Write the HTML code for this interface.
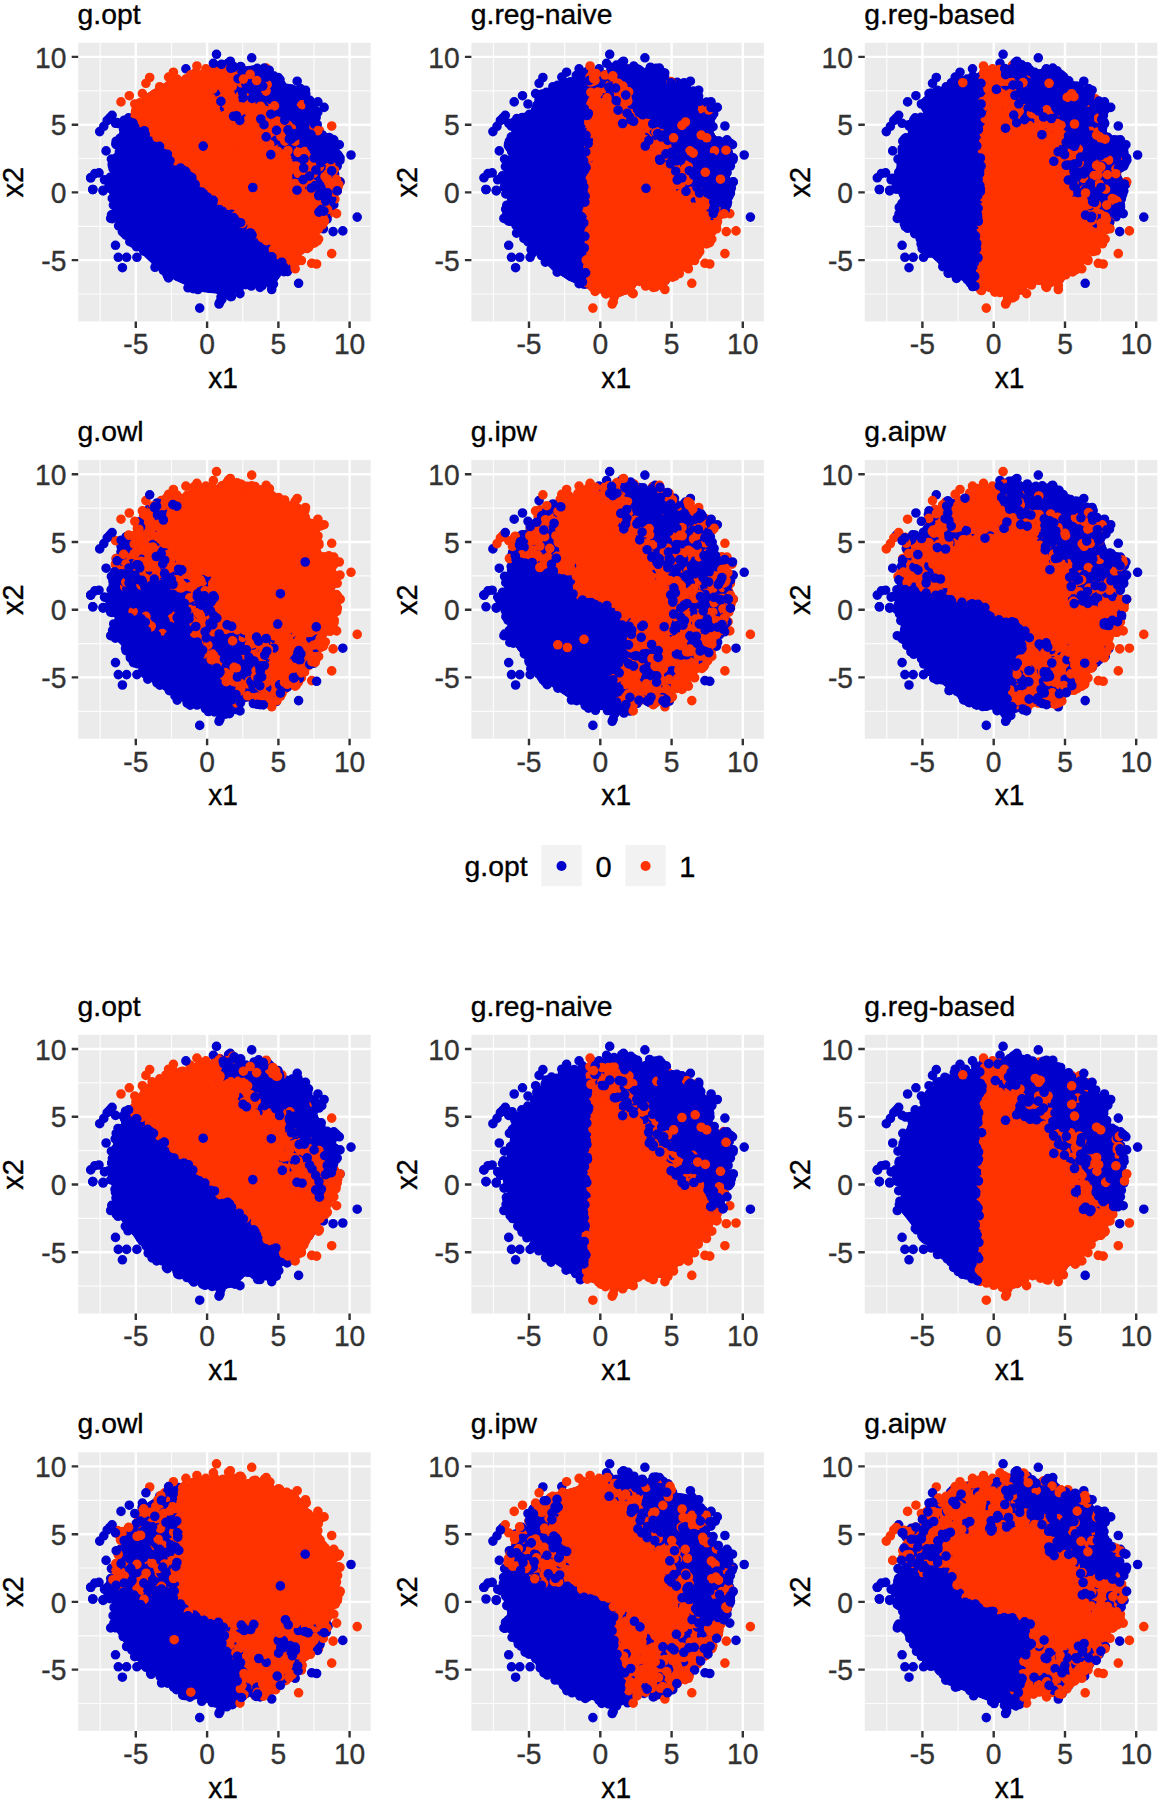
<!DOCTYPE html>
<html><head><meta charset="utf-8"><title>figure</title>
<style>
html,body{margin:0;padding:0;background:#fff}
svg{display:block}
text{font-family:"Liberation Sans",sans-serif}
.t{font-size:28.3px;fill:#000;stroke:#000;stroke-width:.35px}
.a{font-size:29px;fill:#000;stroke:#000;stroke-width:.35px}
.k{font-size:28.8px;fill:#333;stroke:#333;stroke-width:.35px}
</style></head><body>
<svg width="1160" height="1800" viewBox="0 0 1160 1800">
<defs>

<path id="mass" d="M106.9 180.1L109.7 189.7L114.3 200.4L114.5 200.9L114.7 201.4L114.8 201.9L114.8 202.4L114.8 203L114.7 203.5L112.4 217.6L119.8 226.7L119.9 226.8L129.5 239.2L129.6 239.3L137.6 250L148.2 260.6L158.9 269.9L174.7 280.5L189.3 287.1L203.7 292.4L215.4 293.7L216 293.8L216.5 293.9L217 294.1L217.4 294.3L217.9 294.6L218.3 294.9L218.7 295.2L222.3 298.8L222.6 298.6L223 298.4L223.5 298.2L236.2 293.1L243.7 285.6L244.1 285.2L244.5 284.9L245 284.6L245.5 284.4L246 284.2L246.5 284.1L247.1 284L247.6 284L248.1 284L248.7 284.1L261.5 286.7L274.9 284.4L281.8 275.1L282.2 274.7L282.6 274.3L283.1 273.9L283.6 273.6L296.9 266.3L300.4 257.2L300.6 256.7L300.8 256.3L301.1 255.8L301.4 255.4L301.8 255.1L302.2 254.7L312.3 247.1L317.2 238.6L321.2 230.6L325.3 221.1L325.6 220.5L325.9 220L329.6 215.1L333.3 205.2L336 191.9L336.1 191.4L336.8 189L337 188.5L337.2 188L337.5 187.5L337.7 187.2L338 184.7L338.2 184.1L338.5 183.1L338.5 182.8L338.5 182.4L338.3 182.1L338.1 181.6L338.1 181.5L338 181.5L337.7 181L337.4 180.6L335.3 177.1L335 176.6L334.8 176.1L334.6 175.6L334.5 175L334.5 174.5L334.5 173.9L334.6 173.3L334.7 172.8L334.9 172.3L337.5 165.7L339 159.8L336.5 154.7L336.2 154.2L336.1 153.7L336 153.2L335.9 152.6L335.9 152.1L335.9 151.6L336 151L336.2 150.5L337.8 145.5L334 141.6L323.7 136.5L323.3 136.2L322.9 135.9L322.5 135.6L322.1 135.2L321.8 134.8L321.5 134.4L321.3 134L321.1 133.5L316.9 122.4L316.8 122L316.6 121.4L316.6 120.9L316.6 120.4L316.6 119.9L316.7 119.4L316.8 118.9L317 118.4L317.2 117.9L317.5 117.5L321.2 111.8L319.1 107.6L310.6 101.5L310.2 101.2L309.8 100.8L309.4 100.4L309.1 99.9L305.3 93.6L299.5 87.8L292.8 84.5L284 83.2L283.5 83.1L283 83L282.6 82.8L282.1 82.5L281.7 82.3L281.3 81.9L268.2 70.9L260.8 68.2L247 70.1L246.4 70.2L245.9 70.1L245.3 70.1L244.8 70L244.3 69.8L243.8 69.6L243.3 69.3L234.6 63.9L232 64.9L231.5 65.1L231 65.2L230.5 65.3L230 65.3L221.6 65.3L210.4 71L209.9 71.2L209.4 71.3L208.9 71.4L208.4 71.5L207.9 71.5L207.4 71.5L195.3 70.3L183 77.1L182.4 77.3L181.8 77.5L167.3 81.5L155.6 88L145.6 94.3L139.8 102.4L135.9 114L135.7 114.5L135.4 115L135.1 115.5L134.8 115.9L134.4 116.3L133.9 116.7L133.5 117L133 117.2L132.5 117.5L131.9 117.6L119.2 120.5L117.6 123.4L120.4 129.1L120.7 129.6L120.8 130.1L121 130.7L121 131.3L121 131.8L121 132.4L120.8 132.9L120.7 133.5L116.8 143.9L114.8 159.8L114.7 160.3L114.6 160.7L114.4 161.2Z"/>
<clipPath id="mc"><use href="#mass"/></clipPath>
<g id="fr"><rect x="78.2" y="42.8" width="292.5" height="278.6" fill="#EBEBEB"/><path d="M100.2 42.8V321.4M78.2 294H370.7M171.5 42.8V321.4M78.2 226.3H370.7M242.7 42.8V321.4M78.2 158.5H370.7M314 42.8V321.4M78.2 90.8H370.7" stroke="#fff" stroke-width="1.2" stroke-opacity=".85" fill="none"/><path d="M135.8 42.8V321.4M78.2 260.1H370.7M207.1 42.8V321.4M78.2 192.4H370.7M278.4 42.8V321.4M78.2 124.7H370.7M349.6 42.8V321.4M78.2 56.9H370.7" stroke="#fff" stroke-width="2.4" fill="none"/><path d="M135.8 321.4v6.5M78.2 260.1h-6.5M207.1 321.4v6.5M78.2 192.4h-6.5M278.4 321.4v6.5M78.2 124.7h-6.5M349.6 321.4v6.5M78.2 56.9h-6.5" stroke="#333" stroke-width="2.4" fill="none"/></g>
</defs>
<rect width="1160" height="1800" fill="#fff"/>
<g transform="translate(0 0)">
<use href="#fr"/>
<text class="k" transform="translate(135.8 354.2) scale(0.98 1.04)" text-anchor="middle">-5</text><text class="k" transform="translate(66.4 270.8) scale(0.98 1.04)" text-anchor="end">-5</text><text class="k" transform="translate(207.1 354.2) scale(0.98 1.04)" text-anchor="middle">0</text><text class="k" transform="translate(66.4 203.1) scale(0.98 1.04)" text-anchor="end">0</text><text class="k" transform="translate(278.4 354.2) scale(0.98 1.04)" text-anchor="middle">5</text><text class="k" transform="translate(66.4 135.3) scale(0.98 1.04)" text-anchor="end">5</text><text class="k" transform="translate(349.6 354.2) scale(0.98 1.04)" text-anchor="middle">10</text><text class="k" transform="translate(66.4 67.6) scale(0.98 1.04)" text-anchor="end">10</text><text class="a" transform="translate(223 388) scale(0.97 1.04)" text-anchor="middle">x1</text><text class="a" transform="translate(23.3 182.3) rotate(-90) scale(1.0 1.03)" text-anchor="middle">x2</text>
<text class="t" transform="translate(77.6 23.7) scale(1.0 1.0)">g.opt</text>
<g fill="none" stroke-width="9.6" stroke-linecap="round">
<g clip-path="url(#mc)">
<use href="#mass" fill="#0000CD"/>
<path d="M214 30L400 30L400 240L345 228L342 210L338 195L331 191.7L324.1 177.9L318.6 164.1L307.6 150.3L296.6 136.6L282.8 129.7L271.7 111.7L252.4 102.1L245.5 85.5L227.6 67.6L222 45Z" fill="#0000CD"/>
<path d="M214 30L222 45L227.6 67.6L245.5 85.5L252.4 102.1L271.7 111.7L282.8 129.7L296.6 136.6L307.6 150.3L318.6 164.1L324.1 177.9L331 191.7L338 195L342 210L345 228L335 232L331 220L326 203L318 188L303.4 177.9L296.6 164.1L271.7 157.2L262.1 136.6L241.4 122.8L227.6 102.1L220.7 74.5L210 45Z" fill="#FF3300"/>
<path d="M90 79L330 307L350 310L400 300L400 240L345 228L335 232L331 220L326 203L318 188L303.4 177.9L296.6 164.1L271.7 157.2L262.1 136.6L241.4 122.8L227.6 102.1L220.7 74.5L210 45L214 30L150 30L90 60Z" fill="#FF3300"/>
<path d="M210 45L220.7 74.5L227.6 102.1L241.4 122.8L262.1 136.6L271.7 157.2L296.6 164.1L303.4 177.9L318 188L326 203L331 220L335 232L325 245L316 222L306 200L290 185L270 172L252 150L232 135L216 110L208 80L200 50Z" fill="#FF3300"/>
<path d="M310.8 168.2L332.8 162.7L346.6 198.5L339.7 234.4L324.6 237.1L316.3 209.6L310.8 187.5Z" fill="#FF3300"/>
</g>
<path d="M329.7 143.3h0M113.8 197.5h0M252.1 236h0M282.6 262.1h0M216.5 54.3h0M107.2 120.5h0M285 178.6h0M236.8 118.1h0M327.7 159.3h0M156.6 143.7h0M163.3 270.3h0M320.1 177.2h0M307.6 173.7h0M141.7 132.5h0M106.1 150.9h0M273.2 95.2h0M148.8 139h0M267 159.9h0M104.5 179.8h0M273.6 114.3h0M245.5 83.2h0M342.8 230.9h0M328.5 161.2h0M116.7 144.8h0M282.1 127.5h0M146.2 134.5h0M276.1 112.8h0M271.6 254h0M351 155h0M357.2 217.1h0M273.5 108.4h0M272.3 111.3h0M233.9 218.9h0M255.1 100.3h0M295.4 140h0M302.9 142.8h0M317.2 197h0M263 126.2h0M184.5 173h0M326.9 202.1h0M253.1 237.9h0M287.8 103.6h0M195.7 287.9h0M245.3 99.2h0M131.6 234.6h0M154.9 145h0M257.7 91.5h0M262.6 90.9h0M274.6 255h0M316.2 112.3h0M254.9 98.3h0M121.8 142.3h0M277 123.9h0M239.8 72.1h0M285.9 267.4h0M266.2 249.8h0M255.6 101.8h0M308.1 182h0M265.2 247.1h0M330.5 157.7h0M249.2 104.4h0M305.8 94h0M292 132h0M337.2 166h0M317.5 164.5h0M255.1 129.1h0M332.6 147.7h0M122.4 267.7h0M226.6 119.1h0M236.8 117.7h0M306 142.2h0M282.2 178.2h0M322.1 137.7h0M279.3 82.6h0M326.9 159.6h0M283.7 87.8h0M117 162.4h0M327.2 191h0M265.7 248.5h0M278.3 121.2h0M276.2 111.7h0M271.7 289.5h0M233 78h0M258.5 104.7h0M276.7 117.6h0M316.1 189.4h0M177.5 166.5h0M138.3 126.2h0M287.1 128.6h0M333.1 231.6h0M234.6 73.2h0M266 252.5h0M288 129.1h0M278.8 117.5h0M329.9 191.7h0M240.7 84.2h0M333.8 204.7h0M158.3 150.5h0M219.3 90.7h0M227.2 64.1h0M328.5 199.2h0M112.3 198.4h0M319.6 167.2h0M251.7 237.1h0M338.9 181.5h0M266.6 71.1h0M112.4 166.1h0M299 142.7h0M240.4 80.6h0M149.9 138.5h0M300.3 138.3h0M231.9 71.4h0M260 287.4h0M252.1 239.9h0M281.6 261.1h0M155.3 142.8h0M310.4 182.7h0M287.3 94.9h0M300.2 183.3h0M240 293.6h0M240.4 116.6h0M136.5 246.8h0M119.6 204.4h0M323.2 159.4h0M177.2 162.4h0M240.7 66.6h0M300.2 140.1h0M177.9 165.9h0M113 168.5h0M257.8 239.1h0M277.8 120h0M280.7 264.6h0M305 144.2h0M328.3 148.8h0M238.7 90.6h0M267.2 139.1h0M291.5 133.9h0M110.5 188.7h0M318 212.2h0M103.1 190.2h0M299.2 165.8h0M262.2 285.5h0M216.4 90.6h0M296.3 96.4h0M153.5 139.4h0M251.7 57.8h0M286.1 179.2h0M313.9 173.5h0M280.9 106h0M320.6 185.3h0M308.2 102.9h0M280 113.4h0M255.3 130.3h0M283.6 141.5h0M243.2 228.7h0M280.4 119.8h0M298.6 283.3h0M293.9 179.4h0M94.8 173.6h0M138.4 127.3h0M279.1 122.1h0M118.9 198.2h0M265 105.7h0M332 194.4h0" stroke="#0000CD"/>
<path d="M143.8 128.4h0M185.4 164.8h0M295.4 165.2h0M145.9 83.3h0M168.6 77.1h0M232.4 75.3h0M260.7 110.7h0M324.4 198.3h0M267.4 169.5h0M309.5 209.3h0M273.3 252.2h0M296.6 167.6h0M307.8 161.9h0M278 164.5h0M129.3 95.7h0M324.8 204.5h0M314 161.6h0M267.6 142.4h0M260 235.1h0M271.3 163.3h0M285.9 163.3h0M271.7 244.2h0M216.9 111h0M190.7 168.6h0M302.7 170.4h0M280.6 121.7h0M223.9 73.7h0M208.7 81.2h0M223.2 104.8h0M250.6 122.3h0M193.8 171.9h0M332.6 181.8h0M243.1 139.9h0M233.2 80.5h0M229.5 126.2h0M299.3 101.5h0M231.6 102.6h0M242.3 223.2h0M149.7 77.5h0M224.7 92.2h0M287 168h0M308.1 193.9h0M283.1 258.2h0M211 186.8h0M210.9 90.2h0M188.4 166.4h0M227.1 135.4h0M301.8 169.5h0M279 128.4h0M227.7 72.8h0M260.9 108.7h0M309.2 183.2h0M227.3 127.7h0M267.3 174.3h0M223.2 90.1h0M259.6 141.8h0M261.5 155.8h0M233.2 116.7h0M334.9 199.2h0M214.3 190.3h0M134.8 104h0M307.1 169.4h0M216.8 75.7h0M315.8 172h0M272.8 174h0M266.7 146.3h0M135.7 110.8h0M252.1 153.5h0M237.7 114.5h0M298.8 190.4h0M264.7 148.1h0M314.6 242.9h0M186.9 170.5h0M234.3 210.5h0M281.6 162.7h0M289.7 162.7h0M328.1 192.7h0M312.8 239.6h0M248.3 121.5h0M235.8 109.5h0M226.6 109.7h0M223.8 80.3h0M142.4 93.6h0M247 143.6h0M211.4 191.2h0M297.7 170h0M250.9 231.7h0M137.9 122.1h0M208.4 87.3h0M182.4 81.5h0M251.2 107.7h0M275.6 153.3h0M232.7 134.1h0M331.7 126h0M306.3 155.3h0M234.9 142.4h0M206.8 84h0M159.7 86.7h0M275.2 156.6h0M221.5 82.3h0M257.4 133.5h0M186.8 167.6h0M155.3 134.8h0M313.9 228.3h0M234.7 106.3h0M332.2 211.9h0M186.2 167.9h0M334.4 170h0M213.8 192.2h0M237.9 212.3h0M303 201.7h0M243.6 98.5h0M244.9 147.7h0M266.2 68.1h0M223.5 112.6h0M255.7 231h0M304.1 209h0M274.4 148.1h0M279.7 180.1h0M297.7 197.9h0M265.4 116.1h0M315.6 215.7h0M210.1 106.3h0M231.2 108.7h0M301.9 175.5h0M312.6 197.7h0M306.5 201.2h0M292.2 160.4h0M315.1 204.9h0M315.9 172.2h0M287.8 161.3h0M314.3 209.1h0M226.4 71.1h0M275.1 161.5h0M285.6 261.6h0M173.4 72.2h0M304.9 202h0M325.4 178.7h0M217.9 196.9h0M221.3 119.9h0M174.5 152.1h0M231.3 101.4h0M287.8 132.3h0M236.8 114.8h0M171.6 82.8h0M313.4 172.8h0M279.9 125.3h0M228 205h0M287.3 159.5h0M262.1 144h0M199.7 176.3h0M287.2 182.8h0M283.9 156.9h0M251.3 226.5h0M212 102.7h0M286.2 179.4h0M314.4 216.3h0M197.9 74.8h0M318.6 198.1h0M328 214.5h0M231.6 104.5h0M286.5 185.5h0M209.4 93.1h0M279.8 258.5h0M263.1 165h0M270.1 154.8h0M181.1 164.1h0M242.6 123.7h0M325.7 188.2h0M205.4 87.1h0M303.5 152.5h0M296.6 261.6h0M276.9 173.7h0M280.9 178h0M218.2 85.6h0M308.3 245.9h0M281.2 129h0M175.6 158.9h0M230.6 72.4h0M291.5 128.5h0M234.7 117.1h0M229.2 99.2h0M147.5 128.5h0M222.5 122.7h0M319.4 226.7h0M270.5 246.4h0M273.8 157.1h0M207.5 187.7h0M233.1 118.8h0M203.4 82.2h0M270.3 171.6h0M244 143.2h0M269.6 166.4h0M275.2 181.2h0M309 158.6h0M275.3 120.7h0" stroke="#FF3300"/>
<path d="M272.5 146.1h0M293.2 138.3h0M317.8 214.4h0M268.4 108.6h0M213.4 88.8h0M292.7 194.2h0M260.9 126.5h0M297.2 145.5h0M193.5 170.7h0M225 103.2h0M293.8 183.2h0M250.4 120.4h0M276.2 127.8h0M272.4 174.3h0M215.8 96.1h0M336.6 213.6h0M329.7 186.7h0M210.9 85.6h0M267.9 243.5h0M227.7 135.7h0M307 215.4h0M287.6 165.6h0M258.7 236.4h0M229.6 74.9h0M232.7 135.1h0M266.9 165.9h0M291.2 187.8h0M213.8 88h0M265.6 150.8h0M245.1 142.3h0M242.1 115h0M212.2 187.6h0M262.8 137.3h0M277.8 159.3h0M331.5 189.5h0M314.2 218.4h0M220.5 114.3h0M311.4 199.5h0M323.9 183.9h0M279.8 179.3h0M306.4 198.2h0M195.2 72.9h0M260.5 129.9h0M146.8 127h0M275.5 148.5h0M250.5 230.8h0M304.9 168.7h0M289.7 161.6h0M231.4 74.7h0M189.5 78h0M230 102.1h0M310.8 150.8h0M314.9 230.7h0M290 159.7h0M212.3 191.8h0M314 181.2h0M312.9 241.8h0M315.8 179.9h0M304.4 194h0M312.3 197.7h0M309.7 198.7h0M276.3 123.1h0M255.2 147.3h0M296.3 193.7h0M241.3 147.5h0M311 220.8h0M265.3 107.1h0M277.1 249.8h0M249.6 143h0M221.6 77.1h0M326.5 175.9h0M329.4 168.2h0M224.9 124.2h0M322.9 184.9h0M230.2 114.1h0M238 217.4h0M264.4 173.1h0M291.7 131.5h0M307 248.5h0M303.1 198.5h0M315.4 218.8h0M230.9 70.8h0M305.9 151.1h0M310.8 214.9h0M236.7 143.5h0M220.4 91.6h0M278.1 126.4h0M286.1 179.1h0M168.3 85.8h0M215.3 78.3h0M294.7 190.7h0M263.1 160.2h0M340 181.9h0M266 91.1h0M136 110.7h0M314.2 167.7h0M222.7 71.6h0M243.6 117h0M222.5 197.9h0M308.4 243.2h0M307.8 156.5h0M230 210h0M265.9 170h0M248.4 229.3h0M310.3 191.3h0M247.5 93.6h0M233.8 113.1h0M256.3 117.4h0M300.2 172.6h0M155 93.8h0M327.3 192.6h0M249.8 229.8h0M296.1 188.8h0M259.6 110.9h0M271.1 249.7h0M149.8 130.6h0M222.4 107.8h0M229.8 99.6h0M288.1 125.4h0M315 199.6h0M289.1 129.9h0M312.4 175.2h0M253.3 136h0M281.3 161.8h0M267.8 241.4h0M236.9 141.6h0M303.8 198.8h0M277.2 151.4h0M175.1 78.9h0M285.3 152.4h0M267.4 152h0M274.8 161.5h0M219.4 121.2h0M236.3 78.7h0M154.7 138.5h0M233.5 79h0M312.3 212.9h0M146.2 126.6h0M264.5 157.2h0M216.5 196.6h0M233.4 130.5h0M307.9 167h0M314.6 161.9h0M282.8 174.4h0M210.8 91.3h0M176.8 154.6h0M326.6 205.1h0M267.2 84.6h0M262 160h0M202.1 74.3h0M319.4 130.5h0M223.9 99.6h0M261.2 144.9h0M266 147.5h0M302.6 164.1h0M287.4 168.8h0M307.5 168.4h0M310 194.4h0M262.8 145.8h0M186.3 164.5h0M279.9 131h0M296.5 195.6h0M192.8 176.1h0M276 156.2h0M227.3 205.6h0M315.1 217.1h0M242.1 145.5h0M266.5 173.9h0M265.8 146h0M308.5 165.8h0M331.7 253.6h0M241.5 148h0M247 149.4h0M230.4 68.5h0M314 127h0M263.8 172.9h0M324 221.2h0M142.3 123.9h0M214.9 112.8h0M314.2 207.2h0M301.5 172.6h0M252.7 145.4h0M294.4 165h0M260.6 240.9h0M276.3 169.8h0M214.9 67.5h0M284.4 186.7h0M281.6 156.5h0M251.6 105.1h0M223 88.5h0M294.9 159.5h0M309.6 156.2h0M260.9 109.2h0M145.3 126.3h0M297.9 260h0M177 82.4h0M216.8 76.9h0M312.1 208.7h0M313.9 222h0M297.3 190.5h0M260.1 108h0M294.5 161.4h0M228.7 69.3h0M204.3 86.4h0M294.2 196h0M152.2 133h0M265 140.4h0M222 79.4h0" stroke="#FF3300"/>
<path d="M292.3 103.2h0M171.4 163.9h0M220 301.9h0M237.2 222.8h0M276.8 113.6h0M282.1 126.2h0M185.9 68.8h0M316.6 156.8h0M296.9 176.6h0M326.5 189.5h0M143.7 251h0M233.3 66.2h0M241.2 92.5h0M115.5 123.3h0M283.8 267.1h0M239.3 287.8h0M206.3 195.7h0M255.3 102.6h0M323.5 167.4h0M284.4 91.6h0M228.6 62.6h0M120.1 139.9h0M289.8 102.8h0M322.4 135h0M322.9 185.2h0M324.7 212.2h0M320.7 160.3h0M123.4 134.7h0M230.3 61.2h0M305.5 90.2h0M325.7 213h0M329.2 137.6h0M274.6 113.2h0M248.2 91.8h0M116.4 217.2h0M279.3 118.8h0M271.4 252.2h0M239.7 284.2h0M331.7 198.9h0M250.2 94.8h0M304.1 90.7h0M245.9 79.4h0M241.5 227.3h0M190.4 283.7h0M249.9 233h0M300.5 88.6h0M297.5 180h0M334.6 174.2h0M337.6 154.5h0M227.7 214.6h0M297.2 91.4h0M323.4 207.3h0M247.8 70.7h0M273.5 284.1h0M236.1 83.8h0M278 127.5h0M214.1 200.6h0M324.1 107.4h0M307.6 144.9h0M154.4 141h0M160.9 151.2h0M128.6 117.8h0M318.9 153.6h0M122.3 231.5h0M253.5 97h0M264.3 68.1h0M193 177.2h0M256.3 100.8h0M298.5 139.5h0M116.8 157.3h0M323.8 203h0M116.9 167.8h0M317 141h0M235 72h0M249.7 282.3h0M340 181.9h0M239.9 224.6h0M312.1 139.6h0M269.2 70.2h0M314.6 193h0M139.9 131h0M112.1 115.3h0M320.4 148.9h0M315.1 123.8h0M190.8 287.5h0M275.9 140.3h0M285.7 126.3h0M330.4 148.9h0M109.1 185.3h0M339.9 160.4h0M296.9 161.9h0M335.2 151.7h0M257.2 68.4h0M99.7 131.6h0M273.5 75.7h0M208.5 196.9h0M287.4 181.6h0M271.3 115.4h0M240.8 284.4h0M155 267.3h0M177.1 166.5h0M258.8 136h0M263.5 248.5h0M315.1 190.9h0M301.8 170.2h0M247.6 121h0M300.5 143.8h0M319.8 209.7h0M202.4 191.5h0M114.7 170.5h0M301.1 158.9h0M235 72.6h0M317.7 158.8h0M231.1 78.9h0M330.4 138.3h0M315 195.4h0M259.6 105.3h0M276 261.6h0M194.2 181.3h0M123.5 129.3h0M215.6 87.7h0M286.4 145.1h0M215.8 94.3h0M287.4 271.5h0M296.3 154.4h0M268 145.2h0M242.7 281.5h0M248.5 84.1h0M192.1 176.9h0M119.6 218.2h0M221 297.1h0M322.8 161.9h0M116.7 163.6h0M169.5 160.9h0M321.6 197.9h0M229.3 217h0M275 261.8h0M228.6 215.6h0M260.3 133.1h0M293.5 154.8h0M315.6 172.2h0M296.1 96.3h0M324.2 211.1h0M332.7 146.1h0M144.6 131.5h0M297.3 161.5h0M283.7 266.9h0M223.3 292.7h0M328.4 200h0M124.6 134.4h0M317.2 124.5h0M90.7 177.8h0" stroke="#0000CD"/>
<path d="M242.3 118.5h0M167.4 275.6h0M249.8 234.7h0M322.5 200.5h0M306.2 186h0M178.1 168.4h0M277.3 110.1h0M259.5 244.6h0M276.5 257.4h0M321 178.3h0M115.6 198.9h0M265.5 142.6h0M251 96.6h0M142.5 136h0M113.4 205.1h0M124.2 120.2h0M278.9 122.1h0M239.7 223.5h0M115.8 144.1h0M323.4 228.8h0M331.6 205.5h0M112.2 163.8h0M198 285h0M115.5 245.3h0M282.6 87.1h0M314.9 158.8h0M223.1 211.9h0M222.2 206.3h0M144.6 250.5h0M257.7 243.1h0M308.1 143.4h0M111.4 159.1h0M292.8 134.4h0M241.3 86.4h0M231.5 296.5h0M235.6 221.3h0M323.1 200.3h0M319.2 178.4h0M319.7 213.4h0M263.8 106.5h0M115.9 200.4h0M197.9 289.5h0M315.8 184.4h0M310.8 177.4h0M116.9 144.5h0M236.3 68.5h0M231.6 67.2h0M330.6 147.9h0M244.4 83.1h0M323.9 205.7h0M140.8 245.7h0M317.8 112.2h0M120.1 138.2h0M323.1 172.8h0M316.1 117.5h0M201.9 186.1h0M230.7 296.7h0M260.7 72.5h0M126.6 257.3h0M193.3 288.6h0M148.1 140.4h0M109.7 118h0M322.6 197.1h0M284.1 127.3h0M242.1 95.7h0M241.9 230.7h0M231.6 214.4h0M322.7 192.7h0M316.4 114.3h0M118.2 123.5h0M282.4 146.9h0M331.3 145.9h0M335.9 160.9h0M300.2 99.6h0M281 84.5h0M176.7 168.7h0M249.8 70.6h0M122.6 222.1h0M157.4 144.8h0M264.9 249.6h0M338.5 155.9h0M234.1 121h0M322.7 190.5h0M245.8 284.7h0M163.4 155.6h0M278.5 119.3h0M249.4 85.8h0M327.8 196.4h0M136.9 257.3h0M147.7 136.1h0M238.9 70.7h0M265.5 69.9h0M302.8 147.3h0M92.8 189.5h0M318.2 168.7h0M284 271.7h0M324.4 160.3h0M175.6 163.2h0M266.9 70.5h0M269.2 150.8h0M188 287.8h0M120.3 159.7h0M307.9 144.7h0M262.8 86.1h0M298.1 158.3h0M113.5 188.6h0M218.9 206.7h0M320.2 188.4h0M233.1 215.9h0M318.8 163.1h0M314.8 184.1h0M291.6 145.7h0M124.1 233.3h0M208 192.2h0M223.6 110h0M243 99.3h0M213.9 202.6h0M253.7 91.6h0M253.1 70.1h0M125.8 235.2h0M242.6 225.7h0M315.9 190.6h0M246.8 123.6h0M316.9 113.7h0M237.5 120.7h0M316.8 182.9h0M149.2 141.4h0M302.1 159.5h0M187.1 177.9h0M129.8 241.7h0M256.3 130.2h0M339.3 144.7h0M250.1 93.4h0M223.5 83.7h0M308 180.4h0M271.1 144.5h0M133.7 122.5h0M161.9 151.9h0M314.6 124.4h0M318.8 195.8h0M313.7 150.1h0M111.5 214.8h0M135.5 126.9h0M140.8 133.6h0M132.9 243.2h0M288.1 130.9h0M164.1 269.4h0M278.2 77.5h0M264.9 75.6h0M124.5 120.6h0M229.9 215.2h0M200.4 189.7h0M277.4 117.4h0M167.9 155.1h0M322.8 173.1h0M250.8 92h0M177.4 166h0M327.1 219h0M103.8 126.3h0M269.6 254.7h0M281.3 124.5h0M123.7 136.2h0M115.3 206.7h0M127.7 234.8h0M253.3 95.7h0M262.9 106.1h0M267.6 249.1h0M115.9 163.2h0" stroke="#0000CD"/>
<path d="M218.2 200.6h0M142.5 127.4h0M317.1 238.3h0M276 122.8h0M237.3 216.1h0M213.1 114h0M330.8 164.8h0M250.8 101.4h0M300.7 186.6h0M225.1 119.4h0M309.4 154.3h0M224.6 115.5h0M249.7 108.8h0M216.3 112.4h0M239.2 80.7h0M296.3 166.2h0M291.9 166.1h0M325 176.6h0M279.9 129.6h0M333.5 170.5h0M308.3 168.8h0M285.7 162h0M314.4 228.1h0M137.2 121.7h0M283.5 259.6h0M262.1 140.2h0M243.5 218.8h0M217.7 74.1h0M251.4 150.6h0M304.7 151.5h0M266.6 166.7h0M187.6 168.5h0M241.9 218.6h0M267.3 168.6h0M297.4 256.8h0M145.6 128.2h0M215.2 115.5h0M338.7 184.5h0M276.3 251h0M317.5 240.9h0M221.5 78.7h0M292.7 138.6h0M226.3 70.9h0M236.5 121.5h0M274.7 150.8h0M237.5 123.3h0M291 166.3h0M233.8 110.4h0M284.5 186.9h0M176.9 79h0M212.5 102.4h0M260.3 164.5h0M300.4 201.7h0M193.5 172.1h0M273.4 249.4h0M281.7 160.8h0M216.8 84.9h0M233.6 119.1h0M309.2 180.4h0M222.8 204.8h0M279.4 258.3h0M226.7 75h0M308.2 154.7h0M176.7 161h0M140.8 105.6h0M213.9 193h0M191.8 78.3h0M320.5 199.8h0M284.8 141.2h0M336.3 179.4h0M309.3 201.6h0M209.8 103.3h0M226.3 92.2h0M187.8 167.2h0M267.4 135.2h0M271.3 174.8h0M121 101.9h0M251.9 145h0M235.2 139.3h0M306.6 175.3h0M257.4 137.2h0M265.8 163.6h0M308.5 217.5h0M213.5 81.2h0M282.1 182.9h0M281 257.6h0M190.7 74.9h0M209.2 71.1h0M273.7 152.9h0M161.4 145.5h0M295.9 166h0M186.2 78.7h0M316 228h0M286.7 186.7h0M331.9 185.2h0M283.6 185.2h0M221.7 86.3h0M165.9 143.6h0M265 159.6h0M231.5 128.3h0M207.4 78.6h0M317.8 226.6h0M309.7 158.3h0M174 151.4h0M252.8 124.1h0M230.2 104h0M302.1 170.1h0M256.7 111.4h0M214.6 109.6h0M172.9 154.3h0M295.6 140.9h0M285.3 183.5h0M228.7 94.6h0M233.3 131h0M267.8 174.8h0M254 146.3h0M196.9 66h0M222.9 118.8h0M312.5 243.3h0M308.9 247h0M227.5 105.2h0M286.1 182.9h0M300.6 198.7h0M211.3 98.2h0M249.1 104.4h0M253.6 132.4h0M239.8 218.7h0M310.1 242.9h0M310.7 212.5h0M294 262.1h0M240.3 145.6h0M206.9 184.2h0M190.9 171.8h0M317.9 130.6h0M176.7 155.1h0M269.8 144.5h0M302.7 192.8h0M177.4 83.6h0M317.9 217.6h0M233 104.2h0M274.5 128.3h0M334.8 189.2h0M323.3 218.2h0M237.1 122.2h0M229.4 137.8h0M298.1 152.4h0M264.1 162h0M287.5 163.1h0M240.4 128.8h0M223.3 73.3h0M231.4 125.4h0M259.2 153.4h0M262.8 156.2h0M259.3 164.1h0M241.6 106.7h0M306.6 172.6h0M234.1 67.8h0M281 136.7h0M264.6 111.8h0M228.4 82.5h0M307.8 151.5h0M226.7 127.7h0M263.7 158.7h0M231.1 116.3h0M226.1 104h0M269.9 110.9h0M287.6 177.2h0M274.7 122.6h0M324.5 221h0M315.4 206h0M272.2 180h0M308.3 175.1h0M310 184.3h0M318.6 239.1h0M228 70.7h0M236 109.7h0M237.2 140.2h0M242.2 136.7h0M216.3 197.4h0M278.4 175.6h0M255.5 141h0M333.6 185.6h0M317.2 198.6h0M248.1 129.5h0M221.1 70.5h0M276.9 175.3h0M310.9 169.8h0M192.3 169.1h0M255.7 116.4h0M202.1 182.6h0M329.2 192.2h0" stroke="#FF3300"/>
<path d="M228.5 109.1h0M315.1 210.7h0M159.3 144.6h0M287.9 150.5h0M271.7 129.9h0M316.6 264h0M308 170.9h0M266.4 240.7h0M274.7 251h0M246.2 97.8h0M140.9 112.4h0M210.6 103.6h0M307.7 207.9h0M222.7 80.8h0M217 196.6h0M311.5 200.2h0M301.7 198.7h0M197.5 174.1h0M295.1 183.5h0M281.5 160.5h0M184.5 162.5h0M278 151.4h0M314.9 168.1h0M320.9 197.5h0M208.7 83.6h0M253 135.6h0M266.7 169h0M228.1 69.9h0M318.4 229.2h0M324.7 184.7h0M313.9 230.3h0M256.3 155.6h0M310.3 156.8h0M327.6 209.7h0M308.6 164.8h0M308.1 163.6h0M244.5 137.7h0M234 135.1h0M205.9 68.8h0M257.8 144.9h0M219 119.4h0M267.2 240.2h0M285.1 124.9h0M223 129.3h0M219.4 66.1h0M315.3 215.4h0M210.5 99h0M231.2 131.2h0M271.3 168.4h0M314.7 200.5h0M301.4 260.5h0M329.1 191.2h0M306.8 200.7h0M265.5 152.7h0M160.9 141.3h0M309.4 194.7h0M232.4 86.3h0M334.5 192.1h0M265.9 169.1h0M251 131.8h0M257 162.5h0M239.9 111.5h0M310.3 242.3h0M154.9 94.2h0M305.9 209.6h0M250.5 137.5h0M284.5 172.6h0M294.1 194.2h0M295.2 268.8h0M276.2 250.8h0M310.6 190.6h0M212.7 79h0M243.8 127.3h0M274.5 105.9h0M212.9 89h0M262 237.6h0M151.3 130h0M292 184.6h0M286.7 157.9h0M268.4 115.5h0M222.5 98.3h0M294.9 141.2h0M243.3 127h0M191.8 174.2h0M215.2 109.5h0M207.7 92h0M157.1 137.5h0M277.5 121.1h0M276.3 155.9h0M242 140.6h0M302.2 104.7h0M259.6 161.4h0M278.2 157.3h0M335.9 186.4h0M330.2 168.2h0M263.3 171.7h0M263.7 146.2h0M248.4 119.3h0M281 154.1h0M228.9 102.5h0M219 100.6h0M322.3 224.9h0M332.1 169.2h0M325 204.4h0M240.6 221.7h0M135.4 113.5h0M274.2 171h0M259.6 138.5h0M306.2 195.2h0M278.5 251.6h0M298.2 173.3h0M145.2 130.2h0M259.5 159.3h0M242.2 223.4h0M313.9 186.4h0M311.6 206.3h0M231.8 110.8h0M247.9 121.5h0M145.3 101.5h0M164.2 146.2h0M248.5 148.2h0M139.8 102.8h0M152 132h0M235.3 104.5h0M313.5 168.9h0M273.9 150.8h0M269.2 129h0M311.7 263.3h0M221.5 203.5h0M280.6 134.3h0M201 181.4h0M207.8 86.4h0M211.8 74.3h0M306.3 151.8h0M309.8 164.4h0M337.2 190.9h0M264.1 132.7h0M229.9 111.8h0M242.4 219.9h0M212.2 190.8h0M273.5 176.3h0M310.2 183.5h0M319.4 166.9h0M322.1 219.5h0M268.6 111h0M135.2 116.9h0M289.3 190.2h0M240 95.9h0M259.4 130.1h0M313.4 173.3h0M212.7 189.2h0M263.8 109.7h0M148.6 128.8h0M209.1 186.2h0M327.9 173.7h0M230.8 116.5h0M265.6 136.1h0M338 187.1h0M238.1 140.9h0M253.8 107.9h0M233.5 75.4h0M286 159.8h0M317.7 217.2h0M313.2 184.4h0M217.4 72h0M229.8 131.3h0M323.1 223.2h0M267.2 149.5h0M241.3 82.9h0M327.6 160.9h0M230.7 129.3h0M227 205.2h0M314.8 162.1h0M223.5 73.3h0M195 173h0M234.9 138.3h0M244.8 219.9h0M219.3 77.2h0M174 154.7h0M229.7 93h0M183.7 161.2h0M259.9 167.2h0M181.4 161.2h0M256.9 163.8h0M236 78.3h0M235.6 215.8h0M268.7 113.6h0M136.3 118.2h0M267 153.8h0M257.6 128.2h0M303.3 207h0M260.6 106.2h0M264.7 170.8h0M312.4 167.1h0M250.6 147.8h0M310.5 155h0M208.7 90h0M232.7 135.4h0M220.9 68.9h0M271.6 152.1h0M263.9 168.8h0M258.3 232h0M302.1 203.1h0" stroke="#FF3300"/>
<path d="M333.5 143.9h0M271.9 256.8h0M326.4 141.6h0M280.6 266.3h0M314.3 150.9h0M183.5 170.4h0M116.8 169.1h0M243 97.6h0M251.3 286h0M222.6 211.4h0M246 84.3h0M213.4 63.3h0M311.3 188h0M207.7 197.4h0M281.9 112.6h0M318.9 156.6h0M124.3 133.2h0M300.5 135.1h0M323.6 151.8h0M303.7 168h0M294.7 136.4h0M331.7 170.9h0M169.9 160.7h0M156.2 263.9h0M189.2 176h0M288 129.9h0M270.8 114.2h0M279 263.7h0M276.5 130.4h0M284.7 120.2h0M117.1 122.6h0M180.9 169.4h0M207.3 197.1h0M112.3 218.7h0M291 133.9h0M238.9 287.1h0M327.7 192.9h0M272 259h0M199.7 308.1h0M289.3 139h0M185.7 171.4h0M310.3 101.4h0M240.7 66.7h0M337.2 190.9h0M315.1 185.6h0M251.6 236.1h0M126.1 123.3h0M325.9 141h0M117.9 195.9h0M318.7 195.8h0M219.5 209.6h0M118.3 257.3h0M303.2 179.6h0M311.8 146.8h0M163.8 153.6h0M236.7 115.8h0M213.3 200.3h0M323.9 211.1h0M113.4 191.5h0M270.6 283.9h0M110.7 218.4h0M159.6 146.3h0M251 233.3h0M240.6 222.7h0M333.8 139.8h0M309.9 107.5h0M145.2 134.4h0M321.2 209.6h0M310.9 134.3h0M221.5 64.4h0M309.9 100.4h0M252.1 235.1h0M196.4 288.6h0M124.5 135.3h0M321 188h0M253.1 91.4h0M280 79.7h0M212.8 203.2h0M282.2 265.7h0M133.1 123.1h0M92.8 189.5h0M119.4 151.8h0M233.6 67.4h0M239.8 120.4h0M325.7 201.1h0M304 141.3h0M264 124.7h0M315.9 170h0M137.4 131.1h0M166.8 273.7h0M238.1 78.7h0M310.8 103.3h0M297.2 81.2h0M90.7 177.8h0M230.8 68.3h0M252.1 98.4h0M158.7 264.2h0M99 172.9h0M249.7 72.6h0M110.1 177.3h0M168.5 277.9h0M242.5 92.3h0M318.9 212.1h0M222 299.1h0M248.3 80.6h0M164.8 156.5h0M134.7 127h0M266.2 136.9h0M314.1 158h0M191.8 177.5h0M323.8 193.1h0M323.5 159.7h0M225.2 294.4h0M308.5 101.3h0M114.4 190.1h0M219 304h0M260.8 119h0M320.7 162.7h0M281.8 262.2h0M189.8 179.8h0M257.8 87h0M180.5 168h0M304.1 158.9h0M159.2 152.3h0M265.9 77.3h0M309.5 176.1h0M310.8 102.2h0M340 157.8h0M318.9 158.1h0M220.9 101.4h0M291.2 139.2h0M129.4 121.9h0M252.4 75.9h0M281 84h0M233.4 217.5h0M118.3 210.6h0M233.5 116.3h0M195.2 184.4h0M118.6 225.8h0M103.1 190.9h0M279.5 85.1h0M144.3 130.7h0M113.6 160.4h0M160.1 150.4h0M116.2 141.2h0M326.8 154.7h0M155.5 146.6h0M270.8 154.6h0M281.3 264.1h0M296.1 133.6h0M167.4 154.2h0M327.5 198.8h0M317.9 101.9h0M319.9 185.5h0M330.9 159.7h0M234.8 219.3h0" stroke="#0000CD"/>
<path d="M250.1 74.4h0" stroke="#FF3300"/>
<path d="M252.8 187.5h0" stroke="#0000CD"/>
<path d="M297 190.2h0" stroke="#0000CD"/>
<path d="M203.2 146.1h0" stroke="#0000CD"/>
<path d="M256.6 80.5h0" stroke="#FF3300"/>
<path d="M243.4 79.1h0" stroke="#FF3300"/>
</g></g>
<g transform="translate(393.2 0)">
<use href="#fr"/>
<text class="k" transform="translate(135.8 354.2) scale(0.98 1.04)" text-anchor="middle">-5</text><text class="k" transform="translate(66.4 270.8) scale(0.98 1.04)" text-anchor="end">-5</text><text class="k" transform="translate(207.1 354.2) scale(0.98 1.04)" text-anchor="middle">0</text><text class="k" transform="translate(66.4 203.1) scale(0.98 1.04)" text-anchor="end">0</text><text class="k" transform="translate(278.4 354.2) scale(0.98 1.04)" text-anchor="middle">5</text><text class="k" transform="translate(66.4 135.3) scale(0.98 1.04)" text-anchor="end">5</text><text class="k" transform="translate(349.6 354.2) scale(0.98 1.04)" text-anchor="middle">10</text><text class="k" transform="translate(66.4 67.6) scale(0.98 1.04)" text-anchor="end">10</text><text class="a" transform="translate(223 388) scale(0.97 1.04)" text-anchor="middle">x1</text><text class="a" transform="translate(23.3 182.3) rotate(-90) scale(1.0 1.03)" text-anchor="middle">x2</text>
<text class="t" transform="translate(77.6 23.7) scale(1.0 1.0)">g.reg-naive</text>
<g fill="none" stroke-width="9.6" stroke-linecap="round">
<g clip-path="url(#mc)">
<use href="#mass" fill="#0000CD"/>
<path d="M196.3 49.6L195.4 143.3L193.5 198.5L192.1 319.9L371.4 319.9L371.4 49.6Z" fill="#FF3300"/>
<path d="M197.7 49.6L197.7 71.6L222.5 74.4L236.3 93.7L247.3 107.5L263.9 124L269.4 140.6L280.4 154.4L291.4 165.4L299.7 184.7L313.5 198.5L330.1 209.6L346.6 217.8L371.4 217.8L371.4 49.6Z" fill="#0000CD"/>
<path d="M197.7 71.6L222.5 74.4L236.3 93.7L247.3 107.5L263.9 124L269.4 140.6L280.4 154.4L291.4 165.4L299.7 184.7L313.5 198.5L330.1 209.6L346.6 217.8L332.8 226.1L310.8 215.1L291.4 198.5L277.7 179.2L266.6 165.4L255.6 151.6L244.6 135.1L230.8 118.5L217 102L197.7 93.7Z" fill="#FF3300"/>
</g>
<path d="M304.3 182.4h0M244.6 110.7h0M307.1 187.3h0M129.3 95.7h0M193.6 139h0M253.9 113h0M111.8 186.9h0M330.1 192.3h0M339.3 144.7h0M245.3 69.5h0M134.9 241.9h0M194.2 162.5h0M123.1 128.5h0M357.2 217.1h0M228.6 114.2h0M273.7 141.9h0M193.7 153.9h0M124.6 127.4h0M277.9 84.7h0M293 105.6h0M189.4 165.2h0M190.8 274h0M120.5 122.3h0M192 181.8h0M203.7 75.1h0M248.2 114.8h0M205.9 68.8h0M194.7 154.7h0M286.2 159h0M189 282.1h0M190.3 227.9h0M189.4 237.5h0M194.2 78.4h0M254 140.8h0M113.2 219.4h0M240.5 66.1h0M316.5 116.1h0M192.2 124.2h0M293.1 168.6h0M279.7 84.8h0M191.1 73h0M106.1 150.9h0M162 266.5h0M115.4 221h0M260.1 71.8h0M279.9 140.9h0M173.4 72.2h0M295.5 144.4h0M308.5 185.6h0M256.1 111.5h0M293.3 88.1h0M224.8 73.2h0M193.9 71.6h0M292.9 86.9h0M246.5 100.6h0M276.6 175.6h0M192 224.6h0M235.7 90.1h0M118.4 200.5h0M121 101.9h0M115.5 245.3h0M259 119.6h0M186.1 80.8h0M337.2 190.9h0M236.8 98.8h0M286.2 110.9h0M334.6 184.8h0M284 83.4h0M191.2 83h0M283.7 181.2h0M192.2 203.3h0M301.2 183.6h0M191.9 225.4h0M189.6 214.1h0M192.3 260.2h0M139.4 116.1h0M228.6 82.2h0M317 135.9h0M319.4 173.6h0M270.2 78.1h0M192 214.3h0M284 187.9h0M274.8 143.9h0M325.3 141h0M230.1 81.1h0M243.9 68.8h0M289.9 127.3h0M99.7 131.6h0M242.8 73.2h0M318.8 116.3h0M317.8 191.7h0M190.7 119.8h0M192.7 204.3h0M340 181.9h0M316.4 195.2h0M257.8 113h0M321.4 200.3h0M287.8 187h0M314.2 123.3h0M284 82.4h0M128.6 117.8h0M192.8 172.1h0M283.6 85h0M192 145.8h0M279.3 82.6h0M337.2 190.9h0M195.6 108.7h0M295.2 181.6h0M297.5 176.3h0M317.1 217.2h0M279.8 146.5h0M112.1 115.3h0M110.7 218.4h0M219.8 86.3h0M188.4 193.2h0M194.1 136h0M307 103.4h0M259.9 121.5h0M267.8 139h0M190.3 246.6h0M307 194.9h0M227.3 80.4h0M193.7 104.7h0M297.1 176.9h0M234.1 92.8h0M246.6 74.8h0M94.8 173.6h0M282.8 163.4h0M189.4 263.9h0M192.1 112.8h0M228.5 80.2h0M190.5 94.8h0M189.9 283.8h0M199.9 87.2h0M315 120h0M211.3 95.9h0M112.5 209.2h0M324.1 203.8h0M221.4 78.8h0M288.5 155.3h0M116.2 141.2h0M279.4 146.4h0M304.8 185h0M337.2 193.3h0M195.6 83.9h0M111.8 184.6h0M188.4 266.3h0M131.5 118.9h0M223.7 107.8h0M164 272.2h0M148.3 255.6h0M188.2 228.1h0M122.7 225.3h0M92.8 189.5h0M246.4 100.9h0" stroke="#0000CD"/>
<path d="M318.2 231.4h0M247.1 144.7h0M194.1 189h0M199.6 140.5h0M198.1 263.1h0M195.5 232h0M342.8 230.9h0M307.8 208.6h0M197.7 142h0M197.7 101.6h0M226.4 103.2h0M291.5 174.3h0M221.9 100h0M321.5 216h0M195.7 113.8h0M295.7 183h0M236 96.9h0M250.5 139.9h0M196.9 170.7h0M297.7 197.2h0M282.2 168.1h0M282.6 182.2h0M308.7 218.8h0M195.8 122.9h0M271.3 170.8h0M200.8 139.8h0M251.4 144.1h0M243.1 115.9h0M254.7 122h0M281.8 276.1h0M198 273.7h0M272 166.5h0M229.1 121.5h0M254.7 123.6h0M224.2 108h0M199 140.1h0M292.6 262.3h0M296.4 173.9h0M198.6 184h0M226.1 113.6h0M303 255.9h0M287.8 195.1h0M230.2 123h0M257.5 153.6h0M292.3 196.1h0M212.9 293.4h0M234.2 121.5h0M244.1 140.3h0M237.4 284.4h0M290.8 171.3h0M301.1 255.8h0M201.9 291.4h0M198.7 199.6h0M267.5 174.2h0M284 164h0M218.1 100.4h0M199.5 178.6h0M289.4 201.9h0M266.4 157.9h0M196.8 268.7h0M238.7 292.6h0M197.4 196.8h0M307.3 108.7h0M194.7 272.4h0M197.4 271.1h0M223.2 103.3h0M293 177.1h0M268 166.7h0M216.1 73.7h0M306.2 217.3h0M246 119.8h0M205.2 93.6h0M196.1 194.3h0M218.7 99.5h0M199.9 89h0M306.5 251.5h0M235.7 128h0M294 178.4h0M226.9 85.9h0M239.7 134.6h0M313.3 243.9h0M236.1 290h0M297.3 190h0M262.1 287h0M307.1 207.3h0M207.9 92.1h0M204 93.4h0M221 107.3h0M248.8 147.7h0M258.4 125h0M196.5 148.2h0M285.9 167.3h0M200.1 153.4h0M196.6 134.3h0M279.4 277.1h0M294.1 203h0M226.3 86.8h0M250.4 153h0M282.1 191.7h0M195.1 269.1h0M315 213h0M268.9 285.3h0M246.1 142.6h0M293.2 170.8h0M197.5 270.2h0M287.7 196.6h0M197.5 149.3h0M265.7 155.3h0M269.2 286h0M205 91.1h0M199.3 123.8h0M263.2 144.9h0M195.8 210.7h0M199.3 131.9h0M258.2 123.4h0M196.4 202h0M327.1 207.6h0M231.3 290.3h0M216.3 103h0M285.8 165h0M287.1 197.3h0M247 145.6h0M256.3 152.4h0M302.5 213.4h0M202.8 74.6h0M198.2 198.6h0M285.9 186.2h0M299.8 203.5h0M193.8 280.5h0M228.3 96.7h0M199 78.8h0M221 297.1h0M307.2 194.6h0M246 125.4h0M314.5 237h0M304.5 215.4h0M281.4 188.1h0" stroke="#FF3300"/>
<path d="M294.1 195.7h0M261 127.6h0M298.4 186h0M196.6 198.6h0M207.6 100.5h0M313.7 211.3h0M296.8 150.8h0M198.8 193.5h0M201 123.9h0M307.8 214.3h0M291.9 266.9h0M223.4 117.5h0M231.9 90.2h0M196 245.7h0M271.7 289.5h0M197.1 226.2h0M272.9 152.9h0M308.3 243.2h0M209.6 87.3h0M232 87h0M229.3 92.2h0M271.6 168.7h0M286.4 196.5h0M199.3 82h0M196.7 128.9h0M271.8 168.9h0M296.6 188.5h0M306.5 246.7h0M290.6 171.9h0M244.3 104.1h0M195.9 122.7h0M199.3 72.9h0M206 91.6h0M256.2 156.9h0M336.6 213.6h0M194.2 205.5h0M250.8 279.1h0M210.6 103.7h0M199 97.9h0M244.7 134.7h0M200.2 151.2h0M231.4 107.9h0M298.6 283.3h0M254.1 145.3h0M331.7 253.6h0M197.3 272.2h0M223.5 102.8h0M230.7 121.7h0M197.3 172.4h0M241 124.1h0M242.1 134.1h0M282.9 190.7h0M197 283.6h0M262.1 124.1h0M196.1 155.6h0M241.7 119.9h0M293.4 266.7h0M198.4 183.7h0M294 263.7h0M269.6 167.2h0M305.9 214.5h0M332.8 206.2h0M195.6 243.4h0M242.7 138.3h0M311.7 198.3h0M221 98.9h0M327.3 214.6h0M293.2 200.9h0M192.9 273.5h0M295 166.7h0M286.2 161.5h0M227.6 123.2h0M231.2 113.5h0M307.1 206.8h0M257.6 123.8h0M197.8 227.6h0M315.4 217.5h0M313.2 201.6h0M196.6 94h0M197.6 275.5h0M195 167.2h0M294.7 198.4h0M226 111h0M225 115.7h0M333.1 231.6h0M250.6 114.4h0M201 109.4h0M254.2 143.3h0M212.7 293.7h0M292.2 177.2h0M257.2 144.9h0M201.1 78.8h0M199.2 287h0M313.3 238.5h0M193.6 232.1h0M250.1 142.3h0M324.3 221.6h0M274.2 178.6h0M233.5 101.3h0M197.2 131.2h0M308.7 198.8h0M299.7 191.3h0M291 175.2h0M212.7 293.9h0M312.8 218.5h0M238.4 285.1h0M236.4 99.9h0M196.9 66h0M222.8 110.5h0M286.9 167.6h0M316.8 224h0M247.2 119.7h0M317.6 231h0M196 210.3h0M251.6 279.7h0M200.2 148.7h0M220.2 74.6h0M253.6 131.4h0M298.4 253.6h0M226.4 82.4h0M196.3 175.2h0M261.9 127.3h0M294.9 258.9h0M253.9 152.4h0M196.3 119.7h0M258.8 157.6h0M262 284.5h0M307.4 217h0M197.2 132.3h0M277.5 173.6h0M271.2 280.4h0" stroke="#FF3300"/>
<path d="M152.1 262.1h0M191.2 180.9h0M325.3 203.7h0M149.3 95.6h0M268.9 74.4h0M320.9 197.9h0M241.9 98.1h0M194 172.4h0M115.9 208h0M293 89.4h0M226.5 79.4h0M312.2 176.8h0M192.3 231.1h0M123.8 132.4h0M232.6 84.2h0M257.2 67.2h0M249.8 107.7h0M297.9 115.1h0M275.4 156.5h0M260.7 124.7h0M294.2 182.5h0M177.8 276.3h0M263 125h0M336.1 187.5h0M330.8 193.7h0M305.5 186.3h0M251 97.5h0M129.4 117.6h0M223.3 65.1h0M330.6 191h0M245.9 112.5h0M332.9 189.7h0M222.5 104.1h0M192.1 157.8h0M188.9 172.7h0M168.6 77.1h0M263.7 160.3h0M270 72.8h0M282 102.6h0M191.9 253.7h0M311.1 142.8h0M301.4 133.8h0M241.5 71.1h0M331.8 209h0M122.4 267.7h0M330 175.1h0M254.6 98.4h0M265.9 159.5h0M216.7 77.1h0M122 134.1h0M244.4 108.6h0M118.2 126.2h0M123.8 226h0M190.3 241.6h0M300.8 174.4h0M192.1 273.2h0M287.8 114.2h0M280.2 161.6h0M282.4 156.9h0M153.2 92.4h0M138.9 253.3h0M192.4 164.1h0M336.4 144h0M193.6 84.4h0M118.3 257.3h0M189.8 228.5h0M185.7 279.7h0M247.5 71.1h0M330.3 200.2h0M243.4 74.1h0M242.2 94.7h0M255.9 70.2h0M329.7 188.8h0M194.2 110.5h0M260.3 120.6h0M137.9 249.4h0M214.2 99.5h0M223.1 76.8h0M123.4 233.1h0M317.9 101.9h0M189.5 246.9h0M318.5 207.3h0M124.8 119.5h0M326.8 144.9h0M190.9 167.1h0M133.3 117h0M122.6 223.1h0M262.8 68.3h0M192.5 245.3h0M223.5 107.5h0M231.2 71.3h0M202 79.4h0M338.1 188h0M313.6 140.3h0M314.4 119.4h0M268.5 140.3h0M209.6 97.7h0M126.2 124.4h0M314.4 194.6h0M337.2 166h0M242.7 97.9h0M312.4 195.6h0M158.7 92.1h0M184.6 81.9h0M130.7 238.4h0M159.7 86.7h0M250.5 73.3h0M113.7 213h0M207.3 83.7h0M116.2 147h0M311.9 135.1h0M230.4 71.8h0M303.4 187.7h0M136.4 114.2h0M145.9 83.3h0M115.3 165.5h0M240.8 104.8h0M312.7 118.6h0M351 155h0M103.1 190.9h0M269.5 134.5h0M229.7 76.5h0M293.8 169.3h0M291.2 159.9h0M191.1 255.6h0M118.1 136.9h0M334.9 159h0M273.7 127.5h0M233.2 81.4h0M259.3 119h0M209.2 79.2h0M192.7 157h0M187.7 252.3h0M287.5 188.7h0M283.4 154.3h0M122.9 139.8h0M319.2 214.8h0M192.9 189.6h0M271 76.1h0M188.1 268.1h0M234.5 85.8h0M185.9 283.7h0M107.2 120.5h0M192 262.1h0M193.9 104h0M332 210.1h0M287.4 130h0M299.2 175.6h0M191.2 80.8h0M252.3 137.5h0M174.3 84.3h0M319.8 126.7h0M319.1 215.4h0M223.2 71.1h0M320.5 113.7h0M302.4 130.3h0M305.4 96.1h0M118.9 151.3h0M193.2 203.6h0M194.5 162.3h0M270.7 163.9h0" stroke="#0000CD"/>
<path d="M265 84.9h0M114.8 194.1h0M237.4 81.7h0M291.4 162.9h0M304.1 207.1h0M263.4 135.7h0M136.9 257.3h0M277 151h0M236.3 116.9h0M302.8 206.8h0M324.1 107.4h0M301 183.1h0M242.3 74.5h0M188.7 224.6h0M252.5 104.1h0M193 203.6h0M259.8 97.6h0M142.4 93.6h0M122.5 138.6h0M292.9 177.1h0M112.6 193.9h0M314.8 194.5h0M319.9 208.4h0M272.9 106.9h0M194.4 146.1h0M300.3 107h0M237.9 104.1h0M245.6 79.2h0M265.5 135.1h0M333.3 165h0M120.1 140.3h0M109.7 118h0M264.3 159h0M313.2 118.8h0M191.8 275.5h0M317 120.9h0M117.6 221.3h0M188.3 229.3h0M103.1 190.2h0M294 138.8h0M213.4 63.3h0M320 109.2h0M209 77.8h0M306.8 196.1h0M305.3 189.9h0M340 157.8h0M216.4 95.3h0M291.6 164.7h0M236.7 96.7h0M191.5 95h0M278.4 164.8h0M225.5 80.9h0M259.4 114.3h0M190.8 223.1h0M188.7 212.9h0M188.2 257.3h0M315.2 122.7h0M291.1 190.8h0M280.3 161.8h0M332.2 177.5h0M277.3 148.9h0M275.3 159.2h0M195.9 84.9h0M177.2 81.7h0M192.8 175.6h0M194.2 111.1h0M195.6 101.5h0M310.7 190.4h0M254.6 113.9h0M270.6 74.2h0M146.1 95.1h0M264.3 131.5h0M129.1 230.8h0M238.2 89.7h0M191.7 249.3h0M335.6 196.4h0M309.7 189.7h0M193 140.8h0M109.2 175.8h0M190.9 110.7h0M112.2 166.6h0M192.9 154.6h0M277.5 100.1h0M185.9 68.8h0M329.9 202.2h0M264.9 129h0M123.6 118.6h0M202.2 83.7h0M149.7 77.5h0M189.5 183.4h0M192.7 205.2h0M190.8 146.5h0M241.1 93.8h0M186.5 282.4h0M274.5 103.5h0M324.2 179h0M193.1 188.8h0M333.7 154.7h0M184.7 76.7h0M188.7 281.6h0M312 189.3h0M193.2 79.9h0M188.8 189.7h0M272.5 150.7h0M290.8 159.3h0M239.5 95.9h0M255.3 82h0M242.8 73.8h0M316.6 212.9h0M340 181.9h0M252.3 106.3h0M316.4 170.8h0M277.3 156.7h0M302.1 201.5h0M253 140.3h0M263 130.9h0M192.6 175.2h0M244.5 103.4h0M204.1 92.6h0M306.3 101.3h0M251.1 74.2h0M290.9 82.7h0M319.2 205.6h0M233.7 114.3h0M99 172.9h0M230.7 84.3h0M118.3 208.4h0M129.6 122.4h0M304.3 183.1h0M314.7 117h0M193.8 190h0M275.2 143.7h0M313.4 102.1h0M336.8 143h0M92.8 189.5h0M334.3 202.2h0M326.9 204.1h0M209.1 74.6h0M193.9 134.3h0M190.8 191.6h0M191.4 284.2h0M226.4 82.6h0M200.6 84.5h0M287.8 155h0M252 107h0M321.4 205.1h0M126.6 257.3h0M287.8 186.2h0M189 280.3h0M335.2 152.7h0M216 99.2h0M267.3 140.1h0M195.1 140.1h0M272.2 142.5h0M233.6 80.6h0M284.3 88.2h0M193.3 178.2h0M250.9 105.4h0M119.1 158.2h0M248.2 107.1h0M189.2 178.6h0M239.2 68.6h0M193.1 232h0M191.6 133.3h0M290.2 193.5h0M227.8 113.4h0M194.7 132.5h0M261.1 131.2h0M187.9 259.3h0M113.8 163.1h0M263.1 118.5h0M192.1 112.4h0M230.3 61.2h0M193.5 163.3h0M326.3 141.2h0M240.2 101.4h0M232.8 79.7h0M305.5 90.2h0M276.4 168.3h0M318.1 127.1h0M301.2 175.2h0M191.1 140.5h0M191.3 113.9h0M189.2 222.4h0M313.3 193.9h0" stroke="#0000CD"/>
<path d="M276.8 151.3h0M244.3 132.8h0M208.6 103.3h0M199 101.2h0M294.5 266.7h0M321.3 150.9h0M312.6 203.4h0M197.9 206.4h0M250.6 279.5h0M198.8 200.6h0M307.1 208.7h0M229.8 108.6h0M240.5 131.3h0M195.8 231.6h0M200 81.4h0M241.1 139.7h0M240.6 129.9h0M294.5 205.4h0M291.3 170.3h0M202.9 73.6h0M281 178.5h0M294.8 180.4h0M286.1 273.5h0M194.7 208.8h0M219 304h0M270.6 147.1h0M194.4 283h0M198.5 118.3h0M256.1 144.2h0M197.8 125.3h0M292.2 175.7h0M283.9 176.4h0M287 194.2h0M196.7 182.1h0M247.4 141.6h0M305.5 215.3h0M313.6 216h0M198.3 107.1h0M254.1 123.1h0M309.2 217.9h0M277.6 81.5h0M315.5 110h0M289.7 202.1h0M193.4 222.9h0M240 124.7h0M250.4 115.6h0M202.1 288.1h0M306.5 205.2h0M199.3 80.6h0M204.5 92h0M271 169.5h0M287.6 201.4h0M219.8 77h0M232 115.4h0M287.5 185.2h0M283.8 158.5h0M292.7 165.3h0M317.8 230.8h0M252.2 139.9h0M252.4 286h0M292.4 174.1h0M301.4 260.5h0M193.9 211.1h0M278.7 179.3h0M311.7 263.3h0M220 301.9h0M196.6 199.4h0M309.1 214.4h0M195.9 121h0M269.1 144.5h0M263.1 158.4h0M197.7 103.9h0M256.2 159.3h0M323.3 225h0M301.5 192.7h0M250 148.2h0M260 287.4h0M204.9 92.9h0M288.6 197.9h0M260.9 282.3h0M316.6 264h0M290.2 195.2h0M318.6 239.1h0M263.5 166.5h0M306.4 192.2h0M285.2 182.5h0M259.4 147.7h0M257.2 158.3h0M303.8 255.3h0M256.3 157.8h0M267.3 284.2h0M204.7 101.5h0M295.2 206.6h0M272.7 144.8h0M267 172.6h0M308.9 208.9h0M232.6 288.7h0M310.7 201.9h0M200.2 107.6h0M264 133.2h0M199.6 132.5h0M198.1 180.8h0M195.1 157.8h0M225.3 83.3h0M262.8 132.2h0M213.8 97.9h0M196.2 241.7h0" stroke="#FF3300"/>
<path d="M229.7 86.1h0M194.8 261.2h0M223.3 109.8h0M291.6 170h0M263.1 157.3h0M291.5 202.2h0M230.9 114.4h0M254.8 142.4h0M282.4 184.6h0M322.9 207.2h0M225.5 97.4h0M300 153.1h0M267.1 142.3h0M201 95.4h0M196.3 134h0M235.5 91.8h0M200.6 120.1h0M235.3 124.7h0M318.5 227.8h0M266.1 131.6h0M198.2 219.9h0M234.6 101.1h0M291.6 199.2h0M197.8 130.3h0M275.2 184.1h0M197.7 244.8h0M197.5 193.4h0M198.2 176.6h0M316.5 242.6h0M269.7 150.2h0M228.6 120.5h0M302.5 213.7h0M267.1 173.6h0M246.2 130.6h0M197 278.3h0M268.4 147.3h0M292.3 122h0M212.4 291.9h0M249.2 139.5h0M246.4 281.4h0M199.7 308.1h0M324.1 217.1h0M196.3 145.1h0M198.2 180.3h0M199 81h0M198.1 191.8h0M248.2 127.1h0M199.1 166.7h0M232.8 101.9h0M200.5 149.6h0M228 116.7h0M195.8 258.2h0M195.5 146.7h0M306.5 206.5h0M295.2 268.8h0M255.1 126.2h0M196.9 179h0M306.4 194.1h0M294.2 204.9h0M228.8 89.4h0M267.4 284.4h0M311.8 203.7h0M197.1 229.2h0M226.9 120.4h0M266.6 166.4h0M196.9 237.8h0M215.2 107.7h0M306.6 199h0M197.1 262.2h0M301.4 192.4h0M269.7 153.1h0M276 172.5h0M197.6 251.8h0M301.2 207.3h0M194.5 266.7h0M196.5 189.6h0M312.3 238.1h0M299.6 207.9h0M198.4 211h0M222 116.1h0M250.7 120.5h0M239.4 129.5h0M201.9 80.3h0M331 213.8h0M291.8 196.9h0M269.7 170.5h0M198.4 240.3h0M233.9 98.1h0M243.5 142h0M199 198.1h0M247.6 135.1h0M293 176h0M300.6 207.4h0M204.3 288.4h0M221.7 112h0M213.8 101.3h0M301.6 190.7h0M319.1 231.4h0M273.9 166.3h0M195 157.8h0M255.8 151.1h0M199.3 168.7h0M230.9 89.6h0M295.2 177.8h0M285.5 196.8h0M197.3 82h0M246.4 135h0M299.6 254.7h0M313.9 204.8h0M291.6 203.1h0M262.9 148.2h0M242.8 131.7h0M249.5 146.5h0M238.3 124.1h0M196.4 274.2h0M240 293.6h0M288.2 196.1h0M260.9 166.3h0M196.3 277.1h0M306.9 216.5h0M202.6 96h0M198.1 188.9h0M202.1 94.2h0M224.1 83.8h0M275.1 170.1h0M207.7 288.9h0M280.8 275.6h0M304.8 253.6h0M323.4 228.8h0M219.8 103.3h0M196.9 76.8h0M216.2 107.3h0M197.6 191.6h0M273.5 145.9h0M229.7 122.6h0M266.8 171.4h0M281 272.1h0M197.9 215.7h0M215.7 74.6h0M193 260.1h0M271.1 155.8h0M196.2 268.8h0M211.8 75h0M282.1 166.5h0M198 106.7h0" stroke="#FF3300"/>
<path d="M321.5 209.7h0M115.2 145.6h0M332.2 147.4h0M283.4 117.5h0M215.6 87.1h0M335 193.8h0M189.1 181.8h0M183.1 75.5h0M279.1 154.2h0M273.9 101.3h0M190.4 161h0M272.7 153.9h0M190.7 186.8h0M113.3 189.8h0M251.7 57.8h0M222.4 88.1h0M188.5 216.8h0M271.3 76.2h0M90.7 177.8h0M330.8 192.1h0M278.7 152.1h0M328 201.8h0M194.2 141.1h0M192.8 167.5h0M195 143.4h0M186.9 280.7h0M245.4 103.2h0M266.9 160.3h0M313.1 190.8h0M287.4 160.4h0M115.4 210.6h0M90.7 177.8h0M135.9 115.3h0M191.9 196.2h0M300.4 175.1h0M111.1 187.3h0M283.7 160.8h0M134.8 104h0M192.4 272.9h0M189.4 236.3h0M284 180h0M258.9 112.2h0M171.3 82.3h0M115.5 123.3h0M277.2 163.8h0M189.9 190.9h0M282.5 171.2h0M191.7 202.1h0M334.9 160.2h0M268.1 137h0M285.4 86.9h0M284.3 116.9h0M118 217.7h0M317.9 107.5h0M128.5 231.2h0M125.1 226.6h0M195.9 80.6h0M264.9 119.4h0M192.5 151.9h0M297.2 81.2h0M189.2 197.4h0M339.8 159.8h0M111.4 159.1h0M249.5 114.8h0M117.8 123.7h0M191.1 248h0M269 124.3h0M333.9 172.6h0M292.8 191.3h0M266.4 159.2h0M294.8 106h0M118.4 149.5h0M320 213.5h0M274.7 140.4h0M223.9 73.3h0M223 100.7h0M193.3 115.4h0M255.7 114.3h0M187.9 224.9h0M252.1 146h0M117.2 148.3h0M192.8 135.2h0M331.7 126h0M252.2 109.8h0M104.5 179.8h0M285.3 158.8h0M145.9 99.3h0M124.4 131.4h0M234 113.2h0M103.8 126.3h0M306.4 193h0M228.5 74.1h0M191.7 236.3h0M310.3 127.4h0M320.3 164h0M318.8 157.9h0M326.2 141.6h0M277.8 82.7h0M117.4 163h0M333.8 139.8h0M194 113.5h0M259.5 123.8h0M296.1 170.7h0M164.3 85.4h0M260.8 72.7h0M271.5 73h0M303.8 187.7h0M245.6 102.8h0M115.2 164.5h0M320.5 201.9h0M245.6 109.9h0M266.2 68.1h0M118.4 151.4h0M232.5 95.1h0M191 108.7h0M113.6 205.2h0M228.6 62.6h0M321.3 206.1h0M188.3 277.8h0M301 113.2h0M270 135h0M194.3 115.3h0M217.6 67.4h0M300.2 91h0M149 94h0M247.5 109.2h0M216.5 54.3h0M304.9 164.6h0M320.3 208.7h0M288.5 84.6h0M290.4 86.2h0M324.2 193.3h0M195.2 113.5h0M237.6 119.9h0M189.3 282.1h0M190.6 222.9h0M264.5 133.5h0M328.5 202.8h0M159.7 91.2h0M115.4 143.8h0M240.7 66.7h0M220.2 72.6h0M289.1 155.4h0M224.9 110.2h0M218.8 71.1h0M333.8 204.7h0" stroke="#0000CD"/>
<path d="M252.8 188.3h0" stroke="#0000CD"/>
<path d="M229.4 123.5h0" stroke="#0000CD"/>
<path d="M240.4 121.3h0" stroke="#0000CD"/>
<path d="M288.7 177.8h0" stroke="#0000CD"/>
<path d="M266.6 159.9h0" stroke="#0000CD"/>
<path d="M255.6 140.6h0" stroke="#0000CD"/>
<path d="M288.7 125.4h0" stroke="#FF3300"/>
<path d="M308 135.1h0" stroke="#FF3300"/>
<path d="M313.5 137.8h0" stroke="#FF3300"/>
<path d="M280.4 137.8h0" stroke="#FF3300"/>
<path d="M332.8 150.2h0" stroke="#FF3300"/>
<path d="M327.3 179.2h0" stroke="#FF3300"/>
<path d="M312.1 172.3h0" stroke="#FF3300"/>
<path d="M200.4 78.5h0" stroke="#FF3300"/>
<path d="M219.7 75.8h0" stroke="#FF3300"/>
<path d="M197.7 92.3h0" stroke="#FF3300"/>
</g></g>
<g transform="translate(786.6 0)">
<use href="#fr"/>
<text class="k" transform="translate(135.8 354.2) scale(0.98 1.04)" text-anchor="middle">-5</text><text class="k" transform="translate(66.4 270.8) scale(0.98 1.04)" text-anchor="end">-5</text><text class="k" transform="translate(207.1 354.2) scale(0.98 1.04)" text-anchor="middle">0</text><text class="k" transform="translate(66.4 203.1) scale(0.98 1.04)" text-anchor="end">0</text><text class="k" transform="translate(278.4 354.2) scale(0.98 1.04)" text-anchor="middle">5</text><text class="k" transform="translate(66.4 135.3) scale(0.98 1.04)" text-anchor="end">5</text><text class="k" transform="translate(349.6 354.2) scale(0.98 1.04)" text-anchor="middle">10</text><text class="k" transform="translate(66.4 67.6) scale(0.98 1.04)" text-anchor="end">10</text><text class="a" transform="translate(223 388) scale(0.97 1.04)" text-anchor="middle">x1</text><text class="a" transform="translate(23.3 182.3) rotate(-90) scale(1.0 1.03)" text-anchor="middle">x2</text>
<text class="t" transform="translate(77.6 23.7) scale(1.0 1.0)">g.reg-based</text>
<g fill="none" stroke-width="9.6" stroke-linecap="round">
<g clip-path="url(#mc)">
<use href="#mass" fill="#0000CD"/>
<path d="M196.8 49.6L195.5 143.3L193.5 198.5L191.9 319.9L373.4 319.9L373.4 49.6Z" fill="#FF3300"/>
<path d="M198.2 49.6L198.2 60.6L218.9 77.1L232.7 99.2L249.3 113L265.8 121.3L276.8 129.6L287.9 146.1L293.4 162.7L298.9 184.7L304.4 201.3L315.5 206.8L332 217.8L345.8 228.9L373.4 228.9L373.4 49.6Z" fill="#0000CD"/>
<path d="M198.2 60.6L218.9 77.1L232.7 99.2L249.3 113L265.8 121.3L276.8 129.6L287.9 146.1L293.4 162.7L298.9 184.7L304.4 201.3L315.5 206.8L332 217.8L318.2 226.1L298.9 220.6L287.9 204L282.4 182L276.8 162.7L268.6 146.1L254.8 135.1L235.5 124L218.9 110.2L207.9 93.7L198.2 82.7Z" fill="#FF3300"/>
</g>
<path d="M297.7 192.2h0M189.1 184.9h0M192.2 224h0M332.1 155.6h0M188.5 255.9h0M205.4 83.5h0M230.5 95.7h0M308.3 220.6h0M293.4 100.8h0M315.2 117.2h0M118.3 257.3h0M298.6 164.7h0M336 194.6h0M257.4 106.4h0M142.2 252.4h0M187 281.7h0M219 85h0M314.9 167.4h0M244.1 89.6h0M151.4 94.6h0M306 174.8h0M188.2 201.9h0M241.6 122.3h0M155 91.4h0M279.3 82.6h0M292.9 170.9h0M210.9 94.2h0M303.6 191.4h0M291.7 190.1h0M327.6 143.3h0M333.1 231.6h0M285.8 186.6h0M269.3 95.5h0M135.6 248.6h0M246.6 105h0M191.1 150.2h0M279.4 136.4h0M252 106.4h0M173.7 80.3h0M160 266.6h0M153.2 93.4h0M306 114.8h0M192.7 117h0M191.9 106.9h0M294.1 91.2h0M317.2 207.4h0M109.7 118h0M232.4 95.4h0M330.4 140h0M291.3 168.1h0M293.5 148.3h0M191.9 279.4h0M269.5 72.7h0M207.4 87.8h0M194.7 112.7h0M338.6 163h0M165.7 268h0M297.3 91.7h0M174.2 273.9h0M321 207h0M306.4 199.3h0M223.4 82.4h0M249.8 129.9h0M192.8 94.2h0M315.2 112h0M120.2 149.1h0M103.1 190.9h0M260.2 95.9h0M190 223h0M193.6 157.2h0M192.1 112.8h0M279.3 85.9h0M271.2 75.1h0M109.5 189.2h0M289.1 163h0M137.8 247.2h0M239.7 105.7h0M110.9 182.5h0M326.3 168h0M236.7 107.3h0M209 78.6h0M323.3 211.6h0M270.3 123.1h0M191.5 161.4h0M193.1 117.1h0M118 195.2h0M302.8 187.8h0M134.3 117.3h0M195.5 112h0M111.1 183.7h0M193.1 88.9h0M257.6 135.6h0M233.4 65.9h0M324.1 107.4h0M296.2 157.5h0M167.5 273.8h0M192.6 81.1h0M250.7 118h0M327.9 168.2h0M99.7 131.6h0M213.4 63.3h0M259.7 68.8h0M190.7 160.4h0M297.8 186.1h0M315.3 124.2h0M289.2 203.6h0M195.5 99.4h0M329.5 216.8h0M314.9 128.5h0M337.3 152.4h0M249.4 94.7h0M191.3 264h0M161.6 273.1h0M287.7 139h0M277.1 93h0M138.4 102.4h0M317 210.2h0M228.1 93h0M287.4 169.8h0M187.8 250.4h0M282.2 80.9h0M225.5 84.1h0M222.2 87.2h0M134.5 237.1h0M334.6 148.2h0M190.2 141.3h0M238.9 102.4h0M192.1 121.6h0M301.8 88.5h0M169.9 278.4h0M319.9 215.2h0M280.2 143.5h0M194.2 120.8h0M259.7 91.1h0M252.7 127.8h0M299.2 196.6h0M160.1 87.5h0M273.5 127.8h0M170.1 272.4h0M283.6 132.9h0M191.2 238.6h0M309.7 134.8h0M327.7 186.3h0M321.3 161.2h0M192.9 142.7h0M292.9 172.3h0M117.9 222.8h0M279.7 123.4h0M319.1 109.1h0M115.5 245.3h0M309.3 219.6h0M164.9 82.7h0M174.1 85.3h0M174.4 83.6h0M192.2 124.8h0M281.9 85.8h0M261.5 114.2h0M114.6 189.1h0M192.1 124.3h0M133.3 235.2h0M122.4 267.7h0M303.7 185.9h0M187.4 274h0M188.3 260.1h0M270.3 70.7h0M331.7 140.8h0M209.5 93.5h0" stroke="#0000CD"/>
<path d="M201.2 79.6h0M273.5 169.5h0M306.7 226h0M271.1 127.1h0M279 178.3h0M292.2 199.4h0M205.9 68.8h0M309.8 224.6h0M288.7 210.9h0M315.9 243.8h0M262.2 122h0M283.4 180.3h0M287.7 157.2h0M288.8 201.7h0M218.5 78.3h0M197.9 79.4h0M244.3 123.6h0M291.4 201.5h0M195.6 237.7h0M305.3 203.5h0M278.2 176.3h0M313.1 167.8h0M214.4 111.5h0M277.8 176.7h0M302.2 220.1h0M194 289.8h0M210.6 107.6h0M196.3 209h0M223.7 94.1h0M290.9 200.8h0M238.2 125.1h0M242.1 129.4h0M285.6 208h0M319.2 229.8h0M198.4 237.4h0M240.5 281.9h0M226.2 118.6h0M200.4 102.3h0M199 117.9h0M282 155.3h0M280.5 183.6h0M285.8 197.1h0M263.5 135.2h0M226.1 297.9h0M207.7 75.9h0M276.9 163.9h0M201.6 76.5h0M225.8 65.4h0M322.9 227.9h0M288 207.6h0M194.6 209.7h0M198.7 192.5h0M232.1 105.7h0M240.2 282.6h0M193.1 235h0M303.1 196.3h0M275 152.1h0M195.8 231.4h0M208.3 292.2h0M198.5 184.6h0M195.6 182.7h0M229.4 95.9h0M310.9 227.2h0M209.6 94.9h0M207.6 72.3h0M262.1 136h0M256.6 120.4h0M238.6 129.1h0M304.4 206.7h0M196.4 255.6h0M196 192.1h0M203.7 76h0M222.1 94.1h0M283.9 204.6h0M216.2 96.7h0M216.6 109.5h0M221 297.1h0M193.7 225.5h0M246.7 280.9h0M302.2 222.7h0M240.6 281.3h0M278 154.5h0M210.6 81.2h0M196 276.8h0M266 128.1h0M317.1 212.2h0M269.5 119.2h0M200.2 127.4h0M195.9 221.1h0M286.8 157.5h0M196.9 81.6h0M198.5 180.5h0M200.2 100.6h0M197.6 251h0M194.7 281.2h0M278.3 160.5h0M200.6 87.4h0M257.1 135.6h0M340 181.9h0M205.9 76.1h0M196.8 154.2h0M227.2 113.2h0M283.1 180.1h0M194.7 272.8h0M199.7 308.1h0M329.3 169.1h0M215.8 106.8h0M219 304h0M276.3 150.7h0M271.7 289.5h0M315.2 242.9h0M277.6 182.7h0M198 198.3h0M215.6 79.2h0M311 225.3h0M197.7 222.5h0M319.3 220.8h0M291.1 210.8h0M214.1 105.3h0M260 287.4h0M195.9 200h0M196.2 172.3h0M213.5 292.5h0M201.8 70.6h0M214.4 105.7h0M195.4 208.1h0M300.3 216.8h0M193.7 278.1h0M304.3 105.4h0M195.5 157.7h0M193.4 239.8h0" stroke="#FF3300"/>
<path d="M200.7 93.1h0M195.1 178.9h0M200.6 89.7h0M308 248.4h0M193.5 227.2h0M195.1 193.6h0M258.7 121.2h0M200.1 153.8h0M272.6 159.6h0M198.6 176.7h0M199.5 175.9h0M194.5 185.2h0M196 118.3h0M244.4 73.6h0M225.9 112.2h0M221.2 113.4h0M247.1 126h0M277.2 167.8h0M195.5 214.3h0M214.2 111.9h0M328.4 199.8h0M237.4 127.2h0M273.1 131.6h0M194.4 183.3h0M217.9 103.6h0M262 147.6h0M288 209.6h0M308.8 98.8h0M243.8 133.3h0M299.3 224.4h0M212.7 103.3h0M289 212.2h0M255 120.6h0M196.3 229.8h0M295.2 215.6h0M210.5 106.5h0M306.3 208.2h0M275.1 162.3h0M284.9 208.9h0M295.9 208.9h0M283.9 149.7h0M193.7 218.4h0M292.6 178.6h0M279.4 166.7h0M299.8 202.4h0M315.7 223.7h0M197.9 118.2h0M313.4 208.3h0M202.8 90.9h0M322 160h0M284.1 153.1h0M259.5 113.3h0M236.4 82.6h0M311.7 263.3h0M216.1 76.8h0M248.8 135.7h0M226.4 95.2h0M229.2 97h0M212.7 109.2h0M201.3 101.1h0M312.4 104.9h0M245.9 127.7h0M265.4 149.7h0M297.5 256.8h0M198.9 189.6h0M196.9 243.9h0M264.5 122.4h0M313.9 162.3h0M273.6 138.6h0M223.5 117.4h0M216.9 107.6h0M303.9 131.2h0M292.9 174.7h0M224.9 97.5h0M223.3 120.3h0M287 208h0M241.5 127.7h0M198.5 223.9h0M263.2 282.8h0M193.6 221.1h0M194.4 186.7h0M273 155.5h0M223.3 96.9h0M201.1 122.1h0M293.3 207h0M273.8 160.4h0M198 275.6h0M194.7 206.5h0M200.9 91.6h0M309.3 226h0M323.2 222h0M290 151.7h0M198.1 155.6h0M211.3 106.5h0M262.8 136.9h0M267.5 149.9h0M244.9 285h0M239.6 131.5h0M201.1 81.7h0M253.9 127.5h0M304.9 200.8h0M305.6 201.6h0M250.8 127.5h0M280.6 97.4h0M228.1 121.6h0M195.2 161.5h0M252.5 280.2h0M231.6 127.5h0M197 115.2h0M197.5 222h0M195 238.1h0M306.5 251.5h0M265.1 126h0M269 157.4h0M271.7 285.6h0M301.4 260.5h0M203.7 91.5h0M291.8 215.1h0M296.2 218.3h0M196.3 87.4h0M277.1 168.5h0M215.1 103.1h0M276.2 173.2h0M193.4 260.4h0M278.8 183.5h0M274 129.5h0M283.1 189.6h0M305.4 224.5h0M194.3 244.6h0M286.1 271.9h0M243.3 128.1h0M227.2 103.6h0M235.8 103h0M311.6 226.5h0M263.9 125.1h0" stroke="#FF3300"/>
<path d="M312.8 101.8h0M304.6 179.9h0M183.7 283.1h0M194.6 96.1h0M331.7 126h0M297.2 139.3h0M195.1 132.6h0M224 90.3h0M204.1 86.2h0M257.4 108.5h0M314 124.6h0M293.9 163.8h0M312 201.5h0M332.5 161.3h0M238.4 119.5h0M164.3 84.1h0M298.6 283.3h0M99 172.9h0M286.9 182.3h0M337.2 190.9h0M192.2 213.6h0M115.8 152.5h0M263 83.7h0M190.3 259.3h0M226.5 113.7h0M234.3 107.5h0M133.7 121.7h0M249.3 107.3h0M115.4 203.3h0M166 84.6h0M191 112.8h0M274.2 81h0M230.8 64.1h0M220.4 109.2h0M94.8 173.6h0M298.1 129.8h0M272.2 77.8h0M271.3 150.9h0M333.9 206.9h0M293.1 159.9h0M190.5 182h0M238.2 95.9h0M296.6 191.3h0M167.6 86.9h0M335.7 157.1h0M194.9 110h0M188.3 235h0M323 222.3h0M201.6 84.4h0M150.8 90.3h0M92.8 189.5h0M243 112h0M274.3 120.9h0M134.5 244h0M317.4 121.9h0M257.5 134.4h0M267.7 111.4h0M296.1 169.2h0M233.1 109.8h0M190 174.5h0M193.5 169.6h0M315.7 166h0M239.1 70.4h0M116.9 219.4h0M312.3 218.9h0M311.2 165.3h0M299.4 182.8h0M337.2 166h0M193.5 109.4h0M302.3 194.1h0M290.9 143.3h0M116.9 142.1h0M194.3 148.8h0M214.1 97.9h0M243.3 69.8h0M190.4 213.2h0M276.4 149.7h0M323 210h0M116.2 141.2h0M224 70.2h0M188.4 225.1h0M193.6 172.9h0M300.4 90.7h0M227 87.6h0M283.5 84.8h0M192.9 224.5h0M292.3 87h0M324.6 175.5h0M301.6 189.7h0M334.8 198.8h0M307 216.7h0M278.5 133.5h0M192.6 93.4h0M275.4 157h0M246.2 83.1h0M319.1 204.3h0M273.7 154.6h0M238.6 103.3h0M292.1 87.1h0M142.4 93.6h0M333.8 139.8h0M290.1 166.4h0M286.6 196h0M251.7 57.8h0M303.5 90.4h0M318.1 123.5h0M309.9 223.4h0M235 106h0M291 187.2h0M224.3 83.9h0M318.7 196.3h0M117.8 223.9h0M192.4 192.5h0M318.4 153.2h0M277.1 123.5h0M158.2 90.9h0M289.9 137.2h0M112.7 207.4h0M228.8 83.6h0M305.1 194.7h0M195.2 84.3h0M204.4 85.6h0M191.5 265.7h0M266.2 68.1h0M188.1 275.6h0M191.5 220h0M283.7 135.9h0M284.4 178.2h0M160.3 266.8h0M254.9 129.7h0M320 207h0M319.9 152.1h0M252.5 82.6h0M193.2 104h0M226.6 80.2h0M283.9 144.3h0M192.6 154.6h0M305.5 90.2h0M281.6 178.6h0M194 176h0M294.9 160.8h0M173.7 80.5h0M249.6 110.2h0M105.7 179h0M250.8 110h0M259.8 71.9h0M337.2 190.9h0M329.4 212.4h0M297.2 81.2h0M170.7 82.6h0M237 119h0M239.5 100.8h0M269.9 147.5h0M188.9 257.8h0M110.7 218.4h0M304.1 195.7h0M189.6 202.3h0M296.2 162.1h0M281.9 114.9h0M290 86h0M186.9 284.9h0M114.6 164.6h0" stroke="#0000CD"/>
<path d="M248.2 72.4h0M295.2 174.9h0M146.4 253.2h0M208.2 88.9h0M234.5 122.7h0M191.5 198.2h0M188.9 245.7h0M267.2 116.6h0M276.2 159.6h0M302 196.7h0M293.3 177.2h0M117.3 161.2h0M192 210.3h0M115.5 123.3h0M90.7 177.8h0M242.9 116.1h0M194.6 92h0M277.1 133.6h0M275.4 157.1h0M190.7 161.4h0M330.7 152.1h0M217.1 70.7h0M195.5 116.2h0M190.5 172.9h0M192.4 237.3h0M313.6 155.9h0M103.1 190.2h0M286.2 188.7h0M194.7 131h0M195.2 135.1h0M233.4 115.9h0M334.4 167.6h0M283.3 133.2h0M240.7 66.7h0M103.8 126.3h0M224.3 85.2h0M332.5 155.5h0M194.6 153.2h0M106.1 178.2h0M106.1 150.9h0M261.6 135.2h0M227.8 82.7h0M287.4 187.8h0M189.6 192.1h0M249.5 107.1h0M247.4 110.6h0M112.5 179.3h0M357.2 217.1h0M234.5 66.2h0M298.2 169.4h0M224.2 86.3h0M334.2 141.6h0M250.4 79.7h0M128.1 233.6h0M156.2 262.1h0M168.2 81.4h0M239.7 113.2h0M315.5 134.1h0M249.8 74.6h0M136.9 257.3h0M301.5 111.5h0M111.4 159.1h0M307.4 105.1h0M194.7 143.4h0M193.2 124.1h0M139.4 108.3h0M109.3 187h0M258.9 71h0M135.9 241.3h0M321.3 137.4h0M291.9 171.8h0M284.1 162.6h0M144.1 98.6h0M285 183.9h0M222.8 69.5h0M190 151.3h0M186.3 76.2h0M145.9 83.3h0M117.8 139.1h0M243.7 71.6h0M191.2 160.3h0M262.8 73.4h0M163.2 266.5h0M293.2 160.9h0M112.1 115.3h0M112.3 172.2h0M216.5 54.3h0M190 216.6h0M282.3 130.7h0M280.5 134.4h0M228.6 83.5h0M303.5 92.8h0M312.7 123.6h0M126.6 257.3h0M225.8 83.2h0M225.3 68.8h0M301.2 214.5h0M191.4 202h0M191.2 112.7h0M188.6 245.6h0M127.2 119.9h0M227.6 80.6h0M303.7 183.4h0M186 286.5h0M279.4 135.3h0M251.1 100.5h0M189.6 176.6h0M273.4 155.4h0M189.3 269h0M115.8 206.5h0M284.1 181h0M299.4 168.6h0M303.7 115.9h0M306 199.8h0M243.4 104h0M221.7 109.1h0M244.6 123.5h0M275.9 127.2h0M282 171.8h0M230.3 73.6h0M339.1 184.4h0M237.1 98.9h0M252.3 128.5h0M122.5 126h0M188.5 207h0M300.7 177.8h0M180.7 279.7h0M315.7 129.9h0M303.5 186.4h0M220.8 83.8h0M90.7 177.8h0M121.1 228.3h0M107.2 120.5h0M296 185.5h0M297.9 102.6h0M315.5 204.9h0M191.8 279.5h0M229.4 91.6h0M278.8 79.3h0M192.6 176.5h0M272.4 73.4h0M333.8 204.7h0M313.2 224h0M311.8 199.3h0M115.6 148.3h0M252 74.6h0M332.6 200.3h0M185.9 68.8h0M303 205.9h0M190.2 127.3h0M292.2 138.7h0M327.3 139.9h0M189.9 207.2h0M288.6 144.9h0M296.2 166.3h0M256.7 135.9h0M128.4 121.7h0M190.1 169.6h0M286.3 85.9h0" stroke="#0000CD"/>
<path d="M270.5 123.7h0M243.2 125.8h0M224.1 81.7h0M265.8 138.5h0M254.1 137.1h0M310 204.7h0M205 93.2h0M279.2 274.8h0M197.6 155.6h0M197 231h0M287.9 158.4h0M272.5 130.8h0M229.4 115.2h0M298.3 195.8h0M197.5 193.2h0M281.6 183.9h0M246.9 135.1h0M216 81.3h0M196.4 211.4h0M319 189.3h0M297.8 189.2h0M195.9 262.9h0M198 270.3h0M240 293.6h0M311.7 118.4h0M279.5 162.7h0M304.2 203h0M254.5 126h0M289.6 206.7h0M330.3 201.1h0M262.5 83.3h0M314.5 223h0M196.8 268.4h0M254.1 130.5h0M235.7 126.3h0M285.9 186.7h0M198.4 190.9h0M229.5 96.8h0M214.8 78.9h0M197 158.1h0M296.3 209.9h0M193.1 278.9h0M214.9 78.3h0M248.1 114h0M316.7 238.2h0M215.8 77.5h0M196.1 101.6h0M271 130.1h0M195.6 231.4h0M204.4 92.9h0M223.2 93.8h0M262.4 114.3h0M291.4 154.7h0M242 130.8h0M207.1 97.7h0M263.1 147.4h0M198.6 118.7h0M280.4 186h0M297.7 203.5h0M305.1 198.3h0M196.6 79.1h0M281.6 272h0M196.9 174.3h0M221.1 112.8h0M266.3 122.5h0M246.4 127.5h0M217.9 104.4h0M228.3 296.6h0M292.6 163.1h0M212.8 69.5h0M195.8 150.1h0M194.1 264.2h0M244.8 113.6h0M196.4 282.8h0M206.5 96.5h0M197.6 252.2h0M207.9 289.7h0M238.1 126.8h0M198.9 195.9h0M287.2 212.1h0M199.1 134h0M301 259.1h0M227.1 95h0M196.4 180.3h0M210.1 98.9h0M340 181.9h0M208.7 102.2h0M229.9 122.3h0M202.1 76.8h0M281 191.8h0M287.8 201.6h0M302.5 204.7h0M197.7 235.7h0M202.4 90h0M254 130.7h0M198.2 83.5h0M311.1 132h0M193.5 222.7h0M268.9 157.3h0M241.2 128.6h0M242.3 133.1h0M323.4 228.8h0M287.3 96.7h0M282.4 201.8h0M318.6 239.1h0M305.3 220.7h0M197.7 267.3h0M252.3 121.1h0M269.4 150.4h0M193.9 272.1h0M259.9 138h0M198.2 142.6h0M298.2 253.4h0M266.2 147.8h0M198.5 78.6h0M200.1 146.8h0M311.3 174.9h0M230.8 114.6h0M220.7 104.4h0M231.9 99.3h0M226.4 291.7h0M316.6 264h0M270.2 152.8h0M260.8 120.2h0M197.3 238.7h0M278.5 174.5h0M216 96.3h0M267.2 126.4h0M305.4 216.9h0M197.2 141.3h0M320.8 174.7h0M198.7 206h0M226 92.3h0M318.5 139.2h0M201.2 88.8h0M272.6 166h0M291.4 218.2h0M259.2 286.5h0" stroke="#FF3300"/>
<path d="M224.8 296.6h0M201.2 98.1h0M328.7 201h0M279.2 160.5h0M196.7 260.5h0M197 106.5h0M196.9 66h0M259.8 133.4h0M299.5 219.1h0M260.4 123.3h0M198 194.5h0M232.6 111.2h0M319.9 219.6h0M229.5 107.4h0M205.2 80.3h0M194.4 208.3h0M276.3 134.8h0M260.1 109.9h0M289.2 269.8h0M320.1 205.1h0M263 139.7h0M215.7 80.7h0M320.1 226.3h0M294.3 218.9h0M212.9 76.7h0M293.7 217.7h0M195.6 244.2h0M196.7 154.3h0M278 170.2h0M217.7 99.7h0M296.7 223.3h0M249.8 114.9h0M259.2 140.7h0M270.2 160.4h0M314.3 166.9h0M196.1 276.3h0M198 132.7h0M274.8 160.9h0M297 178.3h0M244.8 130.4h0M235 101.3h0M314.5 228.9h0M199.6 77.6h0M197.5 197.5h0M207.4 95.7h0M306.5 216.1h0M234.4 101.2h0M282.1 193.6h0M244.8 135.5h0M285.8 267.7h0M196.3 160.9h0M302 222.3h0M290.5 161h0M257 123.8h0M234.7 128.6h0M196.1 104.7h0M220.1 81.3h0M200.3 144.3h0M287.8 201.2h0M318.9 216.8h0M302.4 220.8h0M236.1 126.5h0M225.3 120.9h0M195.9 147.9h0M233 290.3h0M197.2 132.4h0M197 72.7h0M331.7 253.6h0M198.2 231.1h0M302.4 215h0M263.1 148h0M197.7 243.5h0M263.1 136.2h0M194.6 223.3h0M295.2 268.8h0M253.8 123.5h0M284.2 182.7h0M270 141.6h0M226.3 120.2h0M195 290.5h0M204.5 90.2h0M206.3 77.3h0M273.5 166.5h0M297.7 196h0M339.1 159.9h0M289.1 209.5h0M232.8 290.1h0M248.1 112.6h0M298.2 201h0M210.7 98.2h0M251.2 279.8h0M197.9 281h0M226 109.5h0M197.4 133.3h0M224.3 118.7h0M286.5 154.8h0M232.4 106.3h0M307.5 175.6h0M217.9 113.4h0M219.7 73.8h0M205.6 82.8h0M291.8 149.1h0M238.8 129.5h0M217.4 96.7h0M196 229.3h0M199.4 183.2h0M295.8 207h0M325.7 198.5h0M315.6 237.4h0M342.8 230.9h0M200.4 137.1h0M285 161.1h0M197.4 168.4h0M220 301.9h0M274.4 125.2h0M309.8 250.8h0M226.6 92.9h0M225.8 122.2h0M228.8 102.1h0M289.2 208.7h0M243.6 279.4h0M197.7 192.4h0M270.7 123.6h0M197.8 159h0M312.5 184h0M279.7 189.8h0M260.7 134h0M200.1 129.1h0M215.9 80.6h0M287.2 183.3h0" stroke="#FF3300"/>
<path d="M191.7 221.3h0M237.5 99.3h0M237.9 119.7h0M143.5 252.9h0M291.1 163.2h0M235.1 64.9h0M192.2 172.9h0M187.8 262.6h0M113.4 189.5h0M193.8 158h0M248.1 76.1h0M189.1 220.1h0M333.5 206.6h0M281.8 165h0M285.3 144.9h0M287.9 142.7h0M299.1 189h0M193.7 191.7h0M339.3 144.7h0M351 155h0M333.2 149.7h0M190.5 175.9h0M305.1 216.3h0M121 101.9h0M279.6 142.2h0M192.3 191.1h0M188.1 276.4h0M315.1 119.5h0M312.2 107.8h0M298.7 190.9h0M331.9 167.6h0M189.3 257.6h0M297.3 173.9h0M317.9 101.9h0M281.9 135.8h0M190.2 243.5h0M140.2 253.5h0M340.3 160h0M255.3 134.7h0M244.2 107.1h0M287.8 146.3h0M307.9 202.3h0M275 75.1h0M226.4 85.1h0M303.7 183.3h0M182.8 79.2h0M118.8 226.7h0M337.8 184h0M333.6 165.3h0M333.3 164.4h0M119.4 137.9h0M296.7 171.8h0M336.7 164.7h0M192.2 92.2h0M189.9 248.8h0M191.2 173.4h0M190 166.4h0M218.1 68.5h0M230.3 61.2h0M173.4 72.2h0M193.2 185.3h0M191.4 257.8h0M188.3 286.2h0M301.1 188.5h0M219 74.7h0M145.7 100.3h0M133.6 238.8h0M149.7 77.5h0M264.8 118.5h0M114.3 167.9h0M256.9 117h0M280.2 165.3h0M279.5 165.3h0M232.7 93.8h0M112.4 213.8h0M251.9 111h0M305.2 197h0M193 170.9h0M92.8 189.5h0M228.3 95.3h0M144.8 93h0M232.2 103.8h0M317.4 111.4h0M161.9 273.2h0M188.9 236h0M191 195.9h0M189.1 241.8h0M302.9 118.9h0M303 100.3h0M191.5 208.3h0M281.8 180h0M288.5 144.5h0M190.9 214.9h0M194.5 104h0M141.8 103h0M301.7 114.3h0M306 201.5h0M286.5 180.7h0M168.6 77.1h0M307.2 193.6h0M173.1 79.2h0M277 76.9h0M156.2 266.6h0M139.3 107.7h0M191.6 174.5h0M104.5 179.8h0M249 108.8h0M304.3 135h0M159.7 86.7h0M188.4 245h0M126.3 227.6h0M228.6 62.6h0M278.7 83.1h0M194.5 166h0M312.2 101.1h0M193 173.5h0M290.6 176.5h0M316 127.8h0M168.5 86.5h0M302.2 98.3h0M282.2 85.5h0M301.8 137h0M292 132.5h0M316.6 113.9h0M302.4 92.9h0M303.4 95.9h0M227.2 115.1h0M193.8 188.9h0M329.3 146.1h0M190.5 215.7h0M271.5 151.8h0M155.1 93.6h0M151.3 95.1h0M291.9 192.5h0M191.5 179.5h0M336.6 213.6h0M314.3 187.5h0M188 242h0M191 115.1h0M224.3 73.2h0M330.4 207.7h0M306.5 200.7h0M192.3 113.1h0M332.4 145.3h0M276.5 105.4h0M297.3 172.6h0M287.6 164h0M231.9 85.2h0M128.6 117.8h0M278 154.7h0M287.3 186.4h0M337.3 148.1h0M140.5 100.3h0M209.8 89.4h0M191.1 168.1h0M180.5 79.1h0M194.6 113.1h0M129.3 95.7h0M190.2 145.8h0M316.8 115.4h0M191.8 129.5h0M298.8 94.7h0M134.8 104h0M340 157.8h0M294 157.1h0M194.4 83.4h0M112.3 173.2h0" stroke="#0000CD"/>
<path d="M176.2 82.7h0" stroke="#FF3300"/>
<path d="M285.1 93.7h0" stroke="#FF3300"/>
<path d="M287.9 124h0" stroke="#FF3300"/>
<path d="M310 135.1h0" stroke="#FF3300"/>
<path d="M314.1 137.8h0" stroke="#FF3300"/>
<path d="M329.3 173.7h0" stroke="#FF3300"/>
<path d="M310 165.4h0" stroke="#FF3300"/>
<path d="M298.9 193h0" stroke="#FF3300"/>
<path d="M267.2 161.3h0" stroke="#0000CD"/>
<path d="M230 122.7h0" stroke="#0000CD"/>
<path d="M218.9 128.2h0" stroke="#0000CD"/>
<path d="M298.9 215.1h0" stroke="#0000CD"/>
<path d="M304.4 217.8h0" stroke="#0000CD"/>
<path d="M287.9 176.4h0" stroke="#0000CD"/>
</g></g>
<g transform="translate(0 417.3)">
<use href="#fr"/>
<text class="k" transform="translate(135.8 354.2) scale(0.98 1.04)" text-anchor="middle">-5</text><text class="k" transform="translate(66.4 270.8) scale(0.98 1.04)" text-anchor="end">-5</text><text class="k" transform="translate(207.1 354.2) scale(0.98 1.04)" text-anchor="middle">0</text><text class="k" transform="translate(66.4 203.1) scale(0.98 1.04)" text-anchor="end">0</text><text class="k" transform="translate(278.4 354.2) scale(0.98 1.04)" text-anchor="middle">5</text><text class="k" transform="translate(66.4 135.3) scale(0.98 1.04)" text-anchor="end">5</text><text class="k" transform="translate(349.6 354.2) scale(0.98 1.04)" text-anchor="middle">10</text><text class="k" transform="translate(66.4 67.6) scale(0.98 1.04)" text-anchor="end">10</text><text class="a" transform="translate(223 388) scale(0.97 1.04)" text-anchor="middle">x1</text><text class="a" transform="translate(23.3 182.3) rotate(-90) scale(1.0 1.03)" text-anchor="middle">x2</text>
<text class="t" transform="translate(77.6 23.7) scale(1.0 1.0)">g.owl</text>
<g fill="none" stroke-width="9.6" stroke-linecap="round">
<g clip-path="url(#mc)">
<use href="#mass" fill="#0000CD"/>
<path d="M161.8 124L167.3 143.3L186.6 154.4L211.4 157.1L217 176.4L211.4 193L222.5 204L244.6 209.6L261.1 220.6L266.6 237.1L261.1 253.7L261.1 275.8L272.1 308.9L371.4 308.9L371.4 44L178.3 44L178.3 88.2Z" fill="#FF3300"/>
<path d="M95.6 96.4L150.8 60.6L183.9 49.6L178.3 88.2L161.8 124L167.3 143.3L186.6 154.4L211.4 157.1L217 176.4L211.4 193L189.4 198.5L172.8 176.4L150.8 170.9L134.2 154.4L112.1 159.9L95.6 129.6Z" fill="#FF3300"/>
<path d="M109.4 157.1L150.8 165.4L189.4 170.9L211.4 193L189.4 201.3L164.6 220.6L137 204L117.7 187.5L106.6 170.9Z" fill="#0000CD"/>
<path d="M211.4 193L222.5 204L244.6 209.6L261.1 220.6L266.6 237.1L261.1 253.7L261.1 275.8L272.1 297.8L244.6 297.8L222.5 267.5L211.4 242.7L192.1 226.1L164.6 220.6L172.8 204L189.4 198.5Z" fill="#0000CD"/>
<path d="M261.1 220.6L316.3 209.6L349.4 226.1L343.9 270.2L299.7 297.8L272.1 297.8L261.1 275.8L261.1 253.7L266.6 237.1Z" fill="#FF3300"/>
</g>
<path d="M210.1 194.3h0M205 165h0M231.9 283.8h0M232.2 215.2h0M207.8 197.3h0M115.7 171.3h0M257.6 247.7h0M158.5 117.7h0M270.9 221.9h0M214.9 250.9h0M156.5 125.3h0M125.5 231.3h0M127.5 199.2h0M294.2 242.5h0M148.7 184.9h0M173.1 206.6h0M174.6 148.3h0M276.3 284.2h0M235.4 281.4h0M213.8 200h0M133.5 164.8h0M176.9 211.2h0M188.7 203.8h0M206.3 189.5h0M133.5 150.9h0M190.2 287.9h0M196 193.8h0M186.9 280.4h0M133.7 149.8h0M217.4 229.9h0M176.9 227.7h0M268.7 229.8h0M237.1 261.2h0M115.7 171.3h0M160.2 216.7h0M133.7 156.5h0M167.2 222.1h0M122.4 267.7h0M215.9 173.7h0M170.9 93.6h0M131.5 161.8h0M174.4 223.3h0M208.3 162.2h0M126.2 119.4h0M259.2 249.9h0M126.2 200.7h0M179.3 184.7h0M257.7 248h0M126 233.3h0M182.1 209.3h0M115.5 245.3h0M158.5 222.1h0M175.7 170.9h0M219.4 221.2h0M228.4 276.7h0M152.2 168.9h0M113.5 160.5h0M149.6 257.2h0M126.5 189.5h0M216.5 265.8h0M116.3 141.3h0M180 173.5h0M298.6 283.3h0M156.1 213.7h0M247.5 230.2h0M175.6 189h0M99 172.9h0M152.5 127.6h0M205.7 187.8h0M143.5 250.1h0M227.5 275.3h0M255.8 262h0M161.6 134.2h0M261.2 222.7h0M194.9 227.4h0M136.9 257.3h0M196.6 231.1h0M142.9 141.4h0M298 235h0M211.3 176.9h0M144.5 210.6h0M209.2 231h0M131.8 146.6h0M227.5 248.1h0M208.8 185.4h0M177 276.9h0M159.7 172.1h0M124.9 194.2h0M250 258.3h0M135 241.1h0M218 254.2h0M236.4 292.2h0M128.7 157.6h0M127.5 181.9h0M127.6 230h0M115.2 153.8h0M125.4 158.4h0M132.7 193.6h0M172.3 182.6h0M153.7 188h0M117.7 186.2h0M180.9 189h0M262.1 262.6h0M148.5 217h0M139.2 209.4h0M142.9 161.6h0M212.7 242.1h0M236.2 248h0M194.9 157.8h0M193.4 173.6h0M218.4 248.4h0M186 224.9h0M139.1 104.8h0M122.4 139h0M200.1 184h0M203 236.4h0M103.1 190.9h0M161.4 171.9h0M170.8 212.1h0M124.5 164.5h0M119 180h0M195.8 202.8h0M171.8 187.5h0M214 180.9h0M148.7 92.1h0M155.5 262h0M121.3 192h0M131.3 153.9h0M263.4 235.2h0M137.5 207.6h0M92.8 189.5h0M169.6 99.8h0M231.1 285.6h0M170.2 99.7h0M251.1 230h0M229.8 278.8h0M146.2 205.4h0M130.8 156.2h0M114.8 182.8h0M197.1 174.4h0M149.4 161h0M128.8 168.8h0M169 152.3h0M256.5 242.1h0M140.4 209.2h0M139.8 182.6h0M229.8 270.3h0M215.3 257.6h0M111.2 172.5h0M166.2 212.1h0M167.8 204.8h0M162.3 117.3h0M183.2 206.4h0M112.9 163.8h0M134.6 176.3h0M178.2 223.2h0M236.6 281h0M184.6 192.6h0M130.7 234.5h0M141.7 211.2h0M164.5 102.5h0M123.3 163h0M138 199.6h0M129.9 121.9h0M113.3 167.3h0M257.8 250.7h0M224.9 279.6h0M237.9 281.2h0M170.8 187.6h0M203.6 171.6h0M317.2 231.7h0M181.6 182.3h0M153.7 91.9h0M158 131.4h0M148.6 212.5h0M192.3 229.9h0M155.1 212.2h0M135.3 160.6h0M170.8 199.9h0M145.1 212.7h0M151.5 171.6h0M168.8 210.9h0M222.8 213.7h0M237 242.9h0M184 227.2h0M199.6 187.3h0M187.2 212.9h0M290.9 217.5h0M121.1 129.1h0M245.4 258.1h0M133.5 245.3h0M133 243.4h0M174.2 222.2h0" stroke="#0000CD"/>
<path d="M261.8 224.8h0M161.4 115.6h0M229.1 70.7h0M214.9 171.6h0M165.2 151.2h0M288.2 268.5h0M252.2 71.7h0M319.7 213.9h0M174.6 81.7h0M284.7 214.2h0M275.8 212.5h0M265.7 234.1h0M152.4 135.5h0M265.3 263h0M183.2 81.9h0M137.4 111.1h0M176.9 142.8h0M171.5 150h0M285.8 238.9h0M193.8 157.1h0M237.8 209.4h0M215.8 164h0M237.7 210h0M307.8 248.7h0M274.2 81.6h0M314.1 204.7h0M263.9 281h0M169.5 172.1h0M323.4 228.8h0M265.3 230h0M182.4 81.2h0M143.2 156.4h0M194.4 69.2h0M264.4 263.2h0M267.3 74.5h0M214.9 153.4h0M261.9 72.5h0M164.1 127.5h0M351 155h0M167.2 130.5h0M315.7 241.4h0M183.6 81.7h0M197 193.9h0M313.6 204.5h0M220.7 176h0M213.4 163.3h0M129.2 165.4h0M213.1 243.4h0M199.6 151.1h0M175.5 147.4h0M177 85.3h0M176 147.3h0M212.8 214.5h0M225.3 255.2h0M163.2 117.9h0M211.5 153.6h0M266.2 262.2h0M192 203.1h0M251.7 57.8h0M263.1 279.8h0M313.5 206.8h0M172.3 141.4h0M200.4 178.8h0M313.4 208.4h0M280.4 221.4h0M196.9 66h0M313.1 209h0M300.5 250.2h0M164.9 136h0M191.5 175.1h0M297.7 211.2h0M237.3 248h0M335.7 188.9h0M200.9 154.8h0M280.8 269.9h0M237.7 202.5h0M255.6 73.1h0M258.4 222.4h0M143.9 98.2h0M266.7 284.7h0M265 220.2h0M281.8 276.4h0M241.6 266.8h0M146.6 152.2h0M266.2 68.1h0M313.8 205h0M175.8 91.6h0M336.5 177.3h0M299 262.8h0M160.4 121.8h0M212.8 74.5h0M317.6 215.5h0M196.8 216.2h0M304.5 254.9h0M160.9 121.5h0M167 82.7h0M313.6 205.7h0M185.9 68.8h0M199.2 158.1h0M192.2 166.7h0M164.3 120.7h0M259.2 229.9h0M176.4 96h0M258.4 226.5h0M255 69.2h0M258.7 227h0M208.6 237.8h0M168.6 132.4h0M205.3 202.9h0M173.4 149.9h0M192.1 75.8h0M241 209.5h0M187 218.9h0M330.8 202.8h0M273.6 283.5h0M142 108.5h0M216.9 156.9h0M242.7 220.1h0M248.2 74.3h0M227.6 70.2h0M175.7 87.6h0M157.9 161.4h0M325.3 224.7h0M228.9 206h0M296.4 267.6h0M265.6 253h0M192.2 159.9h0M227.6 204.1h0M265.9 70.2h0M285.4 271.4h0M172.7 105.3h0M307.5 246.7h0M163.8 132h0M220.8 198.4h0M303.1 94.2h0M139.8 158.5h0M292.2 215.4h0M137.7 107.9h0M334 205.3h0M260.7 226.8h0M312.3 212.2h0M284.4 244.2h0M223.8 216h0M181.9 169.5h0M334.6 189.7h0M219.1 233.5h0M289.4 210.2h0M216.7 159.1h0M180.8 87.2h0M276.9 275.6h0M252.9 214h0M167.6 145.9h0M168.6 77.1h0M259.7 273.9h0M255.3 211.8h0M334 188.9h0M241.1 209.8h0M260.4 220.7h0M155.3 102.9h0M278.6 215.8h0M223.7 201.2h0M334.1 202.5h0M172.9 100.1h0M192.8 160.1h0M171.9 152.1h0M214.5 170.6h0M191.1 151.3h0M160.6 147.4h0M242.4 68.1h0M254 281.3h0M207 198.5h0M200.4 230.9h0M172.7 150.3h0M220.4 260.7h0M311.2 106.2h0M305.5 90.2h0M254.1 280.7h0M331.7 126h0M261.8 221.1h0M301.4 260.5h0M175.4 82.3h0M216.8 159.9h0M227.6 220.9h0M265.1 260.3h0M136.7 156.5h0M206 184.8h0" stroke="#FF3300"/>
<path d="M292.6 246.1h0M279.3 82.6h0M165.5 132.9h0M161.4 83.2h0M266.7 249.6h0M215.2 168.8h0M200.4 176.9h0M289.6 216.9h0M127.4 192.4h0M177.9 165h0M243.8 271h0M258.4 263.6h0M273.5 271h0M195.2 151.2h0M259.9 274.4h0M197.2 76h0M217.8 191.7h0M237 65.6h0M116.3 153.6h0M137.9 131.8h0M223.4 199.7h0M280.6 217.4h0M175.8 207.2h0M192.5 151.1h0M168.1 110.8h0M133.2 119.1h0M239.2 204.1h0M222 68.4h0M187.2 78h0M146.5 131.2h0M261.5 279.1h0M263.9 218.4h0M321.2 229.8h0M180.7 88h0M200.6 224.2h0M331.4 192.2h0M171.2 80.1h0M271.8 281.2h0M121.6 136.3h0M287.4 269h0M153.8 152h0M193.6 174.6h0M242.6 242.2h0M331.2 149.7h0M208.2 238.3h0M217.4 177.9h0M205 153.1h0M134.1 136.8h0M162.9 115.5h0M255.7 264.3h0M212.3 182.7h0M301.4 242h0M302.4 249.6h0M302.3 209.8h0M125.5 146.8h0M271.8 78.2h0M189.7 176.8h0M298.4 264.9h0M260.9 214.4h0M302.3 212.5h0M309.6 241.9h0M174.7 101h0M169.2 142.8h0M269.4 71.4h0M281.2 218.6h0M172.5 167.3h0M317.8 125.9h0M151.4 91.6h0M175.1 170.4h0M282 275.2h0M129.3 95.7h0M197.8 182.7h0M173.7 201h0M286.1 214.3h0M161.9 122.5h0M223.4 218.3h0M190.6 202.9h0M276.1 83.6h0M148.3 143.3h0M268.5 232.3h0M232.2 207.1h0M337.2 190.9h0M199.6 218.4h0M213.9 239.2h0M177.1 144.2h0M228.3 209.1h0M198.5 69.3h0M238.1 263.4h0M316 241.9h0M142.9 159.2h0M168.6 149.4h0M201.6 230.3h0M125.1 123.8h0M259 214h0M206.3 183.6h0M185.7 199.6h0M157.7 133.2h0M143.8 101.4h0M156.9 153.8h0M175.1 89.5h0M253.9 211h0M176.9 144.5h0M213.2 157.4h0M226.1 204.9h0M128.1 196.4h0M258.2 213.3h0M333.8 204.7h0M214.3 73.7h0M282.6 267.6h0M220.6 195h0M180.4 86.9h0M167.5 170.7h0M211.7 240.1h0M259.4 227h0M298.8 250.9h0M265.9 235.6h0M251.7 280.5h0M205.9 68.8h0M168.1 130.3h0M277.2 218.8h0M176.4 143.1h0M115.9 145.8h0M260.8 218.3h0M251.8 73.7h0M278.5 80.2h0M328.9 138.5h0M124.7 169.2h0M202.5 164.3h0M244.9 217.7h0M269.1 229.1h0M250.7 212.4h0M140 109.9h0M143.6 98.9h0M306.3 103.7h0M182.6 148.7h0M311.7 263.3h0M329.8 176.1h0M261.9 264h0M331.9 197h0M284.6 82.7h0M148.4 145h0M314.1 239.6h0M165.2 119.1h0M249.4 263.7h0M340 157.8h0M168.4 162.8h0M313.4 127.7h0M322.5 212.8h0M293.6 209.9h0M220 201.8h0M269.1 256.6h0M235.3 208.3h0M193.7 193.3h0M264.1 274.7h0M280.4 279.1h0M241.6 275.3h0M298.2 91.2h0M161.8 135.3h0M142.4 93.6h0M302.7 216.8h0M175.8 198.3h0M202.6 199.3h0M213.4 63.3h0M265.2 284.3h0M252.6 231.2h0M199.7 154.3h0M337.2 166h0M175.3 207.4h0M329.1 206.9h0M250.5 71.9h0M159.7 86.7h0M145.9 83.3h0M143.5 169.4h0M311.5 208.4h0M310.4 215.9h0M165.6 109.6h0M139.6 153.3h0M318.6 239.1h0M193.2 157.6h0M147.5 129.5h0M170.9 147.6h0M212.9 168h0M310.2 205.8h0M265.1 215.9h0M268.7 279.4h0M210.9 189.5h0M303.5 208.6h0M277 215h0" stroke="#FF3300"/>
<path d="M112.1 195.1h0M187.7 198.3h0M163.4 93.5h0M176.8 186h0M135 206.6h0M149.4 215.2h0M111.5 172.1h0M181.4 279.4h0M180.7 182.4h0M279.6 267.6h0M130.9 154h0M178.5 189.9h0M115.3 220.9h0M297.1 259.8h0M299.8 242.9h0M182.9 186.1h0M265.8 239.6h0M310.9 221.3h0M176.9 85h0M125.3 189.8h0M205.4 291.3h0M205.3 194.4h0M125.9 132.1h0M264.7 242.2h0M287 267.5h0M261.6 247.4h0M121.8 190.9h0M162.2 217.2h0M246.2 279.6h0M179.8 179.8h0M177.2 282.8h0M227 276.5h0M134.8 244.5h0M103.8 126.3h0M171.1 85.6h0M261.1 253.9h0M144.1 170.8h0M266.8 270.7h0M316.6 264h0M246.7 216.6h0M143.7 204.2h0M234.3 235.4h0M230 270.3h0M154.4 203.5h0M99.7 131.6h0M163.9 147.4h0M201.6 183.4h0M147.8 261.9h0M125.5 128.9h0M161.5 154.9h0M121.6 221.7h0M193.8 232.5h0M197.2 180.9h0M227.8 225.1h0M214.3 294.6h0M177.6 191.2h0M126.5 196.8h0M240.8 232.1h0M181 185.6h0M209.3 157.2h0M106.1 150.9h0M169.5 158.4h0M133.8 208.3h0M157.8 222.8h0M180.1 198.2h0M219.4 250.9h0M166.3 211.7h0M178 187.5h0M118.7 203.7h0M229.5 296.3h0M128.8 125.3h0M174.2 87.1h0M189.2 226.8h0M208.4 294.2h0M120.2 179.8h0M113.7 161.2h0M177.7 212.7h0M123.6 126.9h0M126.5 199.2h0M266.6 236.8h0M166.7 173.8h0M194.8 231.2h0M113.7 206.7h0M228.9 217.2h0M188.2 225.9h0M191.3 225h0M151.2 159h0M172.9 178.5h0M118.3 257.3h0M259.9 245.7h0M312.3 216h0M135.7 187.7h0M243.3 214.5h0M170.8 211h0M152.4 217.8h0M296 241h0M156 171.9h0M175 278.6h0M157 265.6h0M158 169.9h0M185.9 230.1h0M184.5 192.3h0M163.2 164.4h0M227 273.9h0M174.4 83.3h0M186.7 226.5h0M222.7 215.3h0M245.7 275.7h0M204.9 236.7h0M167.9 223.1h0M184.3 219.4h0M163.3 165.7h0M110.7 218.4h0M256.9 261.3h0M155.9 167.7h0M185 202.4h0M210.1 188.2h0M218.8 205.1h0M140.8 167.7h0M231.7 231.2h0M238 250.5h0M159.7 105.2h0M157.4 214.6h0M187.5 174.2h0M214.5 231.5h0M186 197.1h0M171.4 214.2h0M187.1 285.8h0M139.8 188h0M287.3 216.8h0M258.8 272.3h0M177.8 199.5h0M131.9 199.1h0M144.2 167.8h0M172 203.6h0M201.5 191.8h0M135.8 198.6h0M223.2 275.4h0M144.8 155.9h0M237.7 241h0M252.8 227.7h0M209.5 182.7h0M142.6 253.7h0M230.5 225.5h0M250.9 264.2h0M243.9 213.3h0M189.5 213.6h0M213.4 228.1h0M157.6 216.2h0M214.3 247.7h0M244 246.7h0M224.5 204.7h0M111.4 192.4h0M234.1 276.3h0M287.3 269.9h0M180.8 279.7h0M261.3 246.6h0M171.3 178h0M192.6 231.1h0M172 226.4h0M195.9 235.9h0M168.8 99.6h0M127.6 153.7h0M199.9 198.3h0M206 183.2h0M227.4 224.4h0M215.5 291.1h0M153.6 175h0M181 171.2h0M210.1 162.2h0M90.7 177.8h0M132.1 157.6h0M117.7 185.1h0M179.6 173h0M153 215.4h0M189.2 197.1h0M171.3 207.2h0M147.8 261.7h0M173.2 147.8h0M124.9 224.7h0M169.4 273.4h0M186.1 166.3h0M117.9 160.6h0M224.1 222.3h0M110 185.9h0M207 207.8h0M201.5 238.6h0M145.3 256.9h0M309.7 247.2h0M148.8 215.3h0" stroke="#0000CD"/>
<path d="M160 214.5h0M174.3 178.4h0M173.7 85.5h0M206.1 231.7h0M158 88.9h0M258.3 219.4h0M211.8 256.6h0M265.7 226.3h0M194.5 176.2h0M112.6 213.2h0M149.1 217h0M206.1 183.3h0M178.5 226.8h0M133 165.4h0M229.1 207.5h0M221 297.1h0M169.9 156.6h0M217.9 249.8h0M195.2 180.5h0M225.4 296.9h0M183.3 196.1h0M238.6 247h0M126.9 171.9h0M210.9 246.7h0M208.3 225.3h0M188.3 194.8h0M152.3 91.2h0M147.7 173h0M210 246.6h0M158 168h0M156.3 209.6h0M201.3 192.1h0M133 128.6h0M215.5 255.9h0M174.4 223h0M223.6 267.1h0M313.6 246h0M234.6 216.6h0M184.6 214.6h0M165.5 189.8h0M211.3 205.3h0M223.6 212.5h0M176.4 86.9h0M131 198.3h0M163.6 145.3h0M217.8 269.9h0M259.3 246h0M175.9 223.8h0M117.9 151.9h0M172.4 93.7h0M159.4 222.2h0M158.3 215.7h0M182.8 228.8h0M172.4 208.3h0M197.2 171.3h0M118.6 218.8h0M174.4 226.2h0M218.8 263.8h0M158.9 86.3h0M171.5 150.8h0M116 184.7h0M299.4 261h0M149.7 77.5h0M162.6 213.1h0M121 134.5h0M172 169.1h0M259.9 223.3h0M164.4 134.9h0M240.1 282.2h0M126.6 257.3h0M135.4 155.2h0M253.4 286.2h0M164.1 176.6h0M217.8 229.1h0M149.8 160.3h0M116.3 209.8h0M164.1 211h0M232.1 283h0M260.1 244.2h0M139.3 104.7h0M119.8 151.8h0M157.2 97h0M258.3 253.3h0M178.3 189.1h0M154.5 216.5h0M114.9 172.3h0M263 233.4h0M185.4 212.4h0M131.7 160.5h0M215.8 201.1h0M159.5 102h0M151.5 163.6h0M178.5 226.7h0M196.7 234.8h0M110.5 188.9h0M142.3 247.6h0M129.6 202.5h0M210 242.8h0M227.4 273.4h0M177.4 88.4h0M178.8 154.5h0M157 85.7h0M225.2 267.6h0M182.6 203.6h0M273.9 230.9h0M196.2 234.1h0M169.8 206.7h0M138 161.7h0M191.2 227.7h0M273.7 284h0M164.6 212.8h0M212.1 244.3h0M201.7 178.5h0M131.8 204.6h0M250.1 216.5h0M126 201.3h0M123.1 185.2h0M159.9 267.9h0M125.5 192.2h0M222.7 236.5h0M220 301.9h0M174.1 201.6h0M167.4 148.4h0M227.5 276.3h0M130.5 239.2h0M138.3 206.6h0M182.7 171.2h0M182.4 206.8h0M164.4 187.1h0M94.8 173.6h0M206 157.2h0M150.8 217h0M143.4 202h0M144.6 168.7h0M208.2 210h0M183.9 184.3h0M109.7 118h0M125.3 199.7h0M140.6 209.3h0M147.1 163.9h0M256.8 256.3h0M114.9 194.9h0M215.9 255.7h0M213.5 186.7h0M114.5 156.9h0M226.3 231h0M248.8 228.1h0M113.5 215.4h0M111.4 159.1h0M257.1 252.1h0M138.3 209.6h0M263.2 285.9h0M243.2 215.1h0M153.4 217.4h0M197.3 234.1h0M228.4 276.3h0M135.2 158.9h0M300.9 236.7h0M178.4 174.1h0M133.4 151.5h0M140.6 109.8h0M205.9 290.7h0M234 219.9h0M161.4 178.1h0M252.4 216.5h0M202.5 204.3h0M139.1 155.1h0M196.4 177.4h0M128.9 231.4h0M202 231.1h0M200.6 190.4h0M162.7 133.5h0M179.8 184.8h0M124.4 164.6h0M152.5 168.7h0" stroke="#0000CD"/>
<path d="M249.5 227.2h0M314.4 208.8h0M161.2 114.3h0M214.1 178.4h0M339.3 144.7h0M210.7 74.7h0M217.1 246.7h0M167.5 151.5h0M242.8 205.8h0M174.9 98.2h0M305.2 99.9h0M308 208.1h0M207.4 187.1h0M215.7 183.8h0M150.4 137.8h0M208.2 154.8h0M219.5 173.9h0M265.5 219.3h0M163.9 114.6h0M204.3 236.3h0M321.9 213.1h0M274.6 218.6h0M167.4 114.5h0M318.2 207.4h0M214.8 187h0M150.6 209.7h0M149.3 97.4h0M177.1 162.6h0M182.8 151.7h0M148.1 97.7h0M309.2 207.4h0M250.3 220.6h0M153.2 161.2h0M300.3 93.4h0M320.9 108.6h0M219.8 184.5h0M319 127.6h0M161.9 137.7h0M326.7 210.9h0M307.8 215.4h0M153 129.8h0M331.7 253.6h0M145.9 199.1h0M166.3 116.2h0M240 272.2h0M143.6 132.9h0M138.6 155.6h0M199.6 152.5h0M256.1 253.3h0M240.7 66.7h0M199.2 177.2h0M297.2 81.2h0M316.7 226.8h0M261.2 270.6h0M333.1 231.6h0M173.2 166h0M204.1 153.1h0M216.5 54.3h0M324.1 107.4h0M141.2 160.9h0M173.7 83.5h0M134.2 126.7h0M156.9 90h0M283 217.1h0M277.6 84.6h0M231.1 203.5h0M266.3 265.3h0M285.7 86.8h0M239.6 273.8h0M196.6 216.4h0M246.4 69.1h0M166.9 105.9h0M301.3 214.7h0M170.6 104.6h0M294.3 88.3h0M166.9 119.2h0M139.5 126.4h0M300.4 251.8h0M260.7 238.1h0M265.6 263.9h0M197.9 195.6h0M271.7 289.5h0M141.3 156h0M230.7 277h0M212.7 166.3h0M149.1 132.7h0M319 108.3h0M281.2 216h0M125.8 164.8h0M263.7 254.9h0M300 211.6h0M121.9 152.9h0M168.4 136.9h0M248.3 213.2h0M336.7 194.1h0M172.3 149h0M166.4 119.2h0M249.6 219.4h0M302.5 209.7h0M321.3 215h0M197 206.3h0M174.5 202.2h0M260.2 228.6h0M333.8 139.8h0M166.3 138.6h0M199.1 195.6h0M233.6 206.5h0M236.4 250.9h0M165.6 83.3h0M286.4 212.6h0M161.8 166.7h0M187.6 151.6h0M164.3 147.9h0M144.4 97.6h0M180.9 170.7h0M166.6 140.8h0M236.7 285.7h0M231.5 201.4h0M263.5 230.6h0M173.4 167.3h0M170.9 98.7h0M115.4 147.2h0M162.4 216.3h0M243.6 212.1h0M134.8 104h0M182.7 168h0M277.1 83.4h0M261.6 269.8h0M131.7 152.3h0M172.3 84.1h0M261.5 262.1h0M336.2 186h0M269.4 281.2h0M259.4 240.5h0M164.5 108.8h0M115.5 123.3h0M240.7 271.6h0M340 181.9h0M133.1 194h0M176.7 168.6h0M184.6 82.6h0M158.4 144.6h0M181.2 86.8h0M264.2 226.6h0M222.4 68.9h0M231.1 210.9h0M313.4 227.9h0M135 135.5h0M318.9 126.1h0M145.5 206.9h0M177.1 150.7h0M252.9 211.3h0M318.6 212.1h0M198.6 74.1h0M208.3 72.6h0M214.7 184.7h0M333.7 181h0M191.4 169.8h0M140.9 144h0M146.7 143.6h0M164.8 126.2h0M175.1 96.6h0M156.8 119.1h0M332.9 156.7h0M317.9 101.9h0M232.8 203.1h0M163.8 88.3h0M246.7 205.9h0M215.9 214.1h0M357.2 217.1h0M189.8 169.5h0M212.3 153.2h0M279.9 85.8h0M195 158.7h0M231.4 204.7h0M153.5 88.4h0M156 148.9h0M145.2 160.7h0M200.7 218.4h0M259.5 269.1h0M128.6 117.8h0M253 226.5h0M274.8 217.2h0M168.3 167.5h0M313.3 213.2h0M156 158.7h0M193.7 219.5h0M166.7 139h0M255.4 259.1h0M333.8 202.8h0M258.1 279.7h0M263.4 279.3h0M244.5 212.9h0M180.1 86.8h0M143.7 203.9h0M179.6 170.4h0M316.3 119.6h0M216.4 241.9h0M207.9 227.8h0M147.7 135.4h0M208.1 191.5h0M185.8 151.3h0M170.1 105.2h0" stroke="#FF3300"/>
<path d="M212.7 236.8h0M201.5 202h0M216.6 186.3h0M217.5 164.1h0M283.2 214h0M215.8 184.7h0M226.3 264.4h0M189.8 180.6h0M193.7 179.1h0M248.8 213.6h0M178.8 94.6h0M170.8 142.3h0M220.3 202.8h0M171.3 204h0M168.3 167.7h0M244.3 204.5h0M306.1 212.5h0M197.3 157.5h0M250.9 214.2h0M317.9 210.2h0M217.5 188.5h0M335.6 178.3h0M136.9 146h0M269.4 237.5h0M179.9 81.5h0M213.4 75.3h0M200.9 207.6h0M261.3 244.2h0M295.2 268.8h0M256.2 238.7h0M298.2 209.4h0M266.6 249h0M317.5 227.5h0M176.9 77.8h0M233.2 201.5h0M204.3 234.6h0M171.1 96.1h0M282.7 85.8h0M187.8 153.3h0M176.6 166.8h0M188.9 157.2h0M178.1 164.8h0M252.4 238.4h0M200.3 198.2h0M213.7 192.1h0M318 225.9h0M173.4 72.2h0M178.9 148.1h0M302.7 253.4h0M147.3 205.4h0M222.3 203.2h0M264.9 277.3h0M200.2 162.4h0M261.7 218.6h0M162.8 216.9h0M181.5 149.6h0M234.1 250h0M215.2 162.4h0M220.5 207.1h0M140.5 149.6h0M141 167.7h0M138.9 111.9h0M317.1 126.6h0M175.4 101.9h0M295 265.3h0M230 70.6h0M230.3 61.2h0M180.7 166.3h0M150.8 209.2h0M239.6 267.5h0M326.2 141.3h0M133.2 152.8h0M282.5 239.5h0M340 181.9h0M196.8 157.5h0M218.2 192h0M212.5 181.9h0M288.6 248.2h0M303.5 213.5h0M284.3 214.9h0M312 244.4h0M166.3 80.8h0M309.1 208.1h0M171.4 112.6h0M254.5 221h0M172.2 98.9h0M212.1 69.4h0M158.3 106.7h0M170.4 139.7h0M314.6 208.7h0M318 118.7h0M199.9 209.8h0M332.8 144.4h0M189.3 191.9h0M223.9 258.5h0M130 162.3h0M240.8 203.7h0M336.6 213.6h0M252.7 222.3h0M190.1 157.8h0M219.5 208.4h0M260.7 214.5h0M271.4 217.5h0M284.4 265h0M310.5 215.1h0M123.6 137.1h0M171.8 92.3h0M268.4 231.8h0M330.8 207.5h0M287.2 267h0M333.6 147.5h0M172.6 90.6h0M280.5 220.2h0M171.8 201.3h0M213.5 171h0M233.6 264.4h0M270 214.2h0M148.9 95.7h0M213.2 168.8h0M163.2 143.4h0M244 205h0M251.5 68.4h0M169.3 141.5h0M251.5 211.2h0M307.7 105.5h0M324.1 139.6h0M218.5 243.7h0M137.9 114.6h0M241.5 207.8h0M170 150.8h0M202.1 176.9h0M304.9 93.3h0M319 227.7h0M191.4 222.3h0M229.3 257.2h0M151.2 208.8h0M301.3 255.6h0M303.3 206.6h0M315.2 245.1h0M177 207.6h0M121 101.9h0M284.5 251.5h0M194.1 161.6h0M337.2 190.9h0M237.3 212.6h0M192.1 205.4h0M337.8 179.2h0M168.9 111.6h0M228.6 62.6h0M178.4 90.5h0M321.7 208.4h0M211.2 242.3h0M197.6 165.4h0M156.9 155h0M180.6 148.6h0M226.8 65.3h0M198.1 152.4h0M216.6 158.9h0M277 283.4h0M183.7 86.6h0M295.1 84.1h0M147.6 149.7h0M208.5 75h0M223.7 199.3h0M174.7 85.2h0M335.5 188.5h0M288.4 220.4h0M288.8 211.8h0M218.2 174.9h0M161.6 120.2h0M116.2 141.2h0M211.8 242.4h0M232.6 223.6h0M213.1 155.4h0M133 118.5h0M330 214h0M167.7 126.5h0M276.1 212.9h0M252.8 239.2h0M227 208h0M167.3 121h0M171 167.6h0M247.5 278.5h0M226 212.1h0M192.4 169.6h0M298.6 210.2h0M184 169.4h0M205.1 173.6h0M269.7 215.6h0" stroke="#FF3300"/>
<path d="M205.1 214.4h0M90.7 177.8h0M189 201.6h0M235.1 233.9h0M162.1 167.1h0M181 220.5h0M134.6 206.8h0M170.7 182h0M175.6 182h0M152.1 176.9h0M197.5 176.6h0M103.1 190.2h0M176.3 181.7h0M216.7 250.7h0M219.9 231h0M135.1 204.4h0M162.7 146.6h0M170.2 209.1h0M137.3 246.5h0M141.4 201.6h0M214.4 180.2h0M117.6 193.4h0M191.8 285.7h0M197.3 179.2h0M201.5 187.8h0M119.7 193.4h0M187.5 212.3h0M121.7 156.4h0M154.3 161.8h0M298.9 233.3h0M218.8 256.4h0M175.5 216.7h0M138.6 147.8h0M117.1 143.5h0M156.4 217.9h0M116.6 195.7h0M263.3 287.6h0M259.3 248.6h0M258.1 261.2h0M197 287.7h0M104.5 179.8h0M184.4 185.9h0M204.4 178.6h0M227.4 277.9h0M113.7 176.6h0M218.8 254.5h0M216.8 200.8h0M182.9 185.4h0M121.2 122.9h0M168.6 219.2h0M164.7 142.9h0M161.2 136.3h0M181.8 152.5h0M264.7 237.8h0M128.6 159.5h0M145.3 204.9h0M186.7 193.6h0M297.2 238.9h0M191.9 229.4h0M192.2 225.1h0M213.9 198.5h0M176.8 88.9h0M164.6 156.1h0M179.2 213.1h0M161.8 265.3h0M165.5 167.9h0M202.7 232.8h0M114.8 154.6h0M260 287.4h0M207.1 191.1h0M192.9 227h0M293.4 260.3h0M227.1 207.6h0M264.3 248.2h0M166.3 162.7h0M178.8 204.6h0M144.9 169.6h0M207.1 289.9h0M261.7 259.5h0M258.2 266.8h0M110.6 194.7h0M177.1 200.3h0M202.4 186.1h0M232 282.6h0M163.4 102.7h0M136.7 147.5h0M140.9 210.1h0M112.1 115.3h0M206.3 220.6h0M236 277.2h0M224.4 241.8h0M142 163.1h0M185.6 219.3h0M139.5 203.2h0M178.8 189.5h0M158.7 190.3h0M180 219.1h0M172.9 87.3h0M154.3 90.2h0M118 183.9h0M216.1 255.2h0M240 293.6h0M155.1 175.2h0M266.8 233.9h0M259.8 268.5h0M212.6 205.3h0M185 223.8h0M146.5 213.4h0M130.4 240.6h0M131.7 206h0M181.5 189.8h0M158 168.3h0M195.8 209.2h0M137.7 162.1h0M153.7 173.5h0M135 237.4h0M106.6 180.2h0M171.1 215.5h0M124.5 198.9h0M165.8 172.2h0M197 228.9h0M166.2 179.7h0M157.5 97.4h0M171.4 162.1h0M256.5 219.8h0M129.7 200.5h0M129 150.7h0M121.7 197.8h0M185.4 209.9h0M160.6 171.7h0M237.4 259.7h0M129 165.8h0M210.5 193.6h0M220 254.8h0M139.7 150.6h0M164.9 203.1h0M134.9 158.1h0M156.3 139.2h0M257.1 287h0M173.1 167h0M249 240h0M187.6 222.3h0M133.5 186.6h0M178 207.9h0M182.4 193.7h0M199.3 184.2h0M230 276.2h0M155.2 88.9h0M107.2 120.5h0M210.8 185.1h0M254 243.7h0M158.7 178h0M225.4 231.7h0M240.5 285.5h0M186.7 228h0M152 168h0M294 260.8h0M177.5 276.1h0M174.6 187.4h0M142.6 165h0M130.1 181.8h0M197.4 224.8h0M228.1 235.9h0M199.9 237.6h0M211.9 183.2h0M229.9 279.4h0M162.1 223.1h0M198.9 180.4h0M260.4 253.4h0M260.1 253.6h0M158.8 195.6h0M246.4 232.4h0M231.7 209.1h0M92.8 189.5h0M266.2 221.2h0M168.2 226.6h0M219.2 216.7h0M120.9 156.7h0M230.3 294.5h0M199.7 308.1h0M156.6 88.9h0M342.8 230.9h0M258.6 223.8h0M212.8 207.5h0M196.3 236.9h0M213.5 178.5h0M178.6 151.9h0M219 304h0M179.3 189.4h0" stroke="#0000CD"/>
<path d="M305.2 144.7h0" stroke="#0000CD"/>
<path d="M280.4 176.4h0" stroke="#0000CD"/>
<path d="M277.7 206.8h0" stroke="#0000CD"/>
<path d="M316.3 209.6h0" stroke="#0000CD"/>
<path d="M280.4 275.8h0" stroke="#0000CD"/>
</g></g>
<g transform="translate(393.2 417.3)">
<use href="#fr"/>
<text class="k" transform="translate(135.8 354.2) scale(0.98 1.04)" text-anchor="middle">-5</text><text class="k" transform="translate(66.4 270.8) scale(0.98 1.04)" text-anchor="end">-5</text><text class="k" transform="translate(207.1 354.2) scale(0.98 1.04)" text-anchor="middle">0</text><text class="k" transform="translate(66.4 203.1) scale(0.98 1.04)" text-anchor="end">0</text><text class="k" transform="translate(278.4 354.2) scale(0.98 1.04)" text-anchor="middle">5</text><text class="k" transform="translate(66.4 135.3) scale(0.98 1.04)" text-anchor="end">5</text><text class="k" transform="translate(349.6 354.2) scale(0.98 1.04)" text-anchor="middle">10</text><text class="k" transform="translate(66.4 67.6) scale(0.98 1.04)" text-anchor="end">10</text><text class="a" transform="translate(223 388) scale(0.97 1.04)" text-anchor="middle">x1</text><text class="a" transform="translate(23.3 182.3) rotate(-90) scale(1.0 1.03)" text-anchor="middle">x2</text>
<text class="t" transform="translate(77.6 23.7) scale(1.0 1.0)">g.ipw</text>
<g fill="none" stroke-width="9.6" stroke-linecap="round">
<g clip-path="url(#mc)">
<use href="#mass" fill="#0000CD"/>
<path d="M95.6 126.8L123.2 88.2L150.8 60.6L170.1 60.6L170.1 77.1L167.3 102L164.6 124L178.3 143.3L175.6 154.4L150.8 148.9L123.2 148.9L109.4 143.3Z" fill="#FF3300"/>
<path d="M200.4 74.4L200.4 44L261.1 44L316.3 74.4L343.9 124L354.9 159.9L343.9 187.5L343.9 215.1L283.2 204L277.7 187.5L266.6 165.4L261.1 143.3L244.6 124L222.5 110.2Z" fill="#0000CD"/>
<path d="M283.2 204L343.9 215.1L371.4 226.1L332.8 270.2L299.7 297.8L272.1 303.3L239 303.3L222.5 281.3L217 259.2L233.5 242.7L239 226.1L233.5 204L255.6 209.6L272.1 215.1Z" fill="#FF3300"/>
<path d="M170.1 60.6L200.4 44L200.4 74.4L222.5 110.2L244.6 124L261.1 143.3L266.6 165.4L274.3 183.3L279 201.3L267.2 211.8L252.8 207.3L233.5 203.5L217 187.5L189.4 182L178.3 170.9L178.3 143.3L164.6 124L167.3 102Z" fill="#FF3300"/>
<path d="M200.4 74.4L222.5 110.2L244.6 124L261.1 143.3L266.6 165.4L274.3 183.3L279 201.3L291.4 194.4L286.8 176.4L279 158.5L273.5 136.4L257 117.1L234.9 103.3L212.8 67.5Z" fill="#FF3300"/>
</g>
<path d="M168.2 156.3h0M152.1 152.2h0M306.9 212.5h0M161.2 154h0M133.4 121.2h0M245.8 70.2h0M236.4 218.4h0M233.8 218.7h0M288.5 131h0M300.1 130.3h0M324.2 156.3h0M282.7 248h0M251.7 57.8h0M290.4 199.5h0M281.4 209.7h0M268 139h0M281 202.4h0M234.5 237.7h0M306.7 95.3h0M229.6 200.7h0M220.9 77.5h0M111.4 159.1h0M268.7 109.5h0M217.8 78.5h0M262.2 122.9h0M261.6 136.6h0M313.3 205.4h0M266.7 211.9h0M275.5 258.9h0M136 244.7h0M284.7 206.9h0M263.7 145.2h0M217 189.5h0M109.8 176.2h0M114.7 202.8h0M118 149.1h0M310 153.2h0M323.4 211.6h0M225.9 286.5h0M236.7 206.1h0M193.9 188.1h0M247.5 97.9h0M183.4 183.3h0M229.6 87.8h0M229.4 246.6h0M297.8 197.1h0M281.1 92.8h0M272.9 281.8h0M275.1 149h0M164.3 153.9h0M122.4 267.7h0M230.8 295.7h0M178.6 172.7h0M140.8 143.8h0M276.1 206.1h0M204.6 188.8h0M306.4 222.9h0M272.7 207.3h0M170.2 155h0M136.9 149.1h0M278.5 179.7h0M223.8 201.2h0M213.4 63.3h0M118.3 257.3h0M145 151.4h0M231.3 101.4h0M306.6 98.9h0M287.9 188.8h0M260.5 140.1h0M259.2 284.7h0M160.5 103.6h0M274.7 83h0M316.4 208.2h0M162.5 134.8h0M126.1 149h0M215.5 192.2h0M161.3 155h0M250.9 99h0M233.5 67.9h0M136.9 257.3h0M280.2 89.7h0M252.3 263.4h0M219.7 256.8h0M269.3 170.3h0M135.5 148.9h0M250.5 79.5h0M243.6 107.3h0M159 112.2h0M284 206.5h0M243.2 211.5h0M271.5 164h0M250.3 242.7h0M179.3 173h0M276.7 82h0M254.4 121.7h0M261.2 132.1h0M253.3 236.2h0M284 133.7h0M250.9 96.3h0M238.2 103.1h0M142.3 146.2h0M177.7 171.7h0M261.4 280.8h0M201.4 185.7h0M317 181.8h0M159.6 153.6h0M256.5 130.3h0M269.4 162.6h0M295.8 232.9h0M307.4 146.3h0M297.2 81.2h0M303.2 180.1h0M223.3 199.4h0M234.1 70h0M248.8 260.7h0M309.9 113.8h0M208.1 189.6h0M317.7 147.4h0M251.8 119.5h0M319.2 143.2h0M324.1 107.4h0M199.3 185.5h0M260.7 234.6h0M214.4 270.7h0M238.5 92.2h0M112.6 165.4h0M173.8 167.9h0M252.8 127h0M261 235h0M99 172.9h0M216.9 252.8h0M288.7 152.6h0M136 147.3h0M271.6 141.8h0M221.4 85h0M272.4 114.3h0M281.6 175.4h0M307.2 186.8h0M317.4 133h0M250 86.5h0M218.9 193.3h0M215.1 267.9h0M271.5 212.3h0M159.8 123.2h0M151.6 154.5h0M282.4 182.4h0M231.1 206.1h0M219.3 279h0M161 114.8h0M326.7 199.4h0M315.3 162.1h0M214.8 268.9h0M228.4 201.4h0M289.6 192.7h0M265.3 104.8h0M276.2 283.8h0M297.7 237.5h0M109.7 181.6h0M221.4 250.7h0M228 246.7h0M280.3 151.7h0M142.9 147.6h0M127.3 132.2h0M335.2 162.1h0M272.9 168.6h0M298.1 227.6h0M322.4 221.3h0M120.2 225.9h0M291.7 107.9h0M282.1 246.6h0M259.4 275.9h0M137 112.6h0M259.6 69.6h0M151.7 264.4h0M199.7 308.1h0M164.7 90.9h0M274.8 99.6h0M220 282.6h0M166.9 91.5h0M224 244.5h0M156.5 94.1h0M249.4 107.4h0M282.9 211.9h0M303.8 157.8h0M237.6 72.7h0M267.1 130h0M118.2 156.7h0M154.1 153.3h0M162.3 128.4h0M252.5 91.5h0M279.9 154.1h0M333.7 162.1h0M283.4 190.5h0M241.4 83.3h0M305.6 228h0M128.5 118h0M253.1 209.3h0M244.7 120.3h0M236 92.6h0M185.6 180.4h0M122.5 151.8h0M271.5 128.4h0M149.8 262.5h0M220 301.9h0M291.1 193.3h0M256.4 208.5h0M209.2 188h0M236.6 79.1h0M283.2 188.2h0M285.5 110.8h0M259.4 285.7h0M299.3 100.8h0M272.8 268.4h0M313.5 211.2h0M301.4 162.2h0M314.4 149.6h0M237.3 64.8h0M174.7 158.9h0M258.5 281.4h0M267 110.6h0M135.7 149.9h0M130.9 117.4h0M290.4 140.9h0M252.1 121.8h0M257 285h0M241 120.2h0M306.9 106.6h0M163.8 107.6h0" stroke="#0000CD"/>
<path d="M129.8 143.5h0M200.8 83.9h0M270.9 182h0M247.4 262.1h0M273.9 198.8h0M240 233h0M225.1 106.9h0M242.6 103.2h0M319.3 112.7h0M222.6 116h0M285 181h0M233.3 115.6h0M289.7 198.1h0M219.4 106.9h0M303.1 206.3h0M203.3 83.2h0M305.4 212.3h0M209.8 74.8h0M252.8 280.3h0M218.1 100.9h0M271.7 194.2h0M275.4 158.1h0M247.8 134.4h0M182.1 159.2h0M254.9 143.3h0M318.1 205.2h0M234.8 284.1h0M205.9 82.8h0M288.9 174.5h0M142.4 93.6h0M258 149.2h0M261.7 147.5h0M138.4 145.3h0M144.8 98.6h0M172.7 141h0M319.6 194.9h0M234.2 115.1h0M156.2 111.3h0M315.5 213.3h0M318.2 225.3h0M137.2 110h0M223.8 67.9h0M300.6 94h0M301.4 260.5h0M229.8 247h0M327.9 205.4h0M278.2 171.1h0M334.9 204.4h0M178.7 150.4h0M275.6 142h0M211.1 87.6h0M260.8 153.1h0M221.1 186.3h0M217.5 93.2h0M160.5 148.8h0M225.3 91.9h0M294.9 205.7h0M254 143.1h0M221.8 187.1h0M256.3 142h0M276.5 195.6h0M235.8 108h0M287.2 182.7h0M214.8 95.7h0M210.7 84.9h0M287.8 180h0M288.3 167.9h0M172.8 132h0M247 205.4h0M295.9 206.4h0M272.7 187.8h0M169.7 99.5h0M267.6 173.9h0M231.4 107h0M273.3 186.1h0M173.4 72.2h0M177.9 136.9h0M281.1 182h0M245.4 114.7h0M235.5 246.2h0M247 244.1h0M267.8 168.8h0M178.9 167.9h0M280.6 219.4h0M183.8 142.6h0M309 238.5h0M209.2 96.3h0M168.3 105.3h0M276 180.6h0M276.6 81.8h0M266.3 150h0M224.7 191.9h0M282.3 120.1h0M328.8 210.7h0M220.5 257.9h0M279.3 117.5h0M306 109.6h0M170.9 141.8h0M158.3 101.4h0M211.4 102.5h0M317.7 225.2h0M246.1 249.9h0M258.6 241.2h0M302.4 133.9h0M264.4 225.7h0M330.2 153h0M167.9 121.4h0M304.9 115.1h0M167 82.2h0M232.2 121.4h0M299.8 111.8h0M212.8 183.4h0M333.7 181.3h0M333.8 139.8h0M262.3 214.7h0M136.5 131.7h0M245.8 124h0M304.4 208h0M304.2 196.2h0M229.8 251.5h0M287.6 200.4h0M169.3 101.2h0M286.1 204.3h0M172.1 128.2h0M336.6 213.6h0M317.9 230.9h0M270 248.7h0M260 138.8h0M298.1 233.2h0M179.5 138.1h0M224.9 91.7h0M258.1 205.6h0M224.5 94.6h0M273.9 184.1h0M307.8 224.6h0M294.1 267.1h0M291.6 213.2h0M194.8 71.1h0M231.4 117.6h0M286.4 165.4h0M225.4 90.1h0M185.4 174h0M168.9 92.7h0M290.1 208.3h0M237.4 111.3h0M242.2 113.3h0M183.4 158.9h0M278.5 139.6h0M288.2 197.9h0M288.4 179.9h0M331.7 126h0M232.2 196.7h0M292.1 175.7h0M289.2 271.7h0M254.3 215.3h0M259.6 155.8h0M173.2 131.8h0M181.3 153.9h0M251.9 139.9h0M277.2 233.5h0M256.8 211.6h0M216.1 183.3h0M179.1 149.5h0M179.4 151.2h0M258.8 224.1h0M189.3 181.2h0M274.5 214.5h0M279 126.1h0M247.1 202.4h0M206.3 79.9h0M292.6 193.6h0M242.5 201h0M260.1 155.4h0M183.8 175.9h0M227.9 100.5h0M179.6 136.6h0M182.5 141.5h0M299.9 244.4h0M312.2 228.9h0M241.7 106.9h0M145.1 121.4h0M220 109.3h0M248.6 201.1h0M198.3 183.2h0M272.1 183.7h0M310 241.5h0M255.6 210h0M259.5 69.5h0M148 93.4h0M288.7 272.1h0M337.2 190.9h0M243.5 205.5h0M225.3 72.2h0M337.2 166h0M246.4 203.8h0M174.2 131.5h0M244.2 127.2h0M153.4 91.3h0M200.3 81h0M183.3 152.5h0M318.6 162.6h0M311.5 205.2h0M301.8 109.5h0M240.5 215.3h0M308.7 251.1h0M318 234.5h0M209 73.5h0M247.5 268.8h0M238.1 239.3h0M222.7 88.9h0M275.3 214h0M260.4 157.3h0M165.9 113.8h0M173.5 134.9h0M213.2 102h0M172.1 133.1h0M144.3 108.5h0M322.8 223h0" stroke="#FF3300"/>
<path d="M294.2 200.4h0M258.9 156.9h0M296.2 253.9h0M272.8 215.5h0M276.2 165.1h0M284.7 155.9h0M132.8 141.6h0M190.1 73.5h0M243.3 128.6h0M301.8 206h0M145.7 105.9h0M292.6 268.2h0M232.3 269.9h0M169.8 131.3h0M289.2 171.4h0M312.8 238.2h0M296.8 201.4h0M273.6 134.6h0M128.4 143.9h0M299.2 249.6h0M215.8 102.5h0M172.1 88.7h0M329.6 170.3h0M251.9 269.2h0M232.1 92.2h0M168.7 133.4h0M256.9 207.6h0M302.8 207.3h0M171.1 109.7h0M304.5 164h0M298.3 258.5h0M293.3 205.1h0M312.4 101.5h0M273.1 235.1h0M172.7 137.6h0M214.1 75.6h0M230.5 108.3h0M174.5 148.9h0M331.1 150.6h0M259 119.7h0M215.1 92.8h0M233.3 122.1h0M297.8 135.3h0M202.9 73.4h0M329.9 151.5h0M296.6 231.8h0M171.2 92.3h0M274 180.7h0M181 163.1h0M278.4 158.7h0M227.9 95.8h0M236.1 245h0M154.2 114.9h0M221.1 114.3h0M141.4 137.4h0M160.6 93.2h0M242.3 206.6h0M240 282.5h0M269.2 158.2h0M246.2 108.4h0M335.6 174.6h0M280 212.8h0M222.7 88.4h0M184.2 172.7h0M224.1 187.9h0M251.3 275.9h0M209.8 84.2h0M184.7 76.2h0M211.3 87.3h0M225.6 255h0M245.2 204.9h0M302.3 239.5h0M166.8 151.6h0M152.6 147.6h0M216.8 108.2h0M289 118.5h0M185.5 177.4h0M298.6 283.3h0M330.9 193.2h0M257.3 215.4h0M236.7 257.7h0M261.1 148.8h0M303.5 113.8h0M153.6 134.2h0M290.9 181.6h0M253.3 222.8h0M139.9 146.5h0M228.7 93.7h0M115.5 123.3h0M221.7 191.6h0M236.2 254.2h0M154 96.2h0M250.4 279.1h0M305.5 90.2h0M242.4 223.8h0M308.6 98.6h0M284.5 206.9h0M170.5 89.9h0M337.1 189h0M220 259.2h0M244.1 108h0M172.9 83.3h0M150.8 108.7h0M227.5 84.2h0M272.4 279.7h0M254.3 138.4h0M333.5 182.2h0M328.7 163.9h0M301.2 196.5h0M173.7 135.2h0M334.7 172h0M297.6 210.4h0M329.7 191.4h0M241.8 232.4h0M241.3 116.7h0M323.8 157.1h0M211.1 71h0M316.3 177.2h0M170.6 93.3h0M268.8 176.2h0M157.5 146.3h0M251.9 274.3h0M175 147.3h0M293.4 140.1h0M167.5 99.3h0M224.8 93h0M192 178.8h0M151.8 105.9h0M269.1 227.1h0M275.5 160.8h0M265.2 161.6h0M309.4 108.3h0M233.4 73.3h0M196 73.1h0M289.8 179h0M217.9 97.9h0M297.6 134.7h0M233.8 198.8h0M180 138.8h0M328.6 139.6h0M109.7 118h0M218.8 94.4h0M124.7 124.2h0M225.8 195.9h0M243.5 131.2h0M267.4 171.5h0M294.9 153.6h0M335.3 157.1h0M223.3 191.7h0M281.3 216.8h0M232.5 201.8h0M209.5 80.8h0M331.7 253.6h0M246.9 254.9h0M179.1 161.3h0M290.7 268.3h0M247.2 107.4h0M274.8 201.2h0M250.2 136h0M285 88.7h0M288.9 110.2h0M222.8 91.6h0M214.1 71.2h0M305.9 139.6h0M278.4 118.6h0M234.6 98.1h0M180.4 158.7h0M214.9 107h0M313 175.9h0M197.4 79.5h0M302.6 171.7h0M311.7 247.3h0M259.4 157.2h0M217.8 188h0M214.5 78.9h0M276.8 158.5h0M272.4 242.3h0M176.8 81.7h0M305.4 242.8h0M210.3 80.9h0M284 160h0M262.6 153.8h0M298.1 214.2h0M269.8 203.5h0M211.4 73.5h0M278.8 244h0M239.5 237.7h0M319.6 171.2h0M275.8 278.3h0M271.7 289.5h0M240.7 66.7h0M233.1 116.4h0M282.1 246.5h0M283.1 249.8h0M167.7 105.1h0M207.5 74.3h0M259.5 142.2h0M298 202.9h0M313.5 157.4h0M304.4 211.9h0M329.7 169.4h0M221.8 105.2h0M262.9 154h0M335.6 194.9h0M303.8 132.9h0M245.5 282.6h0M259.5 120.4h0M216.8 99.9h0M175.5 78.4h0M185.1 173.6h0M222 185.1h0M167.2 101h0M303.7 207.2h0M222.3 115.8h0M292.3 200.8h0M181.8 140h0M314.6 243.2h0M218.6 96.8h0M226.6 285.5h0M167.1 147.9h0M207 180.8h0M223.6 87.9h0M313.9 238.4h0M225.1 65.1h0M289.2 194.9h0M284.3 182.6h0M261.1 283.6h0M252.3 133.7h0M267.2 218.9h0M243.8 218.7h0M279.2 279.5h0M265.4 68.6h0M167.1 121.4h0M269.8 101.1h0M288.5 207.8h0M182.9 146.5h0M156.6 149.3h0M146.5 92.5h0M314.4 135.9h0M224.4 189.2h0M224 110.1h0M284.9 198.3h0M165.4 117.6h0" stroke="#FF3300"/>
<path d="M322.7 149.3h0M119.4 135.1h0M170.3 157.2h0M316.3 184.2h0M283.1 189.2h0M248.3 109.6h0M192 288.3h0M313.8 185.6h0M281.6 98.8h0M261.6 73.6h0M282.9 87.9h0M262 76.1h0M141.8 114.5h0M293 237.6h0M194.1 284.5h0M283.2 236.7h0M239 207.3h0M275 206.8h0M330.8 200.1h0M137.6 251.4h0M304.9 209.3h0M193.5 186.2h0M331.4 214.5h0M251.1 89.6h0M266.8 162.8h0M274.7 125.3h0M138.1 149.6h0M302 219.6h0M265.9 135.3h0M190.2 186.7h0M288.1 192.3h0M186.3 185.1h0M250.1 261.5h0M259.9 93h0M304.3 100.4h0M230.5 273.4h0M237.4 220.7h0M156.1 127.1h0M227.8 98.4h0M130.2 150.8h0M248.3 127.2h0M190.2 186.5h0M294 91.9h0M238.9 235.3h0M311.8 176.9h0M216.5 54.3h0M247.8 99.7h0M125.6 127.9h0M258.4 227.2h0M250.8 72.3h0M321.9 216.5h0M149 132.4h0M227.6 288.2h0M129.4 119.8h0M262 275.6h0M152.5 150.8h0M223.3 106.9h0M309 123.6h0M260.3 107.1h0M118.4 152.6h0M232.1 206.1h0M249.1 127.4h0M209.5 190.6h0M340 157.8h0M273.3 101.1h0M261.3 286.1h0M115.5 245.3h0M270.2 130.9h0M237.5 227.2h0M110.7 218.4h0M233.1 106.2h0M243.9 118.4h0M258.8 118h0M253.5 113.5h0M275.6 254h0M309.8 230h0M261.8 113.2h0M236.9 293.7h0M182.3 175.9h0M313.4 149.5h0M263.9 144.2h0M237 281.2h0M158 90.7h0M149 149.3h0M92.8 189.5h0M247.3 79.1h0M215.8 274.8h0M266.9 151.6h0M118.1 139.2h0M311.4 207.9h0M103.1 190.9h0M282.1 97.9h0M255.2 122.4h0M234.5 224.2h0M223.7 289.4h0M185.6 279.8h0M249.9 70.4h0M136.6 147.3h0M276 205.2h0M92.8 189.5h0M104.5 179.8h0M106 182h0M236.3 235.6h0M160 147h0M279.7 196.1h0M187.1 186.6h0M317.1 105.4h0M293.6 102.1h0M153.2 94.4h0M224.6 289.7h0M273 92.1h0M256.9 125.8h0M329.1 161.9h0M149.1 260.1h0M241.5 238.2h0M283 152.8h0M326.5 217.3h0M271.2 172.2h0M310.6 237.5h0M290.5 142.2h0M217.7 190.2h0M127.5 147.3h0M128.4 151.6h0M269.8 280.2h0M249.8 119.1h0M283.7 111.2h0M298.3 150.3h0M309.2 98.9h0M322.3 138.1h0M260.4 286.7h0M282.9 210.6h0M308.2 236.2h0M167.7 134.1h0M281.3 159h0M246.5 84.2h0M280.3 146.7h0M231.8 95.2h0M308 209.9h0M215.3 274.6h0M297.1 165.8h0M219.9 81.4h0M252.7 132.5h0M271.6 172.4h0M256.4 258.2h0M289.6 188.6h0M109.3 184.9h0M223.8 77.3h0M257.3 254.4h0M191.6 182.9h0M178.3 148.7h0M247.9 261h0M299.4 113.1h0M224 247.3h0M203 187.7h0M242.3 283.4h0M207.7 187.6h0M275.1 106.3h0M297.4 168.7h0M330.1 179.9h0M226.1 112h0M257.3 138.3h0M308.7 206.2h0M320.9 131.1h0M251.7 117.4h0M324.6 205.3h0M240.6 78.1h0M237.6 100.1h0M243.8 78.7h0M229.6 210.8h0M319.4 200.3h0M120.9 222.6h0M265 99.7h0M240.5 83.6h0M272.8 148.9h0M164.7 270.9h0M230.6 243.8h0M228.4 198.6h0M213.2 289.5h0M255 249.5h0M309.8 160.3h0M221.6 254.9h0M291.8 85.9h0M287.5 160.1h0M281.5 204.2h0M275.6 114h0M244 286h0M263.4 151.7h0M292.2 84.8h0M317.4 209.6h0M315.9 154.8h0M261.7 82.1h0M289.4 129.9h0M226.3 196.8h0M231.1 209.3h0M201 187.5h0M138.5 145.9h0M226.8 291.9h0M314.1 121.8h0M304.8 95.4h0M257.4 109.9h0M141.9 109.2h0M337.4 162.8h0M299.6 220.6h0" stroke="#0000CD"/>
<path d="M148.5 98.6h0M320.2 141.5h0M234.5 218.1h0M279 253.4h0M112.7 199.4h0M163.3 139.9h0M317.2 140.4h0M116.1 213.2h0M308.6 118.7h0M280.5 168.7h0M231.4 244.1h0M274.2 129.5h0M236.3 281.5h0M323.4 228.8h0M176.5 154.4h0M135.8 243.1h0M237.7 65.4h0M221.3 74.9h0M271.1 92.7h0M253.2 99.2h0M233.3 206.2h0M214.6 269.6h0M275.3 136.5h0M316.6 264h0M233.9 114.4h0M281.3 81.1h0M161.4 88.8h0M195.3 290.8h0M246.7 207.9h0M219 304h0M298.4 220.5h0M276.5 208h0M224.2 291.8h0M228.5 286h0M111.7 216.6h0M151.5 261.1h0M226.3 83h0M224.1 100.3h0M282.2 198.3h0M264.1 261.3h0M229.3 104.7h0M267.5 152.4h0M250.8 108.2h0M278.2 215.3h0M103.1 190.2h0M319 124.9h0M223.8 201.2h0M131.2 149.4h0M234.1 288.7h0M128.6 117.8h0M228.4 102.6h0M188.3 185.7h0M274 207.2h0M154 267.4h0M164.5 95.4h0M274.8 157h0M228.6 62.6h0M221.4 75.2h0M281.1 205.7h0M253.3 118.9h0M259.4 70.9h0M114.7 187.6h0M266 118.5h0M351 155h0M235.9 97.4h0M146.7 152.1h0M147.9 259.5h0M240.4 72h0M265.4 89.4h0M108.5 186.7h0M278.7 170.3h0M227.3 280.9h0M272.5 116.8h0M231.2 234.7h0M287.3 204.2h0M274.2 123.8h0M155.2 93.3h0M186.8 282.5h0M228.3 269.1h0M279.9 152.9h0M298.5 217.1h0M153.7 122.7h0M299.8 195.2h0M157.8 153.6h0M216.2 263.2h0M243.3 103.8h0M290 190.1h0M242.1 119h0M224.8 201.4h0M225.7 69.4h0M289.1 130.4h0M310.2 245.1h0M219.3 277h0M121.2 134.9h0M267.1 127.7h0M335.4 175.6h0M183.5 182.5h0M275.7 113.9h0M249.4 241.4h0M236.6 100.2h0M140.8 123.7h0M285.6 136.8h0M222 281.5h0M282.6 132.6h0M145.6 256.7h0M253.1 84.4h0M177.2 163.6h0M218.2 194.2h0M237.1 292.8h0M275.4 88.7h0M175.2 172.4h0M150.9 150.8h0M220.6 254.3h0M129.3 95.7h0M305.1 103.1h0M178.3 282.7h0M334.2 168.2h0M173.1 154.4h0M272.9 121.8h0M310.5 114.8h0M112.8 177h0M326.6 144h0M308.7 208h0M265.4 126.5h0M309.6 148.1h0M296.4 202.8h0M274.9 177.3h0M235 231h0M172.3 157.1h0M272.8 110.6h0M232.4 114.2h0M155 260.5h0M323.9 211.9h0M317.1 211.5h0M239.4 283.6h0M287.9 237.8h0M245.7 79.7h0M162 124.2h0M131.2 236.6h0M166.2 132.7h0M290.6 86.8h0M111.9 186.5h0M251.2 117.5h0M267.8 134.8h0M302 156.4h0M112 193.1h0M212.4 262.2h0M123 147h0M251.6 74.2h0M130.9 129.8h0M140.1 152.2h0M201.6 185.5h0M274.9 283.7h0M245.6 210.5h0M127.7 148.9h0M301.6 173.4h0M207 83.8h0M266.5 128.5h0M232.7 242.5h0M324.4 224.9h0M291.1 135.2h0M231.4 105.7h0M242.9 107.9h0M222 288.9h0M127.7 123.2h0M312.2 117.4h0M213.5 190.6h0M144.9 253.4h0M220.8 270.5h0M322.2 212.5h0M189.6 283.6h0M212.5 191.2h0M272.7 123.4h0M263.2 149.8h0M232.9 203h0M123.2 153.5h0M312.2 150.8h0M153.6 153.9h0M116.6 225.1h0M279.5 92.3h0M297.4 103.9h0M317.2 119.5h0M158.1 127.3h0M279.7 209.2h0M218.6 190.3h0M276.4 181.2h0M307.1 204.7h0M123.2 143.7h0M159.7 86.7h0M262 68h0M115.4 201.2h0M283.8 172.3h0M158.1 148.2h0M300 203h0M220.9 285.2h0M304.2 210.8h0M319 181h0M138.5 111.4h0M293.9 161.2h0M157.3 112.8h0M333.5 178.7h0M160.2 117.8h0M284 102.1h0M310.7 138.3h0M235.2 220.4h0M317.9 101.9h0M227.8 66h0M265.5 128.1h0M219.1 193.9h0M268 104.4h0M146.7 150.7h0M289 202h0M301.5 236.4h0M151 130.9h0M283.3 151.8h0M121 101.9h0M145.9 83.3h0M314.6 126.4h0M99.7 131.6h0M247.2 257.3h0M340 181.9h0M254.1 131.6h0M205.9 68.8h0M152.1 125.8h0M272.2 156.5h0M320 206.6h0M232.8 70.9h0M176.1 275h0M149.4 258.5h0M281.5 154.1h0M215.9 78.9h0M302.9 121.3h0M240.4 67.9h0M280.1 189.9h0M247.6 116.1h0M332.4 206.3h0M106.1 150.9h0M333.8 204.7h0M249.4 282.2h0M190.5 184.8h0M225.1 98h0M90.7 177.8h0M177.7 158.9h0M226.9 241.5h0M245.8 80.7h0M240.9 206.2h0M270.6 126.2h0M140.3 150.7h0M260.8 136.5h0M312.9 242.5h0M256.2 285.1h0M208.6 189.3h0M109.4 175.1h0" stroke="#0000CD"/>
<path d="M278.3 229.5h0M129.2 145.5h0M276.6 213.2h0M241.1 215.4h0M178.6 153.2h0M290.3 135.7h0M231.7 100.9h0M170.8 135.9h0M238 108.4h0M271.3 174.1h0M174.6 153.5h0M300.8 214.1h0M222.4 113.7h0M229.7 117.7h0M136.8 142.5h0M290.4 184.9h0M169.1 96.9h0M313.8 224.9h0M230.3 61.2h0M103.8 126.3h0M151.5 119.4h0M266.2 68.1h0M324.3 212.6h0M240 293.6h0M270.1 251.4h0M246.9 128.5h0M283.6 271.1h0M274.1 203.6h0M139.5 123.5h0M239.8 224.1h0M318.5 222.9h0M186.2 79.3h0M266.8 214.8h0M203.6 89h0M271.1 134.6h0M286.9 170h0M318.7 226.9h0M328.7 152.3h0M275.9 262.1h0M138.9 109.2h0M294.4 201.8h0M274.2 184.9h0M273.2 271.6h0M270.8 216.4h0M272.4 221h0M241.4 204.9h0M303.6 205.8h0M258.2 137.9h0M264.3 166.6h0M169 101.1h0M223.7 93h0M310.6 249.4h0M295.1 175.3h0M310.8 220.9h0M275.8 75.9h0M153.6 88.4h0M169.1 152.4h0M274.3 197.5h0M295.3 248.4h0M215.6 104.1h0M182.3 83.1h0M241.3 105.9h0M306.2 207.9h0M303.8 118h0M329.7 205.8h0M183.2 142h0M119.3 129.1h0M270.1 263.7h0M274.9 178.4h0M292.7 205.6h0M161.6 146.8h0M288.5 206.7h0M283.9 175.8h0M301.4 181.2h0M328.7 181h0M136.6 118.6h0M141.7 110.4h0M310.6 222.3h0M196.9 66h0M223.4 65.5h0M273.9 172.8h0M271.7 191h0M152.2 102.4h0M162.7 118.4h0M256.5 214.2h0M266.5 158.2h0M174.2 152.2h0M201.1 79.7h0M170.7 149.2h0M167.3 113h0M269 75h0M237.5 209.9h0M285.5 252.8h0M265.4 212.9h0M172.7 134.5h0M269.4 178.8h0M262.6 275.2h0M176.2 135.9h0M204.5 83.5h0M236.5 113h0M198.8 76.3h0M132.9 143.5h0M288.4 196.1h0M187.3 78.4h0M247.7 281.4h0M283.8 163.5h0M282.7 199.7h0M337.4 178h0M217 91.2h0M198.6 77.3h0M256.1 203.3h0M212.1 87.8h0M221.2 186.2h0M225.8 256h0M187.3 178.3h0M144.7 138.2h0M223.6 71.1h0M151.1 111.4h0M260 212.7h0M260 287.4h0M323.2 217.3h0M258.2 203.7h0M266 211.3h0M295.8 87.9h0M164.8 94.2h0M298.4 233.9h0M287 167.4h0M272.3 246.2h0M321 111h0M263.1 209h0M259.6 127.4h0M224.2 74h0M276.8 163.3h0M272.4 152.7h0M228.7 88.8h0M304.6 208.2h0M145.2 122.5h0M203.1 85.4h0M240.9 223.7h0M121.3 120h0M224 114.1h0M204.9 91.8h0M152.4 145.6h0M292.5 196.1h0M248.3 282.4h0M211.9 184.7h0M107.2 120.5h0M286.6 248.2h0M191.6 178h0M256.4 117.5h0M253.7 126.1h0M241.6 260.7h0M320.8 185.3h0M316.2 218.2h0M300.1 258.9h0M306.1 177.5h0M312.8 193.2h0M150.4 147.2h0M282.3 188.5h0M172.7 146.3h0M323.7 203.6h0M221.4 256.2h0M223.9 85.5h0M263.4 282.4h0M300.3 121.7h0M238.4 117.6h0M273 243.1h0M179.1 82.7h0M317.9 198.5h0M242.2 269h0M332.4 181.2h0M293.3 234.5h0M273.4 239.7h0M357.2 217.1h0M269.1 218h0M330.5 165.2h0M302.4 201.7h0M183.2 158.7h0M166.8 148.9h0M272.3 205.9h0M244.1 266.9h0M167.5 102.1h0M337.9 186.4h0M220.5 103.7h0M293 209.2h0M227 80.3h0M274.2 233.2h0M322.6 183.2h0M228.1 248.9h0M176.4 133.7h0M327.5 160.5h0M250.1 126h0" stroke="#FF3300"/>
<path d="M230.6 246.7h0M305.2 221.2h0M271.4 160.4h0M257.9 275.4h0M231.6 280.3h0M318.7 168.9h0M232.5 198.3h0M193.3 179h0M253.5 142.3h0M138.1 142.5h0M215.6 107.2h0M258.8 216.1h0M123 124.5h0M120.4 122.3h0M294.7 84.4h0M303 211.9h0M263 285.1h0M303.2 208.2h0M164 139h0M275.9 193.3h0M273 78.6h0M271.9 181.8h0M185.9 68.8h0M336.8 182.7h0M315.1 163.8h0M313.5 218.4h0M286.4 199.5h0M228.6 114.4h0M243.3 258.9h0M233.1 248.8h0M146.7 128.9h0M277 281h0M307.1 238.9h0M267.2 217.4h0M234.6 117.8h0M172 129.4h0M170.4 130.8h0M300.4 215.6h0M175.7 135.1h0M332.1 164.7h0M327.3 213.1h0M122 118.9h0M241.9 102.9h0M312 125.5h0M251.3 115.4h0M230.3 247.9h0M128.5 137.6h0M293.3 184h0M313.9 243.3h0M165 124.2h0M170 120.4h0M231.9 267.2h0M299.6 91.9h0M273.4 214.3h0M218.9 83.9h0M261 283.1h0M169.5 119.5h0M221.8 103.9h0M244.6 255.4h0M177 147.6h0M208.6 82.7h0M165.2 151.5h0M215 74.4h0M269.4 164.6h0M241.9 126.8h0M253.7 113h0M281.2 164.9h0M274.4 131h0M295.9 234.5h0M189.2 180.5h0M293.6 208.9h0M239.1 113.5h0M212.9 93.5h0M172.3 146.3h0M288.8 178.5h0M245.6 211.3h0M217.8 78.5h0M213.9 104.5h0M239.9 287.6h0M333.1 231.6h0M170.4 149.1h0M234.8 123.3h0M173.9 130.3h0M241.3 227.7h0M286.9 118.1h0M248.9 134.4h0M230.6 102.8h0M261.7 209.1h0M225.7 194.6h0M234.9 121.9h0M239.1 206.9h0M221.8 74.4h0M304.9 238.4h0M244.9 279.4h0M203.4 180.7h0M236.4 124.9h0M165.3 125.4h0M232.6 265.2h0M318.6 239.1h0M284.5 134.3h0M226.4 282.9h0M289.4 227.6h0M224.2 94.9h0M238.2 221.8h0M172 129h0M305.9 209.9h0M271 176h0M163 149.5h0M174.8 136h0M224.2 90.9h0M267 171.4h0M238 255.5h0M334.6 155.4h0M168.6 77.1h0M330.9 200.9h0M220.3 108.3h0M173.6 147.9h0M269.1 167.5h0M267.7 171.2h0M271 162.4h0M299.5 254.5h0M261.8 248.7h0M259.1 148.1h0M271.5 224.8h0M307.4 109.2h0M187.2 177.3h0M340 181.9h0M240.3 123.3h0M230.8 200.2h0M208.1 85.8h0M176 148h0M170.4 112h0M215.5 84.2h0M230.4 284.8h0M313 239.6h0M202.4 70.1h0M295.2 268.8h0M253.1 266.5h0M218.4 86.3h0M281.3 222.7h0M237.4 116h0M171.3 89.3h0M244.2 209.9h0M258.3 206.2h0M222.9 85.6h0M211.1 70.3h0M215.2 81.9h0M242.3 251h0M207.8 184.7h0M143.5 115.8h0M184.7 171.4h0M298.3 173.2h0M227.3 196.9h0M222.7 259.4h0M280.6 142.6h0M295.2 132.9h0M288.7 268.8h0M176.9 143h0M276.8 180.1h0M296.2 253.5h0M127.7 146.2h0M149.7 77.5h0M262.7 249.5h0M334.2 194.6h0M116.2 141.2h0M139.9 136.8h0M279.3 82.6h0M311.9 211.2h0M237.6 230.4h0M338.8 146.9h0M264.5 205.8h0M257.4 140.6h0M167.1 95.4h0M170.7 132.5h0M226.5 118.9h0M274.9 189.4h0M175.1 137h0M188.5 74.5h0M315.6 213.5h0M291.2 200.3h0M213.7 184.4h0M256 111.3h0M246.7 201.3h0M234.3 84h0M232.8 117.1h0M258.4 141.6h0M264.2 205.8h0M330.6 165.9h0M218.1 104.5h0M245.8 113.8h0M255.5 135.8h0M278 134.7h0M300.6 171.1h0M269.7 179.9h0M296.9 86.2h0M165.9 123.1h0M273 206.5h0M233.7 244.8h0M234.8 276.8h0M265.9 151.4h0M226.6 191.2h0M245.5 233.1h0M177.6 134h0M304.2 250.9h0M332.9 163h0M222 99.5h0M267.3 169.5h0M293.3 206.6h0M322.6 216.9h0M215 77.4h0M243.2 250h0M169.1 126.1h0M215.3 68.5h0M226.2 115.4h0M245.9 205h0M264.6 173.1h0M208.6 181.7h0M303.8 233.1h0M156.6 131.1h0M268 252.2h0M308.5 197.1h0M274.5 192.4h0M235.3 95.2h0M268.8 281.9h0M238.3 210.1h0M224.2 100.2h0M142.7 140.3h0M211 94h0M326.4 208.6h0" stroke="#FF3300"/>
<path d="M308.1 97h0M250.1 208h0M243.7 106.7h0M218.4 69.1h0M131.8 145.7h0M223.8 288.6h0M139.1 147.1h0M127.9 153.8h0M263.8 145.2h0M305.2 112.1h0M224.8 274.5h0M215.3 274h0M124.1 151.3h0M277.6 86.8h0M240.4 248.8h0M212.8 263.5h0M116 196.4h0M263.5 258.5h0M174.9 169.1h0M202.3 293h0M160.9 105.9h0M246.5 122.6h0M272.8 282.4h0M337.2 190.9h0M215.5 253.6h0M121.5 153.4h0M271 209.4h0M260.3 138.8h0M189.6 186.6h0M219.8 262.5h0M265.5 120.9h0M317.5 210.2h0M226.4 292.6h0M214 291.8h0M235.3 227.6h0M327.4 163.5h0M236.7 280h0M311.7 263.3h0M339.3 144.7h0M232.5 106.7h0M222.2 295.7h0M227.7 292.6h0M266.8 70.1h0M173.4 173.3h0M223.7 198.4h0M282.2 175.5h0M286.7 142.3h0M213.7 188.2h0M217.4 279h0M200.9 187.5h0M275 91.5h0M163.2 141h0M290.9 187.8h0M265 233.3h0M282.6 132.2h0M218.1 263.7h0M194.3 285.2h0M294.3 101.2h0M243.3 79.5h0M226 255.5h0M238.2 217.1h0M307 233.7h0M160.2 153.7h0M287.7 200h0M143.6 104.9h0M306.3 101.1h0M228.8 207.7h0M248.9 114.9h0M309.9 157.4h0M309.8 148.3h0M158.3 147h0M310 193.6h0M280.9 212.6h0M290.5 188.5h0M264.9 240.1h0M122.1 138.5h0M90.7 177.8h0M212.3 260.7h0M275.9 106.9h0M335.2 181.8h0M233.6 92.2h0M296.7 218.6h0M112.5 193.4h0M225.7 271.1h0M279.7 183.2h0M205.5 189h0M230.5 241.1h0M333.9 181.6h0M311.9 187.8h0M224.3 274.8h0M225.5 245.8h0M315.4 164.7h0M235.9 208.9h0M242.6 88.8h0M117.2 220.8h0M320.6 180h0M316.1 150.4h0M127.1 124.5h0M248 94.2h0M112.1 115.3h0M284.2 208.5h0M128.3 229.8h0M217.5 251h0M236.5 75.5h0M315.5 140.9h0M126.3 127.7h0M306.2 206.8h0M265.9 141.2h0M269.8 283.6h0M312.9 204.8h0M219.6 78.4h0M230.6 111.6h0M243.1 238.6h0M314 201.8h0M223.4 284.8h0M214.3 293.2h0M258.6 140h0M274.3 75.2h0M256 283.5h0M280.4 98.5h0M265.1 147h0M267.4 79.9h0M270 106.8h0M293.8 186.2h0M248 220.1h0M326.9 182.3h0M224.3 269.9h0M304.1 127.8h0M144.1 253.5h0M268.8 126.5h0M243.8 93.3h0M179.8 176.7h0M283.3 127.2h0M250.9 251.9h0M245.9 283.1h0M139 145.2h0M127.4 144.9h0M257.8 279.9h0M126.6 257.3h0M195 185.4h0M223.6 247h0M254.3 255.2h0M311.7 120.4h0M231.7 215.2h0M280.4 196.8h0M183.4 283.3h0M330.1 212h0M318.1 139h0M220.5 197.8h0M324.2 209.9h0M231.7 70.2h0M274.7 146.5h0M235.5 246.6h0M253.9 132.4h0M245.8 104.2h0M246.2 105.6h0M222.7 273.1h0M227.6 96.1h0M279.6 184.8h0M294 157.4h0M325.1 167.4h0M150.6 112.7h0M328.8 207.2h0M280.7 170.5h0M289.8 207.9h0M197.8 185.2h0M276.2 141.1h0M304.3 226.2h0M328.7 160.2h0M216.4 252.7h0M223.7 75.9h0M342.8 230.9h0M272.1 285.7h0M277.5 143h0M138 151.1h0M315.6 235.3h0M307.2 179.3h0M137.1 109.1h0M263.4 264.9h0M134.8 104h0M250.6 236.4h0M277.5 177.6h0M312.5 163.9h0M133.9 146.7h0M331.6 142.3h0M233.6 100.8h0M189.3 182.8h0M221 297.1h0M201.8 187.2h0M325.7 166.2h0M320.6 137.2h0M274.6 150.4h0M216.6 76.1h0M167.6 89.5h0M314.8 116.2h0M287.6 190.9h0M248.5 209.1h0M275.2 134.8h0M217.8 251.6h0M238.5 212.7h0M312.8 141.9h0M291.2 203.4h0M219.9 250.3h0M94.8 173.6h0M309.5 152.9h0M122.9 142.4h0M222.9 252.8h0M247.5 74.4h0M253.9 283.8h0M312 212.6h0M311.9 149.1h0M303.1 219.1h0M316.4 124.8h0M281.5 174.4h0M232.7 287.2h0M317.1 134.5h0" stroke="#0000CD"/>
<path d="M164.6 227.5h0" stroke="#FF3300"/>
<path d="M174.2 230.2h0" stroke="#FF3300"/>
<path d="M190.8 222h0" stroke="#FF3300"/>
<path d="M146.6 150.2h0" stroke="#FF3300"/>
</g></g>
<g transform="translate(786.6 417.3)">
<use href="#fr"/>
<text class="k" transform="translate(135.8 354.2) scale(0.98 1.04)" text-anchor="middle">-5</text><text class="k" transform="translate(66.4 270.8) scale(0.98 1.04)" text-anchor="end">-5</text><text class="k" transform="translate(207.1 354.2) scale(0.98 1.04)" text-anchor="middle">0</text><text class="k" transform="translate(66.4 203.1) scale(0.98 1.04)" text-anchor="end">0</text><text class="k" transform="translate(278.4 354.2) scale(0.98 1.04)" text-anchor="middle">5</text><text class="k" transform="translate(66.4 135.3) scale(0.98 1.04)" text-anchor="end">5</text><text class="k" transform="translate(349.6 354.2) scale(0.98 1.04)" text-anchor="middle">10</text><text class="k" transform="translate(66.4 67.6) scale(0.98 1.04)" text-anchor="end">10</text><text class="a" transform="translate(223 388) scale(0.97 1.04)" text-anchor="middle">x1</text><text class="a" transform="translate(23.3 182.3) rotate(-90) scale(1.0 1.03)" text-anchor="middle">x2</text>
<text class="t" transform="translate(77.6 23.7) scale(1.0 1.0)">g.aipw</text>
<g fill="none" stroke-width="9.6" stroke-linecap="round">
<g clip-path="url(#mc)">
<use href="#mass" fill="#0000CD"/>
<path d="M81 132.3L116.8 88.2L147.2 60.6L169.3 60.6L169.3 102L163.7 124L158.2 154.4L158.2 179.2L136.2 170.9L108.6 168.2L94.8 162.7Z" fill="#FF3300"/>
<path d="M207.9 68.9L218.9 44L252 44L301.7 74.4L334.8 115.8L362.4 154.4L345.8 187.5L334.8 204L318.2 209.6L301.7 187.5L285.1 187.5L274.1 170.9L263.1 154.4L257.5 132.3L246.5 110.2L218.9 104.7Z" fill="#0000CD"/>
<path d="M241 215.1L263.1 226.1L290.6 231.6L312.7 237.1L329.3 226.1L367.9 226.1L334.8 262L315.5 275.8L298.9 292.3L274.1 303.3L257.5 303.3L235.5 297.8L218.9 275.8L221.7 264.7L230 248.2L238.2 231.6Z" fill="#FF3300"/>
<path d="M169.3 60.6L218.9 44L207.9 68.9L218.9 104.7L246.5 110.2L257.5 132.3L263.1 154.4L274.1 170.9L285.1 187.5L301.7 187.5L318.2 209.6L334.8 204L367.9 226.1L329.3 226.1L312.7 237.1L290.6 231.6L263.1 226.1L241 215.1L230 204L213.4 204L210.6 193L196.8 187.5L174.8 183.3L158.2 179.2L158.2 154.4L163.7 124L169.3 102Z" fill="#FF3300"/>
<path d="M169.3 60.6L218.9 44L207.9 68.9L218.9 104.7L230 115.8L207.9 126.8L185.8 124L163.7 124L169.3 102Z" fill="#FF3300"/>
<path d="M285.1 187.5L301.7 187.5L318.2 209.6L334.8 204L345.8 187.5L329.3 165.4L301.7 170.9Z" fill="#FF3300"/>
<path d="M207.9 68.9L218.9 104.7L246.5 110.2L257.5 132.3L263.1 154.4L274.1 170.9L285.1 187.5L297.5 180.6L286.5 164L275.5 147.5L270 125.4L258.9 103.3L231.3 97.8L220.3 62Z" fill="#FF3300"/>
</g>
<path d="M218 278.2h0M136.9 114.9h0M169.6 121.6h0M246.3 70.2h0M225.7 75.3h0M313.5 144.6h0M300.1 89.9h0M124.3 234.5h0M222.6 206.4h0M292.3 127.2h0M243.4 252.5h0M279.7 170.5h0M264.5 267.2h0M221.6 75h0M146 124.1h0M236.5 97.9h0M258.5 80.7h0M114.9 195.9h0M326.6 138.6h0M265.9 123.7h0M334.8 199.8h0M216.3 268.7h0M200.1 191.8h0M284.7 162.2h0M156.6 137.3h0M239.9 268.2h0M221 209.3h0M279.4 173.6h0M252.4 116.3h0M273.2 233.1h0M280.6 157.3h0M263.4 101.7h0M319.1 209h0M254.1 77.7h0M200.4 288.9h0M289 180.1h0M167.9 186.6h0M314.5 114.4h0M274.6 125.3h0M211.5 119.4h0M242.3 230.8h0M226.4 254.3h0M272.9 75.7h0M319.6 206.3h0M148.3 151.2h0M337.9 148.3h0M263.8 270.4h0M266.2 68.1h0M117 222.2h0M163.2 273.1h0M292.9 105.2h0M285.7 168.5h0M122 172.5h0M204.9 192.1h0M196 289.2h0M146.7 160.3h0M257.6 104.6h0M255.7 68.6h0M164.9 86.1h0M295.7 173.4h0M261.5 254.7h0M260 105.1h0M166.3 102.6h0M166.7 87.6h0M249.6 116.2h0M310.3 181.8h0M142.5 162.7h0M253.6 107.5h0M216.6 266.3h0M333.8 139.8h0M227.1 77.3h0M251.8 229.4h0M271.7 289.5h0M162.6 182.4h0M229.9 83.8h0M162 265.8h0M286.5 174.5h0M265.7 111.4h0M141.6 254h0M303.9 250.2h0M310.8 174h0M310.1 244.8h0M129.3 95.7h0M115.7 221.6h0M109.7 118h0M254.9 253.3h0M226.5 87.5h0M321.4 138h0M144.9 177.1h0M340 157.8h0M226.4 86h0M221.7 93.6h0M269.2 144.4h0M229.8 239.7h0M273.5 134.2h0M291.6 165.3h0M210.6 198.9h0M230.9 90.6h0M135 241.6h0M132.9 173.5h0M224.1 255.1h0M218.7 208h0M197.2 188.5h0M300.9 182.5h0M213.5 121h0M179.4 279.3h0M266.3 114.3h0M259 75.8h0M278.9 230.4h0M116.8 171.1h0M92.8 189.5h0M276.8 111.2h0M305.3 136.8h0M216.8 73.8h0M220.5 269.7h0M270.3 139.9h0M227.4 78.7h0M239.4 220.3h0M278.8 82.6h0M334.6 165.9h0M110.3 172.4h0M242.1 284.2h0M307 165.9h0M119.2 172.1h0M106.1 150.9h0M319.9 148.2h0M214.8 70.2h0M288.3 95.6h0M272.5 73h0M147.1 260.8h0M339.3 144.7h0M280.8 81.6h0M127.6 130.7h0M223.2 264.7h0M287.9 98.2h0M257.9 129.2h0M137.5 176.7h0M223.9 266.6h0M305.7 249.9h0M150.8 122.6h0M131.4 152.8h0M221.2 208.7h0M222.7 208.1h0M174.8 187.3h0M327.8 164.4h0M208.8 194h0M254.1 285.2h0M312.5 167.1h0M215.2 205.3h0M266.7 70.6h0M265.7 125.4h0M278.8 97.7h0M118 174h0M261.7 114.5h0M235 259h0M337.3 186.1h0M136.9 257.3h0M270.4 116.3h0M241.7 105.4h0M222 109.9h0M317.1 168.2h0M289.4 177.4h0M148.2 259.4h0M227.3 263.2h0M230.7 267.7h0M293 164.5h0M150.1 178.8h0M163.8 271.8h0M230 256.9h0M268.1 134.3h0M323.4 202.5h0M291.1 186.2h0M263.3 137.6h0M224.4 80.7h0M226 243.8h0M287 248.7h0M286.6 180.2h0M261.6 119.1h0M236.8 217.3h0M153.1 153h0M143.9 248.5h0M296.6 95.1h0M228.4 67h0M140.5 169.3h0M147.9 139.9h0M166.4 183h0M127.2 172.7h0M295.6 145.8h0M278.3 262.1h0M286.6 163.6h0" stroke="#0000CD"/>
<path d="M224 278.5h0M194 122.8h0M308.1 173.3h0M193.5 71.6h0M167.9 92.3h0M313.5 199.1h0M281.1 146.6h0M300 191.6h0M194.8 183.3h0M290.6 271.2h0M136.2 124.4h0M177.7 93.8h0M309.2 191.9h0M301.2 233.9h0M330.4 184.8h0M262.8 156.2h0M215.9 203.2h0M325.7 205.2h0M203.9 131.7h0M181.1 101.6h0M121 164.3h0M293.4 254.9h0M250.6 115.9h0M121.3 153.8h0M265.5 286.1h0M215.7 103.1h0M258.2 111.7h0M169 93.1h0M173.4 72.2h0M231.9 287.1h0M245.6 241.9h0M274.8 145.7h0M288 177h0M298.5 263.9h0M275.2 171h0M333.9 188.8h0M279.4 171.6h0M301.4 260.5h0M128.3 124.2h0M127.6 136.8h0M210.3 81.1h0M260.9 152.9h0M255.8 254.1h0M255 224.8h0M249.8 116.8h0M302.1 188.6h0M232.6 270.6h0M303 240h0M266 133.7h0M148.4 91.9h0M217.1 90h0M206 115.6h0M241 102h0M295.6 126.5h0M205.6 72.6h0M297.4 233.8h0M164.2 130.9h0M331.5 206.7h0M249.6 128.4h0M269 139h0M119.5 142.8h0M170.8 99.7h0M162.3 159.4h0M243.5 280.1h0M249.8 110.1h0M238.1 99.7h0M304.7 197.1h0M287.9 184.4h0M236.5 108h0M307.2 203.4h0M285.2 232.5h0M167.3 122.6h0M264 285.1h0M215.5 193.5h0M270.4 282.8h0M291.7 192.9h0M196.2 124.8h0M153 136.7h0M159.6 121.1h0M238.7 268.8h0M328.1 170.8h0M294.6 237.9h0M121.8 164.5h0M320.2 111.2h0M272.5 138.2h0M270.8 252.8h0M229.8 259.7h0M154 153.4h0M240.5 219.7h0M195.3 107.9h0M240.5 73.1h0M319.2 213.8h0M163.8 130.2h0M118.5 148.3h0M304.8 250.9h0M207.8 131.3h0M138.6 138.2h0M160.3 127.2h0M191.9 125.2h0M184.5 82.2h0M268.2 249.9h0M244.7 225.9h0M322.4 220.5h0M168.9 127.4h0M320.4 209.5h0M237.1 233.9h0M301.7 150.3h0M232.6 118h0M222.9 271.4h0M297.9 267.1h0M164.8 175.2h0M249.3 241.2h0M155.9 129.7h0M271.8 139.3h0M271.8 170.1h0M165.2 175.4h0M210 189.8h0M311.6 203.9h0M247.1 268.4h0M215.8 78.8h0M244.7 117.6h0M258.9 223.9h0M331.6 163.6h0M281.1 151.7h0M163.8 99h0M242.3 96.8h0M220.9 116.5h0M201.8 128.6h0M256.9 225.4h0M269.7 163.2h0M274.6 281.9h0M231.4 251.3h0M170.5 89.7h0M223.5 112h0M155.7 107.4h0M331.7 253.6h0M247.6 234.8h0M269.4 226.2h0M237.5 102.1h0M277.8 238.3h0M221.3 278.4h0M168.6 123.4h0M325.5 195.5h0M227.5 91.7h0M148.2 117.1h0M193.5 126.4h0M258.3 226.4h0M128.2 126.1h0M269.7 154.9h0M111.4 159.1h0M167.7 181.2h0M259 282h0M271.8 230.4h0M187.9 182.9h0M181.6 182.5h0M243.1 100.6h0M161.5 157.5h0M304.9 233.8h0M278.9 152.3h0M173.4 180.5h0M268.7 232.3h0M156.3 122.8h0M290.2 232h0M149 97.5h0M128.5 165.3h0M296.2 230h0M120.7 133.6h0M278.7 170.4h0M256.6 141.4h0M249.8 109.4h0M211.9 126.8h0M222.1 76.7h0M289.9 169.1h0M258.6 140.9h0M207 188.2h0M249.7 239h0M313 123.3h0M215.9 121.9h0M245.1 100.7h0M337.6 187.1h0M330.6 161.2h0M165.8 142.8h0M258.1 131.7h0M254.8 139.4h0M214.9 202.2h0M237.8 255.5h0M157.8 126.1h0M145.1 145.6h0M181.5 119.4h0M157.4 144.6h0M276.9 229.2h0M254.7 102.8h0M357.2 217.1h0M161.8 133.9h0M200.2 125.2h0M160.4 152.3h0M239 205.9h0M215.5 118.1h0M103.8 126.3h0M308.2 170.6h0M199.5 73.7h0M217.6 100.9h0M298 264.3h0M222.7 113.5h0M146.5 106.5h0M247.1 212.7h0M285.8 190.7h0M238.3 102.2h0M181.1 180.4h0M183 109.2h0M159.7 172.6h0M113.2 160.9h0M243.2 225.4h0M243 280.7h0M295.2 268.8h0M217 121.8h0M180.9 183.2h0M118.9 156.4h0M144.8 95.8h0M240.4 234.2h0M126.4 168.4h0M229.1 257.8h0M259.8 147.4h0M228.4 121.7h0M234 282.7h0M263 113.7h0M251.4 276.7h0M234.1 242.1h0M131.2 166.4h0M282.5 225.5h0M153.8 147h0M235.4 205.6h0M220.9 97.4h0M288.1 257.2h0M303.8 196.2h0M268 136.9h0M161.5 148.2h0M166.1 136.7h0M229.7 95.3h0M158.8 85.1h0M241 225.3h0M203.1 187.3h0M309.2 204.4h0" stroke="#FF3300"/>
<path d="M268.9 157.9h0M284.3 230.7h0M292.6 230.6h0M267.3 133.4h0M143.1 102.6h0M298.1 266.5h0M216.7 93.1h0M229 108h0M258.5 133.5h0M171.6 125.7h0M165.2 141.4h0M114.4 155.1h0M288.8 100.2h0M251.7 285.7h0M326.2 204.8h0M253 276.1h0M116.4 146.2h0M275.3 283.8h0M233.9 287.2h0M262.5 222.5h0M240.1 243.6h0M159.6 158.9h0M178.2 126.3h0M161.5 150.8h0M289.5 252.1h0M226.4 97.4h0M170.6 103.4h0M303.3 190.4h0M170.8 129.4h0M207.5 85.5h0M123 156.5h0M227.9 203.5h0M165.5 117.1h0M258.9 104.3h0M233 85h0M229.4 108.1h0M322.4 171.6h0M240.1 98.2h0M194.9 126.5h0M198.5 183.6h0M224 119.7h0M269.1 173.2h0M224.3 118.6h0M124.8 128.1h0M276.4 252.4h0M336.6 213.6h0M192.2 183.7h0M236.7 237.1h0M321 190.5h0M239.7 100.5h0M260.3 286.2h0M293.7 157.7h0M267.9 137.6h0M269.8 144.4h0M168.3 177h0M321.4 223.5h0M260.5 240.7h0M326.2 170.8h0M132.7 129.7h0M241.3 230.1h0M317.6 112.7h0M306.5 198.8h0M307.6 189.5h0M292.3 102.3h0M299.1 187.1h0M248.9 97.3h0M210.5 124.5h0M238.3 109.2h0M322.5 218.8h0M238.8 286.7h0M287.3 273h0M166.1 133h0M274.1 223.6h0M142.4 172.6h0M260.6 224.8h0M249.4 102.2h0M246.8 107.4h0M219.4 89.1h0M196.9 66h0M160.5 156.4h0M327.9 153.6h0M169.8 125.6h0M184.7 121.5h0M239.9 234.8h0M284.7 228.8h0M214.6 117.8h0M262.2 153.5h0M188.5 127.4h0M215.1 86.4h0M212.8 95.4h0M148.8 170.2h0M227.3 203.4h0M231.2 118.2h0M333 149.8h0M289.6 171.8h0M208.6 74.5h0M163.4 117h0M185.2 129.4h0M237.1 208.5h0M237.5 248.9h0M197.6 127h0M229 107.9h0M210.7 93.7h0M276.6 225.7h0M246.9 98.8h0M161.2 172h0M211.9 196.8h0M240.4 211.7h0M221.9 123.4h0M271.3 171.7h0M99.7 131.6h0M216.5 54.3h0M185.2 126.5h0M168.9 122.9h0M156.1 149.7h0M116.2 141.2h0M320.8 108h0M241.1 289.6h0M154.3 155h0M335.9 142.8h0M264 154.8h0M192.5 87.1h0M267.2 147.8h0M161.6 138.2h0M245.7 112.8h0M304.8 173h0M263.5 143.7h0M215 126.2h0M267.8 264.9h0M254.9 249.7h0M236.6 206.7h0M228.5 82.1h0M258.2 138.3h0M295.6 188.3h0M313 142.2h0M229.5 99.3h0M245.2 113.6h0M159.4 157.7h0M231.6 253.8h0M178.7 183.9h0M272.1 285.6h0M196.9 126.4h0M227.1 96.5h0M265.2 160.7h0M161.9 142.2h0M272.1 229.4h0M249.4 119.8h0M291.8 269.2h0M158.8 146.4h0M267.9 230.1h0M199.4 120.2h0M265.8 145.8h0M245.4 113h0M209.5 86.7h0M172.1 92.6h0M260.6 265.1h0M274.9 154.2h0M309.4 205.6h0M333.8 204.7h0M278.4 186.1h0M221.6 95.6h0M248.5 122.5h0M258.8 153.2h0M151.2 135.9h0M257.6 142.9h0M150.3 156.2h0M274.1 165.6h0M230.7 254h0M229.4 103.6h0M161.3 150.9h0M118.9 123.9h0M143.5 102.4h0M299 189.1h0M229.1 201.9h0M240.5 110.5h0M227.1 109.4h0M241.7 220.7h0M201.2 130.6h0M150.6 121.4h0M266.4 159h0M306.2 248.7h0M231.6 112.6h0M231.9 284.4h0M245.5 221.5h0M261.2 122.1h0M294.6 191h0M271 161.1h0M329.9 176.7h0M301.3 185h0M271 100h0M192.5 183.9h0M162.9 141h0M230.2 121h0M268.6 138.4h0M235.8 247.6h0M118.2 159.5h0M314.7 116.4h0M321.5 221.5h0M287.5 236.3h0M190.5 181.5h0M195 71.9h0M273.9 279.3h0M327.2 164.5h0M215 129.2h0M214.9 108h0M276 177.3h0M250.4 113h0M281.9 173h0M121 101.9h0M212.9 107.7h0M141.1 144h0M133.6 132.6h0M300.6 233h0M321.1 219.4h0M218.9 97.9h0M337.2 190.9h0M267.7 223.8h0M213.1 97.4h0M281.5 186.2h0M303.4 110.5h0M271.3 147.9h0M268.9 155.4h0M185.9 68.8h0M159.7 159.1h0M270.9 149.1h0M172.2 111.2h0M204.3 190.2h0M299.4 193.1h0M244.8 113.4h0" stroke="#FF3300"/>
<path d="M285.8 89h0M287.4 181h0M236.7 216.8h0M276.8 82.8h0M276.5 144.8h0M265.7 243.6h0M147.4 256.9h0M208.8 70.3h0M157.5 146.1h0M124.2 138.3h0M226.1 89.4h0M220.9 257.1h0M110.1 192.1h0M163.2 126.6h0M332.1 143.5h0M284.1 116.8h0M297.5 181.4h0M137.2 246.7h0M289.7 159h0M228.6 62.6h0M266.8 274.5h0M233 87h0M163.3 125.7h0M173.4 186.9h0M274 84.1h0M286.9 87.8h0M167.4 95.6h0M132.6 235.2h0M234.6 261.5h0M326 199.2h0M169.1 94.9h0M192.1 191.3h0M272.9 134.7h0M257.8 256.4h0M276.4 136.2h0M338.1 182.6h0M224.2 298.1h0M232.7 240.9h0M306 94.7h0M333.9 168.8h0M142.4 93.6h0M312.4 167.7h0M240.4 221.7h0M169.4 116.5h0M155.9 183.2h0M114.2 203.3h0M318.8 162.7h0M268.2 133h0M322.3 231.3h0M128 231.1h0M265.7 134.7h0M260.4 72.4h0M191.5 187.1h0M240.7 66.7h0M236 215.9h0M316.8 201.7h0M277.4 172.2h0M186 121.6h0M239.4 214.7h0M326 179.1h0M185.3 279.6h0M229.7 210h0M217.5 110.2h0M280.4 242.4h0M140.4 115.9h0M324.1 107.4h0M289.6 170.7h0M318.6 239.1h0M236.5 228.8h0M171.7 274.8h0M186 190.9h0M305.5 90.2h0M125 122.4h0M138.2 170.3h0M291.8 165.9h0M253 223.3h0M222.8 104.3h0M298.3 182.4h0M331.2 142.4h0M161.7 89.6h0M127.3 149.7h0M167.9 272.4h0M146.9 254.7h0M322.9 111.9h0M276.9 272.3h0M312.1 107.1h0M231.6 271.9h0M294.8 175.7h0M160.4 113.1h0M201 189.3h0M229.7 87.6h0M220.5 270.5h0M247.1 222h0M234.8 98.1h0M275.6 130h0M220.2 258.7h0M284 82.3h0M235.7 214.1h0M256.8 264.2h0M221.2 266.5h0M257.6 237h0M90.7 177.8h0M276.3 102h0M331.7 126h0M257.3 125.5h0M269.3 120.7h0M231.8 212.3h0M151.9 123.7h0M112.5 162.4h0M319.3 116.6h0M217 91.3h0M224.9 114.7h0M208.1 196.8h0M156.1 172.6h0M226.6 286.6h0M235.6 285.8h0M286.8 116h0M279.1 85.2h0M257.2 70.6h0M288.7 141.7h0M253.9 75h0M287.4 162h0M284.6 177.7h0M297.9 177.8h0M258.4 113.4h0M258.5 124.6h0M294.7 90.3h0M255.1 124.7h0M99 172.9h0M236.5 218h0M298.6 283.3h0M231.7 254.7h0M241 219h0M218.3 97.3h0M332.1 164.3h0M228.8 207h0M268.1 120.9h0M328.8 162.9h0M118 222.2h0M226.8 247.7h0M257.6 254.6h0M283.1 159.9h0M286.3 181.4h0M325.2 139.1h0M283.8 162.4h0M314.5 120.1h0M300.4 181h0M144 105.2h0M279.9 263.2h0M297.1 176.8h0M165.8 185.8h0M220.3 256.2h0M331.1 164.1h0M161.3 83.4h0M143.6 98.2h0M203.3 118.7h0M319.2 137.7h0M157 132.6h0M224.4 287.7h0M298.2 177.5h0M144.7 118.9h0M197.8 188.7h0M221.7 255.1h0M307.7 183h0M162.4 273.2h0M94.8 173.6h0M275.5 146.1h0M125.2 227h0M299.3 176.3h0M208 199.7h0M261.2 102.4h0M314.9 163.4h0M257 225.8h0M158.9 183.2h0M170.1 274h0M238.3 99.1h0M324.5 136.2h0M262.8 99.8h0M148.1 98.6h0M260 287.4h0M158.4 262.5h0M317.3 207.1h0M334 169.7h0M161.6 182.3h0M90.7 177.8h0M192.4 190.7h0M289.3 83.7h0M243.9 227.3h0M319.8 175.8h0M297.7 182h0M122.4 267.7h0M290.6 177.3h0M218.5 296.8h0M244.9 106.7h0M164.1 112.5h0M316.8 163.6h0M264.6 114.5h0M279.3 82.6h0M169.7 183.3h0M159.7 86.7h0M141.8 97.2h0M288.6 178.9h0M103.1 190.9h0M243.6 221.2h0" stroke="#0000CD"/>
<path d="M227.7 284.1h0M175.3 278.5h0M266.6 75.1h0M285.7 172.1h0M154.9 262.3h0M312.6 242.2h0M166 182.1h0M142.3 148.7h0M104.5 179.8h0M315.4 155h0M337.9 160h0M312.4 103.1h0M223.9 209h0M207.9 194.2h0M128.6 117.8h0M199 192.8h0M291.9 180h0M306.1 182.2h0M335.4 154.6h0M92.8 189.5h0M181.5 284.3h0M149.4 149h0M235 103.8h0M150.5 262.5h0M271.7 122.6h0M164.8 92h0M175.8 277.1h0M290.7 163.5h0M166.4 92.2h0M318 172.6h0M110.7 218.4h0M283.7 264h0M161.9 117.9h0M305.3 175.1h0M332.7 193.7h0M119.2 167.9h0M263.5 109.9h0M117.4 194.8h0M281.4 231.9h0M213.4 63.3h0M202.2 122.3h0M222.6 64.1h0M120.8 170.2h0M279.5 128.8h0M229.3 209.9h0M189.1 287.2h0M125.3 228h0M120.4 174.6h0M292.1 172.9h0M243.6 71.2h0M120.2 228.1h0M191.7 286.7h0M263.3 104.1h0M299.9 168.9h0M230.3 61.2h0M218.4 101.4h0M299.1 178.2h0M182.8 285.3h0M164.9 272h0M286.2 177.5h0M306.7 133.4h0M178.4 187.6h0M294.7 181h0M227.1 105.4h0M288.8 174.6h0M316.7 203.4h0M285.9 157h0M265.1 68.5h0M177.4 113h0M333.7 173h0M259.8 232.8h0M313.5 121.9h0M122.5 171.1h0M223.8 87.6h0M198.8 122.8h0M127.2 170.1h0M311 180.7h0M323.7 163.1h0M307.8 186.5h0M247 73.3h0M303.8 135.4h0M185.7 281.7h0M304.2 172.8h0M203.5 192.3h0M259.3 272.9h0M279.9 275.3h0M211 199.9h0M265.2 115.2h0M219.5 65.7h0M270.2 136.4h0M252.1 284.1h0M272.8 79.9h0M134.2 166.4h0M214.4 291.2h0M260.9 119h0M304.6 162.9h0M317.3 137.5h0M193 119.9h0M257.4 102.2h0M269.9 115.4h0M233.5 235.4h0M316.9 116h0M309.4 153h0M111.9 187.3h0M117.7 173.6h0M234 93.6h0M264.4 232.5h0M303.3 100h0M219 304h0M237.9 212.6h0M296 177.1h0M215.1 105.4h0M265.4 124.8h0M220.2 257.8h0M252.2 73h0M119.7 131.2h0M123.3 123.2h0M297.8 157.5h0M177 282.6h0M220 85.5h0M252.9 115.9h0M273.5 133.8h0M212.7 206.6h0M190.2 287.9h0M274.6 122.6h0M227 73.1h0M199.7 308.1h0M260.8 71h0M218 275h0M241.9 74h0M288.4 182.8h0M282.9 269.5h0M212.2 205.3h0M230.9 85.2h0M222.4 71.8h0M140.5 111.5h0M262 148.5h0M242 83.3h0M306.2 141.8h0M236.2 267.9h0M224.3 256h0M259.6 225h0M321.6 136.9h0M255.9 286.2h0M180.1 185.5h0M284.2 253.2h0M248.9 76h0M227.3 69h0M322.2 165.4h0M289.3 183.2h0M264.2 104h0M286 155.4h0M306.5 93.2h0M240 293.6h0M251.7 57.8h0M112.5 162.8h0M225.2 262h0M203.1 191.4h0M313.2 117.5h0M212.4 201.8h0M286.5 172.7h0M165.9 184.3h0M215.4 279.8h0M149.1 180.2h0M240.3 97h0M300.8 175.7h0M204 195.1h0M292 84.3h0M172.3 118.3h0M145.1 151.7h0M116.2 142.4h0M149.7 77.5h0M230.5 205.7h0M321.4 162.4h0M158.1 110.2h0M225.6 249h0M323.2 135.8h0M323.1 163.2h0M114 170.1h0M262.8 147.5h0M279.5 94.6h0M255.7 113.9h0M259.7 72.1h0M126.7 229.9h0M239.1 266.4h0M115 148.9h0M263.5 106.3h0M237.6 212.9h0M136.7 239.8h0M232.1 238.8h0M241 105.3h0M201.3 191.8h0M103.1 190.2h0M317.9 101.9h0M264.3 105.3h0M324 204.4h0M214.8 206.1h0M225.4 268.3h0M227.7 105.5h0" stroke="#0000CD"/>
<path d="M300.3 190h0M317.6 240.5h0M198.1 102.1h0M321.9 164.8h0M230.4 257h0M207.1 128.7h0M167.7 99.5h0M112.1 115.3h0M289.8 226.5h0M296.4 232.1h0M296.5 251.7h0M203.6 120.9h0M324.2 164.1h0M198.4 109h0M310.2 236.6h0M335.6 187.9h0M251.2 100.2h0M269.2 262.5h0M282.6 165.6h0M243.2 223.9h0M116.8 154.8h0M234.3 102.6h0M271.5 110.3h0M247.9 217h0M178.9 89.5h0M166.2 136.9h0M190.4 71.3h0M175.4 128.6h0M288.6 236.3h0M295.4 235.5h0M267.7 223h0M333.1 231.6h0M224.6 90.1h0M251.3 130.6h0M156.1 87.7h0M292.7 174.5h0M206.6 190h0M260.4 240h0M120.5 165.1h0M278 156h0M307.8 194.3h0M330.4 215h0M275.9 230.1h0M154.1 161.9h0M221.8 125.9h0M293.2 233.5h0M288.8 248.1h0M245.5 285.6h0M155.8 143.7h0M122.2 136.2h0M336.5 145.1h0M161.5 124.5h0M254.3 221.1h0M293.5 254.8h0M147.2 115.8h0M239.8 105.2h0M146.3 163.5h0M240.8 102.9h0M311 208.6h0M156.3 159.7h0M214.7 197.8h0M239.3 230.8h0M231 102.7h0M292.3 163.6h0M226 96.1h0M214.3 92.9h0M269.9 247.5h0M277.2 268.2h0M225.7 90.3h0M194.3 114.8h0M248.9 226h0M301.9 95.3h0M289.6 227.8h0M142.2 101.1h0M142.4 125.3h0M263.6 222.7h0M321.6 165.2h0M284.2 189.1h0M290.9 227.8h0M198.8 127.9h0M182.9 75.8h0M266.9 136.8h0M194.7 125.6h0M303.9 231.4h0M220.8 105.5h0M288.7 256.1h0M300 252.3h0M256.5 242.5h0M316.3 236.8h0M156 138.5h0M286 230.5h0M310.5 196h0M168.6 77.1h0M241.1 231.4h0M273.6 224.7h0M217.8 66.7h0M145.9 83.3h0M169 96.9h0M217.2 100.4h0M242.7 216.1h0M252.2 78.7h0M152 144.4h0M232.4 108.8h0M301.5 174.5h0M238.6 241.7h0M307.6 201.3h0M236.6 109.3h0M252.5 97.2h0M212.4 124.8h0M302.4 170.8h0M253.6 134.8h0M221.5 107.1h0M283.9 163h0M270.8 168.9h0M209.5 76.6h0M146.7 112.7h0M157 145.3h0M247.9 115h0M303 231.5h0M296.8 255.9h0M216.2 78.7h0M200.4 188.9h0M162.4 150h0M299.9 193h0M152.4 152.4h0M171.2 95.6h0M322.4 210.5h0M178.6 97.6h0M204.8 74.6h0M262.9 155.5h0M160.6 153.6h0M173.9 87.3h0M241.4 251.5h0M269.1 145.4h0M197.3 112.5h0M265.9 151.2h0M149.7 166.8h0M247.2 265.4h0M232.2 120.2h0M237.5 204h0M278.5 171.5h0M313.8 204.3h0M253.4 130.4h0M118.6 120h0M230.8 201.9h0M268.3 157h0M164.8 146.8h0M119.7 126h0M293 234.9h0M305 242.8h0M268.4 139.2h0M139.4 129.9h0M268.2 226.9h0M199.8 183.7h0M227.8 102.5h0M268.2 244.3h0M189.6 123.3h0M155.9 127h0M144.1 166.1h0M191.2 126.3h0M187.1 73.6h0M227 278.8h0M134.7 126.5h0M299 232.7h0M226.4 81.3h0M303.8 126h0M212.1 123.2h0M248.6 216.1h0M230.4 114.6h0M310 231.7h0M216.9 123.8h0M246.1 216.8h0M234.5 243.2h0M258.1 224.2h0M274.5 230.1h0M258.6 152.9h0M246.6 116.9h0M321.8 196.9h0M208.5 127.8h0M180 83.7h0M261.6 263.4h0M213 129h0M258.1 146.7h0M287.1 242.3h0M174.2 182.5h0M305.9 171.3h0M326.2 169.1h0M263 111.7h0M176.4 122.6h0M290.4 240.1h0M264 165.1h0M151.8 127h0M156.9 110.1h0M296.8 255.9h0M269.9 225.9h0M150.9 152h0M304.8 195.1h0M295.1 162.6h0M291.3 235.4h0M150.9 111h0M140.9 138.2h0M231.4 282.2h0M259.9 157.6h0M254.3 129.5h0M172.9 94.8h0M184 89.2h0M245.2 220.4h0M183.2 81.8h0M311.3 235.8h0M315.6 107.5h0M271.9 229.7h0M211.5 130.7h0M233.2 246.9h0M323.4 228.8h0M263 276.9h0M213.6 126.1h0M231.4 283.4h0M216.5 196.2h0M148.5 140.1h0M258.3 235.2h0M274.6 149h0M215 124.1h0M327.8 209.1h0M300.2 186.9h0M306.5 196.3h0M171.7 87.4h0M216.2 106.5h0M158.6 145.8h0M258.9 218.9h0M202.8 130.2h0M265 222.3h0M248.3 97.9h0M145 168.3h0M167.1 177.1h0" stroke="#FF3300"/>
<path d="M304.1 194.1h0M107.2 120.5h0M144.9 136.3h0M233.7 87.6h0M212.1 103.5h0M314.1 205.4h0M212.2 79h0M277.5 164.1h0M274.6 226.5h0M255.6 137.8h0M222.3 124.5h0M226.3 114.5h0M292.2 232.5h0M314.9 197h0M208.9 121.3h0M222.7 100.3h0M202.2 122h0M221.6 203.8h0M157.6 154.8h0M183.3 124.7h0M156.7 161.2h0M301.2 111.8h0M288 232.1h0M334.7 188.1h0M142.2 140.9h0M196.2 80.2h0M205 75.2h0M329.4 215h0M327.3 191.1h0M311.7 263.3h0M305.3 240.6h0M214.4 194.8h0M164.2 132.8h0M254.8 277h0M223.9 100.5h0M145.7 114h0M220.7 83.9h0M244.9 270.2h0M251.8 274.9h0M273.2 172.3h0M214.4 94h0M242.2 264.6h0M212.7 196.9h0M311.1 165.8h0M242 231.7h0M300.1 252.9h0M253.7 139.5h0M264 96.7h0M277.4 153.4h0M328.3 208.8h0M230.3 100.3h0M244.1 229.5h0M308.9 240.9h0M213.3 81.5h0M219.5 82.9h0M149.8 96.3h0M212.9 188.2h0M240.3 264.4h0M282.9 168.3h0M228.6 84.5h0M243 229.1h0M163.9 150.5h0M236.6 242.9h0M133.9 166.4h0M283.8 272.8h0M205.5 130.9h0M206.6 81.1h0M229.9 250.6h0M218.8 117.8h0M223.5 200.7h0M216.3 100.5h0M271.1 149h0M152.2 173.6h0M307.8 199.3h0M251.9 109.5h0M214.2 190.9h0M164.7 144.1h0M155 147.1h0M264.1 150.4h0M234.8 282.2h0M252.2 130.9h0M297.4 265.5h0M169.5 110.5h0M316.6 264h0M288.1 247.9h0M284.2 256.6h0M277.4 178.5h0M267.7 142.7h0M333.8 182.4h0M254.6 103.6h0M233.6 277.4h0M238.3 100h0M154.7 162.3h0M280.2 175.6h0M165.9 133.6h0M207.1 187.1h0M157.4 165.9h0M275.9 224.2h0M173 109.6h0M225.1 85.3h0M250.7 238.9h0M302.3 234.6h0M333.3 149.4h0M253.1 128h0M264.5 160h0M253.7 109.9h0M286.5 172.3h0M161.3 128.8h0M155.8 138.5h0M222.9 123.4h0M296.3 237.8h0M167.2 110.5h0M269.4 136h0M217.4 101.5h0M325.2 205.1h0M257.6 144.2h0M195.2 92.5h0M267.5 108.4h0M318.1 213.4h0M177.5 122.8h0M136.7 170.3h0M193.8 100.2h0M205.7 127.6h0M205.9 100h0M207.4 124.1h0M209.5 191.8h0M251 224.6h0M288.4 185.2h0M229.1 102.1h0M226.4 120.9h0M156.4 154.5h0M265.8 275.5h0M219.1 199.6h0M162.3 125.6h0M265.9 229h0M152.9 115.7h0M239.6 230.7h0M268.5 286.8h0M340 181.9h0M311.6 109.2h0M299.2 245.1h0M193.3 128.8h0M274.3 145.4h0M278.3 116h0M205.9 68.8h0M180.2 178.8h0M337.2 190.9h0M233.7 241.9h0M147.8 172.3h0M234.3 247.4h0M238.1 249.8h0M154 138.4h0M279 118.3h0M258.1 146.5h0M224.3 78.7h0M239.5 251.4h0M156.6 122.7h0M320 234.4h0M225.6 96.9h0M163.1 160.7h0M314.4 171.1h0M297.6 129h0M238.9 282.7h0M244.5 111.2h0M133.2 128.8h0M205.3 125.1h0M294.8 267.5h0M289.5 191.6h0M333.5 187.8h0M227.1 111.2h0M204.5 75.1h0M328 199.7h0M190.7 103.5h0M173.1 82.8h0M286.3 168.3h0M239.4 213h0M240.8 208.8h0M323 172.8h0M246.9 111.5h0M201.2 73h0M194.7 95.9h0M308.3 195.6h0M223.1 272.4h0M269 157h0M235.1 242h0M238.5 211.8h0M229.9 97h0M233 109.2h0M315.9 188h0M244.6 103.7h0M167.5 97.9h0M309.3 169.7h0M169.5 91.9h0M236.4 109h0M282.2 234.8h0M176 182.5h0M312.8 210.7h0M286.7 183.9h0M207.3 84.1h0M271.5 168.7h0M206.8 76.5h0M226.4 108.3h0M308.1 193h0M202.6 130.1h0M226.4 284.5h0M164.5 108.2h0M277.9 149.7h0M209.6 89.7h0M215.5 94.5h0M284.9 164.3h0M326.4 206h0M297.9 104.4h0M158.4 166.2h0M321.7 213.6h0M190.4 121.3h0M181.5 120.8h0M224.7 117.2h0M152.2 139.1h0M314.2 110.2h0M294.1 252.4h0M129.4 142.1h0M246.7 112.2h0M239.5 240.5h0M342.8 230.9h0M152.7 149.6h0M171.4 101.3h0M309.9 194.4h0M302.1 190.6h0M249.1 110.5h0M278.6 231.4h0M146.3 146.9h0M274.1 175.1h0M314.3 172.3h0" stroke="#FF3300"/>
<path d="M163.5 184.6h0M115.5 245.3h0M178.4 80.9h0M240.7 264.6h0M298.1 245.9h0M325.8 203.1h0M215.8 278.2h0M220.5 281.7h0M335 198.2h0M299.2 181.5h0M270.9 133.3h0M106.7 179.2h0M296.1 183.6h0M331 204.3h0M238.8 69.9h0M291.9 162.4h0M223 91.8h0M286.8 92.7h0M249.3 69h0M283.1 159.9h0M323.4 205.2h0M150.8 130.3h0M213.3 206.9h0M300.1 123.8h0M240.2 96.3h0M115.9 143.3h0M217.7 72.6h0M217.4 111.1h0M331.1 167.9h0M120.5 174.8h0M175.3 185.1h0M332.2 162.4h0M257.7 275.7h0M272.8 276.5h0M268.2 115.9h0M118.6 222.6h0M262.7 115.7h0M255.6 86.4h0M271.9 77h0M263 103.4h0M220 301.9h0M278.9 138h0M263 259.1h0M321.1 148.3h0M234.3 215.9h0M147.9 179.8h0M305.5 99.1h0M242.3 253.4h0M224.5 78h0M212.3 202.5h0M306.1 102.7h0M118.3 257.3h0M320.2 112.5h0M324.4 163.4h0M126 117.6h0M140.3 159.3h0M320.5 208h0M279.6 275.1h0M220.3 104.7h0M221 297.1h0M244.3 97.7h0M228.3 207.9h0M192.7 282.8h0M330.3 143.2h0M285.3 268.4h0M261.2 229.9h0M164.1 182.4h0M139.5 175.8h0M278 82.3h0M112.9 196.6h0M182 284.9h0M126.7 229.3h0M269.2 113.4h0M225.1 289.2h0M219.3 205.1h0M271.8 140.6h0M135 121.2h0M192.9 188.9h0M225.1 64.1h0M155.1 176.9h0M191.3 284.5h0M162.5 119.7h0M232.3 211.6h0M236.5 292.5h0M153.9 161.7h0M254.4 272h0M310.3 100.2h0M147.9 160.7h0M236.2 216.1h0M242.7 220.4h0M139.5 165.7h0M308.6 168.4h0M220.8 70h0M185.6 186.4h0M329.5 145.5h0M263.7 111h0M259.8 259.7h0M225.4 204.6h0M259.6 225.6h0M198.3 190.3h0M139.3 244.4h0M287.6 91.8h0M209.4 206.5h0M126.6 257.3h0M179.8 113.4h0M287.6 186.3h0M242.5 281.8h0M235.3 215.3h0M294.5 178.1h0M263.3 152.4h0M280.9 131h0M235.4 231.2h0M317.6 205.7h0M300.9 174.2h0M230.2 70.7h0M179.7 283h0M317.6 207.3h0M235 219.9h0M215 80.1h0M149.1 178.1h0M311.5 160.5h0M301.2 186.1h0M235.1 227.9h0M164.6 108.8h0M222.8 87.3h0M234.5 97.8h0M230.7 245.8h0M159.8 101.1h0M227.6 205.2h0M251.3 280.6h0M112.6 182.5h0M134.8 104h0M310.8 112.2h0M240.6 108.9h0M221.2 258.6h0M312.3 123.4h0M198.4 120.9h0M118.6 172.3h0M290.5 162.7h0M340 181.9h0M320.6 139.7h0M262.4 113.6h0M219 270.2h0M229.1 66.5h0M269.6 72.8h0M282.1 93.6h0M238.4 213.8h0M297.2 81.2h0M258.6 132.6h0M329.7 139.4h0M265.2 245.7h0M160.1 88.7h0M159 131.7h0M150.6 179.9h0M118.2 120.5h0M216.5 294.1h0M252.6 226.7h0M232.2 93.2h0M212.8 68.3h0M276.6 77.3h0M115.5 123.3h0M220.5 265h0M117.3 173.4h0M131.3 137.3h0M228.9 89.2h0M267.2 105.4h0M130.2 235.2h0M337.2 166h0M351 155h0M333.5 148.5h0M250.4 282.5h0M228.9 248.9h0M242.3 264.5h0M258.9 129.1h0M294.3 100.5h0M226.9 91.1h0M217.5 83.6h0M162.3 103h0M231 84.4h0M284.6 169.2h0M268.8 141.2h0M216.9 276.9h0M158.6 101.4h0M234.1 107.3h0M161.2 95.6h0M320.6 140.1h0M127.2 237h0M257.7 101.6h0M224.5 81.7h0M258.4 108.1h0M251.1 82.6h0M153 179.4h0M258.6 113.4h0M322.3 208.2h0M210.5 293.4h0M315.3 169.5h0M230 80.8h0M236.4 264.4h0M186.4 281.8h0" stroke="#0000CD"/>
</g></g>
<g transform="translate(0 992.1)">
<use href="#fr"/>
<text class="k" transform="translate(135.8 354.2) scale(0.98 1.04)" text-anchor="middle">-5</text><text class="k" transform="translate(66.4 270.8) scale(0.98 1.04)" text-anchor="end">-5</text><text class="k" transform="translate(207.1 354.2) scale(0.98 1.04)" text-anchor="middle">0</text><text class="k" transform="translate(66.4 203.1) scale(0.98 1.04)" text-anchor="end">0</text><text class="k" transform="translate(278.4 354.2) scale(0.98 1.04)" text-anchor="middle">5</text><text class="k" transform="translate(66.4 135.3) scale(0.98 1.04)" text-anchor="end">5</text><text class="k" transform="translate(349.6 354.2) scale(0.98 1.04)" text-anchor="middle">10</text><text class="k" transform="translate(66.4 67.6) scale(0.98 1.04)" text-anchor="end">10</text><text class="a" transform="translate(223 388) scale(0.97 1.04)" text-anchor="middle">x1</text><text class="a" transform="translate(23.3 182.3) rotate(-90) scale(1.0 1.03)" text-anchor="middle">x2</text>
<text class="t" transform="translate(77.6 23.7) scale(1.0 1.0)">g.opt</text>
<g fill="none" stroke-width="9.6" stroke-linecap="round">
<g clip-path="url(#mc)">
<use href="#mass" fill="#0000CD"/>
<path d="M214 30L400 30L400 240L345 228L342 210L338 195L331 191.7L324.1 177.9L318.6 164.1L307.6 150.3L296.6 136.6L282.8 129.7L271.7 111.7L252.4 102.1L245.5 85.5L227.6 67.6L222 45Z" fill="#0000CD"/>
<path d="M214 30L222 45L227.6 67.6L245.5 85.5L252.4 102.1L271.7 111.7L282.8 129.7L296.6 136.6L307.6 150.3L318.6 164.1L324.1 177.9L331 191.7L338 195L342 210L345 228L335 232L331 220L326 203L318 188L303.4 177.9L296.6 164.1L271.7 157.2L262.1 136.6L241.4 122.8L227.6 102.1L220.7 74.5L210 45Z" fill="#FF3300"/>
<path d="M90 79L330 307L350 310L400 300L400 240L345 228L335 232L331 220L326 203L318 188L303.4 177.9L296.6 164.1L271.7 157.2L262.1 136.6L241.4 122.8L227.6 102.1L220.7 74.5L210 45L214 30L150 30L90 60Z" fill="#FF3300"/>
<path d="M210 45L220.7 74.5L227.6 102.1L241.4 122.8L262.1 136.6L271.7 157.2L296.6 164.1L303.4 177.9L318 188L326 203L331 220L335 232L325 245L316 222L306 200L290 185L270 172L252 150L232 135L216 110L208 80L200 50Z" fill="#FF3300"/>
<path d="M310.8 168.2L332.8 162.7L346.6 198.5L339.7 234.4L324.6 237.1L316.3 209.6L310.8 187.5Z" fill="#FF3300"/>
</g>
<path d="M318.2 189.6h0M281 157.7h0M315.2 151.9h0M251.6 238.8h0M340 181.9h0M157.7 145.8h0M254.1 69.9h0M177.7 281.9h0M257.6 73.9h0M279.4 159.9h0M244 81.6h0M307.6 177.9h0M199.7 308.1h0M216.5 54.3h0M244.4 232.7h0M239.2 120.4h0M244 227.5h0M176.1 161.8h0M111.8 213.2h0M252.8 102.8h0M259.4 104.3h0M333.1 231.6h0M308.5 145.5h0M247.3 280.1h0M305.4 143.2h0M357.2 217.1h0M320.9 158.8h0M283.7 93.1h0M125.3 234.2h0M315.9 180.2h0M192.6 288.3h0M230.3 61.2h0M240 293.6h0M90.7 177.8h0M112.4 166.2h0M218.8 81.1h0M263.9 104.3h0M300.1 134.2h0M121.5 147.3h0M218.3 76h0M166.4 275.3h0M325.8 203.2h0M115.2 161.5h0M226.5 77.7h0M191 181.5h0M181.3 166.1h0M260.5 131.8h0M323.6 223.6h0M315.9 160.5h0M327.6 180.9h0M269.5 281.1h0M294.7 142.9h0M296 135.7h0M324 205.8h0M174.2 165.9h0M288 126.4h0M292 135.2h0M283.3 108.3h0M201.1 186.4h0M252.2 103.5h0M310.9 177.3h0M294.7 88.1h0M309.4 117.7h0M203.7 286.6h0M193.6 182.6h0M251 148.4h0M132.4 126.5h0M174.2 164.7h0M325.8 195.4h0M322.6 178.5h0M232.6 214.5h0M199.1 188.7h0M230.4 218.4h0M163.9 152.5h0M180.8 172h0M266.2 248.4h0M251.4 95.6h0M334.3 155.6h0M205.1 293.2h0M207 191.7h0M307.2 173.8h0M106.1 150.9h0M118 136.4h0M290.2 133.4h0M333 167.9h0M262 158.7h0M173 158.3h0M116.2 141.2h0M213.4 200.2h0M322.3 205.5h0M245.4 229.2h0M280.7 101.9h0M166.5 154.9h0M260.5 246.6h0M271.3 112.3h0M103.1 190.2h0M264.8 91.5h0M122.4 267.7h0M235.1 75h0M256 283.6h0M255 101.6h0M119.6 152.8h0M316.6 156.5h0M300 133.4h0M277.6 83.4h0M285.1 157.1h0M117.8 151.7h0M333.4 166.9h0M283.9 128.1h0M297.8 135.5h0M286.1 95.2h0M90.7 177.8h0M322.9 180.6h0M297.8 143.7h0M273 281.4h0M238 220.8h0M253 73.6h0M275 259h0M156.8 149.1h0M294.6 157.9h0M218.4 291.7h0M202.9 192h0M321.5 226.6h0M156.7 149.9h0M218.3 294.7h0M156.7 143.1h0M260.8 246.1h0M319.2 157.9h0M262.2 245.7h0M308.5 96.7h0M331.6 169.7h0M278.6 156.2h0M229.1 290.8h0M238 223.4h0M272.1 254.7h0M103.8 126.3h0M244.6 75.6h0M231.8 220.2h0M303.3 157.7h0M116.4 156.7h0M270.5 73.7h0M255.7 99h0M231.4 96.7h0M313.3 179.3h0" stroke="#0000CD"/>
<path d="M313.8 211.1h0M223.2 104.1h0M139.3 113.7h0M242.8 123.7h0M228.4 134.8h0M184.6 81.5h0M315.3 214.1h0M298.1 165.6h0M212.7 106.8h0M225.8 91.1h0M197.3 175.3h0M326.8 189.6h0M230 85.7h0M318.2 169.3h0M325.4 221.3h0M303.9 252.7h0M287.5 138.2h0M288.9 163.2h0M281.8 82.7h0M279.8 155.6h0M208.2 186.1h0M246.9 222.1h0M228.8 107.6h0M228.1 132.6h0M304.5 205.6h0M287 265.1h0M214.8 70h0M152.6 133.9h0M273.9 176.6h0M255.2 126.9h0M239 85.8h0M298.1 161.2h0M206.3 79.1h0M267.9 140.9h0M241.9 147.9h0M255.4 158h0M260.4 237.2h0M220.8 113.2h0M255.8 132.1h0M240.8 220.6h0M299.5 187.6h0M285.8 164h0M218.2 76.8h0M221.1 113.7h0M241.1 113.8h0M146.1 100.1h0M272.6 119.4h0M235.4 122.8h0M273.1 159.2h0M134.8 104h0M214.1 98h0M224.4 132.4h0M299.2 173.2h0M278.7 174h0M238.4 90.3h0M323.4 208.6h0M287.8 174.4h0M250.6 231.2h0M264.7 135.7h0M270.9 175.5h0M272.2 158.8h0M232.8 87.1h0M328.8 198h0M267 142.4h0M220.5 78.6h0M299.2 163.3h0M241.7 125.7h0M220.2 198.1h0M311 201.6h0M251.2 228h0M211.3 111.4h0M331.7 186.7h0M270.7 172.7h0M235.3 121.2h0M319.3 237.6h0M323.1 188.5h0M239.2 119.8h0M224.7 85.4h0M330.7 188.3h0M143.8 122.6h0M221.6 91.3h0M333.8 197.9h0M217 117.7h0M280.8 129.1h0M231.9 139.8h0M245.2 89.2h0M231.2 74.5h0M226.9 204.2h0M270.7 156.5h0M271.7 118.9h0M237.5 118.9h0M316.6 163.1h0M308.6 159.7h0M222.1 91h0M147.2 133.1h0M261.8 155.8h0M288.4 190.4h0M273.8 120.2h0M317.4 225.4h0M331.1 205.3h0M226.7 75.6h0M321 190.5h0M285 143h0M264.3 141.6h0M328.6 191.1h0M218.1 197.3h0M300.7 201h0M221.5 197.3h0M335 190.5h0M189.4 169.2h0M266.7 146.5h0M183.2 163.1h0M209.3 77.5h0M244.4 93.5h0M229.7 122.5h0M337.2 190.9h0M311.5 163.6h0M259.2 120.8h0M280.6 255.9h0M237.2 107.9h0M307.9 192.5h0M227.5 67.8h0M331.9 195h0M267.3 171.9h0M226.2 109.1h0M312.2 188.9h0M272.9 152.5h0M219.7 86.5h0M208 83.7h0M145.9 124.9h0M142.7 107.9h0M312.9 207.1h0M285.9 139.3h0M221.3 72h0M247.5 129.8h0M311.6 167.8h0M255.2 231.2h0M313.7 215.4h0M299.9 258.7h0M286 259.2h0M171.6 149.8h0M296.1 137.2h0M273.6 77.7h0M219.6 66.4h0M237.5 214.7h0M301.4 260.5h0M236.6 110.5h0M290.5 138.5h0M269.9 142.8h0M224.3 128.1h0M263.9 146.1h0M287.3 186.3h0M260.1 130h0M207.9 79.7h0M313.9 200.3h0M269.5 77.7h0M310.9 163.3h0M265.2 144.3h0M260 159.5h0M230.2 115.7h0M336.1 194.8h0M318.7 173.5h0M293.3 264.7h0M260.7 134.1h0M316.7 221.8h0M253 150.7h0M251.6 230.8h0M276.9 249h0M233.4 139.8h0M279.2 255h0M251.6 114.4h0M287.3 135.3h0M337.2 190.9h0M242 140h0M228.1 87.3h0M142.8 106.3h0M291 163.9h0M215.7 106.2h0M228.5 95.6h0M315.1 170.5h0M272.7 150.3h0M209.4 93.1h0M334.5 178.1h0M226.1 84.8h0M289.1 183.1h0M283.2 261.8h0M226.3 116.4h0M234.9 210.1h0M250.8 147.2h0M261.3 111.4h0M220.4 77.7h0M301.7 176.3h0M212.3 96.5h0M190.2 73h0M323.1 170.8h0M300 172.9h0M230.8 138.2h0M229.6 111h0M234.3 117h0M292.3 190.6h0M203.1 79.9h0M317.7 215.4h0" stroke="#FF3300"/>
<path d="M288.1 184.9h0M247 123h0M274.4 153.3h0M239.7 145h0M226.3 90.3h0M327.8 189.9h0M143.4 102.7h0M276.3 163.2h0M217.2 74.2h0M264.6 134.8h0M145.9 83.3h0M274.4 130.7h0M218.2 99.9h0M221.2 202.9h0M158 138.6h0M264.1 110.1h0M269.9 117.6h0M236.4 214.9h0M240.5 117.1h0M289.9 119.8h0M161.3 142.1h0M146.5 125.5h0M207.4 85.5h0M304.5 197.6h0M286.2 138.8h0M317.3 230.2h0M186.4 163.9h0M297.5 198.8h0M319.9 189.4h0M319.8 211.9h0M248.2 152h0M316.1 210.3h0M211.1 93.6h0M278.4 127.2h0M311.4 224.7h0M244.9 87.7h0M223.7 88.1h0M206 89.7h0M223.1 116.9h0M287.9 157.4h0M320.7 171.6h0M214.1 96h0M269.6 135.4h0M244.3 218.3h0M328.3 197.2h0M293.4 152.7h0M271.3 151h0M324.5 210.8h0M283.2 152.5h0M244.7 92.6h0M248.7 124.2h0M278.1 83.6h0M319.9 162.5h0M181.6 80.5h0M157.1 139.5h0M280.2 184.9h0M233.2 104.9h0M268.2 147.3h0M240.2 134.9h0M212.3 96.6h0M224 125.1h0M234.4 215.6h0M286.7 176.5h0M316.4 129.7h0M244.4 126h0M264.8 164.5h0M313.8 231.3h0M254.8 123h0M205.8 75.9h0M250.9 225h0M297.6 260h0M259.2 107.9h0M272.4 174.1h0M200.7 70.1h0M196.8 173.8h0M270.5 141.6h0M326.2 203.3h0M230 205.2h0M280.4 175.4h0M233.8 86h0M310.5 157h0M300.6 174.6h0M314.1 111.4h0M253.4 136.7h0M338.4 183.1h0M305.5 211.3h0M246.7 220.3h0M194.3 174.8h0M260.1 136.5h0M241.3 143.3h0M263.7 172.1h0M142.6 124.7h0M224.5 104.1h0M250.7 130.5h0M270.9 115h0M274.7 142.4h0M321.1 194.9h0M331.9 190.5h0M305.5 181.7h0M225.5 127.1h0M295.9 186h0M274.8 156.4h0M261.6 111.3h0M210.3 74.7h0M301 258.3h0M309.5 162.6h0M256.8 109.5h0M305.6 206.8h0M198.7 179.2h0M309 191.5h0M173.4 72.2h0M231.7 111.6h0M329.5 193.3h0M265.7 141.3h0M257 155.7h0M329.3 186.1h0M306.5 152h0M249.8 126.2h0M320 188.6h0M236.5 212.2h0M275.2 126.6h0M165.9 82.9h0M286.2 262.1h0M306 165.6h0M287.1 181.8h0M248.8 142.3h0M332.3 202.2h0M257.7 164.2h0M227.4 108.5h0M269.4 162.8h0M321.2 219.7h0M218.7 199.7h0M180.3 160.9h0M253.3 103.1h0M282.7 165.6h0M233.1 208h0M302.2 176.8h0M308.7 218.1h0M293.9 159.7h0M263.1 156.9h0M306.7 153.1h0M258 117.2h0M335.3 193.1h0M217 80.4h0M220 119.5h0M213.3 94.9h0M232.2 92h0M214.9 85.7h0M244.6 89.3h0M318.4 164.2h0M241.1 220.5h0M222 91.5h0M166.3 146.9h0M254.8 231.4h0M221.3 92.3h0M295.9 193.2h0M331 197.5h0M293.3 268h0M250.3 123.2h0M298.9 175.7h0M263.4 131.9h0M310 188.2h0M273.2 171.9h0M318.8 209.6h0M230.7 138.7h0M313.5 224.8h0M259 140.2h0M272.3 148.2h0M278.7 140.1h0M250 105.6h0M161.2 145.3h0M139 121.1h0M304.6 206.9h0M308 164.9h0M295.6 178.1h0M251.5 227.6h0M306.8 197.2h0M212.3 84.7h0M316.1 214.6h0M228.5 119.5h0M331.7 126h0M261 110.4h0M318.3 174.6h0M322.7 166.7h0M293.4 187.1h0M251.1 125.1h0M157 138.1h0M313.5 202.3h0" stroke="#FF3300"/>
<path d="M303.4 175.7h0M298.1 174h0M278.8 278.5h0M278 78.5h0M277.2 117.2h0M319.5 194.7h0M114.8 215.6h0M235.2 87.4h0M167.4 276.6h0M324.1 107.4h0M336.2 167.3h0M162.5 150.6h0M304.1 129.9h0M318.4 177.4h0M183.6 173.8h0M235.7 78.4h0M246.6 229.8h0M141.3 129.4h0M287.7 159.8h0M241.6 84.7h0M328.2 179.6h0M115.5 245.3h0M228.5 82.5h0M260.7 242.7h0M255.9 238.2h0M166.7 158.5h0M221 297.1h0M248.9 96.6h0M322.2 197.9h0M314.8 128h0M162.3 268.8h0M278.4 261.3h0M185.5 170.8h0M323.1 181.3h0M209 193.1h0M207.7 193.6h0M336.5 142.2h0M278.3 118h0M196.5 181.7h0M294.1 140.8h0M325 182.6h0M125.5 119.1h0M254.5 236.5h0M239 223.7h0M258.7 67.7h0M155.4 144.7h0M320.5 222.9h0M298.1 189.6h0M271.7 285.4h0M123 223.6h0M300.2 90.2h0M257.6 121.1h0M220.5 67.5h0M257.3 73.1h0M337.2 166h0M332.6 178.9h0M256.6 238.5h0M245.8 73h0M302.1 166.8h0M272.3 110.1h0M129.8 231.8h0M176.7 164.3h0M323.4 228.8h0M303.3 169.6h0M325.6 168.8h0M332.6 169.8h0M302.9 168h0M260 287.4h0M301.4 192.4h0M179.5 282.7h0M235.6 76.3h0M116.4 222.3h0M256 71.2h0M248.9 85.9h0M148.2 260.9h0M324.6 185.3h0M277.8 261.4h0M201.4 184.9h0M219 304h0M112 177.7h0M229.6 81.4h0M226.6 82.4h0M318.1 155.5h0M325.4 158.9h0M243.3 90.9h0M322.8 174.2h0M255.7 238.4h0M319 115.9h0M174.8 165.2h0M217.8 84.4h0M226.5 78.6h0M276.1 104.4h0M324.3 194.6h0M118.3 204.9h0M310.9 169.5h0M292.1 137.1h0M209.8 197.6h0M257.8 243.2h0M112.1 115.3h0M262.6 115.8h0M342.8 230.9h0M190.7 286.2h0M234.8 222.9h0M152.1 265.8h0M240.2 222.5h0M294.6 146.5h0M126.6 257.3h0M291.2 162.4h0M249.8 92.5h0M228.1 97.6h0M272.3 147h0M286.1 128.9h0M310.6 147.2h0M280.8 123.3h0M213.8 293.5h0M280.1 261.5h0M249.9 92.2h0M201.6 187.3h0M153.5 263.4h0M294.2 168.5h0M336.6 158h0M256.2 99.3h0M283.3 93.9h0M115 197.2h0M259.6 100.5h0M321.9 190.4h0M313.8 152.2h0M165.3 156.5h0M289.6 131.1h0M171.5 161h0M254 240.9h0M321.2 167.3h0M270.7 107h0M258.8 280.9h0M298.6 283.3h0M323.8 181.6h0M125 121.8h0M264.2 73.8h0M320.6 185.2h0M271 89.2h0M321 135.1h0M313.6 142.2h0M286 265.8h0M228.6 65.6h0M94.8 173.6h0M247 84.2h0M285.1 127.1h0M175.2 160.4h0M238.9 83.4h0M111.8 170.9h0M300.4 139.5h0M254.2 282.5h0M234.5 287.4h0M312.8 124.3h0M257.5 71.6h0M313.8 156.9h0M329.7 173.6h0M275 98.6h0" stroke="#0000CD"/>
<path d="M317.5 188.6h0M291.8 97.1h0M115.5 200.4h0M317.6 137.7h0M92.8 189.5h0M294.5 86.4h0M326.6 182.8h0M264.6 247.4h0M212.6 292.8h0M155.8 147.1h0M316.1 131.3h0M293.2 138.6h0M302.4 139.9h0M225.5 71.5h0M284.2 161.4h0M270.4 114.2h0M314.8 182.1h0M279.3 82.6h0M253.8 127h0M99 172.9h0M151.9 143.4h0M317.9 101.9h0M262.5 244.3h0M286.3 182h0M329.2 177.2h0M321.5 195.2h0M313.1 180.7h0M271.7 289.5h0M303.7 173.7h0M216.5 290.2h0M279.8 84.9h0M260.7 102.6h0M323.1 192.4h0M290.7 129.4h0M233.8 291.2h0M137.8 131h0M267.4 253h0M317.8 111.9h0M281.4 122.1h0M287.5 179.3h0M211.6 201.1h0M289.6 139.1h0M269.1 107.4h0M288.6 122.7h0M220.2 293.7h0M228.6 62.6h0M306.5 97.9h0M243 81.3h0M154.1 263.1h0M307.3 145h0M187 285.4h0M313.2 152.8h0M149.5 138.2h0M267.9 71h0M320.5 204.5h0M300.1 133h0M319.4 187.4h0M212.1 294.3h0M278 119.3h0M313.5 124.9h0M108.5 178.7h0M301.5 193.6h0M202.2 291.1h0M265.6 283.5h0M297.5 140.6h0M174 165.7h0M273.8 114.6h0M251.2 89.1h0M240.5 75.9h0M266.6 252.6h0M336.9 157.7h0M287.1 270.8h0M152.9 139.5h0M237.9 220.9h0M320.7 135.9h0M222.8 83.7h0M120.8 136.6h0M267.9 251.4h0M292.7 86.6h0M111.8 171h0M314.4 108.1h0M110.8 187.7h0M339.3 144.7h0M260.3 246.6h0M315.9 154.5h0M240 118.6h0M321.2 130.7h0M297.2 81.2h0M220 301.9h0M241.4 225.7h0M251.3 90.1h0M210 197.9h0M301.8 93.4h0M222.4 80.7h0M288.7 133.5h0M99.7 131.6h0M310.5 163.3h0M330.5 184h0M256 123.4h0M156.7 268.8h0M136.9 257.3h0M116.2 212.4h0M265.4 107.9h0M276.6 109.9h0M249.2 280.2h0M242.1 105h0M307.9 165.2h0M263.4 247.3h0M270.6 154.2h0M142.3 248.9h0M116.2 156h0M267 253h0M116 205.9h0M282 267.1h0M224.2 85.4h0M294.3 124.1h0M332.8 155.8h0M274.2 260.1h0M135.5 122.3h0M296.3 134.6h0M139.7 129.9h0M273.2 280.8h0M270.7 149.8h0M185.6 172.5h0M316 156.5h0M128 238.7h0M171 156.6h0M283.7 170h0M351 155h0M247.3 86.8h0M278.6 116.6h0M293 164.7h0M213.4 63.3h0M314.2 151.8h0M250.2 233.6h0M282.6 262.5h0" stroke="#0000CD"/>
<path d="M206.8 185.9h0M282.7 134.7h0M238.5 139.3h0M297.8 252.2h0M273.6 143.9h0M234.6 140.3h0M235.9 215.3h0M309.3 190.4h0M231 89.7h0M178.6 159.7h0M321.4 209.6h0M280.5 155.5h0M246.9 131.6h0M300.1 194.4h0M284.1 184.4h0M235.3 116.2h0M259 150.9h0M303.9 177.1h0M265.3 165.9h0M219.6 202h0M193.1 173.4h0M181.6 160.1h0M247 145.2h0M230.1 205.2h0M217.7 99.7h0M251.1 157.2h0M266.3 161.9h0M225.8 98h0M227 207.7h0M220.7 200.4h0M310.8 160.2h0M326.5 196.9h0M313.6 236.1h0M278.7 162.8h0M307.2 156.5h0M229 139.1h0M222.1 112.4h0M316.2 174.3h0M155.7 134.1h0M196.9 66h0M311.7 263.3h0M300.9 174.9h0M277.5 142.2h0M282.2 257.3h0M283 134.4h0M302 174.6h0M170.1 151.2h0M279.8 126h0M326.4 199h0M277.6 84h0M234.5 103.1h0M265.9 241.6h0M176.6 153.7h0M202.7 78.4h0M169.3 148.2h0M319.1 171.5h0M241 127.9h0M243.3 93.7h0M182.7 79.2h0M315.8 221.6h0M340 181.9h0M313.4 226.1h0M239 126.5h0M213.7 95.6h0M172.6 84.1h0M279.7 157.7h0M277.4 147.4h0M211.4 97.1h0M285.3 164.7h0M245.8 148.3h0M305.8 248.4h0M221.1 93h0M293.6 183.1h0M290.9 188.6h0M239.8 215.5h0M283.8 187h0M315.7 165.9h0M235.3 215.4h0M217.1 95.1h0M275.2 254.9h0M281.6 120.7h0M326 192h0M233.9 135.6h0M168.6 77.1h0M239.3 217.5h0M272.9 75.4h0M159.7 143.9h0M208.2 77.5h0M319.4 171.5h0M228.3 100.1h0M221.8 117.6h0M299.8 198.2h0M239 146.5h0M279.6 174.3h0M240.1 121.6h0M247.4 222.1h0M303.9 180.9h0M318.6 182.6h0M264.8 145.8h0M295.2 268.8h0M280.3 144.2h0M214.8 117.2h0M121 101.9h0M298.4 259.9h0M223.3 117.5h0M271.2 177.9h0M267.3 158.8h0M336.6 213.6h0M256.7 105.3h0M216.6 98.1h0M254 148.8h0M295.6 151.7h0M143.8 95.4h0M277.3 125.6h0M252.3 159h0M142.4 93.6h0M219.1 67.8h0M331.7 253.6h0M329.4 201.2h0M326.3 218.6h0M266.9 117.7h0M137.7 107.8h0M189.3 78.2h0M244.1 109.9h0M229.4 132.5h0M333.8 204.7h0M276.6 130.1h0M269.1 170.8h0M260.4 141.1h0M172.4 151.7h0M279.3 131.3h0M308.4 172.9h0M301.5 149.9h0M243.7 88.1h0M214.3 71.2h0M233.5 215h0M283.8 261.4h0M318.9 158.4h0M304.2 148.5h0M160.5 139.2h0M320.4 170.1h0M318.7 217.7h0M243.1 149.4h0M275.9 135.7h0M275.7 78.8h0M189.6 172.3h0M268.1 112.9h0M311.8 189.4h0M151 95.3h0M322 168.7h0M227.8 106h0M262.5 156h0M226.6 110.3h0M307.9 192.7h0M238.1 119.6h0M309.1 209.1h0M308.4 216.6h0M337.7 187.2h0M255.6 152.6h0M212.1 111.6h0M228.9 122.2h0M327.8 211.7h0M318.1 183.9h0M213.4 192.2h0M222.7 98.7h0M187.1 80.5h0M310.6 206.8h0M226.2 201.6h0M181.6 160.9h0M335.8 196.8h0M247.2 101.6h0M213.2 115h0M278.1 124.1h0M262.8 171h0M255.3 121.6h0M318.6 239.1h0M216.8 101.4h0M294.3 140.9h0M327.7 211.2h0M275.8 173.1h0M216.6 193h0M285.1 184.9h0M194.9 176.4h0M230.6 127.3h0M217.9 73.8h0M319.5 187.2h0M171.5 79.2h0M237 97.3h0M166.4 145.2h0M184.4 163h0M315.1 194h0M258.9 141.8h0M310.8 194.1h0M293.9 165.8h0M304 159.5h0M312.6 223.3h0M238.8 88.9h0M274 251.9h0M324.6 213.6h0M323.8 196.5h0M268.2 153.8h0M261.9 162.6h0M239.6 147.6h0M243.5 117.7h0M188.5 169.2h0M220 83.8h0M235.9 91.7h0M226.1 104.8h0M245.8 225.7h0M258 151.1h0" stroke="#FF3300"/>
<path d="M313.9 192.5h0M209.1 80.2h0M309.8 195.5h0M250.3 102.4h0M179.4 159h0M149.8 131.4h0M277.1 147.3h0M133.4 116.2h0M264.6 137.6h0M266.2 68.1h0M292.4 152.9h0M204.9 185.3h0M227 124.2h0M232.8 128.1h0M270 142.6h0M311.8 157.2h0M232.4 116h0M262.2 236.1h0M272.2 248.6h0M255.4 230.5h0M199.5 177.5h0M289.7 163.6h0M285.1 176h0M159.7 86.7h0M276 123.4h0M327.2 201.9h0M237.1 120.6h0M210.8 94.2h0M135.9 110h0M298.2 261.8h0M313.9 164.7h0M205.9 68.8h0M180.8 79.6h0M330.9 206.3h0M254.3 156h0M269.5 145.5h0M229.8 96.6h0M179.3 156.4h0M304 190.8h0M322 169.8h0M206.8 94.3h0M138.2 120.4h0M225.1 99.4h0M267 247.2h0M234.1 128.9h0M224.5 96.8h0M229.9 127h0M281.4 164.1h0M276.2 84.1h0M173 78.4h0M307.9 196.6h0M224.4 121h0M280 154.5h0M209.5 80.2h0M227.9 91.6h0M311.5 184.8h0M244.5 97.9h0M204.4 78.9h0M295.3 175.2h0M247.7 93.7h0M320.1 226.5h0M270.6 149.5h0M245.5 143.4h0M280.6 132.2h0M270.4 248.4h0M313 187.7h0M262.5 133.7h0M199.3 178.5h0M290.2 184.6h0M325.1 222.3h0M252.1 106.2h0M256.3 153h0M194.7 175.1h0M210.5 78.8h0M186.2 167.6h0M152.1 89.8h0M232.9 64.2h0M226.2 95.3h0M238.2 141.8h0M310.6 219h0M289.4 142.8h0M215.6 112.8h0M301.3 175.5h0M186.8 167.1h0M149.7 77.5h0M216.9 76.1h0M204.3 184.8h0M272.1 160.2h0M206.6 80.9h0M220.3 122.1h0M328.5 186h0M263.3 143.2h0M178.1 155.3h0M325.4 191.9h0M281.6 253.7h0M224.5 106.4h0M289.6 158h0M177.6 159.5h0M283.1 257.2h0M282.8 164.9h0M236.1 212.9h0M149.4 130.5h0M310.4 214.1h0M143.1 123.3h0M298.1 187.2h0M334.7 188.5h0M315.8 232.9h0M180.6 157.8h0M215.3 118.2h0M251.9 138.4h0M263.9 160.5h0M302.7 194.2h0M202.1 180.4h0M330.8 195.6h0M312.9 188.5h0M277.6 131.5h0M226.1 124.1h0M281.1 127.5h0M274.3 150.9h0M266.8 146.6h0M298.3 168.8h0M278.2 147.8h0M230.4 138.9h0M129.3 95.7h0M259 127.1h0M318.7 192.6h0M222.7 104.6h0M311.6 225h0M205.4 82.8h0M280 146.7h0M313 211.1h0M219.6 85.9h0M211.1 100.4h0M151.4 130.6h0M313.9 205.3h0M173.8 156.5h0M316.6 264h0M235.1 212.8h0M171 150h0M221.2 110.7h0M134.8 121.5h0M277.5 158.6h0M234.7 112.8h0M322.7 172.4h0M261.9 144.2h0M218.2 195h0M272.5 81.5h0M320.9 212.4h0M141.4 125.2h0M236.1 117.4h0M247.3 111.3h0M308 205.5h0M299 188.4h0M227.5 68.6h0M178.9 162.3h0M208.7 94.2h0M229.2 204.7h0M316.5 173.6h0M203.4 183.5h0M304.8 196.9h0M184.8 164.8h0M285.4 180.5h0M289.2 263.1h0M333.8 196.8h0M262.3 159.7h0M249.1 129.9h0M186.4 163.9h0M264.4 130h0M283 185.8h0M288.1 263.9h0M162.4 145.3h0M226.2 107.6h0M255.5 136.8h0M327.3 220.2h0M233.5 212.4h0M256.9 139.2h0M332.3 188.4h0M246.6 124h0M221.1 112.8h0M309 186.2h0M213.6 84.3h0M257 135.3h0M316.7 225.7h0M331.3 204.8h0M168 149.8h0M333.7 191h0M224.4 131.2h0M288.9 159h0M309.6 149h0M309 157.7h0M227.5 209.3h0M302.8 180.3h0M252.3 127.6h0M302.8 190.2h0M226.7 129.1h0M321.7 174.3h0" stroke="#FF3300"/>
<path d="M340 157.8h0M295.9 131.4h0M332.2 145.4h0M104.5 179.8h0M299.2 152.3h0M263.3 70.5h0M210.6 198.3h0M325.5 182.6h0M321.4 197h0M316.3 112.6h0M333.8 139.8h0M147.7 137.3h0M107.2 120.5h0M226.3 211.6h0M218.2 293.3h0M116.8 141.8h0M233.1 221.9h0M316.7 144h0M230.4 291.1h0M209.3 199.7h0M253.8 237.8h0M135.5 238.9h0M136.3 126.6h0M150.8 139.7h0M255 239.5h0M238.8 69.2h0M231.3 215.9h0M303.4 143.4h0M328.9 180.9h0M302 151.6h0M109.7 118h0M264.5 113.5h0M223.2 69.1h0M309.5 172.7h0M279.2 117h0M295.4 167.8h0M246.5 114.7h0M279.6 123.4h0M319.8 199.7h0M312.1 177.1h0M268.5 107h0M324.7 163.6h0M315.7 197.8h0M319.4 205.1h0M202.6 292h0M103.1 190.9h0M119.4 153.3h0M116.4 210.8h0M112 187.7h0M188.5 172.6h0M193.9 289.9h0M273.1 256.9h0M271.3 146.6h0M314.1 157.8h0M255 105h0M277.7 115.7h0M291.4 140.7h0M297.6 91.8h0M223.8 71.6h0M110.7 218.4h0M318.8 199h0M331.4 180.5h0M181.2 277.6h0M221 293h0M243.4 226.8h0M229.5 211.7h0M309.8 141h0M289.6 136h0M274.1 280.7h0M146.1 253.7h0M204.9 191h0M234.9 292.1h0M293.9 141.1h0M287.8 96.5h0M115.2 146.7h0M183.2 282.2h0M300.1 140h0M132.3 235h0M318.9 189.5h0M183.9 170.9h0M177 279.5h0M185.9 68.8h0M307.2 165.6h0M268.9 109.4h0M297.9 86.1h0M92.8 189.5h0M313.7 119h0M282.3 178.3h0M136.8 126.7h0M333.5 172.2h0M153.5 141.2h0M289.3 127h0M117.7 211.1h0M118.1 224.2h0M242 81h0M140.2 246.2h0M227.1 291.2h0M230.2 79.3h0M229.5 74.4h0M301.9 151.3h0M164.2 150h0M240.7 66.7h0M315.7 183.3h0M199.4 188.8h0M227.6 210.1h0M221.3 291.8h0M271.2 112h0M214.5 198.9h0M276.3 284.1h0M146.5 137.5h0M321.8 113.6h0M320.3 139.8h0M139.3 244.4h0M277.1 111.1h0M314.8 149.2h0M117.6 149.9h0M275.8 116.7h0M306.7 148.5h0M128.6 117.8h0M161.4 151.7h0M174 165.9h0M257.7 287.3h0M327.2 173.3h0M251.7 57.8h0M222.6 211.4h0M243 112.3h0M327 139.1h0M316.5 113.7h0M290.6 130.6h0M328.3 177.7h0M115.5 123.3h0M164.4 150.4h0M118.3 257.3h0M111.4 159.1h0M192.8 177.9h0M302.1 191.1h0M330.6 162.3h0M248.6 82.9h0M231.6 215.1h0M228.9 70.3h0M239.2 221.1h0M234.1 64.6h0M307.8 101.3h0M329.7 169.9h0M305.5 90.2h0M318.4 200.6h0M304.5 152.1h0M262.9 103h0M275.9 255.9h0" stroke="#0000CD"/>
<path d="M250.1 74.4h0" stroke="#FF3300"/>
<path d="M252.8 187.5h0" stroke="#0000CD"/>
<path d="M297 190.2h0" stroke="#0000CD"/>
<path d="M203.2 146.1h0" stroke="#0000CD"/>
<path d="M256.6 80.5h0" stroke="#FF3300"/>
<path d="M243.4 79.1h0" stroke="#FF3300"/>
</g></g>
<g transform="translate(393.2 992.1)">
<use href="#fr"/>
<text class="k" transform="translate(135.8 354.2) scale(0.98 1.04)" text-anchor="middle">-5</text><text class="k" transform="translate(66.4 270.8) scale(0.98 1.04)" text-anchor="end">-5</text><text class="k" transform="translate(207.1 354.2) scale(0.98 1.04)" text-anchor="middle">0</text><text class="k" transform="translate(66.4 203.1) scale(0.98 1.04)" text-anchor="end">0</text><text class="k" transform="translate(278.4 354.2) scale(0.98 1.04)" text-anchor="middle">5</text><text class="k" transform="translate(66.4 135.3) scale(0.98 1.04)" text-anchor="end">5</text><text class="k" transform="translate(349.6 354.2) scale(0.98 1.04)" text-anchor="middle">10</text><text class="k" transform="translate(66.4 67.6) scale(0.98 1.04)" text-anchor="end">10</text><text class="a" transform="translate(223 388) scale(0.97 1.04)" text-anchor="middle">x1</text><text class="a" transform="translate(23.3 182.3) rotate(-90) scale(1.0 1.03)" text-anchor="middle">x2</text>
<text class="t" transform="translate(77.6 23.7) scale(1.0 1.0)">g.reg-naive</text>
<g fill="none" stroke-width="9.6" stroke-linecap="round">
<g clip-path="url(#mc)">
<use href="#mass" fill="#0000CD"/>
<path d="M196.3 49.6L195.4 143.3L193.5 198.5L192.1 319.9L371.4 319.9L371.4 49.6Z" fill="#FF3300"/>
<path d="M197.7 49.6L197.7 71.6L222.5 74.4L236.3 93.7L247.3 107.5L263.9 124L269.4 140.6L280.4 154.4L291.4 165.4L299.7 184.7L313.5 198.5L330.1 209.6L346.6 217.8L371.4 217.8L371.4 49.6Z" fill="#0000CD"/>
<path d="M197.7 71.6L222.5 74.4L236.3 93.7L247.3 107.5L263.9 124L269.4 140.6L280.4 154.4L291.4 165.4L299.7 184.7L313.5 198.5L330.1 209.6L346.6 217.8L332.8 226.1L310.8 215.1L291.4 198.5L277.7 179.2L266.6 165.4L255.6 151.6L244.6 135.1L230.8 118.5L217 102L197.7 93.7Z" fill="#FF3300"/>
</g>
<path d="M262.7 95h0M193.5 165h0M144.7 101.7h0M112.1 115.3h0M185.9 68.8h0M273.2 74.6h0M239.9 94.1h0M293.1 86.4h0M340 181.9h0M191.2 84.9h0M232.4 115.1h0M189.6 166.7h0M110.4 168.8h0M263.6 121.4h0M213.2 78h0M190.8 146.7h0M303.8 159.9h0M125.6 233.9h0M173.4 72.2h0M173 273.7h0M314.5 203.2h0M119 158h0M188.2 234.7h0M268.1 136.6h0M200 77h0M257.4 149h0M296.9 101.3h0M309.7 194h0M116.6 123.3h0M202.6 72.8h0M131.3 118.9h0M152.4 265.5h0M262.7 152.9h0M255.6 113.9h0M324.5 211.1h0M313.5 115.3h0M273.2 149.2h0M134.6 114h0M156.7 92.4h0M191.1 258.2h0M227.3 102.2h0M192.1 176.8h0M230.5 84.3h0M234.8 92.9h0M161.6 89.3h0M139 244.9h0M337.3 143.3h0M191.5 125.8h0M253.6 73.5h0M191.1 137.5h0M94.8 173.6h0M289.7 84.5h0M317.8 195.5h0M295.6 99.1h0M109.7 118h0M119.2 137.3h0M92.8 189.5h0M193.1 142.2h0M251.8 75.7h0M339.8 159.8h0M181.2 79.3h0M157.6 267.5h0M252.1 80.9h0M238.6 93.4h0M192.2 109.2h0M192.7 186.3h0M243.5 114.2h0M264.8 139.9h0M235.4 101.4h0M209.4 76.5h0M121 101.9h0M119.4 226.4h0M262.5 83.8h0M268.3 109.1h0M141.5 254.5h0M314.9 119.1h0M215.1 70.1h0M152.3 258.8h0M194 160.1h0M332.2 181.2h0M274.5 154.6h0M314 213.9h0M90.7 177.8h0M191 242h0M201.2 70.1h0M275.7 99.2h0M281.4 123.7h0M194.3 78.2h0M134.8 104h0M181.1 77.5h0M334.9 173.4h0M242.4 108.9h0M203 70.9h0M285.1 156.5h0M187.6 241.8h0M203 78.2h0M229.3 83.7h0M305.7 96.7h0M117.9 166.5h0M279.8 148h0M305.5 90.2h0M297.6 170h0M316.3 117h0M277.8 148.5h0M190 205.9h0M312.6 172.7h0M291 175.7h0M203 81.9h0M357.2 217.1h0M272.7 145.4h0M270.4 135.5h0M247.9 75.3h0M190.3 231.3h0M306.7 160.5h0M230.5 85.5h0M117.3 154.5h0M313.5 197.5h0M201.2 82.4h0M117.4 223.2h0M276.5 148.8h0M266.1 76.9h0M243.1 102.2h0M205.9 68.8h0M233.9 67.1h0M228 76.4h0M304.4 176h0M337.2 190.9h0M280.4 91.4h0M112.9 212.2h0M129.3 95.7h0M190.8 139.2h0M332 192.2h0M285 184.5h0M113.6 207.2h0M208.1 93.8h0M191 123.9h0M227.3 77.1h0M330 199.1h0M260.4 154.2h0M243.3 121.7h0M250.4 74.3h0M258.1 149.3h0M118.9 119.6h0M190.7 104.3h0M238.9 127.6h0M155.2 262.7h0M230.3 61.2h0M192.6 82.1h0M195.5 81.1h0M228.3 65.2h0M192.9 151.1h0M190.6 267.4h0M190.3 221.7h0M250.9 127.3h0M257.4 113h0M271.8 171.1h0M132.9 120.5h0M290.9 153.5h0M124.6 234h0M265.8 144.2h0M236.4 94.2h0M296.2 108.6h0" stroke="#0000CD"/>
<path d="M302.6 198.2h0M315.2 213.8h0M256.4 149.5h0M252.9 118.8h0M227.7 78.1h0M193.8 252.5h0M219.7 95.2h0M270.8 139.5h0M266 164.5h0M317.6 226.3h0M220.3 107.5h0M193.9 195.7h0M283.6 188.5h0M298.3 200.8h0M287.7 200.6h0M197.1 83.2h0M299.8 204.4h0M261.9 140.4h0M212.9 99.8h0M223.4 111.5h0M199.3 112.6h0M194.3 223.1h0M272.5 285.3h0M195.7 248.5h0M192.8 276.2h0M233 122.3h0M244 139.8h0M207.1 99.7h0M232.9 117h0M306 203.9h0M218.9 109.1h0M198.5 220.1h0M217 82.5h0M283.2 161.3h0M277.3 277.6h0M250.8 116.3h0M253.9 151.2h0M251.2 146.8h0M196.4 258.4h0M197.9 264.9h0M257.9 160.5h0M205.5 97.3h0M197.5 246.7h0M207.1 103.4h0M195.8 218.4h0M218.9 75.3h0M194.1 228.8h0M317 220.1h0M310.1 213.5h0M238 126.2h0M295.3 205.2h0M225.9 117.9h0M224.8 80.6h0M280.1 191h0M196.2 281h0M286.9 266h0M294.9 268.4h0M196.3 193.3h0M270.2 171.3h0M280.2 175.5h0M301.4 260.5h0M233.7 121.6h0M198.4 250.8h0M336.6 213.6h0M247.8 142.5h0M194.4 203.2h0M198.7 104.9h0M299.7 163.2h0M283.9 194.7h0M236.7 95.4h0M196.4 233.3h0M230.7 122.2h0M310.5 200.8h0M196.2 276.2h0M194.9 250.8h0M308.4 214.2h0M220 301.9h0M232.7 115.4h0M268.4 161.1h0M197.4 261h0M254.9 142.1h0M219.1 112.1h0M243 110.5h0M245.8 143.3h0M271.2 282.6h0M204.5 100.1h0M254 147.3h0M254.2 146.2h0M298.8 258.5h0M237.2 290.8h0M265.7 155.6h0M285.2 190.8h0M202.9 96.4h0M195.4 244.1h0M232.9 292.6h0M196.1 233.3h0M292.7 200.3h0M198.2 110.4h0M195.1 163h0M257.7 138.1h0M318.7 207.3h0M290.7 166.7h0M220.3 76.1h0M207.7 292h0M273.1 147.2h0M196.6 113.9h0M284.7 162.6h0M197.4 177h0M299.4 207.8h0M322.9 221.1h0M247.6 140.5h0M258.7 157.4h0M211.8 105.3h0M244.6 140h0M193.3 267.3h0M198.9 148.9h0M282.4 160.9h0M234.1 123h0M318.5 220.7h0M252.6 154h0" stroke="#FF3300"/>
<path d="M198.1 89.8h0M251.6 117.8h0M196.6 161.9h0M261.6 138.9h0M236 133.3h0M321.8 224.7h0M280.5 272.7h0M208.8 102.6h0M196.8 183.6h0M212.1 102.3h0M198.3 214h0M194.7 245.6h0M196 207h0M196.3 226.2h0M285.6 196.9h0M330.5 144.7h0M311.9 213h0M267.3 173.2h0M209.5 101.7h0M272 143.3h0M244.8 137h0M198.7 194.4h0M195.5 256.8h0M195.4 234.1h0M247.6 142.9h0M227 121h0M211.8 293.6h0M196.7 113.4h0M292.2 188.1h0M271.7 289.5h0M198.5 156.6h0M194.8 230.3h0M302 208.5h0M268.5 141.6h0M196.4 270.1h0M281.9 187.4h0M273.2 167.9h0M276.9 175.5h0M204 99.8h0M274.9 171.4h0M292.2 198.4h0M312.4 199.4h0M268.6 145.4h0M198.6 150h0M282.3 195h0M313.3 246.4h0M292 199.4h0M261.7 129.3h0M318.6 239.1h0M198.5 134h0M202.4 84.7h0M245.2 285h0M239.9 287.3h0M286.3 269.3h0M301 92.2h0M261.1 132.4h0M255.1 146.4h0M267.8 165.3h0M231.9 121.8h0M196.7 197.7h0M218.2 86.4h0M233.4 123.7h0M209 75.6h0M303.2 210.8h0M195.9 166.4h0M237.3 129.2h0M298.4 204.7h0M196.1 238.9h0M249.4 115.4h0M194.9 253.6h0M222.1 81.8h0M204.8 100.2h0M195.9 204.3h0M240.5 133.8h0M296.1 203.2h0M194.7 179.1h0M275.3 80.9h0M281.6 171h0M251 280.3h0M196.1 235.1h0M297.9 171.6h0M224.4 77.3h0M316.6 264h0M331.7 253.6h0M198.3 226.4h0M193.7 275h0M227.3 118.2h0M307.9 198.9h0M199 193.5h0M305.1 252h0M309.8 215.7h0M273.8 153.3h0M233.9 108.9h0M293.3 263.7h0M208 289.2h0M194.6 211.1h0M205.3 101.2h0M238.9 288.4h0M275.3 156.7h0M308.8 211.6h0M219.2 79.2h0M272.9 285.2h0M194.6 210.6h0M197 166.2h0M263.3 162.1h0M195 231.5h0M246.9 108.9h0M263.5 135.8h0M197.5 169.3h0M323.4 228.8h0M267.2 169.8h0M296.5 200h0M250.1 282.5h0M230.1 115.1h0M245.8 122.7h0M254.7 154.3h0M199.4 171.9h0M286.5 196.7h0M239.9 132.5h0M221 297.1h0M313.1 218.5h0" stroke="#FF3300"/>
<path d="M322.4 210.1h0M324.1 107.4h0M145.3 103.2h0M256.4 67.4h0M302.3 192h0M275.9 174h0M302.5 167h0M207.6 75.8h0M191.4 263.9h0M175.4 80.3h0M317.6 134.7h0M338.1 186.8h0M313.3 155.8h0M316.8 124.7h0M124.1 139.6h0M269.8 125.5h0M189.6 215h0M103.8 126.3h0M322.1 199.7h0M330 215.7h0M188.1 226.5h0M198.1 76.7h0M238.3 68.3h0M238 72.1h0M296.3 163.4h0M318.9 109.1h0M238.5 105.1h0M297.3 174.8h0M156 88h0M317.2 181.7h0M263.4 153.9h0M315.3 112.4h0M193.2 88.6h0M191.4 112.1h0M280.1 163.4h0M274.1 173h0M288.1 88.1h0M287.7 176.9h0M288.3 154.2h0M189.3 73.8h0M122.4 267.7h0M321 134.4h0M259.4 127h0M293.9 167.6h0M226.6 72.3h0M189.2 271.1h0M192.9 99.6h0M189.1 193h0M266.2 68.1h0M191.9 86.1h0M191.6 230.6h0M287.8 163.8h0M118.3 257.3h0M136 119.9h0M226.6 110.1h0M191 237h0M248.5 113h0M239.3 95.9h0M191.6 239.7h0M193.4 119.9h0M299.4 183.2h0M189.9 241.6h0M119 210.1h0M212.6 70.9h0M194.6 167.3h0M159.7 86.7h0M247.3 103.7h0M240.1 105.8h0M230 84h0M117 223.6h0M194.5 82.2h0M193.3 93.3h0M271.6 75.3h0M235 87.6h0M114.5 173.3h0M226.4 73.4h0M258.4 111.2h0M257.2 115.7h0M193 112.4h0M249.3 108.3h0M293.8 174.4h0M145.9 83.3h0M193.6 132.7h0M181.3 279.1h0M194.8 91.3h0M173.9 276.2h0M329.8 149.4h0M144.2 101h0M111.5 175.2h0M143.5 108.4h0M226.4 78.5h0M175.8 79.7h0M255.9 71.5h0M190.5 276.4h0M251.4 144.3h0M244.9 131.1h0M270.1 149.7h0M116.2 141.2h0M273.1 140.2h0M191 142.8h0M111.4 159.1h0M240.7 66.7h0M104.5 179.8h0M251.7 57.8h0M270 128.7h0M210.2 95.3h0M239 121.2h0M136.9 257.3h0M176.1 276.7h0M295.6 143h0M189.2 227.4h0M192.1 188.1h0M121.4 149.8h0M188.9 238.6h0M259 151.5h0M190.2 166.8h0M227 76.7h0M276.9 84.6h0M256.4 109.5h0M134.7 240.2h0M115.5 196.1h0M191.3 252.9h0M260.8 125.1h0M195.3 133.7h0M319.5 199.4h0M331.7 203.1h0M195.4 87.1h0M133.7 245.7h0M235.9 90.5h0M109.3 171.6h0M265.7 118.2h0M270.1 89.4h0M193.4 80.8h0M324.8 190.1h0M125.3 228.3h0M231.1 94.7h0M193.1 130.7h0M291.4 163.5h0M258.3 125.5h0M128.6 117.8h0M223.3 106.4h0M212.9 70.2h0M287.5 161.8h0M99 172.9h0M146.9 99.5h0M188.4 224.1h0M277.2 155h0M279.8 154.4h0M331.4 177.7h0M143 106.9h0M268.1 70.5h0M302.4 142.8h0M190.5 201.1h0M190.2 217.9h0M190.8 112h0M223.3 73.4h0M200 80.8h0M227.5 79.9h0M265.7 102.1h0M189.3 239.6h0M190.3 242.8h0" stroke="#0000CD"/>
<path d="M187.8 277.1h0M241.2 108.7h0M306.6 193.7h0M294.9 175.1h0M233.1 65h0M190.4 126.7h0M314.7 117.9h0M189.7 251.4h0M269.8 129.6h0M259.1 126h0M333.5 142.4h0M190.6 142.3h0M277.7 89.8h0M191.7 196h0M294.7 167.4h0M299.9 116.5h0M302.5 93h0M332.7 179.9h0M189.2 208.6h0M198.8 82.9h0M192.7 203.7h0M318.7 113.4h0M326.4 193.7h0M263.1 133h0M278.4 151.1h0M103.1 190.9h0M125.3 132.5h0M272.8 73.6h0M273.7 150.6h0M254.5 72.9h0M189.2 217h0M299.3 179.5h0M288 185.9h0M152 91.8h0M188.5 213.3h0M300.9 178.1h0M339.3 144.7h0M99.7 131.6h0M336.1 149.3h0M242.8 98h0M251.3 125h0M180.6 77.8h0M316.5 121.2h0M293.4 193.9h0M269.8 138.3h0M188.1 231.6h0M190.3 273.8h0M299.9 97.9h0M140.3 253.2h0M245.4 101.2h0M321.4 205.8h0M250.9 140h0M337.2 166h0M232.6 96.7h0M258.8 120.8h0M282.4 157.9h0M191.5 228.4h0M316.2 205.4h0M141.4 107.8h0M190.2 239.8h0M253.6 97.5h0M201.7 83.5h0M189.8 212.5h0M317.9 162.4h0M269.8 166.7h0M288.8 83.8h0M330.8 200.2h0M277.7 143.7h0M190.2 139.9h0M188.4 267.6h0M223.8 82h0M298.7 120.9h0M190.5 264.3h0M351 155h0M188 249.6h0M226.7 105.4h0M141.2 253.1h0M337.2 190.9h0M198.7 75.3h0M330.7 177.7h0M333.8 139.8h0M307 188.8h0M297.2 81.2h0M281.2 150.4h0M277.9 150.8h0M216.5 54.3h0M325.4 208.6h0M230.4 115.6h0M191 99.9h0M190.8 216.6h0M191 169.3h0M189.6 211.3h0M319.6 215.6h0M305.2 154.6h0M193.7 89.7h0M316.7 210.6h0M305.5 92h0M322.5 201.3h0M262.8 139.4h0M302.2 188.3h0M182.5 281.4h0M291.8 164.9h0M327.2 212.4h0M172.9 278.1h0M158.4 85h0M259.9 102.7h0M250.8 101.2h0M121.7 128.1h0M114.7 191.7h0M115.5 245.3h0M259.4 137.5h0M214.8 96.5h0M226 68h0M107.2 120.5h0M250.1 114.2h0M236 95.8h0M188.1 224.8h0M226.6 71.8h0M193.3 180.1h0M190.3 252.5h0M340 157.8h0M204 74.8h0M269.3 165.8h0M170.2 270.9h0M128.3 236.8h0M316 110.5h0M189.4 275.2h0M187.1 287.6h0M241.7 68h0M289.7 164.8h0M318.1 196.7h0M261.3 93h0M209.2 94.9h0M131.2 119.3h0M256 135.9h0M152.4 259.3h0M269 123.8h0M141.3 113h0M271.8 147.3h0M241.8 107.4h0M260.6 101.8h0M237.6 64.3h0M269.7 87.6h0M288.7 127.4h0M297.9 179.5h0M302.3 183.8h0M157.8 270h0M188.1 212.7h0M191.5 235.2h0M247 101.6h0M153 88h0M193.9 102.2h0M151 256h0M229.6 85.1h0M159.1 87.9h0M244.3 68.3h0M199.5 89.5h0M214.7 97.8h0M113.2 205.2h0M234.8 85.4h0M111.5 169.6h0M288.6 156.8h0M193.1 111.9h0M92.8 189.5h0M324.7 182.9h0M194.3 99.1h0M217.7 101.2h0M237.4 118.4h0" stroke="#0000CD"/>
<path d="M197.6 281.5h0M257.8 286h0M210.2 100.3h0M302 210.7h0M296.7 206.7h0M269 166.1h0M229.3 120.8h0M247.8 144.3h0M308.2 213.8h0M241.8 136.3h0M316.5 215.7h0M234.5 92.3h0M274.1 175.3h0M267.1 158.5h0M196.4 188.5h0M304.7 248.7h0M195.4 148.7h0M195 215.1h0M261.3 159h0M194.6 220.1h0M198.1 159.7h0M236.4 292.1h0M200.3 116.8h0M296.3 262.1h0M199.7 308.1h0M262.3 156.9h0M196.1 227.8h0M245.2 130.2h0M194.3 187.7h0M194 287h0M300.8 186.8h0M233 102.8h0M324 221.7h0M199.2 85.5h0M261.3 151.8h0M275.2 153.2h0M251.7 113.8h0M240 293.6h0M315.4 211.6h0M217.3 104h0M311.7 263.3h0M196.7 74.5h0M224.3 111.7h0M267.7 142.9h0M240.9 126.9h0M197.4 87.2h0M293.8 180.6h0M197.1 83.2h0M194.2 257h0M227.4 86.9h0M195.1 164.6h0M215.8 81h0M254 282.2h0M311 215.8h0M252.7 152.2h0M259.3 161.9h0M245.1 138.3h0M295.6 194.8h0M230.5 293.8h0M252.8 156.5h0M280.3 278.9h0M195.8 187.1h0M291.3 200.4h0M198.5 183.3h0M200 165.1h0M194 262.9h0M240 106.7h0M208.9 75.4h0M218.2 97.5h0M277.3 176h0M287 168.4h0M238 130.7h0M247.1 136.3h0M243.9 281.6h0M196.2 212.6h0M217.7 290.8h0M245.9 140.5h0M257.3 144.2h0M196.6 217.7h0M196.1 165.3h0M215.3 75.5h0M283.3 193.1h0M250.8 152.1h0M196.9 66h0M263.7 89.2h0M204 98.3h0M266.9 171.4h0M197.7 166.3h0M235.9 131.7h0M197.4 170.3h0M306.5 196.6h0M264.8 142.1h0M230.4 122.9h0M270.7 163.6h0M234.9 126.5h0M211.4 104.4h0M278.3 158.5h0M237.8 133.6h0M262.2 166.8h0M208.4 99.2h0M240.8 104.9h0M260 287.4h0M220.6 88.9h0M259.4 156.6h0M317.4 225.6h0M268.1 173.5h0M287.7 197.5h0M309.1 206.8h0M208.4 101.5h0M247.5 135.5h0M198.3 209.9h0M294.9 173.7h0M273 180.1h0M326.3 196.8h0" stroke="#FF3300"/>
<path d="M198 150h0M222.4 103.8h0M197.5 216.3h0M307.2 214.9h0M305.3 205.3h0M253.2 117.1h0M302.3 194.7h0M199.8 136.8h0M220.2 109.4h0M301.8 194.4h0M240.9 139.2h0M193.5 215.3h0M296.7 258.9h0M196.8 121.8h0M197.8 195.8h0M314.6 235.4h0M236.7 124.6h0M285.4 160.6h0M265.1 166.6h0M304.5 170h0M196.3 244.2h0M301.6 204.2h0M248.7 119.9h0M267.3 162.6h0M220.9 74.9h0M235.7 83.7h0M200.7 116h0M270.9 176.1h0M302 122.7h0M326.2 194.6h0M262.9 129.2h0M229.5 296.7h0M293.5 88.6h0M220.4 79.1h0M263.8 139h0M196.1 162.9h0M194.8 260.7h0M218.1 96.6h0M298.6 283.3h0M272.5 144.7h0M242.2 127h0M281.9 161.6h0M264.6 139.6h0M274.5 142.9h0M198.1 210.6h0M266.4 139.7h0M264.1 130h0M198 264.9h0M197.9 214.5h0M225 102.1h0M205.5 290.1h0M239.5 91.5h0M342.8 230.9h0M330.5 139.5h0M331.5 201.9h0M243.9 138.6h0M293.2 197.4h0M280.5 156.8h0M306.3 192.5h0M200.1 129.4h0M289 197.9h0M281.1 156.3h0M254.4 152.9h0M221.6 81.1h0M274.3 182.7h0M204.6 101.4h0M237.6 287.9h0M222.8 81.7h0M267.8 169.5h0M198.2 176.8h0M193.1 243.1h0M260 124.7h0M270.2 280.2h0M245.7 145.2h0M242.4 286h0M243 102.5h0M252.8 118.3h0M193.4 278.9h0M274.8 284.2h0M206.1 289.2h0M260.8 163.8h0M237.2 127.8h0M318.6 225.2h0M333.1 231.6h0M271.5 173.4h0M289 201.4h0M295.2 268.8h0M210.8 290.1h0M243.5 136.7h0M217.1 102.8h0M232.5 114.1h0M259.1 161.9h0M299.8 208.9h0M212.3 294.5h0M222.5 82.8h0M295.5 203.9h0M284.6 170.2h0M275.5 181.3h0M226.6 81.9h0M219 304h0M201 122.7h0M255.4 285h0M310.4 216.6h0M323.8 227.7h0M193.3 251.8h0M198.1 229.3h0M301.6 207.7h0M194.5 213.6h0M306.4 198.7h0M327.7 216.8h0M218.2 78.6h0M257.8 281.5h0M250.6 148.3h0" stroke="#FF3300"/>
<path d="M278 154.2h0M194.3 167.3h0M272.6 151h0M226.1 88.4h0M201.8 82.2h0M228.7 66.7h0M126.6 257.3h0M294.6 110.4h0M142.4 93.6h0M221.2 105.6h0M234 114h0M220.8 65.5h0M190.5 232.3h0M331.3 139.9h0M192.7 124.2h0M259.6 152.7h0M228.6 62.6h0M229.5 89.4h0M231.3 68.8h0M244.7 103.9h0M190.1 221.3h0M222.8 105.6h0M330.3 186.5h0M216.6 88h0M230.3 114h0M110.7 218.4h0M116.3 219.3h0M161.8 88.9h0M326.6 154.9h0M115.5 123.3h0M336.6 165.9h0M248.4 101.9h0M143.6 100.2h0M282.2 155h0M188.3 235.4h0M264.2 142h0M116.9 217.3h0M268.7 84.2h0M110.8 196h0M231.5 102.3h0M268.2 90.5h0M187.7 231.2h0M293.2 172.6h0M192.2 187.1h0M230.8 64.2h0M269.2 147.3h0M238.8 71.8h0M146.9 258.2h0M231.5 77.5h0M259.8 154.3h0M324.9 205.5h0M303.7 140.4h0M109 181.5h0M291.1 140.1h0M286.3 153.4h0M156.7 87.6h0M335.6 193.6h0M158.5 89.2h0M193.6 131.1h0M282.9 183.1h0M295.8 92.2h0M314.8 197.9h0M192.9 110.8h0M269.7 127.8h0M193.6 190.4h0M324.1 149.8h0M144.1 100h0M268.4 135.1h0M190.6 271.8h0M191.7 212.7h0M213.4 63.3h0M191.5 190.2h0M245 73.7h0M243.5 107.2h0M128.9 239.9h0M202 73.7h0M314 109.7h0M149.7 77.5h0M241.8 98.4h0M192.3 144.1h0M340 181.9h0M190.7 268.4h0M157.1 266.2h0M193.7 152.3h0M270.5 144.8h0M260.2 114.5h0M234 110.1h0M260.2 153.1h0M145.6 258.7h0M168.6 77.1h0M294.3 165h0M191.3 174.6h0M191.3 260.5h0M224.7 105.1h0M127.4 232.6h0M297.2 91h0M333.8 204.7h0M274.9 85.6h0M107.3 183.3h0M291.6 193.2h0M327.2 142.8h0M147.7 254.9h0M307.1 186.1h0M294.6 168.3h0M153 93.7h0M279.3 82.6h0M169.4 80.2h0M191.9 233.2h0M266.5 125.6h0M192 262.6h0M163.8 86.3h0M250.7 114.2h0M245 98.2h0M115.1 193.5h0M292 100.6h0M326.6 211.7h0M191.4 156.8h0M269.8 131h0M211.2 93.5h0M90.7 177.8h0M191 225.5h0M195.5 115.6h0M317.9 101.9h0M259.4 122.2h0M256.1 151.1h0M194 165.1h0M320.2 199h0M194.9 118.2h0M290.7 162.2h0M294.4 177.4h0M160 86.7h0M106.1 150.9h0M190.6 119.4h0M285 182.7h0M262.3 68.9h0M288.1 160.8h0M274.3 83h0M103.1 190.2h0M300.7 190.4h0M283.6 82.1h0M193 148.2h0M282.8 180.4h0M190.3 220.1h0M288 160h0M122.3 133.7h0M209.3 93.4h0M307.6 99.6h0M297.4 176.5h0M138.5 242.9h0M190.6 172.4h0M329.8 216.8h0M331.7 126h0M318.7 205.5h0M333.3 182.7h0M189.5 255.5h0M191.2 165.1h0M285.7 85.2h0M317.5 214.6h0M288.8 190.6h0M257.2 148.8h0M277.9 178.8h0M192.7 262.9h0M247.2 103.5h0M191.1 249.4h0M249.6 112.1h0M232 113.2h0M320.6 210h0M153.6 95.4h0M195 91.2h0" stroke="#0000CD"/>
<path d="M229.4 123.5h0" stroke="#0000CD"/>
<path d="M240.4 121.3h0" stroke="#0000CD"/>
<path d="M288.7 177.8h0" stroke="#0000CD"/>
<path d="M266.6 159.9h0" stroke="#0000CD"/>
<path d="M255.6 140.6h0" stroke="#0000CD"/>
<path d="M288.7 125.4h0" stroke="#FF3300"/>
<path d="M308 135.1h0" stroke="#FF3300"/>
<path d="M313.5 137.8h0" stroke="#FF3300"/>
<path d="M280.4 137.8h0" stroke="#FF3300"/>
<path d="M332.8 150.2h0" stroke="#FF3300"/>
<path d="M327.3 179.2h0" stroke="#FF3300"/>
<path d="M312.1 172.3h0" stroke="#FF3300"/>
<path d="M200.4 78.5h0" stroke="#FF3300"/>
<path d="M219.7 75.8h0" stroke="#FF3300"/>
<path d="M197.7 92.3h0" stroke="#FF3300"/>
</g></g>
<g transform="translate(786.6 992.1)">
<use href="#fr"/>
<text class="k" transform="translate(135.8 354.2) scale(0.98 1.04)" text-anchor="middle">-5</text><text class="k" transform="translate(66.4 270.8) scale(0.98 1.04)" text-anchor="end">-5</text><text class="k" transform="translate(207.1 354.2) scale(0.98 1.04)" text-anchor="middle">0</text><text class="k" transform="translate(66.4 203.1) scale(0.98 1.04)" text-anchor="end">0</text><text class="k" transform="translate(278.4 354.2) scale(0.98 1.04)" text-anchor="middle">5</text><text class="k" transform="translate(66.4 135.3) scale(0.98 1.04)" text-anchor="end">5</text><text class="k" transform="translate(349.6 354.2) scale(0.98 1.04)" text-anchor="middle">10</text><text class="k" transform="translate(66.4 67.6) scale(0.98 1.04)" text-anchor="end">10</text><text class="a" transform="translate(223 388) scale(0.97 1.04)" text-anchor="middle">x1</text><text class="a" transform="translate(23.3 182.3) rotate(-90) scale(1.0 1.03)" text-anchor="middle">x2</text>
<text class="t" transform="translate(77.6 23.7) scale(1.0 1.0)">g.reg-based</text>
<g fill="none" stroke-width="9.6" stroke-linecap="round">
<g clip-path="url(#mc)">
<use href="#mass" fill="#0000CD"/>
<path d="M196.8 49.6L195.5 143.3L193.5 198.5L191.9 319.9L373.4 319.9L373.4 49.6Z" fill="#FF3300"/>
<path d="M198.2 49.6L198.2 60.6L218.9 77.1L232.7 99.2L249.3 113L265.8 121.3L276.8 129.6L287.9 146.1L293.4 162.7L298.9 184.7L304.4 201.3L315.5 206.8L332 217.8L345.8 228.9L373.4 228.9L373.4 49.6Z" fill="#0000CD"/>
<path d="M198.2 60.6L218.9 77.1L232.7 99.2L249.3 113L265.8 121.3L276.8 129.6L287.9 146.1L293.4 162.7L298.9 184.7L304.4 201.3L315.5 206.8L332 217.8L318.2 226.1L298.9 220.6L287.9 204L282.4 182L276.8 162.7L268.6 146.1L254.8 135.1L235.5 124L218.9 110.2L207.9 93.7L198.2 82.7Z" fill="#FF3300"/>
</g>
<path d="M336.3 142.5h0M279.9 128h0M277.9 154.4h0M190.8 109.1h0M241.4 116.7h0M228.3 106.1h0M188.1 222.6h0M332.4 186.1h0M170.6 83.2h0M282 177.1h0M307.3 193h0M213.4 63.3h0M337.2 190.9h0M113.3 209.1h0M223.3 66.4h0M318.3 211.7h0M192.2 139.3h0M187.9 249.6h0M323.6 209.8h0M193 121.8h0M189 188.7h0M92.8 189.5h0M297.2 182.3h0M244.7 107.6h0M313.5 159.8h0M192.3 178.1h0M333.1 231.6h0M264.1 123.7h0M271.8 122.8h0M221.9 67.5h0M301.5 91.2h0M305.5 195.3h0M288.1 145.4h0M299.8 177.5h0M255.9 115.8h0M196.4 71.3h0M243.5 126.4h0M193.2 176.4h0M331.7 126h0M160.6 91.5h0M182.8 82h0M315.5 205.3h0M222.2 77.5h0M235.3 117.8h0M302.1 120.9h0M219 76.7h0M228.6 62.6h0M333.4 165.9h0M193.9 140h0M193 230.4h0M273.7 151.9h0M280.5 134.4h0M231.3 113.4h0M249.7 119.1h0M236.3 99.2h0M189.4 255.5h0M256 114.3h0M218.1 73h0M112.1 198.6h0M231.5 64.7h0M304.8 112.5h0M237.1 121.4h0M316.6 113.8h0M326.1 208.8h0M293.9 197.5h0M268.7 130.1h0M275.1 147.9h0M320.3 111.8h0M293.9 160.1h0M249.5 110.3h0M192.7 189h0M229.8 65.7h0M142 103h0M293 201.9h0M203.8 89h0M279.3 82.6h0M337.2 190.9h0M192.4 121.8h0M324.1 107.4h0M279.1 135.1h0M188.4 217.1h0M214 91.4h0M257 100.5h0M297.7 90.1h0M275.3 129.4h0M191.3 266.2h0M247 124.2h0M319.7 204.7h0M103.1 190.2h0M191.3 234h0M109 177.6h0M252.2 112.5h0M331.9 194.3h0M193.8 160.6h0M192.7 106.1h0M302.4 175.8h0M191.9 153.3h0M192.1 118.5h0M235 122.9h0M188.4 229.9h0M231.6 87.3h0M117.8 148.1h0M296 88.8h0M192.9 186.9h0M266.8 113.7h0M239.9 102.9h0M193 218.8h0M272.7 92.2h0M306.3 220.5h0M320.1 128.4h0M129.3 95.7h0M118.9 162.8h0M145.9 83.3h0M260.5 136.7h0M294.9 178.4h0M329.3 210.7h0M162.6 266.9h0M332.9 176.3h0M228.8 114.3h0M189.5 232h0M213 99.5h0M263.2 117.1h0M214.1 72.8h0M111.4 159.1h0M280.7 129.4h0M243 114.5h0M328.8 138.2h0M235.1 111.8h0M236.9 100.2h0M104.5 179.8h0M189.8 262.1h0M227 110.1h0M319.2 148h0M226.6 82.9h0M291 169.6h0M238.8 124.4h0M292.8 197.7h0M273.4 104.9h0M308.9 198.4h0M291.4 198h0M189.8 171h0M136 117.6h0M112.8 212.3h0M192.9 228.8h0M296.1 169.1h0M109.7 118h0M193.2 122.5h0M287.9 152.8h0M297.2 142.3h0M225.9 90.8h0M164.2 269.7h0M117.5 142.3h0M190.8 236.5h0M320.1 153.7h0M244.6 121.8h0M192.3 198.6h0M103.8 126.3h0M240.7 66.7h0M173.4 72.2h0M288.8 199.1h0M292.8 200.9h0M188.8 266h0M313.1 107.6h0M327.7 212.8h0" stroke="#0000CD"/>
<path d="M205.9 68.8h0M340 181.9h0M286.5 160.2h0M196.2 273.8h0M259 121.4h0M201.5 83.5h0M222.3 116.2h0M286.3 145.4h0M259 117.9h0M293.9 150.6h0M226.9 118.3h0M269.2 154h0M271.2 132.2h0M282.8 166.7h0M235.9 125.7h0M195.2 248h0M292.4 263.3h0M203.6 89.9h0M267.1 124.8h0M199.7 150.3h0M303.2 90.6h0M342.8 230.9h0M306 217.3h0M212.7 71.1h0M220.6 83.3h0M198 269.8h0M291.1 106h0M201.3 98.2h0M290.6 158.9h0M195.4 259h0M282.2 192.9h0M219.6 106.6h0M272.4 143.2h0M287.4 141.2h0M278.5 182.1h0M254.5 119.6h0M290.1 146.5h0M322.9 216.6h0M196.3 225.1h0M261.5 103.9h0M293.3 84h0M199.5 87.2h0M225.3 101.9h0M230.5 291.3h0M254 132.7h0M201.4 92h0M193.2 266.5h0M196.7 138.8h0M252.7 70h0M194.3 185.5h0M197.3 266.7h0M198.8 139.7h0M201.3 78.7h0M331.7 253.6h0M310.9 224.9h0M208.8 98.3h0M292.2 220.2h0M258.3 140.8h0M198.4 168.2h0M232 125.6h0M270.3 280.9h0M314 220.6h0M243.7 131h0M318.8 223h0M198.7 152.5h0M195.6 199.5h0M280.6 166.4h0M299.9 224.3h0M262.8 144.2h0M194.6 225.1h0M203.6 81.1h0M220 116.4h0M278.6 143.3h0M294 216.3h0M277.9 163.8h0M294.2 187h0M197.8 165.7h0M287.7 142.8h0M288 151.1h0M299.3 250.9h0M200.3 288h0M221.2 99.8h0M296.5 217h0M288 212.8h0M269.8 124.7h0M197.7 119h0M198 170.6h0M195.7 162h0M195.1 213h0M199.5 141.2h0M238.3 286.4h0M282.3 147.1h0M294.5 168.8h0M333.7 153.6h0M271.7 289.5h0M193.7 235.6h0M277.4 184.1h0M259.6 283.8h0M197 272.2h0M195.9 185.4h0M262.1 284.7h0M285.7 190.8h0M276.7 160.3h0M278.1 157.7h0M199.8 80h0M209.5 76.8h0M201.2 79.7h0M196.7 208.1h0M285.2 83.6h0M246.7 131.2h0M199.1 146.9h0M197.4 237.8h0M198.5 134.2h0M293.7 178.3h0M205.3 99h0M206.1 98.2h0M254.2 136h0M292 207.5h0M317.9 239.9h0M230.6 102.6h0M322.9 220.4h0M264.5 283.4h0M196.3 121.6h0M203.5 91.7h0M329.6 147.2h0M316.2 229.9h0M280.4 194.2h0" stroke="#FF3300"/>
<path d="M207.7 75h0M233.3 126.6h0M240 293.6h0M281.6 200.3h0M295.6 191h0M293.9 208.9h0M199.7 308.1h0M213.2 105.6h0M198 286.9h0M296.5 185.8h0M196.9 232.3h0M197.7 157.1h0M231.6 106.9h0M198.8 183h0M197.5 265.9h0M196.4 241.9h0M285.9 195.5h0M289.3 166.1h0M199.9 110.4h0M280.7 164.9h0M318.6 239.1h0M279.9 141h0M297.3 192.7h0M267.1 148.8h0M316.2 223.5h0M323.4 228.8h0M207.1 293.2h0M235.9 106.2h0M242.3 281.9h0M293.1 162.1h0M197.9 142h0M288.3 211.8h0M289.4 167.7h0M284.7 155.3h0M197.1 224.9h0M308.5 222.1h0M284.6 197.9h0M280.3 134.9h0M287 152.6h0M293.2 151.7h0M215.7 295.2h0M281.6 196.7h0M269 157.2h0M308.3 222.3h0M279.2 178.9h0M312.9 226.8h0M194 213.8h0M221.7 81.8h0M290.3 211.6h0M280.2 188h0M271.5 154.4h0M196.8 174.7h0M220.9 90.7h0M295.2 268.8h0M259.6 108.1h0M297 195.3h0M319.1 190.3h0M246.1 283.5h0M298.8 258.7h0M239.5 282.8h0M193.5 289.3h0M295.7 161h0M265.1 122.2h0M199.6 287h0M196 271.5h0M299.4 195.4h0M330.2 211.1h0M199.4 163.8h0M297.5 184.9h0M266.9 150h0M202.9 95.1h0M265.2 148.2h0M226.8 90.6h0M286.7 138.9h0M230 122.5h0M280.5 95.7h0M253.7 88.1h0M276.3 166.9h0M309.9 204.8h0M286.3 149.6h0M262.3 147.7h0M301.2 94.9h0M295.4 160.5h0M197.2 140.5h0M307.6 223.7h0M301.2 197.1h0M224.6 113.2h0M276.1 171.3h0M294 267.7h0M286.9 156.9h0M226.4 116.5h0M276.7 151.9h0M278.5 161.3h0M197.7 123.1h0M276.8 282.7h0M293.9 186.7h0M301.3 199.6h0M264.6 137.2h0M228.8 101.9h0M275 278.3h0M199.3 93.4h0M311.9 241.1h0M284.7 206.7h0M317.7 213.1h0M196.5 198.4h0M288.9 166.4h0M297.9 160.9h0M272.6 280.6h0M299.1 157.2h0M269.8 149.8h0M220 301.9h0M205 287.4h0M304.9 173.3h0M271.9 164.2h0M259.5 117.2h0M200.7 98.9h0M287 146.7h0M197.6 134.9h0M302.1 225.4h0M293.7 268.5h0M293.2 83.6h0M278.6 176.7h0M196.3 134.4h0M310.6 207.6h0M221.9 102.6h0M247.7 134.3h0M197.5 145h0M281.4 141.3h0" stroke="#FF3300"/>
<path d="M130.1 237.7h0M292.1 157.6h0M191.5 105.2h0M193.6 117.5h0M286.7 131.7h0M222.5 84.3h0M296.5 106.7h0M303.5 122.4h0M284.4 131.9h0M188.5 271.3h0M128.7 236.3h0M281.1 127.6h0M313.7 109.6h0M191.5 91.6h0M225.9 95.1h0M194.4 112.7h0M274.8 155.1h0M114.2 175.8h0M338.4 144h0M297 174.2h0M254.1 130.8h0M189.8 240h0M189.8 152h0M223.6 85.4h0M106.1 150.9h0M249.5 121.5h0M271.4 118.5h0M191.6 141.4h0M267.2 120.3h0M245 128.2h0M293.3 203.7h0M284.9 84.9h0M329.1 204.6h0M333.8 139.8h0M334.1 153.5h0M230.3 117h0M190.4 188.8h0M323.6 186.6h0M192.8 158.9h0M213.8 100.1h0M280.4 146h0M191.7 103.6h0M321.3 113h0M287.4 175.2h0M274.3 128.2h0M103.1 190.9h0M306.9 203.6h0M239.6 88.5h0M194 114.5h0M175.8 282.2h0M191.2 133.1h0M238.6 119.5h0M273.9 123.7h0M264.6 120.4h0M229.7 82.9h0M280 168.5h0M334.8 198.2h0M248.9 72.7h0M150.4 90.1h0M254.9 120h0M302.6 93.5h0M277.1 156.8h0M268.3 132.9h0M259.4 116.9h0M297.5 172.1h0M283.2 133.4h0M192.7 145h0M194.9 115h0M308.2 180h0M191.3 266.6h0M135.3 243.5h0M179 78h0M284.8 179.7h0M289.3 140.2h0M190.4 164.6h0M293.6 203.1h0M304.2 198h0M192.3 81h0M276.6 115.9h0M320.1 215h0M282.3 156h0M94.8 173.6h0M254.6 128.9h0M222.5 84h0M189.3 234.2h0M290.4 90.5h0M138.6 117.4h0M266.9 140.3h0M303.2 195.3h0M256.6 111.5h0M316.2 105.8h0M217.1 84.3h0M269.8 78.4h0M303.5 202.9h0M294.4 182.3h0M295.4 153.1h0M297.2 81.2h0M228 86.6h0M193 105.6h0M238.8 123.9h0M330.1 211.6h0M188.9 197.6h0M191.3 196.5h0M272.9 126.2h0M118.7 203.5h0M277.8 163.1h0M195.6 102.1h0M167.7 80.5h0M189.3 228.6h0M296.6 165.6h0M299.3 135.1h0M280.9 125.8h0M138.3 247.1h0M322.6 157.7h0M272.9 123.9h0M116.1 154.7h0M327.2 201.3h0M298.6 283.3h0M292.9 183h0M191.8 182.9h0M185.9 280.7h0M322.2 205.3h0M121 101.9h0M257.9 79.7h0M229.6 68.8h0M317.1 121.4h0M306.8 196.9h0M193.9 97.1h0M194.8 95.2h0M312.6 172.3h0M271 126.3h0M188.1 237.9h0M335.5 173.8h0M107.3 179.9h0M130.2 120.5h0M299.3 181.3h0M157.2 263h0M254.4 72.4h0M256.7 69.2h0M315.5 118.2h0M285.8 106.8h0M331.2 176.3h0M141.5 246.6h0M236 94.3h0M187.7 235.2h0M138.8 112.4h0M122.4 267.7h0M245.9 68.9h0M196.2 84.1h0M309.1 198.9h0M273.6 97.4h0M330.8 145.5h0M185.3 286.5h0M303.1 184h0M191.1 105.6h0M185.9 68.8h0M251.9 119.5h0M160.3 86.3h0M168.6 77.1h0M220.1 81.8h0M211.6 92.2h0M230.3 61.2h0M189.6 273.9h0" stroke="#0000CD"/>
<path d="M299.9 170.4h0M289.9 145.5h0M271.1 74.8h0M298.1 161.9h0M218.5 91.4h0M271.4 129.3h0M316.5 117.9h0M227.4 88.3h0M308.4 200.3h0M190.5 132h0M190.7 277.9h0M273 125.2h0M333.1 167.4h0M118.3 257.3h0M258.1 113.4h0M267.7 127.3h0M281.5 134.8h0M191.3 75.5h0M319.3 211.7h0M192.6 188.1h0M225.1 83.1h0M178.7 77.1h0M331.9 141.9h0M150.9 262.4h0M231.2 93.4h0M188.9 263.4h0M298.4 162.6h0M340 157.8h0M112.1 115.3h0M317.9 101.9h0M211.3 72h0M218.1 70.2h0M332.3 205.8h0M284 169.7h0M142.4 93.6h0M189.7 193.6h0M261.3 116.5h0M159.7 86.7h0M92.8 189.5h0M260 117.5h0M187.4 250.7h0M265.8 116h0M193.9 151.1h0M192.6 81.8h0M259.9 68.1h0M231.6 87.9h0M173.7 274.3h0M226.3 64.3h0M192.7 120.4h0M339.3 144.7h0M276.9 127h0M235.2 67.3h0M297.3 167.1h0M281.6 129h0M228.9 64.8h0M306.2 98.9h0M158.2 85.3h0M333.3 197.3h0M187.5 266.3h0M196.3 80.5h0M351 155h0M236.4 120.7h0M292.4 180.3h0M216.5 54.3h0M234.2 122h0M112.4 170.6h0M234.2 112.7h0M142.8 101.6h0M303.1 182h0M134.8 104h0M302.2 189.3h0M193.9 173.1h0M271 102h0M242.5 114.4h0M308.2 216.3h0M316.9 137.1h0M192.6 155.7h0M193.8 135.8h0M114.9 170h0M193.3 175.8h0M227.7 73.8h0M244.9 110.2h0M190 283.7h0M314.5 201.8h0M286.5 156.2h0M219.7 72.7h0M266.2 68.1h0M189.2 236.6h0M319.5 132h0M282.5 178.3h0M297.5 178.6h0M116.6 154.1h0M270.1 146.7h0M283.1 130.1h0M189.4 245.1h0M295 165.5h0M230.8 64h0M118.9 161.2h0M282.8 153.7h0M90.7 177.8h0M304.5 94.3h0M188.9 73.9h0M247.8 71.7h0M290.9 197.9h0M274.1 132.6h0M297 89.4h0M301.6 219h0M140.6 248.3h0M314.7 198.7h0M153.1 89.7h0M128.6 117.8h0M196.2 87.2h0M288.6 203.4h0M115.5 123.3h0M317 107.4h0M290.7 197.6h0M188.6 222h0M192.3 91.9h0M171.7 279.4h0M124.3 138.7h0M190.3 214.2h0M316.8 112.6h0M274.6 155.8h0M142.6 103.2h0M195.2 108.8h0M225.7 109.9h0M191.8 160h0M316.2 171.4h0M157.6 92h0M263.9 117.1h0M136.3 245h0M213.1 96h0M190.1 238.1h0M331.2 195.7h0M301.4 182.8h0M194.1 113h0M246 73.1h0M322.6 205.6h0M331.7 167.4h0M196.1 98.9h0M316 139.8h0M191.4 231.8h0M110.2 185.6h0M253.4 113.6h0M191.6 127.5h0M107.2 120.5h0M226.5 83.9h0M314.5 105.7h0M331.8 212.3h0M283.2 88.3h0M190.6 270.3h0" stroke="#0000CD"/>
<path d="M301.4 260.5h0M223.4 119h0M198.1 211.4h0M248.6 86.4h0M199.2 180.2h0M198.1 240.9h0M220.5 117.9h0M299.3 250.5h0M310.3 179.3h0M194.8 258.7h0M207.6 94.3h0M196.1 102.5h0M318.8 213.6h0M196.9 66h0M265.1 150.8h0M295.3 163.4h0M224.6 118.9h0M277.8 181.4h0M290.5 176.3h0M259.2 144.6h0M237.4 130.9h0M308.5 219.6h0M199.9 290.9h0M300.4 208h0M279.6 174.4h0M194.6 269.7h0M271.8 138.5h0M288.8 155.3h0M254.7 136.9h0M198.1 252.1h0M319 226.9h0M231.9 127.2h0M218.5 112.8h0M196.9 137.6h0M198.4 95.3h0M197.3 190.5h0M277.7 159.2h0M248.9 137.3h0M285.7 205.1h0M197.7 111.3h0M285.1 112.3h0M288.1 210h0M252.9 116.6h0M253.8 286.1h0M235.4 126.1h0M195.3 274.8h0M258.7 119.3h0M283.6 203.2h0M197.1 216.3h0M259.9 281.2h0M199.5 134.7h0M310.1 223.1h0M221.6 110.3h0M252.4 284h0M286 187.9h0M296.8 223.8h0M313.7 243.2h0M197.3 172.8h0M198.7 117h0M219 295.3h0M195.4 172.6h0M312.1 229.5h0M315 222.3h0M216.8 83.5h0M275.2 169.2h0M254.3 134.1h0M293.5 181h0M323.1 220.2h0M198.5 85.8h0M194.5 191.9h0M284.2 146.9h0M308.4 244.8h0M214.2 288.5h0M301.8 224.6h0M286 184.3h0M311.7 263.3h0M195.5 194.8h0M288 185.5h0M197.4 149h0M197.3 261.2h0M268.1 152.5h0M318.9 230.5h0M305.9 218.8h0M196.6 229.8h0M274.8 279.9h0M256.6 122.3h0M229.6 124.4h0M221.8 89.8h0M237.5 129.5h0M316.9 222.8h0M287.7 210.2h0M286.9 147.8h0M265 132h0M271.7 163.3h0M195.4 202.8h0M217.3 114.9h0M259.5 123.2h0M295.5 183.5h0M276.3 179.4h0M301 221.1h0M340 181.9h0M228.3 100.9h0M200.9 97.5h0M260 287.4h0M311.9 225.1h0M279.2 159.6h0M197.3 143.5h0M301.7 202h0M195.3 197.4h0M304.5 252.4h0M197.6 191.1h0M242.3 280.5h0M198 253.6h0M194.6 206.2h0M258.1 133.2h0M243.4 133.7h0M303.2 203.2h0M238.5 127.3h0M316.6 264h0M197.3 191.4h0M214.8 289.8h0M273.4 281.3h0M330.7 157.6h0M227.3 113.7h0M295.2 148.7h0M200.2 127.6h0M293.1 213.4h0M221.4 294.1h0M200 85.1h0M199.3 154.5h0M262.9 121h0M332.7 163.5h0M197.6 168.7h0M262.8 146.7h0M231.3 105.1h0M195.9 190.2h0M219 304h0M294.4 155.7h0M315.3 221.4h0" stroke="#FF3300"/>
<path d="M332.4 154.4h0M258.7 106.9h0M310.9 227.4h0M196.8 249.1h0M193.9 232.5h0M290 157.4h0M201.5 98.1h0M199.1 90.1h0M194 200.1h0M197.2 169.1h0M199.5 162h0M283.8 176.2h0M194.1 279.3h0M315.5 226h0M337.9 188.9h0M267.2 151.8h0M309.4 220.4h0M196.9 149.8h0M315.2 209.5h0M272.1 158.9h0M332.7 144.3h0M193.8 220.4h0M197.6 271.8h0M301.8 162.7h0M199.7 120.9h0M198.9 101.4h0M301.5 208.7h0M299.8 215.2h0M198.9 150.3h0M194.2 248.4h0M192.8 277.7h0M214.4 83.3h0M290 162.8h0M286.4 202h0M304.9 222.2h0M249.7 133.1h0M197 79.2h0M196.9 186.7h0M314.5 243h0M220.3 84.1h0M261.4 287.9h0M283.5 192.4h0M280.5 182.1h0M283.2 146.2h0M330.9 155.2h0M195.8 247.5h0M298.6 195.8h0M197 224.9h0M266.8 146.7h0M305.1 210.5h0M293 265h0M326.2 222.3h0M205 89.9h0M197.9 267.3h0M217.7 114.6h0M220.3 88.3h0M325.7 220.1h0M251.9 115.8h0M277.7 141.5h0M301 195.8h0M214.6 101.9h0M298.9 197h0M274.8 161.7h0M256.4 111.7h0M205.4 97.4h0M196.8 214.9h0M252.1 103.9h0M198 75.7h0M213 100.3h0M284.1 140.8h0M196.8 250.7h0M194.1 224.6h0M252.3 120.7h0M292.6 144h0M199 178h0M309.9 207.7h0M224.7 108.3h0M310.6 209.9h0M295.7 206.9h0M226.8 123.1h0M252.1 90.2h0M196.4 228.4h0M200.7 120.6h0M300.1 196.9h0M313.9 222h0M312.1 172.6h0M227.8 124.7h0M298.8 200.3h0M271.9 156.8h0M233.4 96.9h0M316.6 234.7h0M243.1 112.6h0M196.1 262h0M253.4 136h0M250.8 115.8h0M283.5 193.8h0M195.5 166.8h0M208.3 99.7h0M217.9 77.3h0M193.9 275.5h0M288.2 271.1h0M290.7 214.5h0M230.7 291.3h0M305 216.2h0M282.2 188.4h0M298.3 213.8h0M203 88h0M307.1 171.3h0M221 297.1h0M194.5 287.3h0M221.6 107.1h0M317 236.2h0M197.3 234.7h0M284.2 177h0M266.9 148.7h0M314.8 231.8h0M273.6 168.1h0M316.2 233.5h0M234.7 105h0M252.3 136.9h0M288.7 272.1h0M300.7 191.9h0M200.9 116.3h0M262.9 120.1h0" stroke="#FF3300"/>
<path d="M317.1 202.4h0M192.2 99.5h0M325.8 175.8h0M296.8 217.3h0M253.6 119.1h0M167.1 273.2h0M293.2 168.4h0M188.6 232.6h0M298.6 93.2h0M334.7 158.8h0M170.4 80.7h0M189 212.6h0M315.9 208.3h0M279.3 100.1h0M241.5 109.9h0M90.7 177.8h0M180 282.9h0M190.5 242.8h0M294.9 145.7h0M137.5 109.9h0M272.4 152.3h0M151.4 257h0M278.8 91.1h0M188.5 263.1h0M242.4 105.5h0M189.2 199.8h0M309.1 97.9h0M330.2 181.1h0M195.5 94.1h0M273.4 125.1h0M238.2 124.4h0M135.8 119.6h0M208.7 88.5h0M120.5 149.3h0M266.9 143.2h0M336.6 213.6h0M256.8 116h0M233.1 118h0M262.4 136.2h0M192.1 250.2h0M251.6 109h0M310.7 106.3h0M267.3 133.4h0M115.5 245.3h0M227.7 74.9h0M333.3 156.7h0M296.1 90.7h0M202.2 71.6h0M322.6 201.1h0M311.2 154.6h0M190.7 264.3h0M118.9 124.9h0M235.3 106.8h0M191.9 99.8h0M188.9 186.5h0M243.3 108.4h0M300 166.9h0M190.1 248.9h0M126.6 257.3h0M279.7 144.2h0M276.4 135.5h0M160.7 266.8h0M299.1 171.2h0M231.1 88h0M257.5 100.2h0M271.9 152h0M190.6 169.6h0M192.8 79.6h0M282 80.6h0M229.2 92.9h0M294.1 162.2h0M325.3 208.4h0M314.8 123.5h0M317.2 117.8h0M249.9 127.7h0M334 159.5h0M251.7 57.8h0M329.8 171.1h0M192.1 266.6h0M294.1 150.1h0M191.6 222.2h0M271.2 132.2h0M190.8 92.3h0M99 172.9h0M110.6 189.2h0M288.9 200.1h0M303 188.2h0M274.1 75.4h0M190.7 288.5h0M330 199.4h0M116.6 151h0M187.5 256.5h0M191.2 130.4h0M191.8 188.9h0M190.6 105.8h0M318.8 207.6h0M248.3 121.5h0M193.9 91.4h0M192.1 120.6h0M299.6 157.6h0M224.9 85.1h0M223 92.7h0M167 275.3h0M325.5 136.3h0M333.8 204.7h0M316.7 209.6h0M293.7 89h0M335.8 160.5h0M331.2 214.7h0M261 69.6h0M136.9 257.3h0M278.9 135.4h0M192.6 223.6h0M99.7 131.6h0M277.8 163.1h0M290.6 129.3h0M189 202h0M221.9 84.7h0M110.7 218.4h0M305 186.6h0M309.6 200.4h0M189.7 155.2h0M311.9 203.8h0M238 121.5h0M188.6 233.3h0M282.4 103.5h0M116.2 141.2h0M181.8 280.9h0M243.5 127.2h0M192 160h0M272 86.6h0M336.9 166.6h0M144.7 255.9h0M224.6 80.1h0M303.3 219.6h0M236.7 120.2h0M305.5 90.2h0M337.5 169.3h0M327 214.3h0M226.7 80.2h0M193.2 79.8h0M233.4 113.7h0M266.3 129.4h0M190.1 214.3h0M192.9 101.4h0M112.9 168.9h0M313.5 116.6h0M191.9 167.1h0M304.1 157.6h0M123.3 222.4h0M270.5 125.4h0M191.4 215.9h0M144.6 254.8h0M277.1 153.9h0M149.7 77.5h0M357.2 217.1h0M276.9 85.3h0M336.3 142.2h0M195.2 98.3h0M195 140.6h0M268.4 120.8h0M151.8 257.2h0M312.3 120.1h0M337.2 166h0M192.3 250.2h0M267.2 144h0" stroke="#0000CD"/>
<path d="M176.2 82.7h0" stroke="#FF3300"/>
<path d="M285.1 93.7h0" stroke="#FF3300"/>
<path d="M287.9 124h0" stroke="#FF3300"/>
<path d="M310 135.1h0" stroke="#FF3300"/>
<path d="M314.1 137.8h0" stroke="#FF3300"/>
<path d="M329.3 173.7h0" stroke="#FF3300"/>
<path d="M310 165.4h0" stroke="#FF3300"/>
<path d="M298.9 193h0" stroke="#FF3300"/>
<path d="M267.2 161.3h0" stroke="#0000CD"/>
<path d="M230 122.7h0" stroke="#0000CD"/>
<path d="M218.9 128.2h0" stroke="#0000CD"/>
<path d="M298.9 215.1h0" stroke="#0000CD"/>
<path d="M304.4 217.8h0" stroke="#0000CD"/>
<path d="M287.9 176.4h0" stroke="#0000CD"/>
</g></g>
<g transform="translate(0 1409.5)">
<use href="#fr"/>
<text class="k" transform="translate(135.8 354.2) scale(0.98 1.04)" text-anchor="middle">-5</text><text class="k" transform="translate(66.4 270.8) scale(0.98 1.04)" text-anchor="end">-5</text><text class="k" transform="translate(207.1 354.2) scale(0.98 1.04)" text-anchor="middle">0</text><text class="k" transform="translate(66.4 203.1) scale(0.98 1.04)" text-anchor="end">0</text><text class="k" transform="translate(278.4 354.2) scale(0.98 1.04)" text-anchor="middle">5</text><text class="k" transform="translate(66.4 135.3) scale(0.98 1.04)" text-anchor="end">5</text><text class="k" transform="translate(349.6 354.2) scale(0.98 1.04)" text-anchor="middle">10</text><text class="k" transform="translate(66.4 67.6) scale(0.98 1.04)" text-anchor="end">10</text><text class="a" transform="translate(223 388) scale(0.97 1.04)" text-anchor="middle">x1</text><text class="a" transform="translate(23.3 182.3) rotate(-90) scale(1.0 1.03)" text-anchor="middle">x2</text>
<text class="t" transform="translate(77.6 23.7) scale(1.0 1.0)">g.owl</text>
<g fill="none" stroke-width="9.6" stroke-linecap="round">
<g clip-path="url(#mc)">
<use href="#mass" fill="#0000CD"/>
<path d="M183.9 44L178.3 102L178.3 124L183.9 143.3L178.3 165.4L178.3 190.2L189.4 204L211.4 209.6L228 215.1L222.5 231.6L233.5 248.2L244.6 253.7L239 270.2L244.6 308.9L371.4 308.9L371.4 44Z" fill="#FF3300"/>
<path d="M95.6 126.8L120.4 88.2L150.8 60.6L183.9 44L178.3 102L178.3 124L183.9 143.3L178.3 165.4L178.3 187.5L161.8 182L150.8 193L128.7 187.5L109.4 168.2Z" fill="#0000CD"/>
<path d="M228 215.1L261.1 209.6L316.3 209.6L354.9 226.1L338.3 259.2L316.3 275.8L299.7 297.8L272.1 303.3L244.6 297.8L239 270.2L244.6 253.7L233.5 248.2L222.5 231.6Z" fill="#FF3300"/>
</g>
<path d="M146 179.7h0M225.5 227.8h0M164.8 138.9h0M132.6 194h0M120.4 139.8h0M163.4 175.5h0M147.9 170.3h0M246.7 283.7h0M162.9 186.3h0M289.5 212h0M176.8 170.3h0M174.4 148.6h0M136.7 192.2h0M200 211.9h0M137.4 185.7h0M131.4 120h0M258.4 282h0M122.4 267.7h0M205.4 289h0M295.2 268.8h0M286.3 211h0M160.2 267.1h0M120.3 185.9h0M137.6 246h0M182.3 201.1h0M226.9 241.7h0M165.8 91.1h0M148.1 134.3h0M216.8 216.7h0M142.1 98h0M178.1 197.5h0M146.4 188.6h0M175.2 81h0M199.6 209.8h0M153.7 183.3h0M137.1 120h0M238.6 241.8h0M115.8 218.3h0M243.2 255.9h0M110.4 178.2h0M279.7 230.2h0M187.9 208.5h0M131.9 240.7h0M174.7 117.4h0M180.7 133.3h0M92.8 189.5h0M178.5 78.1h0M191.7 205.9h0M185.5 204h0M271.7 289.5h0M117.3 179.7h0M149.5 197.9h0M254.1 215.5h0M221 297.1h0M314.8 227.3h0M141.2 130.9h0M322.3 215.1h0M125.9 188.8h0M240.9 215.2h0M144.3 196.3h0M115.5 245.3h0M171.9 173.5h0M223.3 239.1h0M219 227.5h0M142.4 93.6h0M129.3 95.7h0M148 186.6h0M172.6 149.5h0M280.8 237.7h0M135.3 120.8h0M126.6 237h0M145.2 158.6h0M129.2 237.1h0M278.6 243.7h0M118.4 141.1h0M328.1 216.4h0M221.6 224.7h0M174.9 115.9h0M222.4 217.7h0M139.3 243.8h0M107.4 177.8h0M295.4 240.9h0M167.2 119.4h0M326.2 222.7h0M115.4 181h0M175.8 79.9h0M173.3 189h0M233 241.2h0M157.4 186.6h0M103.1 190.2h0M295.2 237.6h0M232.4 295.1h0M266.2 252.9h0M168.8 163.9h0M172.3 130.7h0M153.6 157.3h0M311.7 263.3h0M224.7 295.4h0M173.8 83.4h0M177.7 126.2h0M221.8 221h0M179.5 141.3h0M134.4 183.6h0M185.1 199.6h0M159.7 86.7h0M173.9 189.3h0M174.3 89.3h0M175.6 131.2h0M230.7 294.2h0M301.1 214.5h0M224.2 239.8h0M139.1 184.2h0M317 212.9h0M233.5 237.3h0M141.4 108.9h0M168.2 184.3h0M149.3 146.8h0M174.2 174.1h0M298.4 221h0M127.3 230.1h0" stroke="#0000CD"/>
<path d="M266.2 68.1h0M285.6 206.7h0M179 112.1h0M122.7 131.3h0M181.4 172.1h0M164.6 83.4h0M179.1 108h0M253.5 227.4h0M177 98.5h0M225.7 212.8h0M166.2 87.9h0M188.7 201.3h0M180.1 144.7h0M357.2 217.1h0M187.2 194.9h0M262.3 211.4h0M241.6 208.1h0M159.2 163.5h0M143 100.8h0M259.1 222.5h0M248.4 74.4h0M173.6 114.9h0M182.8 167.5h0M149.2 140.8h0M112.3 168.6h0M158.9 99.2h0M298.4 255.4h0M149.7 77.5h0M164.8 85.2h0M306.6 245.7h0M317.4 206.9h0M241.5 212.5h0M246.7 251.4h0M117.2 154.7h0M333.8 204.7h0M180.1 180.3h0M180.7 92.2h0M125.2 181.2h0M325.7 207.8h0M182.5 115.6h0M262.5 206.3h0M317.6 112.5h0M163.5 111.5h0M204.5 203.9h0M176.4 160.1h0M333.9 141.4h0M156.5 185.5h0M169.6 143.5h0M319.9 207.8h0M179.8 117.8h0M266.9 214.9h0M264.2 73.2h0M311.2 107.7h0M125.2 152.1h0M270.7 269.2h0M281.1 270.1h0M136.7 179.8h0M174.2 95.4h0M117.2 123.8h0M270 209.2h0M287.7 214.2h0M270.6 225.5h0M122.9 164.4h0M335.5 184.3h0M262.5 73.3h0M229.8 233h0M176.8 118.9h0M284.7 85.8h0M190 203.7h0M241.6 275.7h0M215 205.2h0M275.7 280.2h0M264 214.6h0M305 246.7h0M174.2 124.6h0M216.5 54.3h0M184.8 89.6h0M304.1 209.7h0M168.9 85h0M326.9 218.5h0M337.6 165.8h0M174 128.4h0M177.7 180.6h0M255.9 269.1h0M254.9 286h0M331.7 126h0M256 283.3h0M113.6 157.7h0M272.2 271.9h0M197.2 74.9h0M117.7 121.6h0M181 96.5h0M258.6 285.2h0M176.8 95.2h0M181.6 133.7h0M293.2 208.6h0M298.9 205.9h0M254.1 283.7h0M160 103.9h0M240.8 213.3h0M149.3 152.4h0M197.3 203.5h0M191.1 76.7h0M292.6 205.2h0M196.9 66h0M184.1 87.7h0M150.4 102.7h0M258 205.4h0M181.5 103h0M248.8 262.7h0M215.6 206.3h0M175.5 151.6h0M310.7 210.5h0M173.9 95.4h0M264.7 69.5h0M176.3 92.6h0M181.9 110.8h0M115.1 171h0M337.6 189h0M316.5 121.3h0M338.5 157.3h0M323.8 138.5h0M279.4 85.2h0M213.4 63.3h0M228 234.9h0M133.2 148.8h0M182.8 155.7h0M187.3 138.7h0M241.1 269.8h0M175.2 107h0M215.6 206.1h0M305.5 90.2h0M138.5 108.3h0M245.1 252.4h0M227.6 220.2h0M137.4 119.5h0M167.2 87.7h0M183.5 145h0M150.5 192.8h0M127.5 184.3h0M315.8 121.5h0M144 103.7h0M204.1 206.6h0" stroke="#FF3300"/>
<path d="M199.2 72.2h0M118 173.4h0M216.3 207.6h0M151.6 190.2h0M324.1 107.4h0M303.8 246.4h0M230.8 222.9h0M288.9 204.5h0M178.4 183.5h0M243.4 268.3h0M260.5 204.4h0M214.5 68.1h0M188.6 198.4h0M277.3 273.6h0M176.9 174.4h0M267 212.9h0M340 181.9h0M260.3 207.6h0M249.8 216.6h0M116.9 156.9h0M160.6 118.3h0M298.6 283.3h0M159.9 180.1h0M323 206.9h0M286 209.4h0M178.7 98.3h0M320.2 109h0M178.4 91.3h0M230.3 211.3h0M235.9 245.7h0M318.3 114.1h0M251.7 57.8h0M173.4 72.2h0M176.6 175.3h0M314 210.9h0M339.4 183.5h0M314.5 122.2h0M241.7 72.7h0M167.4 182.2h0M269.9 72.6h0M185.9 68.8h0M334.3 142.2h0M234.6 212.5h0M308.3 104.4h0M119.1 163.7h0M298 210.8h0M291.7 206.6h0M286 270.9h0M235 240.4h0M180.9 136.7h0M329.2 201.8h0M291.9 264.5h0M305.7 217.2h0M273.6 210.9h0M231 217.7h0M158.2 178h0M249.2 207.1h0M157 179.3h0M261 208.7h0M240.5 213.7h0M290.7 206.1h0M240.7 66.7h0M177.8 86.6h0M202.2 70.7h0M219.6 72.5h0M221.7 208.2h0M205.9 68.8h0M182.9 193.4h0M333.1 231.6h0M231.9 216.5h0M318.6 239.1h0M182.8 103.8h0M155.8 103.7h0M331 150.9h0M318.3 225.9h0M183.7 168.6h0M122.1 177.3h0M245.7 208.1h0M265.6 283.1h0M181.9 126.2h0M178.1 159.9h0M179.9 163.5h0M294.2 206.7h0M160.3 87.4h0M250.9 279.6h0M143.6 182.9h0M237.5 208.9h0M299.8 207.4h0M154.1 106.1h0M234.1 213.6h0M179.1 121.7h0M160.7 102.3h0M339.3 144.7h0M305 206.9h0M139.3 126.8h0M309.8 208.1h0M261.9 208.4h0M241.8 68.3h0M117.8 169.3h0M241.2 213h0M179.7 187.7h0M116.4 171.3h0M178.7 163h0M219.4 211.6h0M176.8 156.3h0M244.2 249.3h0M179.5 176.8h0M257.2 285.8h0M337.2 190.9h0M183.8 152.8h0M185.2 154h0M158.1 90.1h0M123.2 122h0M179.4 189.1h0M338 146.6h0M239.7 238.9h0M235.6 211h0M229.2 231.9h0M235 244.6h0M300 211.2h0M117.6 121.1h0M316.4 115.2h0M250.2 261.6h0M179.6 104.1h0M166.2 181.8h0M181.4 87.4h0M262.2 281.9h0M332.4 158.9h0M120.6 161.9h0M319.7 206.2h0M266.7 208.7h0M179.3 159.9h0M281 82.4h0M178 167.4h0M278.7 79.2h0M337.2 166h0M333.8 139.8h0M335.3 194.6h0M153.9 103.4h0M316.3 210.4h0M117.9 154.6h0M314.6 207.6h0M244.2 277.6h0M315.7 118.1h0" stroke="#FF3300"/>
<path d="M220 301.9h0M256.9 277.9h0M153.6 172h0M241.1 260.3h0M167 133.5h0M165.7 124.6h0M240.3 218.7h0M218.8 290.9h0M174.9 111h0M243.3 286.1h0M139.9 156.1h0M236.3 283h0M152.5 121.8h0M128.6 191h0M106.1 150.9h0M232.6 239.7h0M221.2 225.7h0M109.9 189.1h0M171.4 272.3h0M176.5 172.2h0M107.7 178.9h0M126.7 181h0M175.1 108.1h0M138.7 189.9h0M233.6 245.3h0M246.8 278.2h0M144.5 192.1h0M167.7 186.9h0M199.7 308.1h0M167.8 81.9h0M188.8 209.2h0M110.4 174.1h0M115.4 198.6h0M130.1 149.5h0M146.5 187.8h0M140.1 142.7h0M171.8 187.6h0M223 296.9h0M167.7 169.2h0M223.8 226.1h0M177.3 122.6h0M161 163.5h0M170.5 143.1h0M191.3 206.4h0M150.5 120.6h0M138.1 243.9h0M239.5 267.4h0M214.4 292h0M163.7 179.7h0M211.5 289.6h0M283.1 238.3h0M225.6 218.6h0M176.1 191.4h0M111.4 159.1h0M184.4 199.4h0M162.1 87.1h0M129.6 120.2h0M175.8 91.3h0M143.2 121.6h0M181.3 146.5h0M126.3 189.2h0M143 193.3h0M236.7 262.9h0M126.2 227.7h0M260 287.4h0M156.1 261.5h0M200.5 210.5h0M163 168.6h0M174.9 85.6h0M114.1 198h0M238.9 263.6h0M124.4 132.9h0M224.2 214.7h0M150.7 189.7h0M204.5 210.6h0M118.5 212.4h0M133.4 169.2h0M122.8 140.4h0M134.5 140.6h0M154.5 183.1h0M238.9 290.3h0M144.5 195.7h0M212.2 293h0M240.1 257.4h0M118.2 153.5h0M223.1 239h0M118.6 156.1h0M134.7 247.2h0M250.7 220h0M188.6 205.8h0M197.4 210.3h0M161.6 188.2h0M216.7 213.8h0M172.5 187.7h0M320.3 226.6h0M167.6 273.7h0M128 181.2h0M318 211.9h0M114.5 217.9h0M141.6 255h0M242.7 255.6h0M318.5 230.2h0M234.3 272h0M138.5 246.6h0M159.4 134.2h0M179.1 278.8h0M113.1 206.2h0M177.8 121.5h0M234.6 274.1h0M280.4 212.7h0M283 269.3h0M145.9 83.3h0M232.6 248.7h0M241.6 254.2h0M173.9 183.3h0M176.7 108.4h0M146.5 188.4h0M116.5 196.9h0M291.2 243.3h0" stroke="#0000CD"/>
<path d="M155.7 117.8h0M149.1 157.8h0M301.3 257.2h0M152.4 257.1h0M158.4 190.8h0M147.4 179.9h0M244.1 221h0M134.8 104h0M237.4 261.1h0M139.5 195.8h0M177.5 108.6h0M138.4 191.9h0M317.6 240.9h0M172.3 274.6h0M154.4 123.9h0M156.6 146.4h0M203.9 211.1h0M148.9 187.1h0M179.2 139.1h0M135.8 193.8h0M223.9 219.2h0M115.5 176.6h0M222 233.2h0M236.6 263.2h0M146 127.6h0M217.4 213.6h0M131.8 190.1h0M109.7 118h0M154.4 192.5h0M297.2 254.6h0M228 291.1h0M156.4 190h0M133.6 190.4h0M127 188.9h0M165.8 188.8h0M145.4 121.2h0M175.8 181.5h0M242.1 275.1h0M211.9 209.7h0M194.4 205.6h0M129.7 159.9h0M172.7 104.3h0M175.9 191.8h0M136.3 114h0M231.2 245.7h0M222.4 222.8h0M146.1 257.8h0M242.6 253.2h0M178.2 193.4h0M153.6 195.1h0M99 172.9h0M125 129.2h0M94.8 173.6h0M149.7 178.6h0M179.9 140.4h0M174.6 90.1h0M182.7 285.7h0M133.7 148.5h0M221.5 215.3h0M160.8 143h0M253.7 284h0M112.1 115.3h0M171.4 189h0M124.3 147.3h0M140.5 247.7h0M226.7 297.3h0M185.5 204.5h0M90.7 177.8h0M155.4 192.4h0M169.8 183.7h0M133.5 142.4h0M230.3 251.4h0M173.6 277.5h0M242.3 274.7h0M176.6 136.9h0M143.3 196.3h0M304.7 222h0M322.6 212.8h0M233.4 293.5h0M189.5 204.1h0M109.2 177.1h0M103.8 126.3h0M161.1 184.9h0M243.3 262.9h0M242.1 279.1h0M111.8 179.8h0M219.7 216.1h0M237.6 260.9h0M179.2 129.2h0M244.3 281h0M283.3 231.1h0M116.8 204.6h0M231.1 247.6h0M163.5 103.1h0M239 264.3h0M143.6 130.1h0M107.2 120.5h0M134 118.5h0M296.5 260.2h0M196.5 211.4h0M238.5 251.7h0M219.5 215.6h0M176.4 173.4h0M210.7 213.9h0M170.2 124h0M92.8 189.5h0M114.3 172.5h0M169.2 82.5h0M163.2 163.3h0M164.9 184.1h0M320.1 234.8h0M194.3 285.4h0M227.5 296.6h0M103.1 190.9h0M149.5 192.1h0M104.5 179.8h0M226.4 243.1h0M146.6 189.3h0M156 188h0M316.6 264h0M143.8 148h0M151.9 189.9h0M261.4 281.8h0M174 172.6h0M113.8 178.5h0M177.8 110.6h0M177.9 140.3h0M110.7 169.1h0M154.4 192.3h0M128.8 183.1h0M150.6 263.8h0M176.2 186.1h0M278.3 231h0" stroke="#0000CD"/>
<path d="M120.6 129.3h0M152 153.7h0M230.7 209.7h0M177.8 98.9h0M225.5 227.9h0M316.1 121.4h0M181.5 134.7h0M176.9 151.4h0M304.9 210.6h0M273.2 204.9h0M240.4 279.4h0M294.1 88.4h0M179.8 113.3h0M325 138.2h0M180.5 132.9h0M180.5 180.3h0M179 183.7h0M276.1 214.9h0M260.3 212.9h0M120.5 128.6h0M143.3 169.8h0M227.2 230.6h0M303.9 246.7h0M278.5 212.9h0M335.7 167.6h0M175.9 164.1h0M240.3 214.1h0M236.3 215.6h0M155.8 96.9h0M179.4 108.4h0M298.5 209h0M117.4 170.4h0M278.6 204.9h0M216.8 206.5h0M291 208.8h0M335.3 146.9h0M319.8 206.5h0M231.3 212.4h0M312.2 210.3h0M304.7 102.8h0M181.5 87.8h0M188.4 202.6h0M316.5 125.8h0M161.5 176.9h0M175.6 120h0M175.7 99h0M171.9 151.1h0M238.3 212.9h0M169.9 101.7h0M158 159h0M164.7 154.5h0M267.3 211.3h0M183.2 88.3h0M243.6 269.2h0M262.9 265.8h0M317.9 101.9h0M280.1 267h0M183.4 148.9h0M183.8 145.9h0M159.1 181.2h0M273.4 214.4h0M237.8 210.3h0M226.9 210h0M263 213.6h0M221.6 212h0M140.5 174.1h0M185.1 84.6h0M336.6 213.6h0M249.4 255.2h0M122.3 174.5h0M175.1 160.8h0M276.7 209.5h0M216.1 206.5h0M246.6 252.9h0M144 189.9h0M179.3 110.8h0M335.6 174.4h0M314 230.8h0M181.1 156.2h0M337.2 190.9h0M331.9 194.4h0M180.1 136.9h0M232.6 213.6h0M183.6 98.5h0M172.9 97.3h0M302.2 255.8h0M263.5 286.6h0M291.5 204.5h0M179.6 100h0M257.3 282.9h0M262.4 212.4h0M289.7 264.9h0M160.8 86h0M224.7 225.2h0M177.3 125h0M293.1 205.7h0M340 157.8h0M336.7 158.8h0M265.9 214.1h0M333 191.9h0M137.1 126.8h0M320.1 130.6h0M255.3 70.7h0M317.8 121.2h0M181.4 162.5h0M242 275.8h0M255.5 213.7h0M332.1 195.4h0M332.3 143.2h0M300.5 96.3h0M248.5 252.6h0M279.8 223.8h0M289.1 268.1h0M184.3 149.2h0M336.9 189.4h0M268.1 211.3h0M121.7 123.7h0M222.3 210.1h0M247.5 252.1h0M329.9 202.2h0M180.4 109.1h0M269.5 208.7h0M181.7 179.7h0M295.1 205.8h0M319.8 211.4h0M178 147.5h0M287.8 250.6h0M182.6 95.1h0M297.2 208.7h0" stroke="#FF3300"/>
<path d="M184.2 76.8h0M311.6 206.1h0M306.3 93.3h0M333.3 149.7h0M159.7 183.6h0M244 264h0M313 108.1h0M340 181.9h0M124.4 166.6h0M279.7 80h0M297.2 81.2h0M184.2 78.7h0M273.9 82.9h0M322.2 217.2h0M189.8 78.9h0M336.5 172.3h0M315.2 108.1h0M210.3 207h0M183.5 96.1h0M158.2 129.7h0M257.7 242.8h0M294.1 206.5h0M162.3 135.5h0M320.9 206.6h0M182.6 78.3h0M183.8 174.5h0M281.1 208.5h0M295.8 214h0M320.2 214.8h0M184.1 138.3h0M116.1 160.9h0M318.2 112.3h0M336.2 162.5h0M331.7 253.6h0M112.9 170.2h0M263.4 282h0M138.8 179.6h0M187.7 140.6h0M173.5 169h0M230.3 61.2h0M294.6 88.5h0M332.9 172.9h0M222.3 210.1h0M184.6 130.8h0M181 132.7h0M160.3 119.2h0M116.1 174.6h0M324.6 212.9h0M219.6 209.4h0M323.4 228.8h0M322.6 135.6h0M181.1 169h0M136.9 154.9h0M228 236.5h0M324.5 211.2h0M310.4 244.8h0M289.6 84.4h0M184.4 159.6h0M213.2 206h0M243.8 285h0M269.4 212.6h0M155.5 188h0M285.4 249.8h0M182.9 109h0M143.8 99.4h0M182.3 83.6h0M264.7 245h0M140.7 125.9h0M118.2 145h0M181.1 92.6h0M163.3 103.9h0M301 255.2h0M146.1 163.7h0M315.6 209.7h0M128.6 117.8h0M240 293.6h0M286.7 82.8h0M157.4 108.6h0M178.8 97.3h0M317.6 127.7h0M178.1 155.2h0M151.8 112.9h0M328.1 141.9h0M225.6 212.4h0M261.1 210.2h0M192.5 76.6h0M308.1 204.8h0M273.4 205.4h0M173.7 122.7h0M185.3 81h0M248.2 254.4h0M290 251.4h0M228.1 234.2h0M282.4 85.5h0M306.6 207.1h0M172.3 99.2h0M185.8 147.4h0M176.6 158.8h0M230.9 69.2h0M180.1 98h0M268.8 207.3h0M325.5 142.9h0M138.8 172.3h0M183.8 163.9h0M183 113.8h0M182.1 187.7h0M204.8 203.8h0M120.5 130.5h0M175.4 130.2h0M235.2 243.8h0M227.3 213.1h0M286.4 207.5h0M182.6 116.9h0M178.3 158.4h0M143.4 171h0M294.4 212.1h0M314.7 227.8h0M115.8 154.1h0M207.8 207h0M229.8 235.7h0M318.4 139h0M206.2 205.4h0M262.6 274.6h0M292.2 265.2h0M292.3 206.8h0M273.5 206.3h0M202.4 76h0M228.6 62.6h0M240.7 249.8h0M279.3 82.6h0M236.4 247h0M333.3 166h0M317.5 205.8h0M281.9 216.7h0M239.3 67.1h0M301.4 260.5h0M310.4 233.6h0M193 73.1h0M253.5 71.2h0M183.9 150h0M238.8 238.5h0M271.1 213.3h0M207.1 74.5h0" stroke="#FF3300"/>
<path d="M222 234h0M174.2 181.6h0M121.8 221.5h0M180.2 196h0M154.8 106.9h0M253.8 214.8h0M108.1 184.8h0M161.4 179.5h0M195.9 207.2h0M155.3 181.4h0M298.1 261.4h0M99.7 131.6h0M178.8 140.9h0M240.6 253.1h0M169.9 190.3h0M258.8 249h0M173.3 115.2h0M159.8 139.8h0M221.9 229.1h0M140 144.9h0M114.9 212.6h0M123 222.9h0M192.2 209.2h0M165.9 112.8h0M184.6 286h0M175.8 156.9h0M227.9 248h0M285.4 210.2h0M151.4 124.1h0M125.3 189.8h0M161.6 273.5h0M132 171h0M177.5 123.3h0M237.2 271.5h0M118.3 257.3h0M201.2 212.5h0M110.7 218.4h0M121.1 154.1h0M123 185.2h0M116.1 175.9h0M172.9 84.7h0M124.2 173.5h0M219 304h0M113.9 213.6h0M134 185.6h0M226.7 242.1h0M121 101.9h0M180.5 194.6h0M187.8 207.3h0M164.6 188.2h0M130.7 158.8h0M187.8 206.2h0M116.2 141.2h0M163.5 272.4h0M218.4 212.8h0M234.7 254.2h0M351 155h0M177.4 195.5h0M140.2 111.6h0M277.2 266.6h0M177.7 195h0M123.2 227h0M175.6 137.6h0M223.6 240.8h0M243.3 218.1h0M257.5 284.6h0M176.7 111.5h0M179.9 198.5h0M90.7 177.8h0M151.1 264.8h0M171.7 110.6h0M201.7 291.8h0M216.2 293.7h0M136.9 257.3h0M161.4 90.8h0M297.7 256.4h0M154.2 189.9h0M197.2 210.7h0M173.3 188.5h0M324.2 223.2h0M308.2 223.3h0M189.9 287.6h0M292.4 246.3h0M176.7 276.5h0M156.5 185.7h0M162.6 157.6h0M256.1 286.9h0M165.1 143.1h0M140.4 195h0M177.7 127.6h0M219.3 224.6h0M223.3 217.7h0M147.1 116.4h0M342.8 230.9h0M159.2 188.8h0M124.2 131h0M175.8 277.7h0M143.8 173.6h0M115.5 123.3h0M290.1 236.1h0M224.4 226h0M203.9 210.9h0M170.9 135.5h0M126.6 257.3h0M123.2 183h0M170.9 182.3h0M282.7 235.3h0M237.4 246.9h0M221.6 225.3h0M176.9 153h0M152.5 117.4h0M168.6 77.1h0M241.3 215.6h0M241.4 288h0M176.5 280.1h0M151 144.8h0M147.1 140.2h0M210.4 214.3h0M288.2 215.3h0" stroke="#0000CD"/>
<path d="M280.4 275.8h0" stroke="#0000CD"/>
<path d="M174.2 230.2h0" stroke="#FF3300"/>
<path d="M190.8 282.7h0" stroke="#FF3300"/>
<path d="M305.2 144.7h0" stroke="#0000CD"/>
<path d="M280.4 176.4h0" stroke="#0000CD"/>
</g></g>
<g transform="translate(393.2 1409.5)">
<use href="#fr"/>
<text class="k" transform="translate(135.8 354.2) scale(0.98 1.04)" text-anchor="middle">-5</text><text class="k" transform="translate(66.4 270.8) scale(0.98 1.04)" text-anchor="end">-5</text><text class="k" transform="translate(207.1 354.2) scale(0.98 1.04)" text-anchor="middle">0</text><text class="k" transform="translate(66.4 203.1) scale(0.98 1.04)" text-anchor="end">0</text><text class="k" transform="translate(278.4 354.2) scale(0.98 1.04)" text-anchor="middle">5</text><text class="k" transform="translate(66.4 135.3) scale(0.98 1.04)" text-anchor="end">5</text><text class="k" transform="translate(349.6 354.2) scale(0.98 1.04)" text-anchor="middle">10</text><text class="k" transform="translate(66.4 67.6) scale(0.98 1.04)" text-anchor="end">10</text><text class="a" transform="translate(223 388) scale(0.97 1.04)" text-anchor="middle">x1</text><text class="a" transform="translate(23.3 182.3) rotate(-90) scale(1.0 1.03)" text-anchor="middle">x2</text>
<text class="t" transform="translate(77.6 23.7) scale(1.0 1.0)">g.ipw</text>
<g fill="none" stroke-width="9.6" stroke-linecap="round">
<g clip-path="url(#mc)">
<use href="#mass" fill="#0000CD"/>
<path d="M95.6 126.8L123.2 88.2L150.8 60.6L172.8 60.6L164.6 102L161.8 124L175.6 143.3L178.3 170.9L150.8 176.4L123.2 162.7L109.4 154.4Z" fill="#0000CD"/>
<path d="M205.9 71.6L205.9 44L261.1 44L316.3 74.4L343.9 124L357.7 159.9L343.9 187.5L343.9 215.1L288.7 209.6L283.2 187.5L269.4 162.7L261.1 137.8L244.6 121.3L222.5 104.7Z" fill="#0000CD"/>
<path d="M288.7 209.6L343.9 215.1L371.4 226.1L332.8 270.2L299.7 297.8L272.1 303.3L239 303.3L228 275.8L233.5 259.2L222.5 242.7L222.5 220.6L222.5 204L244.6 209.6L261.1 226.1L277.7 231.6Z" fill="#FF3300"/>
<path d="M172.8 60.6L205.9 44L205.9 71.6L222.5 104.7L244.6 121.3L261.1 137.8L269.4 162.7L283.2 187.5L288.7 209.6L277.7 231.6L261.1 226.1L244.6 209.6L222.5 204L217 190.2L189.4 183.3L178.3 170.9L175.6 143.3L161.8 124L164.6 102Z" fill="#FF3300"/>
<path d="M205.9 71.6L222.5 104.7L244.6 121.3L261.1 137.8L269.4 162.7L283.2 187.5L288.7 209.6L301.1 202.7L295.6 180.6L281.8 155.8L273.5 130.9L257 114.4L234.9 97.8L218.3 64.7Z" fill="#FF3300"/>
</g>
<path d="M221.8 226.5h0M251.8 117h0M263.8 130.7h0M124.9 161.5h0M142.1 177.5h0M247.1 75.3h0M234.2 282.6h0M139.6 100.2h0M160.1 175.8h0M156.1 170h0M253.1 126.7h0M304.1 138.8h0M336 177h0M297 188.4h0M159.6 91.6h0M234.2 93.1h0M312.2 116.8h0M216.4 193.1h0M220 301.9h0M176.1 280.6h0M301.9 190.6h0M296.3 187.6h0M250.8 283.9h0M301.8 242.3h0M283.7 93.4h0M132.4 160.7h0M260.5 111h0M253.1 230.5h0M221.6 224.6h0M132.9 167.9h0M319.2 146.2h0M270.9 261h0M259.8 116.1h0M259.4 79.7h0M236.3 68.7h0M300.3 185.4h0M222.2 218.4h0M157.9 130.5h0M278 129.9h0M244.4 277.5h0M195.7 188.2h0M257.8 229.6h0M318.5 127.4h0M244.7 117.1h0M222.7 246.2h0M264.8 70.4h0M114.9 213.5h0M260.8 287h0M129.3 147.1h0M221.3 217.1h0M115.2 173.9h0M324.1 107.4h0M156.1 91.5h0M287.9 159.2h0M285.7 160.6h0M285.6 161.2h0M294.7 185.2h0M159.2 164.3h0M283.2 255.9h0M298.7 159.3h0M309.9 101h0M103.1 190.9h0M340 157.8h0M256.5 96h0M284.1 135.7h0M333.1 151.8h0M133.1 163.2h0M276.5 133.3h0M162 96.8h0M167.9 168.4h0M142.8 177.3h0M131.2 161.4h0M225.5 284h0M295.5 181.4h0M125.1 157.8h0M226.8 279.1h0M114.9 210.7h0M223.8 93h0M280.9 229.4h0M287.9 159.7h0M249.2 124.5h0M267.9 143.6h0M242.3 108.1h0M334.7 174.3h0M173.6 281.1h0M251.8 110.1h0M220.5 241.6h0M150.8 263.4h0M248.1 112.8h0M246.1 112.4h0M230.3 61.2h0M211.6 192.7h0M151.1 258.7h0M312.7 245.7h0M223.3 277.7h0M320.8 203.3h0M169.9 139h0M158.9 169.4h0M208 292h0M268 130.4h0M215.5 83.9h0M152.1 151.5h0M138.8 116.2h0M193.8 184.5h0M327.7 211.2h0M144.5 100.2h0M222 225.6h0M115.2 156.2h0M144.9 158.1h0M234.7 87.6h0M136.9 171.2h0M155.7 173.4h0M161.2 94.8h0M296.1 139.7h0M135.5 170.2h0M305.9 251.4h0M157.7 89.8h0M179.3 175.1h0M153.4 172.8h0M142.1 172.3h0M219.2 196.8h0M173.3 143.3h0M331.7 126h0M138.5 106.9h0M139.1 133.9h0M281.8 180.6h0M282.1 231.1h0M250.1 113.1h0M158.7 141.1h0M99 172.9h0M239.4 94.6h0M222.2 239.1h0M318.8 237.7h0M337 189.8h0M111.8 218.8h0M233.9 255.7h0M302.8 94.6h0M250.7 282h0M108.2 180.2h0M255.3 128.5h0M337.2 166h0M255.5 226h0M241 72.1h0M174.6 153.8h0M270.3 241.9h0M147.1 254.8h0M226.8 258.7h0M266.9 120.9h0M124.6 147.4h0M319.2 213.6h0M335.1 142.4h0M216.1 190.1h0M185.8 284.4h0M130.4 162.3h0M165.3 134.6h0M183.8 180.9h0M118.8 142.5h0M331.9 177.7h0M283.9 155.7h0M140.6 153h0M294.2 221.7h0M287.7 187.6h0M126.6 138.7h0M227.3 74.1h0M135 137.2h0M289.4 242.6h0M271.8 162.1h0M251.7 57.8h0M172.7 273h0M186.9 185.1h0M120.6 162.1h0M240.3 67.3h0M104.5 179.8h0M277.5 132.7h0M163 141.5h0M129.8 231.2h0M228.6 62.6h0M141.4 172.7h0M278 280h0M170.1 275.5h0M333.1 191.2h0M333.7 187.1h0M234.9 62.9h0M196 187.3h0M141.8 98.3h0M116.2 141.2h0M303.9 191.9h0M208.6 293.9h0M297.8 205.5h0M127.9 232.8h0M156.3 167.4h0M283.6 156.8h0M271.7 253.2h0M313.2 239.9h0M184 180.6h0M109.7 118h0M225.9 275.6h0M138.2 173.5h0M241.6 112.5h0M190.8 284.3h0" stroke="#0000CD"/>
<path d="M122.3 134.6h0M300.7 89.6h0M229.5 90.1h0M155.8 119.2h0M228.6 274.7h0M280.1 255.1h0M218.9 191.6h0M269.2 229h0M268.2 281h0M318 226.7h0M288.3 202.4h0M188.3 175.4h0M210.9 71.7h0M275 74.7h0M273.2 142.3h0M181.9 169.3h0M176.8 156h0M231.5 95.1h0M180 145.6h0M233.7 113.7h0M321.9 154.9h0M299.3 115.6h0M236 92.4h0M263.8 222.3h0M282.6 211.4h0M252.1 212.8h0M193.3 179.1h0M241.3 247.3h0M294.9 262.8h0M224.4 221.8h0M227.1 90.8h0M252.1 259.9h0M284.4 221.1h0M125.1 162.9h0M261.9 147.1h0M224.4 194.7h0M153.1 101.2h0M265.3 239.3h0M223.7 192.6h0M321.5 222.1h0M124.7 133.7h0M159 152.8h0M305.4 219.8h0M272.6 74.9h0M228.1 245.3h0M180.4 147.6h0M289.1 269.5h0M270.9 166.9h0M288.2 201.2h0M290.8 178.5h0M273.7 152.5h0M286.4 156.7h0M275.8 179.3h0M219.9 94.1h0M157.3 122.4h0M228.7 202h0M239.1 103h0M296 174.2h0M273.3 275.9h0M299.5 198.9h0M138.1 158.9h0M117 144.7h0M174.4 139.8h0M304.9 115.7h0M282.2 187.4h0M182 162.3h0M243.3 94.2h0M166.3 126.6h0M218.5 191h0M250.5 246.1h0M189.6 76.6h0M279.4 194.3h0M286.5 171.5h0M170.6 130.4h0M125.2 128.5h0M240.7 124.3h0M227.2 222h0M224.6 239.4h0M251.4 89.9h0M213.3 69.2h0M152 99.7h0M318.5 169.2h0M215.1 94.2h0M279 85.3h0M253.9 212.8h0M276.9 240.4h0M294.4 175.7h0M223.7 193.7h0M219.6 101.4h0M176.2 160.5h0M272 283.5h0M214.3 90h0M275.3 182.6h0M263.7 241.6h0M280.5 220.5h0M263.7 135.8h0M179.8 163.4h0M239.5 95.4h0M337.5 159.5h0M230.6 95h0M162.9 102.8h0M357.2 217.1h0M169.7 95.5h0M153.9 94.7h0M248.9 212.6h0M121 101.9h0M282.2 184.1h0M271.5 155.1h0M142.3 161.8h0M273.6 175.5h0M331.9 165.3h0M290.6 203.2h0M169.1 130.7h0M182 157.6h0M151.5 158.4h0M285 218.8h0M172.6 135.3h0M212.4 84.6h0M255.6 218.4h0M276.6 147.9h0M227.5 213.9h0M178.7 158.8h0M275.9 180.2h0M151.3 170.7h0M218.6 98.6h0M120.2 152h0M296.7 259.6h0M259.5 72.2h0M288 117.6h0M157.6 169.5h0M276.6 180.1h0M280.4 250.6h0M230.9 88.3h0M166.8 92.4h0M227.8 230.9h0M227.8 215.2h0M270.2 253.3h0M257 132.2h0M239.6 250h0M149.9 119.1h0M215.8 85.9h0M291.9 199.8h0M235.6 219.5h0M160.1 96.4h0M246.7 230.5h0M243.9 208.1h0M232.5 252.8h0M279.2 178.3h0M233 208.6h0M285.1 250.3h0M301.5 109h0M297 214.9h0M210.9 80h0M170.4 129.4h0M304.2 114.4h0M160.4 95.4h0M206.7 82.7h0M296 266.5h0M272.5 227.4h0M275.6 139.5h0M243.7 219.3h0M270.5 142.1h0M163.3 160.3h0M222.3 100.8h0M237 121h0M239 206.4h0M284.4 149.4h0M218.7 97.7h0M211.3 76.6h0M287.7 218.1h0M261.5 143.4h0M225.6 84.2h0M282.9 223.1h0M264.8 124.3h0M149.4 169.8h0M159 160.7h0M286.9 261.7h0M142.3 129.5h0M179.9 159.7h0M262 283.5h0M173.6 157.5h0M226.8 83.5h0M174.2 166.9h0M266.1 138.4h0M304.3 254.7h0M255.7 221.2h0M165.7 169.6h0M168.6 88.4h0M208.8 72.2h0M143.2 138.8h0M177 167h0M269.6 260.8h0M164.2 116.9h0M274.7 169.8h0M234.4 250.9h0M279.2 248.6h0M170.4 129.7h0M244.9 122.1h0M277 137.9h0M278.6 266.4h0M252.5 209.8h0M249.1 214.2h0M233.6 114.8h0M281.4 184.2h0M293.5 206.6h0M130.7 120.6h0M273.7 80h0" stroke="#FF3300"/>
<path d="M241.8 276.1h0M231 276.2h0M274 282.4h0M316.9 229.5h0M126.6 162.6h0M227.8 224.9h0M270.8 227.1h0M280.7 261h0M216.1 98.7h0M144.5 135.7h0M296.8 209.5h0M294.5 245.3h0M292.3 258.8h0M244.3 242.6h0M207.7 186.5h0M157.8 172.3h0M280.4 239.2h0M256 218.2h0M151.1 165.7h0M285.2 173.7h0M160.2 104.4h0M172.6 136.3h0M318.2 221.9h0M279.6 175.8h0M174.3 138.7h0M281.2 141.4h0M242.2 229.4h0M226.7 224.8h0M237.2 236.7h0M252.5 270.7h0M316.7 216.4h0M236.3 97.7h0M145.2 153.8h0M313.8 133.3h0M287.8 194.4h0M243.5 117.9h0M127.9 130.5h0M281.9 231.4h0M159 123.5h0M296.7 260h0M286.7 202.1h0M264.6 139.7h0M245.3 239.4h0M247.5 206.3h0M325.7 221.1h0M244.6 102.3h0M259.6 120.4h0M246.3 127.6h0M210.4 81.6h0M298.9 210.7h0M310.3 131.1h0M258.1 223.8h0M168.8 99.2h0M127.5 120.8h0M252.9 77.8h0M259.9 240.1h0M204.5 182.2h0M299 245.1h0M290 204.2h0M249.6 132.3h0M186.6 173.4h0M226.2 101.3h0M293.4 214.7h0M271.6 152.3h0M233.5 223.9h0M250.5 257.4h0M317.9 225.2h0M157.6 88h0M246.4 101.5h0M176.6 160.6h0M238.4 83.7h0M329.3 202.3h0M139.7 117.2h0M279.7 223.6h0M208.5 183.5h0M284.3 210.8h0M219.8 106.3h0M164.8 111.3h0M112.1 115.3h0M240.4 115.3h0M216.5 82.4h0M241 204.6h0M240.1 275.2h0M265.7 156.9h0M333.2 166.2h0M209.4 187.4h0M272.4 227.9h0M242.3 118.2h0M227.6 231.7h0M233.4 259.8h0M278.4 179.9h0M321.2 223.9h0M115.5 123.3h0M226 205h0M240.4 103.1h0M204.2 71.4h0M127.9 140.5h0M165.1 86.9h0M240.5 124.6h0M176.3 145h0M232.8 254.7h0M233.9 118h0M242.7 109.1h0M258.9 138.6h0M143.1 144.4h0M244.9 128.8h0M182.6 169.4h0M279.8 181h0M164.9 133.1h0M169.6 104.6h0M135.6 111.6h0M318.6 239.1h0M258.3 146.4h0M318.2 151.6h0M275.5 274.7h0M270.7 226.6h0M294.8 167.3h0M166 92.3h0M295.6 108.7h0M260.9 256h0M117.5 152h0M243.2 233.6h0M165.7 124.8h0M144.8 134.4h0M161.9 94.3h0M303.3 206h0M264.4 285.3h0M278.2 271.7h0M324 225.1h0M238.9 106.3h0M272.7 169.8h0M284.2 196.3h0M291.6 264.4h0M163 97.1h0M259 221.4h0M161.5 107.5h0M226.1 234.4h0M171.5 168.9h0M258.1 222.6h0M271.6 250.1h0M229.4 94.3h0M274.5 276.3h0M115.2 149.2h0M304.7 232h0M235.9 205h0M209.5 74.5h0M273 281.6h0M169.3 88.7h0M324.9 224.8h0M327.8 214.6h0M231.5 250.3h0M228.5 111.2h0M233.7 95.8h0M240 124.7h0M261.6 225.8h0M282.3 187.4h0M243.9 250.5h0M290 194.2h0M224.1 209.6h0M257.3 103.4h0M215.4 188.6h0M277.9 150.7h0M325.8 219.1h0M211.2 91.6h0M272.4 160.5h0M241.5 225.7h0M232.4 114.8h0M245.8 242.6h0M204.7 181.8h0M222.1 106h0M162.4 111.5h0M218.4 102.3h0M236 101.4h0M243.2 106.1h0M255.4 270.6h0M268.3 278h0M176.8 151.1h0M207.5 185.2h0M138.7 164.6h0M152.2 119.7h0M166.8 109.6h0M235.6 254.2h0M284.9 201h0M267.2 267.6h0M173.7 139.4h0M231.1 117.1h0M287 181.1h0M232.6 111.8h0M333.1 231.6h0M271.1 226h0M288.1 179.8h0M257.4 227h0M283.1 152.1h0M298.6 283.3h0M149.3 141.3h0M242.1 206.7h0M166.9 97h0M238.3 100.7h0M270.8 224.7h0M223.6 195.6h0M271.5 78.2h0M238.7 223h0M135.3 141.9h0M174.9 147.5h0M282 158.3h0M280.5 192.8h0M225.6 112.6h0M239.6 94.8h0M231.1 211h0M272.3 78.1h0M259.5 114.1h0M153.7 142.3h0M337.5 182.8h0" stroke="#FF3300"/>
<path d="M262.4 138.6h0M231.2 207h0M264.6 285h0M142.7 118.7h0M313.2 208.9h0M228.2 73.8h0M236.5 92h0M307.8 99.9h0M297.5 136.9h0M154.2 265.5h0M290.7 229.9h0M136.2 111.1h0M298.6 182h0M317.9 101.9h0M155.5 174.2h0M252.6 120.9h0M227.2 252.4h0M178.4 281.8h0M283.5 222.4h0M232.1 90.1h0M294.4 183.8h0M186.3 185.9h0M323.4 143.5h0M217.8 193.7h0M165.8 270.6h0M136.9 160.4h0M255 112.3h0M129.2 128.7h0M306.3 207.8h0M310.1 207.4h0M250.2 280.1h0M118.3 257.3h0M168.6 77.1h0M278.3 135.7h0M131.9 242.6h0M266.2 68.1h0M191.4 186.9h0M319.9 127.1h0M221.6 237.4h0M297.7 188.6h0M351 155h0M141.6 111.7h0M287.2 156.8h0M194.9 287h0M222 215.3h0M218.9 246.5h0M238.8 292.5h0M218 209.7h0M135.6 244.6h0M114.9 173h0M335.2 154.8h0M123.8 160.2h0M221.8 91.9h0M289.2 165.3h0M139.9 114.8h0M248.9 70.5h0M315.8 208.3h0M299.6 97.4h0M224.7 89h0M288.3 187.2h0M231.6 67.3h0M270.1 72h0M111.4 159.1h0M313.6 185.3h0M162.3 131.6h0M290.4 252.2h0M277.6 86h0M267.6 141.5h0M218.6 228h0M334.8 191.5h0M228 261.2h0M237.2 99h0M226.3 76.4h0M242.8 210.7h0M168.7 173.7h0M288 182.7h0M228.3 257.3h0M263 230.3h0M301.6 138.7h0M172.3 277.8h0M294.3 178.2h0M302.2 158.9h0M221.8 94.2h0M216.2 192h0M337.2 190.9h0M292.2 136.6h0M148.1 175.7h0M311.1 118.7h0M110.7 218.4h0M169.2 146h0M138.9 108.9h0M265.4 283.7h0M213.4 63.3h0M286.9 215.9h0M241.2 70.8h0M297.4 184.7h0M227.3 264.4h0M267.9 114.7h0M128.6 117.8h0M222.3 232.7h0M217.1 196.5h0M298.2 93.6h0M125.1 234.5h0M90.7 177.8h0M261.7 133.3h0M242.5 107.6h0M283 150.1h0M262.9 135.2h0M291.3 233.1h0M115.3 190.7h0M128.4 160.9h0M324.2 203.1h0M283.2 132.2h0M316.6 264h0M226.9 271.3h0M260.1 67.8h0M332.5 169.9h0M254.9 106.3h0M282.7 168.5h0M127.7 236.6h0M304.9 242.7h0M267.3 254.5h0M334.1 199.6h0M230.6 82.7h0M296.5 178.5h0M289.5 118.3h0M290.5 119.5h0M262.6 140.8h0M224.8 87.3h0M167.2 154.3h0M142.8 145.9h0M279.6 280.1h0M140.4 99.2h0M206.8 190.2h0M114.3 163.5h0M284.7 165.6h0M275.6 259.6h0M159.8 91h0M249.1 112.5h0M233 244.3h0M279.3 82.6h0M295.7 176.9h0M151.3 114.8h0M140.1 157.6h0M214.4 291.5h0M298 189.4h0M226.9 271.3h0M215.5 293.4h0M226.3 269h0M129.6 162.2h0M294.5 186.9h0M250.4 281.6h0M260 287.4h0M287 193.7h0M248 113.6h0M310.7 115.6h0M336.8 182.1h0M249.7 275.4h0M244.9 279.6h0M99.7 131.6h0M255.2 106.5h0M230 92.9h0M308.5 225.7h0M221 297.1h0M283.8 220.2h0M161.5 104.1h0M267.3 69.6h0M263.3 127.1h0M221.9 74.1h0M305 103.4h0M323.7 161.5h0M216.7 288.5h0M165.1 129.7h0M281 153.4h0M133.3 170.6h0M336.4 165.9h0M106.1 150.9h0M325.3 164h0M222.2 93.3h0M170.8 157.2h0M313.5 183.5h0M328.2 148.1h0M271.4 163.4h0M274.8 74.5h0M206.4 187.9h0M294.9 231.8h0M125.3 151.2h0M267.2 267.6h0M260.5 111h0M140.7 105.2h0M312.3 208.5h0M144.1 167.7h0M335.6 177.2h0M152 262.4h0" stroke="#0000CD"/>
<path d="M221.7 203.7h0M194.3 286.2h0M226.7 82.6h0M301.9 200h0M279.5 158.1h0M246.8 251.1h0M137.8 114.5h0M161.9 270.5h0M311.7 263.3h0M122.4 267.7h0M183.3 183.9h0M134.8 104h0M302.1 188.6h0M123.7 229.9h0M170.8 146.4h0M219.6 201.9h0M220.7 89.5h0M222.5 233.2h0M245.3 213.3h0M144.5 118.4h0M115.5 245.3h0M157.1 132.5h0M301.3 183.8h0M274.5 165.8h0M249.7 72.6h0M342.8 230.9h0M269.6 126.7h0M242.7 78.2h0M234.4 85.3h0M115.6 190.3h0M238.1 288h0M130.9 164.5h0M334.7 171.7h0M207.1 188.4h0M317 128.4h0M288.3 130.8h0M306.4 210.4h0M307.6 98.3h0M253.3 96.3h0M186.8 286.5h0M237.3 269.8h0M281.4 236.4h0M265.4 117h0M240.7 66.7h0M285.9 225.6h0M155.3 172.5h0M161.4 146.2h0M330.9 210.1h0M268.5 274.9h0M274.5 74.8h0M172.7 158.4h0M127.2 147.7h0M226.7 85.8h0M220.8 244.4h0M217.6 243.7h0M109.7 178.6h0M224.4 280.1h0M328 201.2h0M217.6 192.9h0M317.6 116.7h0M174.7 173.9h0M140.8 175.5h0M265.2 121.4h0M234.4 293.3h0M227.5 206.4h0M126.1 130.7h0M228.2 271.7h0M141.7 168.6h0M235.7 94.6h0M282.7 229.8h0M218.9 70.9h0M258.5 131.7h0M280.6 181.8h0M339.3 144.7h0M134.8 149.3h0M160.2 96.7h0M142.5 249.1h0M308.4 208.9h0M282.3 157h0M295.4 185.2h0M312.7 215.7h0M315.1 192.2h0M219.6 210.6h0M149.7 77.5h0M290.9 124.9h0M232.8 259.1h0M235 287.8h0M218.2 219.3h0M154.8 134.1h0M299.2 180.7h0M103.1 190.2h0M252.9 103.7h0M154.6 179.1h0M215.7 67.1h0M232.8 92.2h0M142.6 149.7h0M333.8 139.8h0M306 210.8h0M107.9 181.3h0M295.8 191.2h0M189.4 186.6h0M300.6 124h0M272.1 164.6h0M226.3 71.6h0M216.5 54.3h0M118.6 202.7h0M150.9 178.1h0M339.2 182.5h0M224.7 252.9h0M274.1 126.4h0M241.9 210.8h0M313.6 242.3h0M176.7 168.5h0M234.1 110h0M222.6 233.4h0M121.4 139h0M161.1 176.6h0M215.5 198.1h0M243.9 102.1h0M163.2 270.1h0M137.5 119.9h0M297.2 81.2h0M336.2 194.5h0M94.8 173.6h0M206 288.9h0M140.2 149.7h0M92.8 189.5h0M229.8 250.9h0M224.8 269.5h0M261.9 132.6h0M223 232h0M247.8 70.9h0M182.7 181.9h0M243 103.9h0M320.3 138.9h0M330.8 149.5h0M162.8 131.2h0M158.8 178.7h0M254 229.4h0M117.8 219.5h0M229.4 77.9h0M256.4 120.5h0M116.1 171.7h0M141.5 144.5h0M217.3 199.2h0M330.3 169.3h0M128.1 138.7h0M224.3 207.7h0M188.3 186.4h0M333.8 204.7h0M279 158.7h0M332 147.1h0M262.7 112.7h0M316.8 222.2h0M307.3 219.3h0M167.3 136h0M278.9 84.5h0M170 272.6h0M262.7 80.1h0M230.3 264.3h0M118.2 144.3h0M118.9 227.8h0M116 209.9h0M122.4 224.2h0M331.4 191.5h0M316.5 199.4h0M298.5 201.5h0M173.7 176.8h0M268.7 125.1h0M319.3 196.6h0M126.6 257.3h0M226.9 276.3h0M269.2 122.4h0M333.5 193.6h0M157.1 261.9h0M160 97h0M221.7 245.2h0M219 304h0M286.1 236.2h0M304.3 217.5h0M251.9 104.8h0M166.2 135.2h0M292.7 227.6h0M287.8 191.3h0M241.2 69.3h0M265.9 115.2h0M301.4 260.5h0M235.8 69.9h0M325.1 184.3h0M161.9 126.5h0M266.4 131.4h0M140.9 118.5h0M90.7 177.8h0M141.3 113.9h0M302.4 198.7h0M92.8 189.5h0" stroke="#0000CD"/>
<path d="M275.8 230.9h0M175 137.5h0M236.8 119.9h0M257.1 129.7h0M240.3 104.5h0M259.1 123.7h0M133.4 157.9h0M206 78.7h0M149.2 95.9h0M215.1 84.6h0M207.7 80.8h0M245.3 250.8h0M287 189.3h0M275.1 87.3h0M235.4 234.9h0M266.1 140.9h0M265 229.7h0M208 80h0M224.4 236.6h0M258.8 278.7h0M269.3 233.3h0M223.7 195.9h0M218.3 185.9h0M246.9 128.1h0M216.3 102.2h0M211 77.4h0M241.8 114.2h0M278.8 171h0M289.6 217.8h0M284.3 273.5h0M254 218.3h0M167 90.8h0M236.6 262.9h0M224.1 206.4h0M150.8 92.7h0M282.6 216.5h0M303.2 202.6h0M282.9 142.4h0M229.2 98h0M278.1 80.4h0M259.3 261.6h0M269.5 278.5h0M114.9 153.1h0M277 156.8h0M235.2 232.7h0M128.4 162.8h0M294.6 266.2h0M241.5 203.2h0M270.9 170.8h0M280.4 188h0M259.3 104.5h0M288.9 99.5h0M119.2 156.6h0M244.6 108.8h0M260.2 121.3h0M224.5 108.5h0M322.6 167.6h0M233.1 216.7h0M336.1 158.6h0M284.2 256.7h0M310 245.8h0M191.5 183.5h0M181.7 161.7h0M242 241.6h0M138.4 131.1h0M260.5 237.5h0M217.1 106h0M333.9 198.9h0M290.6 217.9h0M261.6 102.5h0M167.2 135.3h0M284.5 221.6h0M267.8 225.9h0M175.5 164.7h0M175.6 169.6h0M299.7 198.5h0M334.9 179.5h0M275.7 154.3h0M276.6 150.5h0M261.1 224.5h0M276.9 76.9h0M232.5 84.6h0M272.7 228.8h0M183.6 171.7h0M220.3 99.5h0M271.8 279.7h0M292 202.9h0M294.9 199.6h0M253.1 112.1h0M221.4 74.1h0M276.4 174.1h0M221.4 83.1h0M335.3 178h0M173.4 72.2h0M222.6 190.4h0M162.3 166.5h0M264.8 229.6h0M235.7 109.3h0M235.6 223.3h0M163.6 94.2h0M276.4 278.5h0M214.3 82h0M267.3 166.9h0M277.3 166.5h0M279.4 216.8h0M121 126.1h0M215.3 188.7h0M168 99.4h0M224.5 216.9h0M262.1 221.7h0M248.7 124.5h0M181.4 156h0M274.5 177.3h0M232.9 103.1h0M256.3 133.7h0M232.2 112.2h0M336 182.1h0M262 252.3h0M240.2 221.8h0M328.7 182.1h0M274.6 151.4h0M269.4 148.9h0M262.7 149.4h0M141.6 169.3h0M218.9 108.7h0M240.3 109.7h0M211.5 87.5h0M282.9 189.8h0M161.1 111.5h0M265.4 268h0M290.1 265.9h0M151.8 163h0M286.7 246.2h0M224.9 206.3h0M249.7 130.7h0M302.5 242.2h0M322.9 215.5h0M150.7 153.4h0M286.7 224.1h0M279.5 224.8h0M170.9 90.4h0M274.2 230.4h0M150.9 165.1h0M261.8 226h0M151.3 118.6h0M244.3 284.2h0M230.5 246.7h0M220.1 197.1h0M274.4 236.4h0M207.8 81.6h0M143.9 135.8h0M323.2 139.4h0M231.9 96.2h0M270 140.6h0M276.8 139.9h0M333.6 180.6h0M232.8 108.6h0M168.7 134.9h0M243.8 279.2h0M225.6 225.4h0M331.7 253.6h0M155.8 108.8h0M129.3 95.7h0M224 82.6h0M167 96.4h0M205.9 68.8h0M282.5 211.5h0M225.7 213.1h0M290.6 248h0M189.8 72.1h0M181.9 159.3h0M280.7 248.6h0M159.7 86.7h0M275.8 234.6h0M176.7 139.7h0M275.4 83.5h0M271.7 289.5h0M171.2 135.2h0M269.7 169.2h0M172.2 134.6h0M284.8 213.6h0M314.6 112h0M273.6 262.1h0M196.9 66h0M325.4 170.7h0M201.1 182.3h0M243.7 100.4h0M270 169.3h0M243.9 89.6h0M278.6 131.1h0M268.7 159.5h0M237.2 272.3h0M165.4 172.7h0M251.5 269.2h0M173.1 160h0M221.8 196.6h0M199.4 73.6h0M324.7 224.3h0M163.5 151.7h0M241.3 211.8h0M283.1 235.6h0M220.3 100.1h0M319.9 211.6h0M291.9 270.2h0M244.2 121h0M212.2 83.8h0M268.5 226.8h0M216.2 81.2h0M239.8 115.9h0M332.7 197.4h0" stroke="#FF3300"/>
<path d="M280.9 233.2h0M267.1 278.7h0M241.7 105.5h0M317.4 222.3h0M292.6 193.2h0M249.2 129.7h0M322.4 185.3h0M229.7 247.9h0M241.9 212.1h0M228.4 94.8h0M132.2 159.4h0M180.5 148.3h0M156.4 160.5h0M242.5 205h0M263.8 73.7h0M236.2 275h0M244.1 109h0M251.8 250.1h0M172.7 87.4h0M233.3 266.2h0M202.8 185.5h0M169.2 125.2h0M225.5 245.7h0M245.1 272.3h0M297.1 232.5h0M243.4 210.3h0M168 86.5h0M180.9 147.3h0M286 217h0M267.6 153.3h0M280.8 225.3h0M289.9 108h0M241.8 103.2h0M247.2 113.7h0M315.3 132.7h0M289 237.6h0M269.5 277.1h0M144.8 101.1h0M270.4 228.2h0M313.3 232h0M267.4 231.7h0M217.4 104.9h0M271.8 233.6h0M229.3 87.2h0M292.5 163.7h0M169.3 95.5h0M220.2 93.4h0M162.3 120.1h0M237 117.5h0M240 293.6h0M246.5 119h0M156.4 89.2h0M278.4 224.3h0M283.5 253.8h0M265.4 225.4h0M315.4 219h0M217.3 100.5h0M233.4 254.4h0M295.2 167.5h0M174.6 84.4h0M226.2 243.7h0M280.4 195.7h0M290.6 197.2h0M125.2 139.3h0M228.8 227.4h0M180 144.7h0M188.5 179.8h0M251.3 213.7h0M274 180.5h0M170.7 89.6h0M159.8 110.9h0M219.9 77.1h0M209.8 187h0M180.4 154.2h0M276.8 184.5h0M307.9 232.3h0M280.8 147.6h0M285 182.8h0M142.4 93.6h0M277.6 143.5h0M285.2 213.4h0M205.6 80.9h0M259.2 146.4h0M209.7 72.6h0M166.9 100.3h0M183.7 172.5h0M150.5 173.8h0M275.7 184.3h0M237.5 206.2h0M298 248.7h0M247.3 220.7h0M283.3 186.4h0M278.4 159.1h0M285 206.4h0M232.1 118.7h0M283.6 180.1h0M150.9 137.8h0M145.9 83.3h0M281.3 268.2h0M289.6 214.2h0M280.8 138.8h0M249.2 226h0M240.7 116.9h0M272.1 160.3h0M175.3 138.6h0M311.8 246.5h0M214.2 83.2h0M270.6 173.1h0M232.6 109.9h0M235 109.9h0M303.5 212h0M214.2 68h0M235.4 261.8h0M244.5 107.2h0M250.8 249.9h0M292.1 139.9h0M235.8 227.3h0M126.4 117.4h0M283.3 185.9h0M248.8 232.5h0M244.5 272.2h0M122.4 156.5h0M231 223.3h0M301.6 208.5h0M319.6 236.3h0M158.3 143.9h0M247.9 126h0M214.3 90.3h0M255.6 139.3h0M257.1 138h0M224 228.8h0M301.5 209.2h0M246.4 218.1h0M167.3 118.6h0M219.3 106.8h0M165.3 90.1h0M262.9 146.8h0M301.9 214h0M174.3 84.5h0M175.9 171.2h0M281 149h0M236 112h0M206.4 77.5h0M214.2 82h0M292.2 214.5h0M188.3 176.3h0M249.3 127.5h0M295.2 268.8h0M285.1 202.9h0M277.5 226h0M245.3 99.3h0M235.1 117.1h0M177.6 167.2h0M161 172.1h0M260.6 249.6h0M169.5 82.9h0M263 69h0M143.4 148.4h0M238.1 90.7h0M168.6 163.3h0M167.8 91.5h0M133.3 155.2h0M325.2 224.6h0M282.9 247.9h0M265 129h0M254.4 135.9h0M288.6 170.1h0M170.1 129.2h0M262.4 145.5h0M269.7 95.9h0M318.1 230.5h0M293.8 167.6h0M243.8 286.4h0M250.1 259.9h0M209 73.8h0M227.6 201.6h0M268.8 155.3h0M205.9 183.5h0M281 226.7h0M320.1 217.1h0M229.4 220.5h0M232.8 211.6h0M234.5 108.5h0M154.8 162.7h0M246.7 124.5h0M116.6 149.2h0M235.6 281.1h0M236.5 257.8h0M148.4 102.8h0M239.8 107.4h0M309.5 127.9h0M300.2 200.9h0M247.4 212.6h0M277.1 182.2h0M252.3 218.1h0M173.4 165.9h0M284.4 180.1h0M252.3 282.6h0M121.4 129.8h0M294.3 148.9h0M169.6 95.4h0M298.9 105.7h0M169.1 108.9h0M260.7 244.6h0M193.9 179.9h0M235 116.8h0M175.4 147.5h0M157.5 97h0M318.9 223.3h0M175.3 140.3h0M247.1 210h0M269.2 153.3h0M168.2 153.5h0M291.6 263.3h0M252.9 130.7h0M214.9 82.3h0M306.8 113.9h0M312.9 105.7h0M193.8 180.3h0M185.9 68.8h0M221.9 83.4h0" stroke="#FF3300"/>
<path d="M160.1 138.3h0M301.2 134h0M152.4 261.8h0M165 97.6h0M335.5 171.4h0M296 190h0M310.6 161.1h0M284.7 89.2h0M274.3 283.3h0M241.2 211.8h0M305.5 213.5h0M323.4 228.8h0M112.3 213h0M333.9 154.1h0M237.5 259h0M194.6 284.5h0M117.6 199.1h0M231.4 263.3h0M335.1 147.2h0M316.6 181.5h0M137.2 118.8h0M332.9 146.9h0M275.5 170.1h0M283.6 274.1h0M153 91.1h0M278.6 238.4h0M307.5 251.5h0M302.4 199.2h0M161.8 97.3h0M294.5 178.4h0M316.6 112.2h0M131.7 168.4h0M281.3 141.2h0M123.4 143.3h0M162.3 168.8h0M130.9 237.1h0M328.6 143.1h0M227.2 73.1h0M147 258.4h0M223.4 296.3h0M324.9 208h0M190.3 188.3h0M308.4 202.8h0M223.6 252.9h0M218 213.2h0M169.3 140.6h0M288.9 188.3h0M158.7 110.2h0M153.7 145.8h0M248.4 123.3h0M273.4 118.5h0M241.2 98.9h0M220.8 230.9h0M110.4 168h0M240.5 100.3h0M292.7 165.6h0M225.9 264.8h0M215.1 294.4h0M311.1 239.1h0M140.9 152.3h0M238.5 99.3h0M173.4 142h0M261.6 131h0M309.6 212.2h0M336.6 213.6h0M163.2 99.1h0M295.7 238.3h0M311.2 173.8h0M340 181.9h0M220.6 207.5h0M316.2 208.6h0M127.3 164.6h0M337.2 192.5h0M314.4 212.1h0M253.5 122.5h0M298.7 87.3h0M118.3 206h0M314.8 244.5h0M276.1 115.1h0M178.9 283.3h0M305.5 90.2h0M219.3 247.4h0M304.4 195.1h0M290.6 242.8h0M205.7 290.5h0M322.1 111.6h0M311.9 209.8h0M330.5 210h0M304.7 202.6h0M103.8 126.3h0M254.4 117h0M337.3 186.2h0M244.7 119.4h0M262.9 67.6h0M335.6 152.1h0M336.7 165.9h0M118.2 143.6h0M283.2 176.6h0M148.2 175.9h0M249.1 69.7h0M296.1 181.6h0M201.3 190.9h0M275.8 169.4h0M190.8 187.7h0M227.6 272.3h0M113.6 196h0M165.1 137.4h0M260.9 76h0M248.1 106.8h0M258.4 71.9h0M233.9 69.6h0M246.8 217.4h0M306.1 101.1h0M298.9 210.2h0M276.6 151.4h0M215.9 86.8h0M191.6 282.7h0M326.3 185.1h0M110.2 173.6h0M140.3 104.4h0M253.9 128.1h0M316.9 113.1h0M242.6 70.8h0M261.9 119h0M265.9 78h0M299.3 181.3h0M174.2 176.9h0M311.7 209.5h0M151 91.2h0M227.6 262.1h0M301 237.8h0M129.8 153.1h0M227.6 278.8h0M269.7 237.3h0M160.6 126.6h0M254 279.6h0M317 236.8h0M107.2 120.5h0M263.5 68.2h0M216.9 291.7h0M225 74.9h0M246.9 111.1h0M199.7 308.1h0M163.8 89.9h0M238 102.9h0M254.1 127.7h0M192.1 288.9h0M125.3 164.8h0M183.4 279.5h0M197.4 189.6h0M267.5 122.6h0M165.6 148.4h0M114.2 166.8h0M138.1 133.4h0M166.5 165.5h0M214.8 292.7h0M337.2 190.9h0M253.3 91.9h0M158.8 103.5h0M112.6 186.7h0M325.1 136h0M136.9 257.3h0M319 132.6h0M164.1 130.7h0M223.9 244.8h0M249 103.8h0M340 181.9h0M280.9 240.4h0M336.7 164.4h0M323.4 193.5h0M273.5 82.8h0M127.4 160.7h0M280.8 165.1h0M254.5 87.4h0M307.2 111.5h0M339 160.8h0M218.9 221.3h0M220.7 236h0M150.1 257.2h0M283.2 224.8h0M259.9 110.8h0M295.2 89.6h0M162.7 128.3h0M155.1 164.4h0M278.1 172.7h0" stroke="#0000CD"/>
</g></g>
<g transform="translate(786.6 1409.5)">
<use href="#fr"/>
<text class="k" transform="translate(135.8 354.2) scale(0.98 1.04)" text-anchor="middle">-5</text><text class="k" transform="translate(66.4 270.8) scale(0.98 1.04)" text-anchor="end">-5</text><text class="k" transform="translate(207.1 354.2) scale(0.98 1.04)" text-anchor="middle">0</text><text class="k" transform="translate(66.4 203.1) scale(0.98 1.04)" text-anchor="end">0</text><text class="k" transform="translate(278.4 354.2) scale(0.98 1.04)" text-anchor="middle">5</text><text class="k" transform="translate(66.4 135.3) scale(0.98 1.04)" text-anchor="end">5</text><text class="k" transform="translate(349.6 354.2) scale(0.98 1.04)" text-anchor="middle">10</text><text class="k" transform="translate(66.4 67.6) scale(0.98 1.04)" text-anchor="end">10</text><text class="a" transform="translate(223 388) scale(0.97 1.04)" text-anchor="middle">x1</text><text class="a" transform="translate(23.3 182.3) rotate(-90) scale(1.0 1.03)" text-anchor="middle">x2</text>
<text class="t" transform="translate(77.6 23.7) scale(1.0 1.0)">g.aipw</text>
<g fill="none" stroke-width="9.6" stroke-linecap="round">
<g clip-path="url(#mc)">
<use href="#mass" fill="#0000CD"/>
<path d="M81 132.3L116.8 88.2L147.2 60.6L172 60.6L169.3 102L163.7 124L163.7 154.4L147.2 154.4L136.2 165.4L108.6 162.7L94.8 157.1Z" fill="#FF3300"/>
<path d="M202.4 66.1L218.9 44L252 44L301.7 74.4L334.8 115.8L362.4 154.4L345.8 187.5L334.8 204L318.2 209.6L301.7 193L287.9 187.5L276.8 170.9L265.8 151.6L257.5 126.8L243.7 107.5L218.9 102Z" fill="#0000CD"/>
<path d="M246.5 215.1L263.1 226.1L290.6 231.6L312.7 237.1L329.3 226.1L367.9 226.1L334.8 262L315.5 275.8L298.9 292.3L274.1 303.3L257.5 303.3L235.5 297.8L224.4 275.8L230 270.2L235.5 253.7L241 242.7L246.5 231.6Z" fill="#FF3300"/>
<path d="M172 60.6L218.9 44L202.4 66.1L218.9 102L243.7 107.5L257.5 126.8L265.8 151.6L276.8 170.9L287.9 187.5L301.7 193L318.2 209.6L334.8 204L367.9 226.1L329.3 226.1L312.7 237.1L290.6 231.6L263.1 226.1L246.5 215.1L230 204L213.4 206.8L210.6 195.8L191.3 193L174.8 187.5L169.3 176.4L163.7 154.4L163.7 124L169.3 102Z" fill="#FF3300"/>
<path d="M172 60.6L218.9 44L202.4 66.1L218.9 102L232.7 115.8L207.9 126.8L185.8 124L163.7 124L169.3 102Z" fill="#FF3300"/>
<path d="M287.9 187.5L301.7 193L318.2 209.6L334.8 204L345.8 187.5L329.3 165.4L301.7 170.9Z" fill="#FF3300"/>
<path d="M202.4 66.1L218.9 102L243.7 107.5L257.5 126.8L265.8 151.6L276.8 170.9L287.9 187.5L300.3 180.6L289.3 164L278.2 144.7L270 119.9L256.2 100.6L231.3 95.1L214.8 59.2Z" fill="#FF3300"/>
</g>
<path d="M225.1 272.2h0M280.3 274.1h0M245.6 99.9h0M121.8 165.8h0M204.7 70.7h0M257.8 80.8h0M201.5 96h0M209.5 200h0M265.2 148h0M277.7 260.8h0M293.8 260.8h0M222.4 118.5h0M162.6 160.2h0M234.4 271.5h0M235.4 94.6h0M181.8 191h0M206.7 199.9h0M233.7 208.3h0M162.6 156.6h0M159.1 146.5h0M166 171.3h0M309.7 152.2h0M176 190.1h0M148.9 106.6h0M119.4 127.3h0M319.1 109.2h0M255.5 97.3h0M233 92.4h0M170.7 188h0M250.2 231.7h0M264.9 98.9h0M120.6 155.6h0M286.5 149.7h0M117.1 196.8h0M270.9 113.2h0M324.4 162.4h0M257.9 102.6h0M220.2 279.4h0M288.2 116.3h0M238.9 212.2h0M301.7 180.4h0M181.4 190.8h0M303.7 167.5h0M186.9 191.8h0M161.4 160.6h0M300.9 93.8h0M224.9 118.8h0M164.1 82.7h0M298.1 237.4h0M277.3 240.6h0M113.7 188h0M282.3 117.5h0M226.3 278.7h0M329.3 163.5h0M232.8 98.6h0M120 220.9h0M320.3 204.1h0M321.1 132.7h0M163.3 135.1h0M227.4 266.3h0M123.7 140.2h0M174.8 124h0M232.1 211.9h0M156.2 154.8h0M308.1 240.9h0M117.2 214.8h0M203.5 71h0M297.2 117h0M289.3 255.1h0M162.8 268.6h0M159.2 131.8h0M233.6 66.8h0M126.9 167.4h0M232.8 252.3h0M144.2 256.8h0M232.4 275h0M103.1 190.9h0M90.7 177.8h0M233.9 94.7h0M280.9 139.6h0M207.5 294h0M256.2 72.3h0M191.1 82.8h0M258.5 248.5h0M318.5 175.6h0M253.2 111.7h0M278.3 274.5h0M247.1 72.4h0M307.3 194.7h0M302.4 255.4h0M210.8 74.8h0M300.6 187.1h0M238 247.5h0M147.3 156h0M165.1 87.7h0M240.7 66.7h0M118.5 152.6h0M275.2 130.6h0M113.2 174.9h0M238.6 92.8h0M153.9 131.3h0M232.5 259.6h0M126.1 137.2h0M280.2 137.6h0M253.2 116.9h0M232.8 281.1h0M305 161.9h0M169.9 182.8h0M110.7 218.4h0M112.9 196.3h0M263.2 141.9h0M351 155h0M296.3 138h0M332.6 163.1h0M231.2 97.8h0M260.7 247.3h0M246.1 109.2h0M274 278.4h0M177.7 119.2h0M226.1 269h0M142.7 109.9h0M236.2 285.7h0M169.6 119.7h0M168.7 181.6h0M166.2 80.6h0M206.8 288.1h0M313.2 237.3h0M114.8 217.3h0M337.2 190.9h0M139.8 253.7h0M160.5 123.1h0M221.7 87h0M179.1 114h0M240.2 96.2h0M136.9 257.3h0M245.6 235.7h0M285.9 148.4h0M233.8 253.5h0M119.6 146.8h0M263 103.4h0M301.7 160h0M150.2 147.1h0M210.6 208.7h0M278.3 255.8h0M252.7 103.4h0M112.2 214.6h0M156.9 159.7h0M272.3 139.6h0M245.5 94.1h0M215.8 85.8h0M323.9 186.8h0M133.9 170.2h0M232.7 293.7h0M145.6 156h0M305 107.4h0M116.5 193.2h0M254 98.9h0M118.8 219.9h0M237.2 84.7h0M205.1 292.2h0M258.6 107h0M303.6 192.1h0M277.5 130h0M268.6 259.2h0M278.3 141.7h0M122 163h0M217.6 97.2h0M241.3 280.6h0M270.3 106h0M233.6 294.3h0M121.6 164.7h0M264 125.3h0M228.7 103.1h0M277 140.2h0M266.8 120.2h0M152.1 94.3h0M227.1 282.8h0M329.4 173.2h0M224.7 99.6h0M301.5 169.9h0M280.7 274.8h0M231.4 280.5h0M289.9 247.4h0M223.8 114.5h0M114.5 167.2h0M163.2 107.1h0M227.3 94h0M187.8 282.6h0M233.1 100.4h0M318.1 129.1h0M222.6 208.1h0M142.5 161.9h0M326.4 137.6h0M262.9 139.8h0M286.3 145.1h0M329.5 198.4h0" stroke="#0000CD"/>
<path d="M211.2 193.7h0M269.8 155.5h0M285.4 164.4h0M261.1 136.9h0M213.5 100.9h0M307.8 233.4h0M254 278.2h0M280.3 164.1h0M234.5 270.3h0M248.7 215.9h0M174 97.3h0M244.8 118.3h0M283.9 182.5h0M240.9 210.5h0M180.3 128h0M99.7 131.6h0M178.9 123h0M206.1 70.1h0M220 98.8h0M203.2 73.5h0M196.1 122.4h0M215.9 72.3h0M295.2 235.3h0M302.4 134.4h0M166 104.5h0M186.2 109.7h0M166 100.8h0M270.1 267.4h0M200.1 130.6h0M128.9 164.7h0M260.3 146.4h0M206.3 76.4h0M281.4 80.2h0M316.8 208.4h0M304.1 171.6h0M296.1 90.8h0M247.4 279.3h0M207.3 78.7h0M259.9 222.5h0M286.7 187.3h0M293.2 227.8h0M229.1 86.2h0M333.3 173.1h0M254.8 224.5h0M325.4 190h0M163.8 129.1h0M311.5 179.9h0M220.6 200.3h0M273.6 81.3h0M246.2 283.7h0M262.2 277.2h0M236.7 277.9h0M316.5 211.2h0M203.3 112.5h0M295.1 261.4h0M286.6 234.3h0M335 174.5h0M256.4 124.8h0M282.1 187.6h0M182.4 101.9h0M265.5 230.6h0M314.5 170h0M240 293.6h0M163.2 134.9h0M310.9 190.3h0M129.3 95.7h0M150.9 151.7h0M243.1 246.7h0M219.9 202.7h0M284.7 188.7h0M289.2 229.3h0M261.1 128.3h0M193.5 192.1h0M262.2 151.1h0M219.3 72.1h0M263.5 152.2h0M194.5 97.5h0M316.8 206h0M261.5 140h0M207.6 90.5h0M261.8 272.8h0M278.2 224.5h0M296.1 164.9h0M281.2 169.7h0M290.9 229.6h0M304.4 181.1h0M162.7 106h0M264.1 224.1h0M123.9 138.1h0M286 225.4h0M259.9 122.8h0M214.8 70.9h0M258.7 222h0M125.1 130.8h0M290.5 266.6h0M192 70.9h0M197.8 73.7h0M156.8 150.4h0M249.6 80.9h0M212.3 129.1h0M276.7 165.8h0M289.4 184.3h0M331.8 181.6h0M245.2 207.9h0M163.8 134.4h0M167.3 168.4h0M151.3 149.2h0M206.8 104.1h0M268.6 141.8h0M310 172.4h0M123.4 141.5h0M321.4 168.2h0M262.9 146.5h0M208.8 98.5h0M234.3 263.3h0M272 151.4h0M158.6 90.2h0M174.9 84.5h0M281 177.9h0M158.5 131.5h0M149.7 77.5h0M296.7 261.7h0M178.6 184.1h0M159.4 106.9h0M220.9 68.1h0M250.9 119.3h0M279.6 146.6h0M283 229.6h0M270.9 153.7h0M256.6 130.9h0M180.6 76.6h0M212.4 99.5h0M282.1 157.2h0M230.6 106.9h0M165.2 137.5h0M222.1 98.5h0M211.6 196.5h0M288.7 156.9h0M311 188.2h0M247.3 110.8h0M212.6 202.3h0M186.8 127.5h0M261.9 128.1h0M285.1 159.8h0M259.3 267.2h0M159.6 104.5h0M214.3 93.6h0M251 262.8h0M200.5 190.5h0M122.7 142.2h0M303.3 254.1h0M159 87.8h0M185.9 68.8h0M230.9 104.7h0M146.8 154.6h0M318.3 210h0M326.8 203.4h0M246.1 235.3h0M141.1 103.1h0M329.1 206.2h0M191.5 125.4h0M219.3 104.6h0M239.8 207.3h0M287.1 177.8h0M238.8 66.3h0M298.5 233.1h0M252.1 123.8h0M237.8 98.7h0M318.8 211.2h0M202.6 79.4h0M174.6 186.7h0M309.5 173.7h0M175.2 125.8h0M206.1 121.5h0M249.4 220.1h0M199.5 189.8h0M179.4 125.5h0M246.6 238.9h0M197.1 121.2h0M239.3 290.2h0M120.3 149.9h0M200.9 105.7h0M148.9 114.3h0M230.1 90.3h0M184.5 123.7h0M247 212.8h0M184.9 186.4h0M322.5 207.4h0M247.7 219.2h0M282.3 178.5h0M117.4 147h0M309.1 175.1h0M239.3 109.7h0M206 98.3h0M191.8 123.2h0M232.9 102.4h0M159.7 86.7h0M261.1 123.3h0M254.9 223.8h0M324.3 204.6h0M278.8 228.5h0M259.6 123.6h0M235.3 206.3h0M237.4 261h0M169.2 164.7h0M205.9 68.8h0M299.5 197.5h0M243.9 116.3h0M142.9 99.2h0M292.6 265.4h0M218.4 117.7h0M261.3 125h0M169.8 113.8h0M122.3 163.6h0" stroke="#FF3300"/>
<path d="M302.1 188.3h0M169.7 100.6h0M308.4 203h0M256.9 71.3h0M173.4 72.2h0M203.7 79.3h0M265.9 155h0M121.7 133.5h0M216.7 204.5h0M231.1 202.3h0M136.4 116.3h0M145.4 118h0M229.2 104.9h0M330.7 197.6h0M298.6 170.6h0M233.2 99.8h0M172.7 180.8h0M334 143.3h0M267.8 156.5h0M275.3 282.1h0M219.7 75.9h0M259.1 143.2h0M183.4 127.5h0M191.7 187.9h0M243.5 101.9h0M241.8 241.7h0M332.6 143.4h0M274 146.6h0M171.1 179.1h0M275.1 146.1h0M289.5 251.1h0M219.6 80h0M256.1 218.5h0M278.4 236h0M116.2 141.2h0M324.3 210h0M247.8 239.7h0M271.6 109.4h0M124 150.5h0M120.1 135.4h0M280.9 152.4h0M204.9 83.9h0M294.4 181.3h0M214.9 71.5h0M217.7 107.2h0M326.8 217.9h0M259.9 144.9h0M165.3 151.5h0M155.2 93.1h0M238 110.4h0M298.6 235.6h0M329.5 191.2h0M180 76.8h0M288.2 190.4h0M120.2 162h0M318.8 228.8h0M292.7 170.4h0M168 142.3h0M257.7 142.7h0M168.8 157.8h0M252.8 282.5h0M261.5 118.8h0M185.2 125h0M142.4 121.9h0M240.5 277.8h0M284.5 225.4h0M261 130.3h0M240.1 280.5h0M139.9 102.2h0M122.3 140.5h0M130.1 160.4h0M213.3 124.5h0M316.5 187.8h0M293.5 236h0M290.8 172.2h0M210.3 190.3h0M152.8 90h0M237.2 205.9h0M205.3 128.4h0M278.3 228.2h0M254.9 136h0M250.9 111.3h0M235.7 206.3h0M237.9 250.8h0M170.5 117.5h0M237.5 205.4h0M321.4 170.2h0M201.3 123.9h0M323.4 228.8h0M124.9 128.5h0M305.6 172h0M106.1 150.9h0M302.7 193.7h0M336 178.9h0M212.4 193.3h0M273 149.5h0M280.4 228.3h0M308 127.5h0M233.7 118.8h0M124.5 163.4h0M303.9 203h0M122.6 163.5h0M288.6 113.1h0M282.8 224.6h0M171.7 103.5h0M212.6 129.4h0M159.3 127.7h0M129.3 152h0M291.4 172.2h0M176.5 183.3h0M267.8 226.2h0M334.7 192.5h0M265.5 221.6h0M175.1 126.8h0M238.9 248h0M261.2 225.6h0M257.4 142.2h0M249.2 276.3h0M260 287.4h0M167.4 146.1h0M333.8 204.7h0M191 119.2h0M288 157.6h0M282.8 173.8h0M292.6 175.6h0M320.2 214.1h0M204 74.3h0M279.7 232.7h0M175.2 88.7h0M266.7 283h0M296.2 188.7h0M153.5 117.7h0M182.5 184.9h0M309.4 194.2h0M287.4 187.3h0M159.9 130.3h0M289.2 165.1h0M255.9 227.7h0M271.9 279.7h0M167.3 129.4h0M259.1 107.5h0M186.6 119.8h0M274.5 164.5h0M273.9 232.9h0M230.4 117h0M172.9 96.6h0M307.6 234.7h0M147.2 105.1h0M221.3 104.4h0M259.7 223.5h0M329.9 207.1h0M166.2 146.7h0M326 218.6h0M170.1 103.1h0M318.1 204.4h0M259.1 145h0M128.6 117.8h0M260.4 226.2h0M331.7 253.6h0M318 228.3h0M205.3 80.7h0M281.3 180.3h0M258.7 140.7h0M306.1 182.5h0M246.9 112.9h0M195.3 87.6h0M262.7 155.5h0M236.7 63.5h0M245.3 212.2h0M211.2 87.4h0M171 164.1h0M299.3 195.7h0M209.7 92.8h0M158.6 93h0M166.9 158.2h0M242.5 252h0M228.7 91.7h0M156.6 123.3h0M242.7 96.6h0M308 206.3h0M280.7 141.6h0M241.3 285.4h0M270.5 164.5h0M159.7 139.8h0M317.8 178.6h0M265.9 156.6h0M230.7 104.6h0M142.7 99.7h0M168.6 77.1h0M244.4 108.5h0M286.8 271.7h0M316.6 264h0M300.6 93.6h0M240.3 103.7h0M153.1 149.1h0M214.1 198.1h0M217.9 101.9h0M301.4 260.5h0M170.5 159.8h0M258.7 141.8h0M144.4 131.5h0M158.7 90.1h0M211.6 85.5h0" stroke="#FF3300"/>
<path d="M112 168.8h0M166.7 170.9h0M199.2 195h0M121.3 122.1h0M227.8 209.4h0M176.2 188.9h0M318.8 237.1h0M268.8 116.8h0M138.3 156.3h0M312.3 166.4h0M302.3 89.8h0M118.6 165h0M271.3 94.4h0M208.8 196.7h0M133.8 148.1h0M170.3 182.6h0M123.3 228.9h0M269.7 121.7h0M178 190.3h0M313 125h0M221 297.1h0M230.2 88.3h0M245.3 70.2h0M134.8 129.3h0M111.2 216.4h0M236.5 209.8h0M333.1 152.2h0M92.8 189.5h0M238 237h0M270.3 131.6h0M316.5 106.5h0M315.7 111h0M257.3 87.5h0M119.8 141.5h0M125.8 143.3h0M129.9 241.8h0M290.9 89.1h0M176.8 121.8h0M230.3 61.2h0M262.4 102.9h0M232.9 95.3h0M225.8 75.5h0M270.3 126.7h0M279.3 82.6h0M125.3 152.6h0M337.2 166h0M251.2 95.8h0M298 266.7h0M138.4 165.7h0M226.1 268.4h0M253.6 99.8h0M270.1 124.7h0M162.9 112h0M326.2 201.3h0M202.3 196.8h0M319 148.5h0M152.4 136.2h0M309.8 197.3h0M256.8 268.1h0M227.3 294.9h0M238.5 94.4h0M265.8 107h0M125 227.6h0M333.8 139.8h0M319 163.6h0M218.1 209.2h0M187.8 194h0M236.4 211h0M210.4 108.7h0M166.2 168.5h0M122.4 267.7h0M123.8 227.1h0M160 102.5h0M279.3 138h0M305.5 90.2h0M221 205.7h0M239 238.7h0M309.1 175h0M222.1 78.4h0M268.8 92.4h0M281.2 150.1h0M163.3 140.7h0M332.8 190h0M266.6 138.3h0M161.3 147.6h0M207.1 203.9h0M159.8 121.9h0M252.4 236.9h0M222.5 270.1h0M126.6 257.3h0M333.3 159.1h0M237.2 241.3h0M250.2 108.2h0M135.3 160.2h0M232.3 292.4h0M121.8 162.6h0M122.6 142.6h0M112.1 115.3h0M227.8 204.5h0M245.9 228.7h0M225.6 282h0M232.2 269.6h0M137 167.4h0M130.7 130.4h0M173.4 190.2h0M181.3 191.9h0M304.4 240.2h0M176 188.7h0M202.2 198.8h0M288.6 83.7h0M155.9 124.3h0M233.1 67.4h0M321.2 136.3h0M327.1 161.7h0M320.6 165.6h0M179 190.1h0M162 134.3h0M245.2 95.9h0M266.8 142.8h0M306.4 184.1h0M222.8 271.6h0M126.4 120.6h0M312.6 244.8h0M276 132.9h0M266.3 113.5h0M217.3 206.3h0M296.3 252.8h0M320.6 161.3h0M325.9 206.4h0M111.8 190.5h0M146.5 155h0M228.3 207.4h0M169.1 90.7h0M135.4 160.5h0M228.4 258.8h0M162.8 156.7h0M302.5 238.3h0M255.2 104.5h0M247 109h0M227.2 262.2h0M232.9 267.1h0M296.3 183.3h0M178.3 193.9h0M278.8 134.6h0M305.5 195.2h0M171.6 93.8h0M162.5 160.4h0M265.9 72.9h0M204.9 199.4h0M130.5 154.6h0M272.1 138.7h0M308.7 200h0M234.7 258.1h0M225.3 273.6h0M181.8 193.6h0M197 196.9h0M222.1 77.2h0M314.5 126.3h0M125.1 224.9h0M172.8 183.7h0M156.4 155.1h0M307.7 196.2h0M90.7 177.8h0M174.9 187.6h0M287.4 154.1h0M222.6 275h0M164.7 159.1h0M337.2 190.9h0M159 153.9h0M316.3 163.7h0M322.7 162.8h0M210 209.6h0M144.2 143.9h0M249.4 73.8h0M203.8 196.9h0M111.4 159.1h0M155.6 151.2h0M177.4 122.4h0M160.3 119.2h0M324.1 186.5h0M265.2 142.2h0M263.2 135.8h0M152.3 260.2h0M155.1 159.1h0M156.9 265.2h0M227.1 98.8h0M164.4 159.4h0M253.5 97.7h0M168.8 277.7h0M268.6 113.2h0M138.2 118.5h0M167.3 270.5h0M150.4 89.5h0M277.1 128.9h0M230.6 206.8h0M279.7 150.7h0M296.3 187.2h0M260.2 113.6h0M246.3 88.2h0M275.4 284.2h0M272.1 127.1h0M215.9 105.8h0M230.7 279.3h0M203.1 119.1h0M325.8 141h0M219 304h0M202.3 197.1h0" stroke="#0000CD"/>
<path d="M153.3 144.3h0M275.6 120.5h0M124.7 128.9h0M134.8 246.8h0M145.4 139.2h0M231 263.6h0M308.2 236h0M228.3 82.1h0M259 71.3h0M206.5 74.4h0M247.3 111.9h0M227.8 70.3h0M235.3 209h0M232.4 87.8h0M268.7 88.3h0M129.8 233.7h0M232.4 261.9h0M297.7 184.9h0M217.9 295.9h0M191.6 282.7h0M208.7 209.4h0M162.3 141.6h0M297.2 81.2h0M247 232.4h0M280.3 141.3h0M142.4 93.6h0M134.6 128.1h0M228.3 69.5h0M328.4 162.5h0M310.6 100.6h0M311 241.8h0M339.3 144.7h0M266.2 68.1h0M118.3 257.3h0M263.7 142.8h0M139.3 144.7h0M271.7 289.5h0M118.6 208.6h0M169.2 187.1h0M293.1 129.1h0M247.2 95.1h0M132.1 157.8h0M227.8 266.5h0M309.1 166.5h0M131.2 137.5h0M171 277h0M172.7 90.8h0M231.6 287.4h0M322.4 163.2h0M255.3 102.1h0M160.9 129.2h0M261.1 269.8h0M130.5 154h0M298.9 163h0M253.3 104.2h0M292.5 170.6h0M300 191.3h0M160.3 130.9h0M111.2 171.7h0M235.4 261.5h0M300.8 127.2h0M124.9 118.7h0M233.7 206.9h0M116.2 201.9h0M207.8 121.7h0M184.9 75.1h0M286.4 99.4h0M204.4 198.8h0M309.9 169.1h0M232.2 266.3h0M262.8 112.4h0M133.9 170.7h0M139.4 158.3h0M249.4 106.7h0M153.6 134.8h0M277 82.7h0M161.2 149.8h0M278.2 263.8h0M325 163.6h0M250.3 269.9h0M330.8 161.3h0M322.6 194.3h0M331.7 126h0M267.2 280.8h0M251.3 274.7h0M280.7 248.3h0M195.9 194.4h0M210.7 72.4h0M268.7 123.6h0M232.2 292.7h0M231.3 79.1h0M147.3 141.8h0M216.5 54.3h0M308.6 146.4h0M169 180.3h0M136.8 122.1h0M145.2 111.8h0M255.9 105h0M327.1 163h0M317.9 101.9h0M115.8 149.2h0M333.1 231.6h0M254 95h0M140.4 145.6h0M146.7 256.1h0M145.9 83.3h0M129.1 165.4h0M209.1 209.6h0M273.3 132.3h0M217.9 117.3h0M171.9 87.4h0M272.4 139.1h0M216.2 93.9h0M117.5 138.6h0M118.4 211.3h0M208.8 122.1h0M276.3 135.4h0M308.2 130.3h0M249.3 100.3h0M136.2 242.8h0M302.2 110.1h0M104.5 179.8h0M235 242.6h0M334.6 197.6h0M221.1 118.3h0M303.2 177.4h0M305.4 139.6h0M199.8 195h0M270.2 129h0M306.7 134.1h0M270 124h0M306.8 160.6h0M281.2 234.4h0M207.1 80.6h0M273.7 124.5h0M264.9 102.1h0M266 137h0M339.3 160.3h0M276.1 135.7h0M116.2 165.4h0M212.9 207.4h0M145 149.6h0M103.1 190.2h0M151.2 131.4h0M143 156.4h0M255.8 101.9h0M108.5 182.9h0M282.3 275.8h0M329.3 160.5h0M204.2 196h0M234.9 270.5h0M234.2 246.4h0M140.9 159.4h0M221.8 117.6h0M117.2 124.3h0M273.5 126.1h0M224.6 282.7h0M333.2 188.1h0M264.5 141.5h0M243.5 215h0M159.2 270.7h0M265.8 246.4h0M263.2 105.5h0M271.5 116.5h0M226.4 98.9h0M227.5 114.4h0M140.5 139.4h0M273.1 125.8h0M228.6 62.6h0M280.7 91.3h0M114.5 194.9h0M323.1 163.1h0M232.5 210.1h0M284.3 107.9h0M265.6 122.1h0M174.9 94.5h0M287.7 167.6h0M119.9 121.9h0M270.8 118.2h0M204.6 111.3h0M212 209.6h0M207.8 123.1h0M296.9 144.8h0M283 112.4h0M209.5 197.8h0M228.4 65.1h0M164 271.6h0M308.9 103.3h0M162.6 142.4h0M131.8 131.2h0M277.7 112.3h0M243.9 74.8h0M261.2 69.1h0M229.8 288.2h0" stroke="#0000CD"/>
<path d="M270.9 149.6h0M288.8 181.9h0M262.3 225.1h0M224.4 201.3h0M192.3 86.6h0M264.2 221.5h0M242.1 209.1h0M157 89.8h0M147.8 107.7h0M320.9 197h0M167.2 161.8h0M163 150.3h0M335.2 189.6h0M120.1 149.8h0M282.8 275h0M214.3 123.7h0M256.4 132.4h0M213.4 63.3h0M215.5 93.1h0M221 116.9h0M294.6 177.8h0M235.9 207h0M278.7 225.4h0M170.3 108h0M236.4 114.8h0M202 126h0M206.2 81.6h0M305.8 250.7h0M255.5 219.4h0M168.6 168.5h0M164.7 120.7h0M256.2 118.5h0M252.7 234.4h0M272.6 83h0M289.1 182.1h0M305.3 174h0M248.5 217h0M107.2 120.5h0M198.2 190.8h0M260.4 127.8h0M260.7 151.9h0M262.5 228.6h0M309.8 107.6h0M120 145.6h0M311.7 263.3h0M298.8 197h0M252.7 124.5h0M242.8 240.2h0M235.4 264.9h0M318.6 239.1h0M203 192.8h0M272.7 238.9h0M196.1 130.6h0M215.9 128.6h0M320.9 173.2h0M148.9 151.6h0M284.9 172.1h0M134.8 104h0M169.8 117.8h0M284.2 165.1h0M121 101.9h0M283.8 158.6h0M141.7 105.6h0M166.2 137.7h0M220.9 126.1h0M255.1 133.1h0M252.2 115.7h0M280.8 177.7h0M230.8 279.9h0M212.9 127.4h0M279.9 269.6h0M178.7 82.4h0M179.4 187.8h0M152 88.6h0M223.6 204.9h0M317.7 210.3h0M310.8 236h0M172.4 168.4h0M251.7 281.9h0M285.9 152.2h0M178.7 86h0M260 140.9h0M258.9 229.3h0M248.7 220.2h0M168.6 139.6h0M287 178h0M173.5 104.2h0M228.5 122.1h0M298.3 86h0M298.6 283.3h0M325.3 210h0M270.6 158.1h0M195.9 71.2h0M303.7 171.2h0M308 205.9h0M290 181.1h0M187.4 126.8h0M213.7 101.4h0M116.1 147.7h0M168.7 101.8h0M310.7 104.9h0M313.7 171.5h0M198.6 190.3h0M288.1 187.7h0M195.3 93.2h0M162.4 102.9h0M212.5 86.4h0M302.3 171.9h0M160.9 115.1h0M221.2 100.4h0M169.9 121.7h0M280 180.5h0M211.3 87.7h0M156.2 115.7h0M161.3 109.7h0M192.8 127.6h0M328.8 173.3h0M291.7 180h0M234.1 118.1h0M299.1 90.2h0M280.5 165.7h0M170.4 175.6h0M277 229.1h0M167.1 82.1h0M258.4 225.4h0M166.5 163h0M191.5 122.3h0M204.6 121.8h0M163.6 133.4h0M249.3 219.8h0M291.3 179.4h0M294.4 131.8h0M258.2 221.7h0M261.4 125.9h0M241.4 100.2h0M159.3 153.5h0M167.6 102.9h0M280.9 178.4h0M260.2 278.8h0M160.4 135.9h0M229 203.6h0M232.5 290.1h0M161 114.5h0M323.1 167.4h0M214.9 81.4h0M300.5 254.3h0M168.8 151.2h0M188.8 127.2h0M245.3 235.5h0M264.5 134.9h0M165.8 155.4h0M291.2 241.8h0M326.3 187.1h0M319.3 165.5h0M297.3 182.1h0M201.8 71.4h0M286.7 227.3h0M304.7 249h0M266.3 154.8h0M305.2 182.4h0M235.1 117.3h0M275.1 223.2h0M274.8 225.1h0M178.1 98.5h0M270.1 226.2h0M206.2 83.9h0M214.7 95h0M203.3 131.6h0M237.2 108.3h0M288.5 182.6h0M165.2 126.6h0M157.2 147h0M256.1 123.5h0M149.9 103.3h0M248 115h0M168.1 102.3h0M247.4 279.9h0M175.1 119.9h0M235.2 202.8h0M103.8 126.3h0M246.2 279.7h0M272.1 163h0M208.2 89.1h0M209.4 83.7h0M283 181.4h0M276.3 173.6h0M212.1 190.5h0M336.6 213.6h0M274.4 80.4h0M301.3 142.3h0M330.9 210.6h0M232.9 105.5h0M290.6 101.6h0M165.3 83.8h0M236.3 116.5h0M281.6 232.7h0M290.2 183h0M172 170.4h0M254.6 127.3h0M324.6 202.1h0M230.9 109.5h0M229.9 199.2h0M272.4 164.7h0M276.3 173.7h0M260.1 230.7h0M275.1 284.6h0M149.4 113.1h0M287.7 163.9h0M195.7 125.9h0M241.6 263.1h0M215.4 197.8h0M274.5 147.8h0M306.8 234h0M264.6 228.3h0M249.7 252.2h0" stroke="#FF3300"/>
<path d="M192.9 120.9h0M228.4 203.7h0M217.7 118.7h0M237.4 264.3h0M300.5 198.9h0M253.7 225.4h0M189.3 191.4h0M265.5 76.6h0M304.8 249.7h0M297.6 193.3h0M210.6 93.6h0M309.7 169.2h0M314 195.3h0M189.3 128.5h0M327.1 138.2h0M262.9 110.4h0M269.7 224.8h0M217.8 69.7h0M276.6 169.1h0M249.2 117.8h0M285.5 191h0M159.1 88.1h0M285.3 272.7h0M200.1 193.3h0M333.9 179.8h0M207.7 192.6h0M328.9 167.1h0M172.7 95.9h0M244.1 246.2h0M236.7 266h0M189.7 120.6h0M263.4 151.4h0M215 118.9h0M305.2 131.2h0M233.5 100.4h0M241.9 103.6h0M236.2 112.5h0M265.5 230.3h0M241.2 253.9h0M297.2 228.2h0M290.9 268.3h0M218.7 93.7h0M213.9 196.2h0M260 272.3h0M311.2 245.5h0M176 128.5h0M220.3 122.4h0M161 100.8h0M208.4 90.3h0M342.8 230.9h0M275.9 169.7h0M243.9 211.2h0M259.4 280.9h0M333.5 208.2h0M251.9 275.4h0M237.5 103.9h0M194.5 128.5h0M167.3 141.5h0M318.6 171.8h0M286 121.6h0M264.4 128.4h0M227 86h0M183.6 128.2h0M227.8 281.1h0M170 158.9h0M310 172.7h0M295.5 163.1h0M314.4 211.3h0M278.3 225.2h0M262.7 127.8h0M318.4 206.1h0M169 115.5h0M287.2 192.7h0M219.3 97.7h0M334.2 178.6h0M249.5 212.6h0M247 284.6h0M255.5 111.3h0M215.2 204.6h0M318.6 205.7h0M239.4 250.2h0M299.6 239.2h0M213.5 93h0M264.1 248.7h0M167.9 116.4h0M334.2 141.6h0M288.1 271.4h0M280.3 279.4h0M177.3 128.2h0M291.7 235.3h0M259.3 147h0M243.2 246.1h0M135.7 162.9h0M202.5 127.4h0M241.6 73.2h0M233.5 105.2h0M164.6 89.9h0M294.6 258.6h0M243.5 101.1h0M263.1 130.1h0M282.2 230.4h0M160.4 142.8h0M287.3 161h0M215.9 122.9h0M262.4 136.1h0M291.9 260.4h0M271.1 151.8h0M234.1 113.1h0M167 98h0M311.7 174h0M171.3 162.7h0M240.5 209.4h0M287.8 169.3h0M186.9 74.3h0M309.5 232.6h0M190 192.2h0M170.2 170.5h0M285.7 230.1h0M242 247.8h0M278.6 165.7h0M278.4 234.5h0M297.5 261.5h0M294.7 185.9h0M295 257.1h0M164.1 105.1h0M310 201.5h0M232.2 113.5h0M243.1 278.5h0M237.4 64h0M278.3 153.1h0M329.4 138.8h0M215.7 201.6h0M217.7 200.8h0M251.9 213.6h0M357.2 217.1h0M223.6 108.3h0M290.7 168.8h0M221.3 123h0M171.1 112.6h0M122.7 145h0M250.9 230.2h0M302.9 179.6h0M162 88.3h0M246.9 225.7h0M244.8 211.6h0M117.6 120.7h0M247.8 122.5h0M285.1 167.4h0M185.8 186.7h0M322.2 168.8h0M302.5 232.6h0M310.5 238.5h0M109.7 118h0M154.4 153.9h0M285.7 190.1h0M196.6 82.2h0M264.4 226h0M297.7 192.1h0M167.1 98.4h0M217.3 66.2h0M285.9 190.5h0M123.6 122.1h0M331 214.4h0M330 202.3h0M262.5 222h0M176.7 79.7h0M185.8 74.3h0M261.6 224.2h0M256 134.9h0M289.8 177.7h0M268.1 153.5h0M222.5 126.2h0M237.6 103.2h0M235 110h0M252.8 214.6h0M210.5 128.3h0M221.4 102.4h0M313.3 168h0M259.2 108.8h0M216.2 126.4h0M174.2 102.2h0M279.7 184.3h0M256.1 115.8h0M273.4 245.6h0M179.7 78.8h0M268.3 145.8h0M239.1 110h0M221 105.9h0M331.1 215.1h0M208.8 84.8h0M213.2 99.3h0M164.5 135.7h0M318.1 214.3h0M269.9 149h0M251.6 261.9h0M200.4 74h0M258.6 135.9h0M236.8 106.4h0M283.7 235.2h0M336.6 188.2h0M278.7 145h0M248.1 220.8h0M277.2 180h0M237.3 251.8h0M281.6 271.3h0M256.6 138.8h0M235 284.7h0M170.7 169.6h0M328.6 204.9h0M145 151.2h0M236.8 112.9h0M265.3 151.1h0M196.9 66h0M263.9 136h0M298.3 188.2h0M222.4 77h0M297 190.2h0M301 181h0M292.8 266.9h0M185.4 126.6h0M295.2 268.8h0M272.6 284.2h0M206.4 86.4h0M304.6 196.5h0" stroke="#FF3300"/>
<path d="M162.2 170.4h0M257.3 93h0M287.4 112h0M146.9 161.5h0M282.1 144.9h0M216.8 210.7h0M188.7 194.6h0M318.7 112.5h0M295.7 185.4h0M221.9 108h0M225.7 277.5h0M269.3 137.8h0M316.9 155.1h0M233.1 92.5h0M277.3 259.4h0M242.4 236.4h0M109.8 176.8h0M313 166.6h0M220 117.5h0M140.7 165.3h0M263.7 106.6h0M243.3 234.9h0M247.5 267.7h0M294.1 164.1h0M119.2 167.9h0M317.4 122.1h0M208 291.2h0M274.2 125.9h0M324.1 107.4h0M238 212.3h0M120 157.9h0M260.2 249.2h0M251.7 57.8h0M223.5 114.7h0M320.6 161.1h0M252.9 106.4h0M273.5 117.8h0M239.2 244h0M278.8 86.5h0M288.8 124.3h0M233.1 102.9h0M239.1 245.3h0M228.4 288.7h0M312.4 108.4h0M92.8 189.5h0M271.8 125h0M258.2 99.6h0M217.5 208.1h0M246 96.2h0M211 106.1h0M267.6 146.1h0M319.3 165.4h0M232.1 295.2h0M123.5 148.9h0M147.1 112h0M144.5 147h0M234.9 85.6h0M233.6 96.8h0M233.5 274.8h0M228.3 264.6h0M265.1 109.2h0M181.8 194.1h0M218.2 95h0M262.3 137.5h0M298.2 119.2h0M116.3 123.4h0M318.8 164h0M255.1 95.5h0M296.5 173h0M225.8 208.4h0M227 80.7h0M204.6 121.6h0M206.9 290.1h0M219.2 81h0M262.5 275.9h0M340 181.9h0M309.7 250.9h0M267 122.5h0M270.5 135h0M257.5 230.6h0M168.6 186.9h0M159.2 127.9h0M213.1 209.4h0M124.7 129.8h0M275.7 122.5h0M151 150.2h0M273.7 131.7h0M333.1 172.6h0M122.5 224.7h0M255.5 96.3h0M114.8 150.7h0M295.8 242.7h0M183.2 112.1h0M262.9 243h0M240.5 94.4h0M169.9 187.8h0M189.9 197.6h0M289.6 248.3h0M119.6 164.9h0M136 158h0M172.3 192.3h0M264.6 118.4h0M225.1 79.5h0M153.6 261.7h0M262 121.8h0M229.1 296.4h0M141.3 102.4h0M165.3 167.3h0M324.7 137.4h0M278.3 118.6h0M312 101.5h0M126.3 163.2h0M221.4 209.1h0M111 181h0M107.4 180.4h0M127 234.8h0M302.2 248.4h0M226.2 266.9h0M128.1 166.2h0M248.9 97.6h0M166.3 92.1h0M159.4 146.6h0M235.5 268.8h0M178.8 192.9h0M310.7 131.2h0M337.4 143.8h0M314.3 241.6h0M228.4 266.1h0M233 65h0M316.1 118.8h0M325.3 162.1h0M151 152.9h0M290.3 249.3h0M99 172.9h0M94.8 173.6h0M303.7 185.7h0M199.7 308.1h0M215 211.7h0M231.8 283h0M316.2 125.5h0M174.5 84.7h0M117.6 207.9h0M163.8 122.9h0M169.2 95h0M325.9 169.7h0M245.8 96.4h0M275.4 263.3h0M340 181.9h0M183.4 281.2h0M265.8 108.8h0M262.9 142h0M190.5 197.2h0M315.2 116.7h0M115.5 123.3h0M244.6 105.8h0M162.6 123.4h0M296.1 240.4h0M110.6 194.8h0M298.6 184.1h0M255.4 115.2h0M243.6 234.2h0M146.1 92.8h0M243.7 214.6h0M262.1 101.4h0M232.2 270.5h0M291.8 236.7h0M263.7 142.5h0M142.1 114.7h0M314 107.3h0M115.5 245.3h0M315.8 130.1h0M187 286.3h0M300.8 154.1h0M244.8 234.3h0M189.5 197h0M340 157.8h0M222.1 86.9h0M297.5 234h0M270.5 132.1h0M129.3 117.6h0M220 301.9h0M244.5 103.1h0M204.3 116.5h0M135.8 109.9h0M259.3 81.8h0" stroke="#0000CD"/>
</g></g>
<text class="t" transform="translate(464.6 876.4) scale(1.0 1.0)">g.opt</text>
<rect x="541.4" y="845" width="40.3" height="41.2" fill="#F2F2F2"/>
<circle cx="561.5" cy="866" r="5" fill="#0000CD"/>
<text class="a" transform="translate(595.4 876.9) scale(1.0 1.04)">0</text>
<rect x="625.4" y="845" width="40.3" height="41.2" fill="#F2F2F2"/>
<circle cx="645.6" cy="866" r="5" fill="#FF3300"/>
<text class="a" transform="translate(679.2 876.9) scale(1.0 1.04)">1</text>
</svg></body></html>
